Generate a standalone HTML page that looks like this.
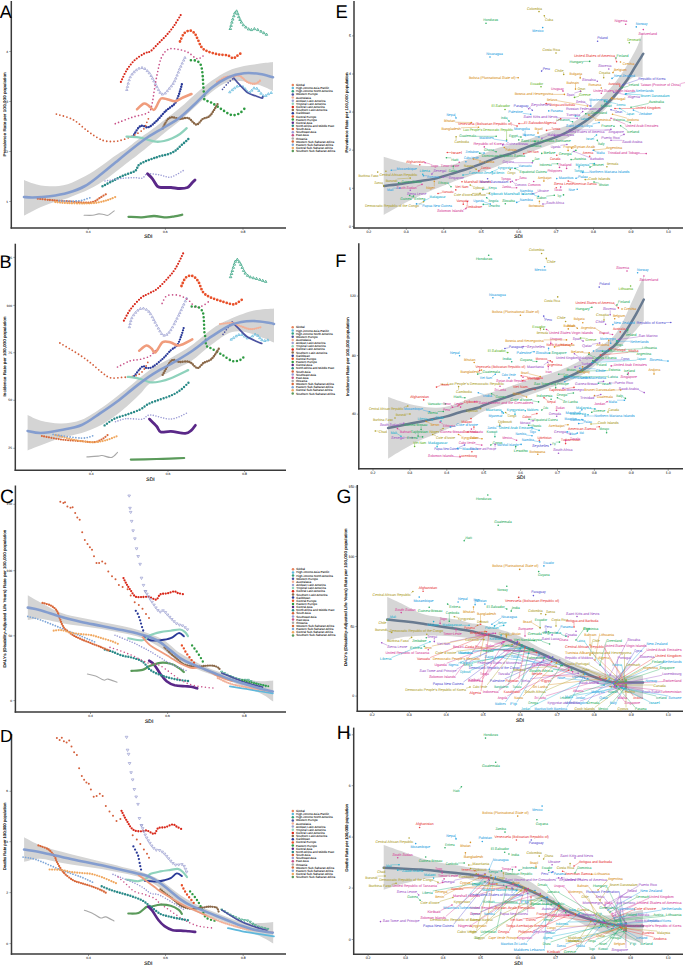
<!DOCTYPE html><html><head><meta charset="utf-8"><style>html,body{margin:0;padding:0;background:#fff;width:685px;height:966px;overflow:hidden}svg{display:block}text{font-family:"Liberation Sans",sans-serif;text-rendering:geometricPrecision}</style></head><body>
<svg width="685" height="966" viewBox="0 0 685 966">
<rect width="685" height="966" fill="#fff"/>
<path d="M24.0,180.0 C25.4,180.6 29.7,182.4 32.5,183.3 C35.3,184.2 38.1,185.1 41.0,185.6 C43.9,186.1 47.0,186.2 50.0,186.3 C53.0,186.4 56.1,186.3 59.0,186.0 C61.9,185.7 64.8,185.1 67.6,184.2 C70.4,183.3 73.1,182.0 76.0,180.7 C78.9,179.4 82.0,177.9 85.0,176.3 C88.0,174.7 91.1,172.9 94.0,171.0 C96.9,169.1 99.8,167.0 102.6,165.0 C105.4,163.0 108.1,160.9 111.0,158.8 C113.9,156.7 117.3,154.4 120.0,152.6 C122.7,150.8 123.7,150.6 127.0,148.2 C130.3,145.8 136.2,140.9 140.0,138.0 C143.8,135.1 146.7,133.4 150.0,131.0 C153.3,128.6 155.0,127.4 160.0,123.5 C165.0,119.6 174.0,112.8 180.0,107.8 C186.0,102.8 190.7,98.0 196.0,93.4 C201.3,88.9 206.7,84.2 212.0,80.5 C217.3,76.8 222.7,73.3 228.0,70.9 C233.3,68.5 238.7,67.2 244.0,66.0 C249.3,64.8 255.2,64.3 260.0,63.6 C264.8,62.9 270.8,62.3 273.0,62.0 L273.0,91.0 C270.8,90.0 264.8,86.9 260.0,85.3 C255.2,83.7 249.3,81.8 244.0,81.3 C238.7,80.8 233.3,80.2 228.0,82.0 C222.7,83.8 217.3,87.8 212.0,91.8 C206.7,95.8 201.3,101.2 196.0,106.0 C190.7,110.8 185.2,116.3 180.0,120.7 C174.8,125.1 170.0,128.4 165.0,132.5 C160.0,136.6 155.0,140.9 150.0,145.0 C145.0,149.1 138.5,154.3 135.0,157.0 C131.5,159.7 131.5,159.5 129.0,161.4 C126.5,163.3 123.0,166.1 120.0,168.4 C117.0,170.7 113.9,173.2 111.0,175.4 C108.1,177.6 105.4,179.6 102.6,181.5 C99.8,183.4 96.9,185.2 94.0,186.8 C91.1,188.4 88.0,189.9 85.0,191.2 C82.0,192.5 78.9,193.5 76.0,194.7 C73.1,195.9 70.4,197.2 67.6,198.2 C64.8,199.2 61.9,199.9 59.0,200.8 C56.1,201.7 53.0,202.4 50.0,203.4 C47.0,204.4 43.9,205.7 41.0,207.0 C38.1,208.3 35.3,209.9 32.5,211.3 C29.7,212.8 25.4,215.0 24.0,215.7 Z" fill="#d4d4d4" stroke="none"/>
<path d="M120.9,81.9 C121.9,79.9 124.5,73.6 126.8,70.0 C129.1,66.4 131.7,63.0 134.7,60.2 C137.7,57.4 142.0,54.8 144.6,53.3 C147.2,51.8 148.2,52.9 150.5,51.3 C152.8,49.6 155.8,46.0 158.4,43.4 C161.0,40.8 163.6,38.5 166.2,35.5 C168.8,32.5 171.5,29.5 174.1,25.7 C176.7,21.9 180.7,15.0 182.0,12.9" fill="none" stroke="#D8281A" stroke-width="2.16" stroke-linecap="round" stroke-dasharray="0 2.86" opacity="1.00"/>
<path d="M180.0,41.5 C180.7,40.2 182.3,35.4 184.0,33.6 C185.7,31.8 188.1,30.6 189.9,30.6 C191.7,30.6 193.5,32.1 194.8,33.6 C196.1,35.1 196.7,37.2 197.8,39.5 C199.0,41.8 200.1,45.4 201.7,47.4 C203.3,49.4 205.0,50.1 207.6,51.3 C210.2,52.4 214.2,53.6 217.5,54.3 C220.8,55.0 224.7,54.6 227.3,55.3 C229.9,55.9 231.5,58.1 233.2,58.2 C234.8,58.3 235.7,56.8 237.2,55.8 C238.7,54.8 241.3,52.9 242.1,52.3" fill="none" stroke="#E8502A" stroke-width="2.76" stroke-linecap="round" stroke-dasharray="0 3.30" opacity="1.00"/>
<path d="M126.8,88.5 L128.0,90.5 L125.6,90.5 Z" fill="none" stroke="#9DA1D2" stroke-width="0.75"/>
<path d="M127.5,85.4 L128.7,87.4 L126.3,87.4 Z" fill="none" stroke="#9DA1D2" stroke-width="0.75"/>
<path d="M128.2,82.2 L129.4,84.2 L127.0,84.2 Z" fill="none" stroke="#9DA1D2" stroke-width="0.75"/>
<path d="M129.1,78.8 L130.3,80.8 L127.9,80.8 Z" fill="none" stroke="#9DA1D2" stroke-width="0.75"/>
<path d="M130.3,75.8 L131.4,77.8 L129.1,77.8 Z" fill="none" stroke="#9DA1D2" stroke-width="0.75"/>
<path d="M132.1,73.0 L133.3,75.0 L130.9,75.0 Z" fill="none" stroke="#9DA1D2" stroke-width="0.75"/>
<path d="M134.1,70.7 L135.3,72.8 L132.9,72.8 Z" fill="none" stroke="#9DA1D2" stroke-width="0.75"/>
<path d="M136.4,68.8 L137.5,70.8 L135.2,70.8 Z" fill="none" stroke="#9DA1D2" stroke-width="0.75"/>
<path d="M139.0,67.1 L140.2,69.1 L137.8,69.1 Z" fill="none" stroke="#9DA1D2" stroke-width="0.75"/>
<path d="M142.0,66.4 L143.2,68.5 L140.9,68.5 Z" fill="none" stroke="#9DA1D2" stroke-width="0.75"/>
<path d="M144.8,67.5 L146.0,69.5 L143.6,69.5 Z" fill="none" stroke="#9DA1D2" stroke-width="0.75"/>
<path d="M147.3,69.6 L148.5,71.6 L146.1,71.6 Z" fill="none" stroke="#9DA1D2" stroke-width="0.75"/>
<path d="M149.3,71.8 L150.5,73.8 L148.1,73.8 Z" fill="none" stroke="#9DA1D2" stroke-width="0.75"/>
<path d="M151.1,74.5 L152.3,76.5 L149.9,76.5 Z" fill="none" stroke="#9DA1D2" stroke-width="0.75"/>
<path d="M152.5,77.1 L153.7,79.2 L151.3,79.2 Z" fill="none" stroke="#9DA1D2" stroke-width="0.75"/>
<path d="M153.9,79.8 L155.1,81.9 L152.7,81.9 Z" fill="none" stroke="#9DA1D2" stroke-width="0.75"/>
<path d="M155.4,82.6 L156.6,84.6 L154.2,84.6 Z" fill="none" stroke="#9DA1D2" stroke-width="0.75"/>
<path d="M157.0,85.6 L158.1,87.7 L155.8,87.7 Z" fill="none" stroke="#9DA1D2" stroke-width="0.75"/>
<path d="M158.5,88.6 L159.7,90.6 L157.3,90.6 Z" fill="none" stroke="#9DA1D2" stroke-width="0.75"/>
<path d="M160.1,91.2 L161.3,93.3 L158.9,93.3 Z" fill="none" stroke="#9DA1D2" stroke-width="0.75"/>
<path d="M162.4,92.9 L163.6,95.0 L161.2,95.0 Z" fill="none" stroke="#9DA1D2" stroke-width="0.75"/>
<path d="M165.2,92.0 L166.4,94.0 L164.0,94.0 Z" fill="none" stroke="#9DA1D2" stroke-width="0.75"/>
<path d="M167.3,89.7 L168.4,91.7 L166.1,91.7 Z" fill="none" stroke="#9DA1D2" stroke-width="0.75"/>
<path d="M169.3,87.2 L170.5,89.3 L168.1,89.3 Z" fill="none" stroke="#9DA1D2" stroke-width="0.75"/>
<path d="M171.3,84.9 L172.5,86.9 L170.1,86.9 Z" fill="none" stroke="#9DA1D2" stroke-width="0.75"/>
<path d="M173.1,82.4 L174.3,84.4 L171.9,84.4 Z" fill="none" stroke="#9DA1D2" stroke-width="0.75"/>
<path d="M174.6,79.8 L175.8,81.8 L173.4,81.8 Z" fill="none" stroke="#9DA1D2" stroke-width="0.75"/>
<path d="M175.8,77.1 L177.0,79.1 L174.6,79.1 Z" fill="none" stroke="#9DA1D2" stroke-width="0.75"/>
<path d="M177.0,74.1 L178.2,76.1 L175.9,76.1 Z" fill="none" stroke="#9DA1D2" stroke-width="0.75"/>
<path d="M178.3,71.0 L179.5,73.1 L177.1,73.1 Z" fill="none" stroke="#9DA1D2" stroke-width="0.75"/>
<path d="M179.5,68.0 L180.7,70.1 L178.3,70.1 Z" fill="none" stroke="#9DA1D2" stroke-width="0.75"/>
<path d="M180.8,65.2 L182.0,67.2 L179.6,67.2 Z" fill="none" stroke="#9DA1D2" stroke-width="0.75"/>
<path d="M182.2,62.1 L183.4,64.1 L181.0,64.1 Z" fill="none" stroke="#9DA1D2" stroke-width="0.75"/>
<path d="M183.6,59.1 L184.8,61.1 L182.5,61.1 Z" fill="none" stroke="#9DA1D2" stroke-width="0.75"/>
<path d="M184.9,56.4 L186.1,58.4 L183.7,58.4 Z" fill="none" stroke="#9DA1D2" stroke-width="0.75"/>
<path d="M115.3,123.7 C118.1,122.6 126.5,119.2 132.0,117.3 C137.5,115.4 144.9,114.7 148.2,112.5 C151.5,110.3 151.0,107.8 152.0,104.0 C153.0,100.2 153.5,94.9 154.4,89.7 C155.3,84.5 156.2,78.3 157.4,73.0 C158.6,67.7 159.5,61.8 161.3,57.8 C163.1,53.8 165.4,50.7 168.2,49.3 C171.0,47.9 174.8,48.8 178.1,49.3 C181.4,49.8 184.9,50.8 187.9,52.3 C190.9,53.8 193.7,57.3 195.8,58.2 C197.9,59.1 199.2,58.4 200.7,57.8 C202.2,57.1 204.0,54.9 204.7,54.3" fill="none" stroke="#C85088" stroke-width="1.68" stroke-linecap="round" stroke-dasharray="0 3.52" opacity="1.00"/>
<path d="M190.9,60.2 C191.7,60.3 194.3,60.1 195.8,60.6 C197.3,61.1 198.7,61.9 199.7,63.1 C200.7,64.3 201.2,65.9 201.7,68.1 C202.2,70.2 202.4,73.0 202.7,76.0 C203.0,79.0 203.0,82.3 203.3,85.8 C203.6,89.3 204.0,94.6 204.3,97.0 C204.6,99.4 203.7,99.0 205.0,100.0 C206.3,101.0 209.2,101.4 212.0,103.0 C214.8,104.6 218.6,107.4 221.8,109.4 C225.0,111.4 228.5,114.3 231.4,115.0 C234.3,115.7 237.1,114.6 239.4,113.4 C241.7,112.2 244.1,109.0 245.0,108.1" fill="none" stroke="#2E9A42" stroke-width="2.64" stroke-linecap="round" stroke-dasharray="0 3.85" opacity="1.00"/>
<path d="M230.3,27.3 L231.6,29.5 L229.0,29.5 Z" fill="none" stroke="#30A07E" stroke-width="0.75"/>
<path d="M231.1,24.3 L232.3,26.4 L229.8,26.4 Z" fill="none" stroke="#30A07E" stroke-width="0.75"/>
<path d="M231.9,21.0 L233.1,23.2 L230.6,23.2 Z" fill="none" stroke="#30A07E" stroke-width="0.75"/>
<path d="M232.8,17.9 L234.0,20.1 L231.5,20.1 Z" fill="none" stroke="#30A07E" stroke-width="0.75"/>
<path d="M233.8,14.7 L235.1,16.8 L232.6,16.8 Z" fill="none" stroke="#30A07E" stroke-width="0.75"/>
<path d="M234.8,11.8 L236.1,13.9 L233.6,13.9 Z" fill="none" stroke="#30A07E" stroke-width="0.75"/>
<path d="M236.6,9.8 L237.8,11.9 L235.3,11.9 Z" fill="none" stroke="#30A07E" stroke-width="0.75"/>
<path d="M237.8,12.5 L239.0,14.7 L236.5,14.7 Z" fill="none" stroke="#30A07E" stroke-width="0.75"/>
<path d="M238.8,15.6 L240.0,17.7 L237.5,17.7 Z" fill="none" stroke="#30A07E" stroke-width="0.75"/>
<path d="M240.0,18.3 L241.3,20.5 L238.8,20.5 Z" fill="none" stroke="#30A07E" stroke-width="0.75"/>
<path d="M241.4,21.0 L242.6,23.1 L240.1,23.1 Z" fill="none" stroke="#30A07E" stroke-width="0.75"/>
<path d="M243.3,23.7 L244.6,25.8 L242.1,25.8 Z" fill="none" stroke="#30A07E" stroke-width="0.75"/>
<path d="M245.8,25.9 L247.1,28.0 L244.6,28.0 Z" fill="none" stroke="#30A07E" stroke-width="0.75"/>
<path d="M248.6,27.7 L249.8,29.9 L247.3,29.9 Z" fill="none" stroke="#30A07E" stroke-width="0.75"/>
<path d="M251.4,28.4 L252.7,30.6 L250.2,30.6 Z" fill="none" stroke="#30A07E" stroke-width="0.75"/>
<path d="M254.4,27.5 L255.7,29.7 L253.2,29.7 Z" fill="none" stroke="#30A07E" stroke-width="0.75"/>
<path d="M257.7,28.4 L259.0,30.6 L256.5,30.6 Z" fill="none" stroke="#30A07E" stroke-width="0.75"/>
<path d="M260.9,30.0 L262.2,32.2 L259.7,32.2 Z" fill="none" stroke="#30A07E" stroke-width="0.75"/>
<path d="M263.7,31.6 L265.0,33.7 L262.5,33.7 Z" fill="none" stroke="#30A07E" stroke-width="0.75"/>
<path d="M266.5,33.1 L267.7,35.3 L265.2,35.3 Z" fill="none" stroke="#30A07E" stroke-width="0.75"/>
<path d="M132.9,136.6 C133.8,135.1 136.9,129.5 138.5,127.7 C140.1,125.9 141.0,125.8 142.6,125.7 C144.2,125.6 145.9,128.0 148.2,127.3 C150.5,126.6 153.3,124.0 156.2,121.3 C159.1,118.6 162.7,113.8 165.8,110.9 C168.9,108.0 172.7,106.0 174.7,103.7 C176.7,101.4 177.0,99.5 177.9,97.2 C178.8,94.9 179.6,92.2 180.3,90.0 C181.0,87.8 181.7,84.8 182.0,83.8" fill="none" stroke="#2A3A98" stroke-width="2.40" stroke-linecap="round" stroke-dasharray="0 2.42" opacity="1.00"/>
<path d="M137.0,109.3 C138.1,108.4 141.5,104.4 143.4,103.7 C145.3,103.0 146.5,104.2 148.2,105.3 C149.9,106.3 152.3,110.0 153.8,110.0 C155.3,110.0 155.8,107.2 157.0,105.3 C158.2,103.4 159.2,99.5 161.0,98.5 C162.8,97.5 165.6,99.0 168.0,99.5 C170.4,100.0 173.0,101.5 175.5,101.2 C178.0,100.9 180.3,98.7 183.0,97.5 C185.7,96.3 190.1,94.6 191.5,94.0" fill="none" stroke="#F09C7C" stroke-width="2.52" stroke-linecap="round" stroke-linejoin="round" opacity="1.00"/>
<path d="M56.4,114.1 C59.2,115.0 67.8,116.8 73.0,119.6 C78.2,122.4 83.2,127.8 87.4,130.9 C91.6,134.0 94.9,136.3 98.0,138.0 C101.1,139.7 102.5,140.6 105.8,141.1 C109.1,141.6 113.6,141.8 118.0,141.0 C122.4,140.2 128.2,137.9 132.4,136.0 C136.6,134.1 141.0,131.5 143.4,129.3 C145.8,127.1 145.7,124.9 146.6,122.9 C147.5,120.9 148.6,118.2 149.0,117.3" fill="none" stroke="#D4603C" stroke-width="1.80" stroke-linecap="round" stroke-dasharray="0 3.63" opacity="1.00"/>
<path d="M126.5,136.6 C128.5,136.7 134.9,136.9 138.5,137.4 C142.1,137.9 145.2,139.1 148.2,139.8 C151.1,140.5 153.6,141.5 156.2,141.7 C158.8,141.9 161.3,141.6 164.0,141.0 C166.7,140.4 169.6,139.4 172.3,138.2 C175.0,137.0 177.6,135.7 180.0,134.0 C182.4,132.3 185.6,129.2 186.7,128.2" fill="none" stroke="#8ED2BC" stroke-width="2.28" stroke-linecap="round" stroke-linejoin="round" opacity="1.00"/>
<path d="M162.6,128.5 C163.4,127.0 165.8,121.6 167.4,119.7 C169.0,117.8 170.2,117.4 172.3,117.3 C174.5,117.2 177.6,118.8 180.3,118.9 C183.0,119.0 185.6,117.2 188.3,118.1 C191.0,119.0 194.0,124.4 196.4,124.5 C198.8,124.6 200.5,120.4 202.8,118.9 C205.1,117.4 207.5,118.2 210.0,115.7 C212.5,113.2 216.4,105.8 217.7,103.8" fill="none" stroke="#8A6848" stroke-width="2.40" stroke-linecap="round" stroke-dasharray="0 2.20" opacity="1.00"/>
<path d="M102.5,186.3 C104.3,185.4 109.6,182.5 113.1,180.7 C116.6,178.9 119.9,177.0 123.6,175.4 C127.2,173.8 132.2,172.9 135.0,171.0 C137.8,169.1 136.6,166.2 140.1,163.9 C143.6,161.6 150.8,159.3 156.2,157.4 C161.6,155.5 168.3,154.5 172.3,152.6 C176.3,150.7 177.6,148.5 180.3,146.2 C183.0,143.9 187.0,140.2 188.3,139.0" fill="none" stroke="#2A8A88" stroke-width="2.52" stroke-linecap="round" stroke-dasharray="0 2.86" opacity="1.00"/>
<path d="M105.0,181.0 C107.2,180.7 114.7,179.4 118.4,178.9 C122.1,178.4 124.3,178.2 127.1,178.0 C129.9,177.8 132.4,177.7 135.0,177.7 C137.6,177.7 140.4,178.7 142.5,178.0 C144.6,177.3 144.6,174.3 147.5,173.8 C150.4,173.3 156.1,174.5 160.0,175.0 C163.9,175.5 166.8,177.9 171.0,177.0 C175.2,176.1 182.7,170.8 185.0,169.5" fill="none" stroke="#9898D4" stroke-width="1.56" stroke-linecap="round" stroke-dasharray="0 2.64" opacity="1.00"/>
<path d="M147.5,173.8 C148.3,174.6 150.8,176.7 152.5,178.8 C154.2,180.9 155.8,184.9 157.5,186.3 C159.2,187.8 160.2,187.3 162.5,187.5 C164.8,187.7 168.1,187.3 171.0,187.5 C173.9,187.7 177.2,188.5 180.0,188.5 C182.8,188.5 185.5,188.4 187.5,187.5 C189.5,186.6 190.8,184.2 192.0,183.0 C193.2,181.8 194.5,180.5 195.0,180.0" fill="none" stroke="#5A2888" stroke-width="2.88" stroke-linecap="round" stroke-linejoin="round" opacity="1.00"/>
<path d="M84.1,215.3 C85.5,215.3 90.2,215.5 92.7,215.3 C95.2,215.1 96.9,214.0 98.8,213.9 C100.7,213.8 102.5,214.3 104.0,214.5 C105.5,214.7 106.3,215.9 108.0,215.3 C109.7,214.7 113.2,211.6 114.2,210.8" fill="none" stroke="#A8A8A8" stroke-width="1.08" stroke-linecap="round" stroke-linejoin="round" opacity="1.00"/>
<path d="M128.5,216.8 C130.7,216.9 137.4,217.5 141.7,217.4 C145.9,217.3 149.9,216.0 154.0,216.0 C158.1,216.0 162.9,217.3 166.3,217.4 C169.7,217.5 171.8,216.8 174.4,216.3 C177.1,215.9 180.9,215.0 182.2,214.7" fill="none" stroke="#5A9A5A" stroke-width="2.28" stroke-linecap="round" stroke-linejoin="round" opacity="1.00"/>
<path d="M37.8,198.7 C39.8,198.9 46.5,199.7 50.0,200.0 C53.5,200.3 55.9,200.6 58.8,200.8 C61.7,201.0 64.7,201.1 67.6,201.3 C70.5,201.5 73.4,201.8 76.3,202.0 C79.2,202.2 82.7,202.5 85.0,202.6 C87.3,202.7 88.5,202.9 90.3,202.6 C92.1,202.3 93.8,201.7 95.6,200.8 C97.3,199.9 99.0,198.4 100.8,197.3 C102.5,196.2 105.2,194.6 106.1,194.1" fill="none" stroke="#D8683A" stroke-width="2.28" stroke-linecap="round" stroke-dasharray="0 2.42" opacity="1.00"/>
<path d="M55.3,202.0 C57.3,202.2 62.6,202.9 67.6,203.1 C72.5,203.3 80.0,203.5 85.0,203.4 C90.0,203.3 93.5,203.2 97.3,202.6 C101.1,202.0 104.7,201.0 107.9,200.0 C111.1,199.0 115.1,197.0 116.6,196.4" fill="none" stroke="#F0A860" stroke-width="2.28" stroke-linecap="round" stroke-dasharray="0 2.42" opacity="1.00"/>
<path d="M58.8,200.8 C61.1,200.9 69.0,201.2 72.8,201.2 C76.6,201.1 79.3,200.9 81.6,200.5 C83.9,200.1 85.0,199.2 86.8,198.7 C88.5,198.2 91.2,197.5 92.1,197.3" fill="none" stroke="#7EA6D8" stroke-width="1.92" stroke-linecap="round" stroke-dasharray="0 2.86" opacity="1.00"/>
<path d="M229.8,90.8 L231.0,92.8 L228.6,92.8 Z" fill="none" stroke="#5EB8DC" stroke-width="0.75"/>
<path d="M232.3,88.7 L233.5,90.7 L231.1,90.7 Z" fill="none" stroke="#5EB8DC" stroke-width="0.75"/>
<path d="M234.6,86.8 L235.8,88.8 L233.4,88.8 Z" fill="none" stroke="#5EB8DC" stroke-width="0.75"/>
<path d="M237.2,85.1 L238.4,87.1 L236.0,87.1 Z" fill="none" stroke="#5EB8DC" stroke-width="0.75"/>
<path d="M240.1,84.5 L241.3,86.5 L238.9,86.5 Z" fill="none" stroke="#5EB8DC" stroke-width="0.75"/>
<path d="M242.9,85.5 L244.1,87.6 L241.8,87.6 Z" fill="none" stroke="#5EB8DC" stroke-width="0.75"/>
<path d="M245.2,87.7 L246.4,89.7 L244.0,89.7 Z" fill="none" stroke="#5EB8DC" stroke-width="0.75"/>
<path d="M247.1,90.1 L248.3,92.1 L245.9,92.1 Z" fill="none" stroke="#5EB8DC" stroke-width="0.75"/>
<path d="M249.8,91.1 L250.9,93.1 L248.6,93.1 Z" fill="none" stroke="#5EB8DC" stroke-width="0.75"/>
<path d="M251.8,89.1 L253.0,91.1 L250.6,91.1 Z" fill="none" stroke="#5EB8DC" stroke-width="0.75"/>
<path d="M254.0,86.8 L255.2,88.9 L252.8,88.9 Z" fill="none" stroke="#5EB8DC" stroke-width="0.75"/>
<path d="M256.8,87.2 L258.0,89.3 L255.6,89.3 Z" fill="none" stroke="#5EB8DC" stroke-width="0.75"/>
<path d="M258.9,89.5 L260.1,91.5 L257.7,91.5 Z" fill="none" stroke="#5EB8DC" stroke-width="0.75"/>
<path d="M261.0,92.2 L262.2,94.2 L259.8,94.2 Z" fill="none" stroke="#5EB8DC" stroke-width="0.75"/>
<path d="M263.2,94.5 L264.4,96.5 L262.0,96.5 Z" fill="none" stroke="#5EB8DC" stroke-width="0.75"/>
<path d="M265.9,94.3 L267.1,96.4 L264.7,96.4 Z" fill="none" stroke="#5EB8DC" stroke-width="0.75"/>
<path d="M268.4,92.6 L269.6,94.7 L267.2,94.7 Z" fill="none" stroke="#5EB8DC" stroke-width="0.75"/>
<path d="M271.2,91.5 L272.4,93.5 L270.1,93.5 Z" fill="none" stroke="#5EB8DC" stroke-width="0.75"/>
<path d="M222.5,89.3 C223.4,88.2 226.1,84.9 228.0,83.0 C229.9,81.1 232.8,78.8 233.8,78.0" fill="none" stroke="#4A52A0" stroke-width="1.68" stroke-linecap="round" stroke-dasharray="0 2.86" opacity="1.00"/>
<path d="M233.8,78.0 C234.7,79.1 237.1,82.1 239.4,84.5 C241.7,86.9 244.7,90.7 247.4,92.6 C250.1,94.5 253.1,94.9 255.5,95.8 C257.9,96.7 260.8,98.1 262.0,98.2 C263.2,98.3 262.6,96.9 262.7,96.6" fill="none" stroke="#4A52A0" stroke-width="1.68" stroke-linecap="round" stroke-linejoin="round" opacity="1.00"/>
<path d="M217.0,82.0 C218.3,81.2 222.5,78.2 225.0,77.3 C227.5,76.4 229.6,76.8 232.0,76.5 C234.4,76.2 236.8,74.8 239.4,75.7 C242.0,76.6 244.7,80.7 247.4,82.0 C250.1,83.3 253.2,84.1 255.5,83.7 C257.8,83.3 260.1,80.4 261.0,79.7" fill="none" stroke="#F2B098" stroke-width="2.40" stroke-linecap="round" stroke-dasharray="0 1.98" opacity="1.00"/>
<path d="M24.0,197.0 C25.5,197.1 28.7,197.6 33.0,197.5 C37.3,197.4 44.2,197.1 50.0,196.3 C55.8,195.5 62.2,194.5 68.0,192.8 C73.8,191.1 79.3,189.2 85.0,186.0 C90.7,182.8 96.8,177.5 102.0,173.5 C107.2,169.5 111.0,166.1 116.0,162.0 C121.0,157.9 126.7,153.2 132.0,149.0 C137.3,144.8 142.7,140.6 148.0,137.0 C153.3,133.4 158.7,130.8 164.0,127.5 C169.3,124.2 174.7,121.6 180.0,117.5 C185.3,113.4 190.7,108.0 196.0,103.0 C201.3,98.0 206.7,91.8 212.0,87.5 C217.3,83.2 222.7,79.9 228.0,77.5 C233.3,75.1 238.7,73.9 244.0,73.3 C249.3,72.7 255.2,73.3 260.0,74.0 C264.8,74.7 270.8,76.8 273.0,77.3" fill="none" stroke="#7F9ACF" stroke-width="2.6" stroke-linecap="round" opacity="0.95"/>
<line x1="11.3" y1="1.0" x2="11.3" y2="228.6" stroke="#3a3a3a" stroke-width="1.50"/>
<line x1="10.6" y1="227.9" x2="286.0" y2="227.9" stroke="#3a3a3a" stroke-width="1.50"/>
<line x1="9.3" y1="51.5" x2="11.3" y2="51.5" stroke="#444" stroke-width="0.50"/>
<text x="8.0" y="52.6" font-size="3.30" fill="#444" text-anchor="end" font-weight="normal" stroke="#444" stroke-width="0.1">4</text>
<line x1="9.3" y1="101.5" x2="11.3" y2="101.5" stroke="#444" stroke-width="0.50"/>
<text x="8.0" y="102.7" font-size="3.30" fill="#444" text-anchor="end" font-weight="normal" stroke="#444" stroke-width="0.1">3</text>
<line x1="9.3" y1="151.5" x2="11.3" y2="151.5" stroke="#444" stroke-width="0.50"/>
<text x="8.0" y="152.7" font-size="3.30" fill="#444" text-anchor="end" font-weight="normal" stroke="#444" stroke-width="0.1">2</text>
<line x1="9.3" y1="201.5" x2="11.3" y2="201.5" stroke="#444" stroke-width="0.50"/>
<text x="8.0" y="202.7" font-size="3.30" fill="#444" text-anchor="end" font-weight="normal" stroke="#444" stroke-width="0.1">1</text>
<line x1="88.2" y1="227.9" x2="88.2" y2="229.9" stroke="#444" stroke-width="0.50"/>
<text x="88.2" y="233.0" font-size="3.30" fill="#444" text-anchor="middle" font-weight="normal" stroke="#444" stroke-width="0.1">0.4</text>
<line x1="165.4" y1="227.9" x2="165.4" y2="229.9" stroke="#444" stroke-width="0.50"/>
<text x="165.4" y="233.0" font-size="3.30" fill="#444" text-anchor="middle" font-weight="normal" stroke="#444" stroke-width="0.1">0.6</text>
<line x1="243.0" y1="227.9" x2="243.0" y2="229.9" stroke="#444" stroke-width="0.50"/>
<text x="243.0" y="233.0" font-size="3.30" fill="#444" text-anchor="middle" font-weight="normal" stroke="#444" stroke-width="0.1">0.8</text>
<text x="148.3" y="238.4" font-size="5.00" fill="#222" text-anchor="middle" font-weight="normal" stroke="#222" stroke-width="0.15">SDI</text>
<text x="5.7" y="114.4" font-size="3.9" fill="#1a1a1a" stroke="#1a1a1a" stroke-width="0.15" text-anchor="middle" transform="rotate(-90 5.7 114.4)" textLength="84.0" lengthAdjust="spacingAndGlyphs">Prevalence Rate per 100,000 population</text>
<text x="-0.3" y="17.5" font-size="18.00" fill="#000" text-anchor="start" font-weight="normal">A</text>
<circle cx="292.8" cy="84.9" r="1.25" fill="#E8845E"/>
<text x="296.1" y="86.0" font-size="3.0" fill="#222" stroke="#222" stroke-width="0.07">Global</text>
<circle cx="292.8" cy="88.1" r="1.25" fill="#5EB8DC"/>
<text x="296.1" y="89.1" font-size="3.0" fill="#222" stroke="#222" stroke-width="0.07">High-income Asia Pacific</text>
<circle cx="292.8" cy="91.2" r="1.25" fill="#30A07E"/>
<text x="296.1" y="92.2" font-size="3.0" fill="#222" stroke="#222" stroke-width="0.07">High-income North America</text>
<circle cx="292.8" cy="94.4" r="1.25" fill="#4A52A0"/>
<text x="296.1" y="95.4" font-size="3.0" fill="#222" stroke="#222" stroke-width="0.07">Western Europe</text>
<circle cx="292.8" cy="97.5" r="1.25" fill="#F2B098"/>
<text x="296.1" y="98.5" font-size="3.0" fill="#222" stroke="#222" stroke-width="0.07">Australasia</text>
<circle cx="292.8" cy="100.7" r="1.25" fill="#9DA1D2"/>
<text x="296.1" y="101.7" font-size="3.0" fill="#222" stroke="#222" stroke-width="0.07">Andean Latin America</text>
<circle cx="292.8" cy="103.8" r="1.25" fill="#8ED2BC"/>
<text x="296.1" y="104.9" font-size="3.0" fill="#222" stroke="#222" stroke-width="0.07">Tropical Latin America</text>
<circle cx="292.8" cy="107.0" r="1.25" fill="#D8281A"/>
<text x="296.1" y="108.0" font-size="3.0" fill="#222" stroke="#222" stroke-width="0.07">Central Latin America</text>
<circle cx="292.8" cy="110.1" r="1.25" fill="#8A6848"/>
<text x="296.1" y="111.2" font-size="3.0" fill="#222" stroke="#222" stroke-width="0.07">Southern Latin America</text>
<circle cx="292.8" cy="113.2" r="1.25" fill="#2A3A98"/>
<text x="296.1" y="114.3" font-size="3.0" fill="#222" stroke="#222" stroke-width="0.07">Caribbean</text>
<circle cx="292.8" cy="116.4" r="1.25" fill="#E8502A"/>
<text x="296.1" y="117.5" font-size="3.0" fill="#222" stroke="#222" stroke-width="0.07">Central Europe</text>
<circle cx="292.8" cy="119.6" r="1.25" fill="#2E9A42"/>
<text x="296.1" y="120.6" font-size="3.0" fill="#222" stroke="#222" stroke-width="0.07">Eastern Europe</text>
<circle cx="292.8" cy="122.7" r="1.25" fill="#5A2888"/>
<text x="296.1" y="123.8" font-size="3.0" fill="#222" stroke="#222" stroke-width="0.07">Central Asia</text>
<circle cx="292.8" cy="125.8" r="1.25" fill="#2A8A88"/>
<text x="296.1" y="126.9" font-size="3.0" fill="#222" stroke="#222" stroke-width="0.07">North Africa and Middle East</text>
<circle cx="292.8" cy="129.0" r="1.25" fill="#D4603C"/>
<text x="296.1" y="130.1" font-size="3.0" fill="#222" stroke="#222" stroke-width="0.07">South Asia</text>
<circle cx="292.8" cy="132.2" r="1.25" fill="#9898D4"/>
<text x="296.1" y="133.2" font-size="3.0" fill="#222" stroke="#222" stroke-width="0.07">Southeast Asia</text>
<circle cx="292.8" cy="135.3" r="1.25" fill="#C85088"/>
<text x="296.1" y="136.4" font-size="3.0" fill="#222" stroke="#222" stroke-width="0.07">East Asia</text>
<circle cx="292.8" cy="138.4" r="1.25" fill="#A8A8A8"/>
<text x="296.1" y="139.5" font-size="3.0" fill="#222" stroke="#222" stroke-width="0.07">Oceania</text>
<circle cx="292.8" cy="141.6" r="1.25" fill="#D8683A"/>
<text x="296.1" y="142.7" font-size="3.0" fill="#222" stroke="#222" stroke-width="0.07">Western Sub-Saharan Africa</text>
<circle cx="292.8" cy="144.8" r="1.25" fill="#7EA6D8"/>
<text x="296.1" y="145.8" font-size="3.0" fill="#222" stroke="#222" stroke-width="0.07">Eastern Sub-Saharan Africa</text>
<circle cx="292.8" cy="147.9" r="1.25" fill="#F0A860"/>
<text x="296.1" y="149.0" font-size="3.0" fill="#222" stroke="#222" stroke-width="0.07">Central Sub-Saharan Africa</text>
<circle cx="292.8" cy="151.1" r="1.25" fill="#5A9A5A"/>
<text x="296.1" y="152.1" font-size="3.0" fill="#222" stroke="#222" stroke-width="0.07">Southern Sub-Saharan Africa</text>
<path d="M27.6,415.0 C29.8,415.9 35.3,419.3 40.9,420.7 C46.5,422.1 54.5,423.6 61.3,423.4 C68.1,423.2 74.9,422.4 81.7,419.7 C88.5,417.0 96.2,411.3 102.2,407.4 C108.2,403.4 112.9,399.6 117.5,396.0 C122.1,392.4 124.5,390.4 130.0,386.0 C135.5,381.6 143.6,374.2 150.4,369.5 C157.2,364.8 164.1,362.0 170.9,358.0 C177.7,354.0 184.5,350.3 191.3,345.5 C198.1,340.7 205.6,333.4 211.7,329.2 C217.8,324.9 221.3,323.0 228.0,320.0 C234.7,317.0 244.3,312.9 252.0,311.0 C259.7,309.1 270.3,308.9 274.0,308.5 L274.0,342.5 C270.4,341.1 259.6,335.8 252.6,334.0 C245.6,332.2 239.0,330.2 232.2,332.0 C225.4,333.8 218.5,339.7 211.7,344.5 C204.9,349.3 198.1,356.5 191.3,360.9 C184.5,365.3 177.7,367.4 170.9,371.1 C164.1,374.8 155.6,379.2 150.4,383.0 C145.2,386.8 144.6,389.5 140.0,394.0 C135.4,398.5 128.9,404.9 122.6,410.0 C116.3,415.1 109.0,420.7 102.2,424.5 C95.4,428.3 88.5,430.8 81.7,433.0 C74.9,435.2 68.1,435.6 61.3,437.7 C54.5,439.8 46.5,443.2 40.9,445.3 C35.3,447.4 29.8,449.5 27.6,450.4 Z" fill="#d4d4d4" stroke="none"/>
<path d="M123.9,320.7 C125.0,318.8 127.6,313.2 130.4,309.5 C133.2,305.8 137.6,300.9 140.7,298.2 C143.8,295.5 146.1,295.0 148.8,293.5 C151.5,292.0 153.9,291.4 157.0,289.0 C160.1,286.6 164.1,282.2 167.2,278.8 C170.3,275.4 172.7,272.9 175.4,268.6 C178.1,264.4 181.9,255.9 183.2,253.3" fill="none" stroke="#D8281A" stroke-width="2.16" stroke-linecap="round" stroke-dasharray="0 2.86" opacity="1.00"/>
<path d="M181.5,286.0 C182.2,284.6 183.9,279.5 185.6,277.8 C187.3,276.1 189.6,275.3 191.7,275.8 C193.8,276.3 196.0,278.2 197.9,280.9 C199.8,283.6 201.0,289.4 203.0,292.1 C205.0,294.8 207.2,295.7 210.1,297.2 C213.0,298.7 216.7,299.7 220.4,300.9 C224.2,302.1 229.8,304.0 232.6,304.4 C235.4,304.8 235.5,303.8 237.0,303.0 C238.5,302.2 241.0,300.2 241.8,299.7" fill="none" stroke="#E8502A" stroke-width="2.76" stroke-linecap="round" stroke-dasharray="0 3.30" opacity="1.00"/>
<path d="M129.4,325.7 L130.6,327.7 L128.2,327.7 Z" fill="none" stroke="#9DA1D2" stroke-width="0.75"/>
<path d="M130.1,322.5 L131.3,324.5 L128.9,324.5 Z" fill="none" stroke="#9DA1D2" stroke-width="0.75"/>
<path d="M130.8,319.6 L132.0,321.6 L129.6,321.6 Z" fill="none" stroke="#9DA1D2" stroke-width="0.75"/>
<path d="M131.8,316.7 L133.0,318.7 L130.7,318.7 Z" fill="none" stroke="#9DA1D2" stroke-width="0.75"/>
<path d="M133.6,313.8 L134.8,315.8 L132.4,315.8 Z" fill="none" stroke="#9DA1D2" stroke-width="0.75"/>
<path d="M135.6,311.3 L136.8,313.3 L134.4,313.3 Z" fill="none" stroke="#9DA1D2" stroke-width="0.75"/>
<path d="M137.8,309.1 L139.0,311.1 L136.6,311.1 Z" fill="none" stroke="#9DA1D2" stroke-width="0.75"/>
<path d="M140.4,307.4 L141.5,309.5 L139.2,309.5 Z" fill="none" stroke="#9DA1D2" stroke-width="0.75"/>
<path d="M143.4,307.1 L144.6,309.1 L142.2,309.1 Z" fill="none" stroke="#9DA1D2" stroke-width="0.75"/>
<path d="M146.4,308.3 L147.6,310.3 L145.2,310.3 Z" fill="none" stroke="#9DA1D2" stroke-width="0.75"/>
<path d="M148.8,310.3 L150.0,312.3 L147.6,312.3 Z" fill="none" stroke="#9DA1D2" stroke-width="0.75"/>
<path d="M150.5,312.6 L151.7,314.7 L149.3,314.7 Z" fill="none" stroke="#9DA1D2" stroke-width="0.75"/>
<path d="M152.3,315.7 L153.5,317.7 L151.1,317.7 Z" fill="none" stroke="#9DA1D2" stroke-width="0.75"/>
<path d="M153.7,318.4 L154.9,320.5 L152.5,320.5 Z" fill="none" stroke="#9DA1D2" stroke-width="0.75"/>
<path d="M155.1,321.1 L156.3,323.2 L153.9,323.2 Z" fill="none" stroke="#9DA1D2" stroke-width="0.75"/>
<path d="M156.7,324.1 L157.9,326.1 L155.5,326.1 Z" fill="none" stroke="#9DA1D2" stroke-width="0.75"/>
<path d="M158.4,327.1 L159.6,329.1 L157.2,329.1 Z" fill="none" stroke="#9DA1D2" stroke-width="0.75"/>
<path d="M159.9,329.9 L161.1,331.9 L158.7,331.9 Z" fill="none" stroke="#9DA1D2" stroke-width="0.75"/>
<path d="M161.6,332.5 L162.8,334.5 L160.4,334.5 Z" fill="none" stroke="#9DA1D2" stroke-width="0.75"/>
<path d="M164.1,334.1 L165.3,336.2 L162.9,336.2 Z" fill="none" stroke="#9DA1D2" stroke-width="0.75"/>
<path d="M166.8,333.3 L168.0,335.3 L165.6,335.3 Z" fill="none" stroke="#9DA1D2" stroke-width="0.75"/>
<path d="M169.0,331.2 L170.2,333.2 L167.8,333.2 Z" fill="none" stroke="#9DA1D2" stroke-width="0.75"/>
<path d="M170.8,328.7 L172.0,330.7 L169.7,330.7 Z" fill="none" stroke="#9DA1D2" stroke-width="0.75"/>
<path d="M172.5,325.9 L173.7,327.9 L171.3,327.9 Z" fill="none" stroke="#9DA1D2" stroke-width="0.75"/>
<path d="M174.2,322.7 L175.4,324.8 L173.0,324.8 Z" fill="none" stroke="#9DA1D2" stroke-width="0.75"/>
<path d="M175.6,320.0 L176.8,322.0 L174.4,322.0 Z" fill="none" stroke="#9DA1D2" stroke-width="0.75"/>
<path d="M177.0,317.2 L178.2,319.2 L175.8,319.2 Z" fill="none" stroke="#9DA1D2" stroke-width="0.75"/>
<path d="M178.6,314.2 L179.8,316.2 L177.4,316.2 Z" fill="none" stroke="#9DA1D2" stroke-width="0.75"/>
<path d="M179.8,311.5 L181.0,313.6 L178.6,313.6 Z" fill="none" stroke="#9DA1D2" stroke-width="0.75"/>
<path d="M181.2,308.7 L182.4,310.7 L180.0,310.7 Z" fill="none" stroke="#9DA1D2" stroke-width="0.75"/>
<path d="M182.5,305.9 L183.7,307.9 L181.3,307.9 Z" fill="none" stroke="#9DA1D2" stroke-width="0.75"/>
<path d="M183.8,303.1 L185.0,305.1 L182.6,305.1 Z" fill="none" stroke="#9DA1D2" stroke-width="0.75"/>
<path d="M185.3,299.9 L186.5,301.9 L184.1,301.9 Z" fill="none" stroke="#9DA1D2" stroke-width="0.75"/>
<path d="M186.6,297.0 L187.8,299.0 L185.4,299.0 Z" fill="none" stroke="#9DA1D2" stroke-width="0.75"/>
<path d="M117.5,367.0 C119.6,366.0 126.2,362.2 130.0,360.9 C133.8,359.6 136.6,360.2 140.0,359.4 C143.4,358.5 147.6,357.6 150.4,355.8 C153.2,354.0 155.6,349.8 156.6,348.6" fill="none" stroke="#C85088" stroke-width="1.68" stroke-linecap="round" stroke-dasharray="0 3.52" opacity="1.00"/>
<path d="M162.1,303.4 C162.8,302.2 164.3,297.6 166.2,296.2 C168.1,294.8 170.8,294.8 173.4,294.8 C176.0,294.8 178.8,295.1 181.5,296.2 C184.2,297.3 187.3,299.4 189.7,301.3 C192.1,303.2 193.4,306.8 195.8,307.4 C198.2,308.0 201.6,306.2 204.0,305.0 C206.4,303.8 209.1,301.1 210.1,300.3" fill="none" stroke="#C85088" stroke-width="1.68" stroke-linecap="round" stroke-dasharray="0 3.74" opacity="1.00"/>
<path d="M191.7,306.4 C192.7,306.5 196.2,306.3 197.9,307.0 C199.6,307.7 201.1,309.2 202.0,310.5 C202.9,311.8 203.1,312.6 203.4,314.6 C203.7,316.7 203.8,319.9 204.0,322.8 C204.2,325.7 204.1,329.1 204.4,332.0 C204.7,334.9 205.7,338.1 206.0,340.4 C206.3,342.6 205.1,344.1 206.0,345.5 C206.9,346.9 209.0,347.1 211.7,348.6 C214.4,350.1 218.6,352.6 222.0,354.7 C225.4,356.8 229.1,360.0 232.2,360.9 C235.3,361.8 238.2,360.9 240.4,359.9 C242.6,358.9 244.7,355.6 245.5,354.7" fill="none" stroke="#2E9A42" stroke-width="2.52" stroke-linecap="round" stroke-dasharray="0 3.74" opacity="1.00"/>
<path d="M230.6,275.5 L231.9,277.7 L229.3,277.7 Z" fill="none" stroke="#30A07E" stroke-width="0.75"/>
<path d="M231.5,272.3 L232.8,274.5 L230.2,274.5 Z" fill="none" stroke="#30A07E" stroke-width="0.75"/>
<path d="M232.3,269.4 L233.6,271.5 L231.1,271.5 Z" fill="none" stroke="#30A07E" stroke-width="0.75"/>
<path d="M233.3,266.1 L234.6,268.3 L232.1,268.3 Z" fill="none" stroke="#30A07E" stroke-width="0.75"/>
<path d="M234.3,263.0 L235.6,265.2 L233.1,265.2 Z" fill="none" stroke="#30A07E" stroke-width="0.75"/>
<path d="M235.3,260.1 L236.6,262.3 L234.1,262.3 Z" fill="none" stroke="#30A07E" stroke-width="0.75"/>
<path d="M237.3,258.2 L238.6,260.4 L236.1,260.4 Z" fill="none" stroke="#30A07E" stroke-width="0.75"/>
<path d="M239.2,260.6 L240.5,262.7 L238.0,262.7 Z" fill="none" stroke="#30A07E" stroke-width="0.75"/>
<path d="M240.8,263.2 L242.1,265.4 L239.5,265.4 Z" fill="none" stroke="#30A07E" stroke-width="0.75"/>
<path d="M242.3,266.3 L243.5,268.4 L241.0,268.4 Z" fill="none" stroke="#30A07E" stroke-width="0.75"/>
<path d="M243.6,269.3 L244.9,271.4 L242.4,271.4 Z" fill="none" stroke="#30A07E" stroke-width="0.75"/>
<path d="M245.3,271.9 L246.5,274.1 L244.0,274.1 Z" fill="none" stroke="#30A07E" stroke-width="0.75"/>
<path d="M247.6,274.2 L248.9,276.3 L246.4,276.3 Z" fill="none" stroke="#30A07E" stroke-width="0.75"/>
<path d="M250.3,275.7 L251.5,277.8 L249.0,277.8 Z" fill="none" stroke="#30A07E" stroke-width="0.75"/>
<path d="M253.3,276.6 L254.6,278.7 L252.1,278.7 Z" fill="none" stroke="#30A07E" stroke-width="0.75"/>
<path d="M256.5,277.3 L257.7,279.5 L255.2,279.5 Z" fill="none" stroke="#30A07E" stroke-width="0.75"/>
<path d="M259.7,278.3 L261.0,280.4 L258.5,280.4 Z" fill="none" stroke="#30A07E" stroke-width="0.75"/>
<path d="M262.7,279.3 L264.0,281.4 L261.5,281.4 Z" fill="none" stroke="#30A07E" stroke-width="0.75"/>
<path d="M265.7,280.3 L266.9,282.4 L264.4,282.4 Z" fill="none" stroke="#30A07E" stroke-width="0.75"/>
<path d="M134.1,376.2 C135.5,374.6 140.2,368.0 142.3,366.6 C144.4,365.2 144.7,367.9 146.4,368.0 C148.1,368.1 149.8,368.5 152.5,367.0 C155.2,365.5 159.6,361.6 162.7,358.8 C165.8,356.0 168.5,352.4 170.9,350.2 C173.3,348.0 175.3,347.8 177.0,345.5 C178.7,343.2 179.9,339.5 181.1,336.3 C182.3,333.1 183.7,327.8 184.2,326.1" fill="none" stroke="#2A3A98" stroke-width="2.28" stroke-linecap="round" stroke-dasharray="0 2.42" opacity="1.00"/>
<path d="M139.2,350.7 C140.4,349.8 144.3,345.9 146.4,345.5 C148.5,345.1 150.0,347.5 151.5,348.6 C153.0,349.7 153.6,353.4 155.5,352.3 C157.4,351.2 160.1,343.7 162.7,342.1 C165.3,340.5 168.2,341.9 170.9,342.5 C173.6,343.1 175.4,346.0 179.0,345.5 C182.6,345.0 190.1,340.4 192.3,339.4" fill="none" stroke="#F09C7C" stroke-width="2.52" stroke-linecap="round" stroke-linejoin="round" opacity="1.00"/>
<path d="M59.9,343.0 C61.6,344.0 66.4,346.8 70.0,349.0 C73.6,351.2 78.0,353.8 81.7,356.3 C85.4,358.8 88.6,361.3 92.0,364.0 C95.4,366.7 99.1,370.4 102.2,372.7 C105.3,375.0 107.0,377.0 110.4,377.8 C113.8,378.6 118.9,377.6 122.6,377.4 C126.3,377.2 129.9,377.0 132.8,376.4 C135.7,375.8 138.0,375.1 140.0,373.7 C142.0,372.3 143.7,369.9 145.0,368.0 C146.3,366.1 147.5,363.0 148.0,362.0" fill="none" stroke="#D4603C" stroke-width="1.80" stroke-linecap="round" stroke-dasharray="0 3.63" opacity="1.00"/>
<path d="M127.7,376.8 C129.8,377.1 136.2,377.9 140.0,378.8 C143.8,379.7 147.1,381.9 150.4,382.3 C153.7,382.8 156.6,382.2 160.0,381.5 C163.4,380.8 166.2,380.1 170.9,378.2 C175.6,376.3 185.3,371.5 188.2,370.1" fill="none" stroke="#8ED2BC" stroke-width="2.28" stroke-linecap="round" stroke-linejoin="round" opacity="1.00"/>
<path d="M162.7,374.8 C163.7,373.0 167.1,366.4 168.8,363.9 C170.5,361.4 171.2,360.2 172.9,359.9 C174.6,359.6 176.3,361.6 179.0,361.9 C181.7,362.2 186.2,360.9 189.3,361.9 C192.4,362.9 195.0,367.8 197.4,368.0 C199.8,368.2 201.2,364.4 203.6,362.9 C206.0,361.4 209.1,361.2 211.7,358.8 C214.2,356.4 217.7,350.3 218.9,348.6" fill="none" stroke="#8A6848" stroke-width="2.40" stroke-linecap="round" stroke-dasharray="0 2.20" opacity="1.00"/>
<path d="M104.6,425.4 C106.2,424.3 110.7,420.5 114.4,418.7 C118.1,416.9 122.4,416.1 126.7,414.6 C131.0,413.1 136.1,411.4 140.0,409.5 C143.9,407.6 145.2,405.3 150.4,403.0 C155.6,400.7 165.8,397.9 170.9,395.6 C176.0,393.4 177.9,391.9 181.1,389.5 C184.3,387.1 188.8,382.3 190.3,380.9" fill="none" stroke="#2A8A88" stroke-width="2.40" stroke-linecap="round" stroke-dasharray="0 2.97" opacity="1.00"/>
<path d="M115.5,421.7 C117.4,421.2 122.2,419.1 126.7,418.7 C131.2,418.3 138.4,419.7 142.3,419.1 C146.2,418.5 145.6,415.0 150.4,415.0 C155.2,415.0 164.8,419.4 170.9,419.1 C177.0,418.8 184.5,414.0 187.2,413.0" fill="none" stroke="#9898D4" stroke-width="1.56" stroke-linecap="round" stroke-dasharray="0 2.64" opacity="1.00"/>
<path d="M149.4,419.1 C150.6,420.3 154.7,424.2 156.6,426.3 C158.5,428.4 158.3,431.1 160.7,432.0 C163.1,432.9 166.8,431.2 170.9,431.4 C175.0,431.6 181.8,433.6 185.2,433.4 C188.6,433.2 189.6,431.8 191.3,430.4 C193.0,429.0 194.7,426.1 195.4,425.3" fill="none" stroke="#5A2888" stroke-width="2.76" stroke-linecap="round" stroke-linejoin="round" opacity="1.00"/>
<path d="M86.9,456.9 C88.8,456.8 95.5,456.3 98.1,456.1 C100.6,455.9 100.0,455.3 102.2,455.5 C104.4,455.7 108.9,458.0 111.4,457.5 C114.0,457.0 116.5,453.2 117.5,452.4" fill="none" stroke="#A8A8A8" stroke-width="1.08" stroke-linecap="round" stroke-linejoin="round" opacity="1.00"/>
<path d="M130.8,459.6 C135.1,459.5 150.1,459.2 156.6,459.0 C163.1,458.8 165.4,458.8 170.0,458.6 C174.6,458.4 181.8,458.1 184.2,458.0" fill="none" stroke="#5A9A5A" stroke-width="2.16" stroke-linecap="round" stroke-linejoin="round" opacity="1.00"/>
<path d="M41.9,436.0 C45.1,436.6 54.7,438.6 61.3,439.5 C67.9,440.4 76.2,440.8 81.7,441.2 C87.2,441.6 90.6,442.5 94.0,442.2 C97.4,441.9 99.8,440.4 102.2,439.1 C104.6,437.8 107.3,435.2 108.3,434.4" fill="none" stroke="#D8683A" stroke-width="2.16" stroke-linecap="round" stroke-dasharray="0 2.42" opacity="1.00"/>
<path d="M55.2,435.0 C58.5,435.8 68.9,438.8 75.0,440.0 C81.1,441.2 87.0,442.1 92.0,442.2 C97.0,442.3 100.6,441.6 105.0,440.5 C109.4,439.4 116.2,436.4 118.5,435.6" fill="none" stroke="#F0A860" stroke-width="2.16" stroke-linecap="round" stroke-dasharray="0 2.42" opacity="1.00"/>
<path d="M53.1,434.4 C57.9,435.0 74.7,438.0 81.7,438.1 C88.7,438.2 92.8,435.5 95.0,435.0" fill="none" stroke="#7EA6D8" stroke-width="1.80" stroke-linecap="round" stroke-dasharray="0 2.86" opacity="1.00"/>
<path d="M231.2,338.2 L232.4,340.2 L230.0,340.2 Z" fill="none" stroke="#5EB8DC" stroke-width="0.75"/>
<path d="M233.6,336.5 L234.8,338.6 L232.4,338.6 Z" fill="none" stroke="#5EB8DC" stroke-width="0.75"/>
<path d="M236.2,334.8 L237.4,336.9 L235.0,336.9 Z" fill="none" stroke="#5EB8DC" stroke-width="0.75"/>
<path d="M238.8,333.5 L240.0,335.5 L237.6,335.5 Z" fill="none" stroke="#5EB8DC" stroke-width="0.75"/>
<path d="M241.8,333.4 L243.0,335.4 L240.6,335.4 Z" fill="none" stroke="#5EB8DC" stroke-width="0.75"/>
<path d="M244.6,335.1 L245.8,337.1 L243.4,337.1 Z" fill="none" stroke="#5EB8DC" stroke-width="0.75"/>
<path d="M247.2,336.9 L248.4,338.9 L246.0,338.9 Z" fill="none" stroke="#5EB8DC" stroke-width="0.75"/>
<path d="M250.1,336.7 L251.3,338.7 L248.9,338.7 Z" fill="none" stroke="#5EB8DC" stroke-width="0.75"/>
<path d="M252.5,334.8 L253.6,336.8 L251.3,336.8 Z" fill="none" stroke="#5EB8DC" stroke-width="0.75"/>
<path d="M255.1,333.1 L256.3,335.1 L253.9,335.1 Z" fill="none" stroke="#5EB8DC" stroke-width="0.75"/>
<path d="M257.8,334.4 L259.0,336.4 L256.6,336.4 Z" fill="none" stroke="#5EB8DC" stroke-width="0.75"/>
<path d="M259.8,336.7 L261.0,338.7 L258.6,338.7 Z" fill="none" stroke="#5EB8DC" stroke-width="0.75"/>
<path d="M261.9,338.7 L263.1,340.7 L260.7,340.7 Z" fill="none" stroke="#5EB8DC" stroke-width="0.75"/>
<path d="M264.8,339.4 L266.0,341.5 L263.6,341.5 Z" fill="none" stroke="#5EB8DC" stroke-width="0.75"/>
<path d="M267.8,338.8 L269.0,340.8 L266.6,340.8 Z" fill="none" stroke="#5EB8DC" stroke-width="0.75"/>
<path d="M223.0,334.3 C224.5,332.2 230.7,324.1 232.2,322.0" fill="none" stroke="#4A52A0" stroke-width="1.68" stroke-linecap="round" stroke-dasharray="0 2.86" opacity="1.00"/>
<path d="M232.2,322.0 C233.2,323.0 235.9,325.8 238.3,328.2 C240.7,330.6 243.4,334.1 246.5,336.3 C249.6,338.5 254.1,340.3 256.7,341.5 C259.2,342.7 260.9,343.2 261.8,343.5" fill="none" stroke="#4A52A0" stroke-width="1.68" stroke-linecap="round" stroke-linejoin="round" opacity="1.00"/>
<path d="M220.0,324.1 C222.0,323.9 228.8,322.7 232.2,323.0 C235.6,323.3 237.3,325.1 240.4,326.1 C243.5,327.1 247.2,329.0 250.6,329.2 C254.0,329.4 259.1,327.5 260.8,327.2" fill="none" stroke="#F2B098" stroke-width="2.28" stroke-linecap="round" stroke-dasharray="0 1.98" opacity="1.00"/>
<path d="M27.6,431.0 C29.8,431.3 35.3,433.2 40.9,433.0 C46.5,432.8 54.5,431.3 61.3,430.0 C68.1,428.7 75.2,427.8 81.7,425.0 C88.2,422.2 94.0,417.4 100.0,413.4 C106.0,409.4 111.7,405.6 117.5,401.2 C123.3,396.8 129.2,391.6 135.0,387.1 C140.8,382.6 146.5,378.2 152.5,374.4 C158.5,370.5 164.4,367.8 170.9,364.0 C177.4,360.2 184.5,356.1 191.3,351.5 C198.1,346.9 204.9,340.9 211.7,336.4 C218.5,331.9 225.4,327.1 232.2,324.5 C239.0,321.9 246.3,321.2 252.6,321.0 C258.9,320.8 266.4,322.5 270.0,323.0 C273.6,323.5 273.3,323.8 274.0,324.0" fill="none" stroke="#7F9ACF" stroke-width="2.6" stroke-linecap="round" opacity="0.95"/>
<line x1="15.3" y1="243.7" x2="15.3" y2="470.9" stroke="#3a3a3a" stroke-width="1.50"/>
<line x1="14.6" y1="470.2" x2="286.0" y2="470.2" stroke="#3a3a3a" stroke-width="1.50"/>
<line x1="13.3" y1="257.4" x2="15.3" y2="257.4" stroke="#444" stroke-width="0.50"/>
<text x="12.0" y="258.5" font-size="3.30" fill="#444" text-anchor="end" font-weight="normal" stroke="#444" stroke-width="0.1">125</text>
<line x1="13.3" y1="305.4" x2="15.3" y2="305.4" stroke="#444" stroke-width="0.50"/>
<text x="12.0" y="306.5" font-size="3.30" fill="#444" text-anchor="end" font-weight="normal" stroke="#444" stroke-width="0.1">100</text>
<line x1="13.3" y1="352.7" x2="15.3" y2="352.7" stroke="#444" stroke-width="0.50"/>
<text x="12.0" y="353.8" font-size="3.30" fill="#444" text-anchor="end" font-weight="normal" stroke="#444" stroke-width="0.1">75</text>
<line x1="13.3" y1="400.3" x2="15.3" y2="400.3" stroke="#444" stroke-width="0.50"/>
<text x="12.0" y="401.4" font-size="3.30" fill="#444" text-anchor="end" font-weight="normal" stroke="#444" stroke-width="0.1">50</text>
<line x1="13.3" y1="448.3" x2="15.3" y2="448.3" stroke="#444" stroke-width="0.50"/>
<text x="12.0" y="449.4" font-size="3.30" fill="#444" text-anchor="end" font-weight="normal" stroke="#444" stroke-width="0.1">25</text>
<line x1="91.4" y1="470.2" x2="91.4" y2="472.2" stroke="#444" stroke-width="0.50"/>
<text x="91.4" y="475.3" font-size="3.30" fill="#444" text-anchor="middle" font-weight="normal" stroke="#444" stroke-width="0.1">0.4</text>
<line x1="168.0" y1="470.2" x2="168.0" y2="472.2" stroke="#444" stroke-width="0.50"/>
<text x="168.0" y="475.3" font-size="3.30" fill="#444" text-anchor="middle" font-weight="normal" stroke="#444" stroke-width="0.1">0.6</text>
<line x1="244.6" y1="470.2" x2="244.6" y2="472.2" stroke="#444" stroke-width="0.50"/>
<text x="244.6" y="475.3" font-size="3.30" fill="#444" text-anchor="middle" font-weight="normal" stroke="#444" stroke-width="0.1">0.8</text>
<text x="150.5" y="480.7" font-size="5.00" fill="#222" text-anchor="middle" font-weight="normal" stroke="#222" stroke-width="0.15">SDI</text>
<text x="5.7" y="356.5" font-size="3.9" fill="#1a1a1a" stroke="#1a1a1a" stroke-width="0.15" text-anchor="middle" transform="rotate(-90 5.7 356.5)" textLength="80.0" lengthAdjust="spacingAndGlyphs">Incidence Rate per 100,000 population</text>
<text x="-0.4" y="267.6" font-size="18.20" fill="#000" text-anchor="start" font-weight="normal">B</text>
<circle cx="292.7" cy="327.3" r="1.25" fill="#E8845E"/>
<text x="296.0" y="328.4" font-size="3.0" fill="#222" stroke="#222" stroke-width="0.07">Global</text>
<circle cx="292.7" cy="330.4" r="1.25" fill="#5EB8DC"/>
<text x="296.0" y="331.5" font-size="3.0" fill="#222" stroke="#222" stroke-width="0.07">High-income Asia Pacific</text>
<circle cx="292.7" cy="333.6" r="1.25" fill="#30A07E"/>
<text x="296.0" y="334.7" font-size="3.0" fill="#222" stroke="#222" stroke-width="0.07">High-income North America</text>
<circle cx="292.7" cy="336.8" r="1.25" fill="#4A52A0"/>
<text x="296.0" y="337.8" font-size="3.0" fill="#222" stroke="#222" stroke-width="0.07">Western Europe</text>
<circle cx="292.7" cy="339.9" r="1.25" fill="#F2B098"/>
<text x="296.0" y="341.0" font-size="3.0" fill="#222" stroke="#222" stroke-width="0.07">Australasia</text>
<circle cx="292.7" cy="343.1" r="1.25" fill="#9DA1D2"/>
<text x="296.0" y="344.1" font-size="3.0" fill="#222" stroke="#222" stroke-width="0.07">Andean Latin America</text>
<circle cx="292.7" cy="346.2" r="1.25" fill="#8ED2BC"/>
<text x="296.0" y="347.2" font-size="3.0" fill="#222" stroke="#222" stroke-width="0.07">Tropical Latin America</text>
<circle cx="292.7" cy="349.4" r="1.25" fill="#D8281A"/>
<text x="296.0" y="350.4" font-size="3.0" fill="#222" stroke="#222" stroke-width="0.07">Central Latin America</text>
<circle cx="292.7" cy="352.5" r="1.25" fill="#8A6848"/>
<text x="296.0" y="353.6" font-size="3.0" fill="#222" stroke="#222" stroke-width="0.07">Southern Latin America</text>
<circle cx="292.7" cy="355.7" r="1.25" fill="#2A3A98"/>
<text x="296.0" y="356.7" font-size="3.0" fill="#222" stroke="#222" stroke-width="0.07">Caribbean</text>
<circle cx="292.7" cy="358.8" r="1.25" fill="#E8502A"/>
<text x="296.0" y="359.9" font-size="3.0" fill="#222" stroke="#222" stroke-width="0.07">Central Europe</text>
<circle cx="292.7" cy="361.9" r="1.25" fill="#2E9A42"/>
<text x="296.0" y="363.0" font-size="3.0" fill="#222" stroke="#222" stroke-width="0.07">Eastern Europe</text>
<circle cx="292.7" cy="365.1" r="1.25" fill="#5A2888"/>
<text x="296.0" y="366.2" font-size="3.0" fill="#222" stroke="#222" stroke-width="0.07">Central Asia</text>
<circle cx="292.7" cy="368.2" r="1.25" fill="#2A8A88"/>
<text x="296.0" y="369.3" font-size="3.0" fill="#222" stroke="#222" stroke-width="0.07">North Africa and Middle East</text>
<circle cx="292.7" cy="371.4" r="1.25" fill="#D4603C"/>
<text x="296.0" y="372.5" font-size="3.0" fill="#222" stroke="#222" stroke-width="0.07">South Asia</text>
<circle cx="292.7" cy="374.6" r="1.25" fill="#9898D4"/>
<text x="296.0" y="375.6" font-size="3.0" fill="#222" stroke="#222" stroke-width="0.07">Southeast Asia</text>
<circle cx="292.7" cy="377.7" r="1.25" fill="#C85088"/>
<text x="296.0" y="378.8" font-size="3.0" fill="#222" stroke="#222" stroke-width="0.07">East Asia</text>
<circle cx="292.7" cy="380.9" r="1.25" fill="#A8A8A8"/>
<text x="296.0" y="381.9" font-size="3.0" fill="#222" stroke="#222" stroke-width="0.07">Oceania</text>
<circle cx="292.7" cy="384.0" r="1.25" fill="#D8683A"/>
<text x="296.0" y="385.1" font-size="3.0" fill="#222" stroke="#222" stroke-width="0.07">Western Sub-Saharan Africa</text>
<circle cx="292.7" cy="387.2" r="1.25" fill="#7EA6D8"/>
<text x="296.0" y="388.2" font-size="3.0" fill="#222" stroke="#222" stroke-width="0.07">Eastern Sub-Saharan Africa</text>
<circle cx="292.7" cy="390.3" r="1.25" fill="#F0A860"/>
<text x="296.0" y="391.4" font-size="3.0" fill="#222" stroke="#222" stroke-width="0.07">Central Sub-Saharan Africa</text>
<circle cx="292.7" cy="393.4" r="1.25" fill="#5A9A5A"/>
<text x="296.0" y="394.5" font-size="3.0" fill="#222" stroke="#222" stroke-width="0.07">Southern Sub-Saharan Africa</text>
<path d="M27.8,595.3 C29.9,596.5 34.9,599.6 40.4,602.5 C45.9,605.4 54.1,610.2 60.9,612.7 C67.7,615.2 74.5,616.3 81.3,617.8 C88.1,619.3 94.9,620.5 101.7,621.9 C108.5,623.3 115.8,624.6 122.2,626.0 C128.6,627.4 133.6,628.5 140.0,630.5 C146.4,632.5 155.3,635.7 160.4,638.2 C165.5,640.7 167.3,642.8 170.7,645.4 C174.1,648.0 175.8,650.4 180.9,653.6 C186.0,656.8 194.5,661.6 201.3,664.8 C208.1,668.0 214.9,670.6 221.7,673.0 C228.5,675.4 235.4,677.7 242.2,679.1 C249.0,680.5 257.4,681.0 262.6,681.2 C267.8,681.5 271.4,680.7 273.2,680.6 L273.2,701.6 C271.4,700.4 267.8,697.0 262.6,694.4 C257.4,691.8 249.0,689.0 242.2,686.3 C235.4,683.6 228.5,680.7 221.7,678.1 C214.9,675.5 208.1,673.5 201.3,670.9 C194.5,668.3 186.0,665.3 180.9,662.8 C175.8,660.2 174.1,658.2 170.7,655.6 C167.3,653.0 165.1,650.3 160.4,647.4 C155.7,644.5 149.0,640.6 142.6,638.2 C136.2,635.8 129.0,634.6 122.2,633.1 C115.4,631.6 108.5,630.2 101.7,629.0 C94.9,627.8 88.1,627.0 81.3,626.0 C74.5,625.0 67.7,624.1 60.9,622.9 C54.1,621.7 45.9,619.3 40.4,618.8 C34.9,618.3 29.9,619.7 27.8,619.9 Z" fill="#d4d4d4" stroke="none"/>
<path d="M123.5,578.1 C124.0,579.1 125.4,582.2 126.6,584.2 C127.8,586.2 129.3,588.4 130.7,590.4 C132.1,592.4 133.5,595.4 135.2,596.5 C136.9,597.6 138.6,597.0 140.9,597.1 C143.2,597.2 146.4,596.5 149.0,596.9 C151.6,597.3 154.3,600.0 156.2,599.6 C158.1,599.2 158.4,595.4 160.3,594.4 C162.2,593.4 165.1,593.9 167.4,593.4 C169.7,592.9 172.3,591.5 174.0,591.4 C175.7,591.3 176.1,592.5 177.7,593.0 C179.3,593.5 182.8,594.2 183.8,594.4" fill="none" stroke="#D8281A" stroke-width="2.28" stroke-linecap="round" stroke-dasharray="0 2.53" opacity="1.00"/>
<path d="M144.1,590.5 L146.7,590.5 L145.4,592.7 Z" fill="none" stroke="#9DA1D2" stroke-width="0.75"/>
<path d="M145.7,593.2 L148.2,593.2 L146.9,595.3 Z" fill="none" stroke="#9DA1D2" stroke-width="0.75"/>
<path d="M147.2,595.8 L149.8,595.8 L148.5,598.0 Z" fill="none" stroke="#9DA1D2" stroke-width="0.75"/>
<path d="M149.0,598.6 L151.5,598.6 L150.3,600.7 Z" fill="none" stroke="#9DA1D2" stroke-width="0.75"/>
<path d="M150.8,601.3 L153.4,601.3 L152.1,603.4 Z" fill="none" stroke="#9DA1D2" stroke-width="0.75"/>
<path d="M152.8,604.1 L155.3,604.1 L154.0,606.2 Z" fill="none" stroke="#9DA1D2" stroke-width="0.75"/>
<path d="M154.7,606.9 L157.2,606.9 L155.9,609.0 Z" fill="none" stroke="#9DA1D2" stroke-width="0.75"/>
<path d="M156.6,609.5 L159.1,609.5 L157.8,611.6 Z" fill="none" stroke="#9DA1D2" stroke-width="0.75"/>
<path d="M159.0,611.2 L161.5,611.2 L160.3,613.3 Z" fill="none" stroke="#9DA1D2" stroke-width="0.75"/>
<path d="M161.7,609.8 L164.3,609.8 L163.0,611.9 Z" fill="none" stroke="#9DA1D2" stroke-width="0.75"/>
<path d="M164.2,611.6 L166.7,611.6 L165.5,613.8 Z" fill="none" stroke="#9DA1D2" stroke-width="0.75"/>
<path d="M166.3,614.0 L168.8,614.0 L167.6,616.1 Z" fill="none" stroke="#9DA1D2" stroke-width="0.75"/>
<path d="M168.5,616.3 L171.0,616.3 L169.8,618.4 Z" fill="none" stroke="#9DA1D2" stroke-width="0.75"/>
<path d="M170.6,618.5 L173.1,618.5 L171.9,620.6 Z" fill="none" stroke="#9DA1D2" stroke-width="0.75"/>
<path d="M172.8,620.7 L175.4,620.7 L174.1,622.9 Z" fill="none" stroke="#9DA1D2" stroke-width="0.75"/>
<path d="M175.3,622.8 L177.8,622.8 L176.5,625.0 Z" fill="none" stroke="#9DA1D2" stroke-width="0.75"/>
<path d="M178.2,624.1 L180.7,624.1 L179.5,626.3 Z" fill="none" stroke="#9DA1D2" stroke-width="0.75"/>
<path d="M181.2,624.9 L183.7,624.9 L182.4,627.0 Z" fill="none" stroke="#9DA1D2" stroke-width="0.75"/>
<path d="M183.9,626.7 L186.4,626.7 L185.1,628.8 Z" fill="none" stroke="#9DA1D2" stroke-width="0.75"/>
<path d="M186.2,628.8 L188.7,628.8 L187.5,630.9 Z" fill="none" stroke="#9DA1D2" stroke-width="0.75"/>
<path d="M135.8,610.8 C136.1,611.3 137.2,612.7 137.8,613.9 C138.4,615.1 138.9,616.7 139.4,618.0 C139.9,619.3 140.2,620.4 140.6,621.9 C141.0,623.4 141.4,625.1 142.0,627.0 C142.6,628.9 143.7,632.0 144.0,633.0" fill="none" stroke="#2A3A98" stroke-width="2.28" stroke-linecap="round" stroke-dasharray="0 3.52" opacity="1.00"/>
<path d="M144.0,636.0 C145.0,636.7 147.5,639.6 150.2,640.3 C152.9,641.0 157.0,640.6 160.4,640.3 C163.8,639.9 167.6,639.4 170.7,638.2 C173.8,637.0 176.6,633.4 178.8,633.1 C181.0,632.8 183.1,635.7 183.9,636.2" fill="none" stroke="#2A3A98" stroke-width="1.92" stroke-linecap="round" stroke-linejoin="round" opacity="1.00"/>
<path d="M128.3,638.2 C130.7,638.6 138.9,640.8 142.6,640.3 C146.2,639.8 147.2,636.6 150.2,635.2 C153.2,633.8 157.0,632.9 160.4,632.1 C163.8,631.4 167.4,631.1 170.7,630.7 C173.9,630.3 177.5,629.3 179.9,629.5 C182.3,629.7 183.7,631.0 185.0,632.1 C186.3,633.2 187.5,635.5 188.0,636.2" fill="none" stroke="#8ED2BC" stroke-width="2.16" stroke-linecap="round" stroke-linejoin="round" opacity="1.00"/>
<path d="M192.1,645.4 C192.6,646.1 194.2,648.1 195.2,649.5 C196.2,650.9 197.2,652.1 198.2,653.6 C199.2,655.1 200.4,657.2 201.3,658.7 C202.2,660.2 203.1,662.1 203.4,662.8" fill="none" stroke="#2E9A42" stroke-width="2.40" stroke-linecap="round" stroke-dasharray="0 3.85" opacity="1.00"/>
<path d="M181.9,645.4 C182.2,645.9 183.2,647.3 183.9,648.5 C184.6,649.7 185.2,651.2 186.0,652.6 C186.8,654.0 188.0,655.2 189.0,656.6 C190.0,658.0 191.1,659.5 192.1,660.7 C193.1,661.9 194.7,663.3 195.2,663.8" fill="none" stroke="#E8502A" stroke-width="2.40" stroke-linecap="round" stroke-dasharray="0 3.52" opacity="1.00"/>
<path d="M164.5,647.4 C165.5,648.4 168.6,651.7 170.7,653.6 C172.8,655.5 174.8,657.0 176.8,658.7 C178.8,660.4 180.9,662.6 182.9,663.8 C184.9,665.0 186.6,665.3 189.0,665.8 C191.4,666.3 194.5,666.9 197.2,666.9 C199.9,666.9 202.7,666.0 205.4,665.8 C208.1,665.6 211.4,665.4 213.6,665.8 C215.8,666.1 217.7,667.2 218.7,667.9 C219.7,668.6 219.5,669.6 219.7,669.9" fill="none" stroke="#8A6848" stroke-width="2.28" stroke-linecap="round" stroke-dasharray="0 2.09" opacity="1.00"/>
<path d="M142.6,637.2 C143.9,638.6 147.2,643.0 150.2,645.4 C153.2,647.8 157.0,649.5 160.4,651.5 C163.8,653.5 167.3,655.7 170.7,657.7 C174.1,659.8 177.5,662.1 180.9,663.8 C184.3,665.5 187.7,667.2 191.1,667.9 C194.5,668.6 196.9,666.5 201.3,667.9 C205.7,669.3 212.6,673.9 217.7,676.1 C222.8,678.3 229.6,680.4 232.0,681.2" fill="none" stroke="#F09C7C" stroke-width="1.80" stroke-linecap="round" stroke-linejoin="round" opacity="1.00"/>
<path d="M149.2,660.7 C150.0,661.4 152.4,662.6 154.3,664.8 C156.2,667.0 158.4,671.3 160.4,674.0 C162.4,676.7 164.2,679.3 166.6,681.2 C169.0,683.1 171.6,684.4 174.7,685.3 C177.8,686.1 182.3,686.1 185.0,686.3 C187.7,686.5 189.1,686.4 191.1,686.7 C193.1,687.0 196.2,688.0 197.2,688.3" fill="none" stroke="#5A2888" stroke-width="2.64" stroke-linecap="round" stroke-linejoin="round" opacity="1.00"/>
<path d="M131.4,670.9 C133.3,670.7 139.5,670.8 142.6,669.9 C145.7,669.0 147.2,667.0 150.2,665.8 C153.2,664.6 157.0,663.1 160.4,662.8 C163.8,662.5 167.6,662.9 170.7,663.8 C173.8,664.6 176.6,666.5 178.8,667.9 C181.0,669.3 183.1,671.3 183.9,672.0" fill="none" stroke="#5A9A5A" stroke-width="2.16" stroke-linecap="round" stroke-linejoin="round" opacity="1.00"/>
<path d="M104.8,649.5 C106.0,649.8 109.1,650.5 112.0,651.5 C114.9,652.5 118.8,654.6 122.2,655.6 C125.6,656.6 129.0,656.7 132.4,657.7 C135.8,658.7 139.6,659.7 142.6,661.7 C145.6,663.7 147.2,667.7 150.2,669.9 C153.2,672.1 157.0,673.6 160.4,675.0 C163.8,676.4 167.3,677.2 170.7,678.1 C174.1,679.0 177.7,679.6 180.9,680.1 C184.1,680.6 188.6,681.0 190.1,681.2" fill="none" stroke="#2A8A88" stroke-width="2.40" stroke-linecap="round" stroke-dasharray="0 2.75" opacity="1.00"/>
<path d="M110.0,647.4 C112.0,648.1 118.5,650.1 122.2,651.5 C125.9,652.9 129.0,654.1 132.4,655.6 C135.8,657.1 139.5,659.3 142.6,660.7 C145.7,662.1 147.8,662.9 150.8,663.8 C153.8,664.6 155.4,663.1 160.4,665.8 C165.4,668.5 175.5,676.9 180.9,680.1 C186.3,683.4 189.0,684.1 193.1,685.3 C197.2,686.5 201.7,686.8 205.4,687.3 C209.2,687.8 213.9,688.1 215.6,688.3" fill="none" stroke="#C85088" stroke-width="1.56" stroke-linecap="round" stroke-dasharray="0 3.74" opacity="1.00"/>
<path d="M115.0,635.2 C117.9,636.4 127.8,640.3 132.4,642.3 C137.0,644.3 139.6,645.9 142.6,647.4 C145.6,648.9 147.2,649.8 150.2,651.5 C153.2,653.2 157.0,655.7 160.4,657.7 C163.8,659.8 166.3,661.6 170.7,663.8 C175.1,666.0 184.3,669.7 187.0,670.9" fill="none" stroke="#9898D4" stroke-width="1.56" stroke-linecap="round" stroke-dasharray="0 2.64" opacity="1.00"/>
<path d="M87.4,674.0 C88.8,674.3 92.9,675.0 95.6,676.0 C98.3,677.0 101.8,679.6 103.8,680.1 C105.8,680.6 105.7,678.8 107.9,679.1 C110.1,679.5 115.6,681.7 117.1,682.2" fill="none" stroke="#A8A8A8" stroke-width="1.08" stroke-linecap="round" stroke-linejoin="round" opacity="1.00"/>
<path d="M27.8,616.4 C29.9,617.0 34.9,618.0 40.4,619.9 C45.9,621.8 54.1,625.3 60.9,628.0 C67.7,630.7 75.5,633.8 81.3,636.2 C87.1,638.6 93.2,641.3 95.6,642.3" fill="none" stroke="#7EA6D8" stroke-width="1.80" stroke-linecap="round" stroke-dasharray="0 2.64" opacity="1.00"/>
<path d="M42.5,602.9 C43.9,603.3 48.3,604.2 50.7,605.5 C53.1,606.8 55.3,608.5 56.8,610.7 C58.3,612.9 59.0,616.6 59.9,618.8 C60.8,621.0 61.0,622.3 61.9,624.0 C62.8,625.7 63.1,627.1 65.0,629.0 C66.9,630.9 70.4,633.5 73.1,635.2 C75.8,636.9 78.2,637.9 81.3,639.3 C84.4,640.7 88.1,642.0 91.5,643.4 C94.9,644.8 98.8,646.2 101.7,647.4 C104.6,648.6 107.7,650.0 108.9,650.5" fill="none" stroke="#D8683A" stroke-width="2.28" stroke-linecap="round" stroke-dasharray="0 2.20" opacity="1.00"/>
<path d="M53.7,630.7 C54.9,630.6 58.0,629.8 60.9,630.1 C63.8,630.4 67.7,632.0 71.1,632.7 C74.5,633.4 77.9,633.8 81.3,634.2 C84.7,634.6 88.1,634.5 91.5,635.2 C94.9,635.9 98.3,637.2 101.7,638.2 C105.1,639.2 109.1,640.3 112.0,641.3 C114.9,642.3 117.9,643.9 119.1,644.4" fill="none" stroke="#F0A860" stroke-width="2.16" stroke-linecap="round" stroke-dasharray="0 2.53" opacity="1.00"/>
<path d="M220.6,671.2 L222.8,671.2 L221.7,673.1 Z" fill="none" stroke="#30A07E" stroke-width="0.75"/>
<path d="M223.3,672.6 L225.5,672.6 L224.4,674.5 Z" fill="none" stroke="#30A07E" stroke-width="0.75"/>
<path d="M226.1,674.1 L228.3,674.1 L227.2,676.0 Z" fill="none" stroke="#30A07E" stroke-width="0.75"/>
<path d="M229.0,675.5 L231.3,675.5 L230.2,677.4 Z" fill="none" stroke="#30A07E" stroke-width="0.75"/>
<path d="M231.7,676.6 L234.0,676.6 L232.9,678.6 Z" fill="none" stroke="#30A07E" stroke-width="0.75"/>
<path d="M234.9,677.7 L237.1,677.7 L236.0,679.6 Z" fill="none" stroke="#30A07E" stroke-width="0.75"/>
<path d="M238.0,678.6 L240.2,678.6 L239.1,680.5 Z" fill="none" stroke="#30A07E" stroke-width="0.75"/>
<path d="M241.1,679.3 L243.3,679.3 L242.2,681.2 Z" fill="none" stroke="#30A07E" stroke-width="0.75"/>
<path d="M244.1,679.3 L246.4,679.3 L245.3,681.2 Z" fill="none" stroke="#30A07E" stroke-width="0.75"/>
<path d="M247.2,679.3 L249.4,679.3 L248.3,681.2 Z" fill="none" stroke="#30A07E" stroke-width="0.75"/>
<path d="M249.8,680.7 L252.1,680.7 L251.0,682.6 Z" fill="none" stroke="#30A07E" stroke-width="0.75"/>
<path d="M252.6,682.1 L254.8,682.1 L253.7,684.1 Z" fill="none" stroke="#30A07E" stroke-width="0.75"/>
<path d="M255.6,683.1 L257.9,683.1 L256.8,685.0 Z" fill="none" stroke="#30A07E" stroke-width="0.75"/>
<path d="M258.6,683.9 L260.8,683.9 L259.7,685.8 Z" fill="none" stroke="#30A07E" stroke-width="0.75"/>
<path d="M261.6,684.6 L263.8,684.6 L262.7,686.5 Z" fill="none" stroke="#30A07E" stroke-width="0.75"/>
<path d="M264.6,685.3 L266.8,685.3 L265.7,687.2 Z" fill="none" stroke="#30A07E" stroke-width="0.75"/>
<path d="M221.7,673.0 C225.1,674.4 235.4,678.8 242.2,681.2 C249.0,683.6 259.2,686.3 262.6,687.3" fill="none" stroke="#4A52A0" stroke-width="1.56" stroke-linecap="round" stroke-linejoin="round" opacity="1.00"/>
<path d="M229.9,686.3 C231.9,686.6 238.1,687.6 242.2,688.3 C246.3,689.0 249.3,689.5 254.4,690.4 C259.5,691.2 269.7,692.9 272.8,693.4" fill="none" stroke="#5EB8DC" stroke-width="1.80" stroke-linecap="round" stroke-linejoin="round" opacity="1.00"/>
<path d="M217.7,678.1 C220.1,679.1 226.2,682.5 232.0,684.2 C237.8,685.9 245.9,687.1 252.4,688.3 C258.9,689.5 267.7,690.9 270.8,691.4" fill="none" stroke="#F2B098" stroke-width="2.16" stroke-linecap="round" stroke-dasharray="0 1.98" opacity="1.00"/>
<path d="M242.2,680.1 C244.2,680.6 250.0,682.2 254.4,683.2 C258.8,684.2 266.4,685.8 268.8,686.3" fill="none" stroke="#2E9A42" stroke-width="1.92" stroke-linecap="round" stroke-dasharray="0 2.42" opacity="1.00"/>
<path d="M27.8,607.6 C29.9,608.0 34.9,608.7 40.4,610.2 C45.9,611.7 54.1,614.8 60.9,616.8 C67.7,618.8 74.5,620.4 81.3,621.9 C88.1,623.4 94.9,624.6 101.7,626.0 C108.5,627.4 115.8,628.7 122.2,630.1 C128.6,631.5 135.3,633.0 140.0,634.2 C144.7,635.4 146.8,635.9 150.2,637.2 C153.6,638.6 157.0,640.1 160.4,642.3 C163.8,644.5 167.3,647.8 170.7,650.5 C174.1,653.2 177.5,656.5 180.9,658.7 C184.3,660.9 187.7,662.3 191.1,663.8 C194.5,665.3 197.9,666.5 201.3,667.9 C204.7,669.3 208.1,670.6 211.5,672.0 C214.9,673.4 218.3,674.8 221.7,676.1 C225.1,677.5 228.6,678.9 232.0,680.1 C235.4,681.3 238.8,682.2 242.2,683.2 C245.6,684.2 249.0,685.3 252.4,686.3 C255.8,687.3 259.2,688.4 262.6,689.3 C266.0,690.1 271.1,691.0 272.8,691.4" fill="none" stroke="#7F9ACF" stroke-width="2.6" stroke-linecap="round" opacity="0.95"/>
<line x1="15.4" y1="485.5" x2="15.4" y2="712.7" stroke="#3a3a3a" stroke-width="1.50"/>
<line x1="14.7" y1="712.0" x2="286.0" y2="712.0" stroke="#3a3a3a" stroke-width="1.50"/>
<line x1="13.4" y1="504.3" x2="15.4" y2="504.3" stroke="#444" stroke-width="0.50"/>
<text x="12.1" y="505.4" font-size="3.30" fill="#444" text-anchor="end" font-weight="normal" stroke="#444" stroke-width="0.1">150</text>
<line x1="13.4" y1="570.7" x2="15.4" y2="570.7" stroke="#444" stroke-width="0.50"/>
<text x="12.1" y="571.9" font-size="3.30" fill="#444" text-anchor="end" font-weight="normal" stroke="#444" stroke-width="0.1">100</text>
<line x1="13.4" y1="635.8" x2="15.4" y2="635.8" stroke="#444" stroke-width="0.50"/>
<text x="12.1" y="636.9" font-size="3.30" fill="#444" text-anchor="end" font-weight="normal" stroke="#444" stroke-width="0.1">50</text>
<line x1="13.4" y1="700.6" x2="15.4" y2="700.6" stroke="#444" stroke-width="0.50"/>
<text x="12.1" y="701.8" font-size="3.30" fill="#444" text-anchor="end" font-weight="normal" stroke="#444" stroke-width="0.1">0</text>
<line x1="90.5" y1="712.0" x2="90.5" y2="714.0" stroke="#444" stroke-width="0.50"/>
<text x="90.5" y="717.1" font-size="3.30" fill="#444" text-anchor="middle" font-weight="normal" stroke="#444" stroke-width="0.1">0.4</text>
<line x1="167.6" y1="712.0" x2="167.6" y2="714.0" stroke="#444" stroke-width="0.50"/>
<text x="167.6" y="717.1" font-size="3.30" fill="#444" text-anchor="middle" font-weight="normal" stroke="#444" stroke-width="0.1">0.6</text>
<line x1="244.2" y1="712.0" x2="244.2" y2="714.0" stroke="#444" stroke-width="0.50"/>
<text x="244.2" y="717.1" font-size="3.30" fill="#444" text-anchor="middle" font-weight="normal" stroke="#444" stroke-width="0.1">0.8</text>
<text x="149.2" y="722.5" font-size="5.00" fill="#222" text-anchor="middle" font-weight="normal" stroke="#222" stroke-width="0.15">SDI</text>
<text x="5.9" y="598.6" font-size="3.9" fill="#1a1a1a" stroke="#1a1a1a" stroke-width="0.15" text-anchor="middle" transform="rotate(-90 5.9 598.6)" textLength="138.0" lengthAdjust="spacingAndGlyphs">DALYs (Disability-Adjusted Life Years) Rate per 100,000 population</text>
<text x="-0.1" y="503.2" font-size="19.30" fill="#000" text-anchor="start" font-weight="normal">C</text>
<circle cx="60.3" cy="501.7" r="1.00" fill="#D4603C"/>
<circle cx="63.4" cy="503.1" r="1.00" fill="#D4603C"/>
<circle cx="65.0" cy="502.3" r="1.00" fill="#D4603C"/>
<circle cx="67.4" cy="506.4" r="1.00" fill="#D4603C"/>
<circle cx="70.5" cy="507.8" r="1.00" fill="#D4603C"/>
<circle cx="72.6" cy="507.2" r="1.00" fill="#D4603C"/>
<circle cx="75.2" cy="512.9" r="1.00" fill="#D4603C"/>
<circle cx="77.3" cy="517.4" r="1.00" fill="#D4603C"/>
<circle cx="79.7" cy="519.7" r="1.00" fill="#D4603C"/>
<circle cx="82.2" cy="532.3" r="1.00" fill="#D4603C"/>
<circle cx="84.8" cy="539.9" r="1.00" fill="#D4603C"/>
<circle cx="87.5" cy="544.0" r="1.00" fill="#D4603C"/>
<circle cx="89.9" cy="547.3" r="1.00" fill="#D4603C"/>
<circle cx="92.0" cy="549.7" r="1.00" fill="#D4603C"/>
<circle cx="94.0" cy="556.2" r="1.00" fill="#D4603C"/>
<circle cx="96.5" cy="563.0" r="1.00" fill="#D4603C"/>
<circle cx="99.1" cy="563.0" r="1.00" fill="#D4603C"/>
<circle cx="102.2" cy="561.6" r="1.00" fill="#D4603C"/>
<circle cx="105.3" cy="563.4" r="1.00" fill="#D4603C"/>
<circle cx="108.3" cy="571.6" r="1.00" fill="#D4603C"/>
<circle cx="112.0" cy="576.3" r="1.00" fill="#D4603C"/>
<circle cx="115.5" cy="579.3" r="1.00" fill="#D4603C"/>
<circle cx="118.9" cy="584.9" r="1.00" fill="#D4603C"/>
<circle cx="122.6" cy="586.9" r="1.00" fill="#D4603C"/>
<circle cx="127.6" cy="589.3" r="1.00" fill="#D4603C"/>
<circle cx="130.7" cy="595.5" r="1.00" fill="#D4603C"/>
<circle cx="134.7" cy="602.2" r="1.00" fill="#D4603C"/>
<circle cx="138.8" cy="605.1" r="1.00" fill="#D4603C"/>
<circle cx="142.5" cy="608.8" r="1.00" fill="#D4603C"/>
<circle cx="146.0" cy="613.9" r="1.00" fill="#D4603C"/>
<circle cx="149.0" cy="618.0" r="1.00" fill="#D4603C"/>
<path d="M127.8,495.0 L130.5,495.0 L129.2,497.2 Z" fill="none" stroke="#9DA1D2" stroke-width="0.75"/>
<path d="M128.7,507.3 L131.3,507.3 L130.0,509.6 Z" fill="none" stroke="#9DA1D2" stroke-width="0.75"/>
<path d="M129.3,511.4 L132.0,511.4 L130.7,513.6 Z" fill="none" stroke="#9DA1D2" stroke-width="0.75"/>
<path d="M130.3,520.4 L133.0,520.4 L131.7,522.6 Z" fill="none" stroke="#9DA1D2" stroke-width="0.75"/>
<path d="M131.8,529.8 L134.4,529.8 L133.1,532.1 Z" fill="none" stroke="#9DA1D2" stroke-width="0.75"/>
<path d="M133.6,537.8 L136.2,537.8 L134.9,540.1 Z" fill="none" stroke="#9DA1D2" stroke-width="0.75"/>
<path d="M135.2,547.8 L137.9,547.8 L136.6,550.1 Z" fill="none" stroke="#9DA1D2" stroke-width="0.75"/>
<path d="M136.8,555.5 L139.5,555.5 L138.2,557.8 Z" fill="none" stroke="#9DA1D2" stroke-width="0.75"/>
<path d="M138.8,563.3 L141.4,563.3 L140.1,565.6 Z" fill="none" stroke="#9DA1D2" stroke-width="0.75"/>
<path d="M140.2,577.2 L142.8,577.2 L141.5,579.5 Z" fill="none" stroke="#9DA1D2" stroke-width="0.75"/>
<path d="M142.2,584.4 L144.8,584.4 L143.5,586.6 Z" fill="none" stroke="#9DA1D2" stroke-width="0.75"/>
<path d="M144.1,590.5 L146.8,590.5 L145.4,592.8 Z" fill="none" stroke="#9DA1D2" stroke-width="0.75"/>
<circle cx="293.0" cy="569.2" r="1.25" fill="#E8845E"/>
<text x="296.3" y="570.2" font-size="3.0" fill="#222" stroke="#222" stroke-width="0.07">Global</text>
<circle cx="293.0" cy="572.4" r="1.25" fill="#5EB8DC"/>
<text x="296.3" y="573.4" font-size="3.0" fill="#222" stroke="#222" stroke-width="0.07">High-income Asia Pacific</text>
<circle cx="293.0" cy="575.5" r="1.25" fill="#30A07E"/>
<text x="296.3" y="576.5" font-size="3.0" fill="#222" stroke="#222" stroke-width="0.07">High-income North America</text>
<circle cx="293.0" cy="578.7" r="1.25" fill="#4A52A0"/>
<text x="296.3" y="579.7" font-size="3.0" fill="#222" stroke="#222" stroke-width="0.07">Western Europe</text>
<circle cx="293.0" cy="581.8" r="1.25" fill="#F2B098"/>
<text x="296.3" y="582.9" font-size="3.0" fill="#222" stroke="#222" stroke-width="0.07">Australasia</text>
<circle cx="293.0" cy="585.0" r="1.25" fill="#9DA1D2"/>
<text x="296.3" y="586.0" font-size="3.0" fill="#222" stroke="#222" stroke-width="0.07">Andean Latin America</text>
<circle cx="293.0" cy="588.1" r="1.25" fill="#8ED2BC"/>
<text x="296.3" y="589.1" font-size="3.0" fill="#222" stroke="#222" stroke-width="0.07">Tropical Latin America</text>
<circle cx="293.0" cy="591.2" r="1.25" fill="#D8281A"/>
<text x="296.3" y="592.3" font-size="3.0" fill="#222" stroke="#222" stroke-width="0.07">Central Latin America</text>
<circle cx="293.0" cy="594.4" r="1.25" fill="#8A6848"/>
<text x="296.3" y="595.5" font-size="3.0" fill="#222" stroke="#222" stroke-width="0.07">Southern Latin America</text>
<circle cx="293.0" cy="597.6" r="1.25" fill="#2A3A98"/>
<text x="296.3" y="598.6" font-size="3.0" fill="#222" stroke="#222" stroke-width="0.07">Caribbean</text>
<circle cx="293.0" cy="600.7" r="1.25" fill="#E8502A"/>
<text x="296.3" y="601.8" font-size="3.0" fill="#222" stroke="#222" stroke-width="0.07">Central Europe</text>
<circle cx="293.0" cy="603.9" r="1.25" fill="#2E9A42"/>
<text x="296.3" y="604.9" font-size="3.0" fill="#222" stroke="#222" stroke-width="0.07">Eastern Europe</text>
<circle cx="293.0" cy="607.0" r="1.25" fill="#5A2888"/>
<text x="296.3" y="608.0" font-size="3.0" fill="#222" stroke="#222" stroke-width="0.07">Central Asia</text>
<circle cx="293.0" cy="610.2" r="1.25" fill="#2A8A88"/>
<text x="296.3" y="611.2" font-size="3.0" fill="#222" stroke="#222" stroke-width="0.07">North Africa and Middle East</text>
<circle cx="293.0" cy="613.3" r="1.25" fill="#D4603C"/>
<text x="296.3" y="614.4" font-size="3.0" fill="#222" stroke="#222" stroke-width="0.07">South Asia</text>
<circle cx="293.0" cy="616.5" r="1.25" fill="#9898D4"/>
<text x="296.3" y="617.5" font-size="3.0" fill="#222" stroke="#222" stroke-width="0.07">Southeast Asia</text>
<circle cx="293.0" cy="619.6" r="1.25" fill="#C85088"/>
<text x="296.3" y="620.6" font-size="3.0" fill="#222" stroke="#222" stroke-width="0.07">East Asia</text>
<circle cx="293.0" cy="622.8" r="1.25" fill="#A8A8A8"/>
<text x="296.3" y="623.8" font-size="3.0" fill="#222" stroke="#222" stroke-width="0.07">Oceania</text>
<circle cx="293.0" cy="625.9" r="1.25" fill="#D8683A"/>
<text x="296.3" y="627.0" font-size="3.0" fill="#222" stroke="#222" stroke-width="0.07">Western Sub-Saharan Africa</text>
<circle cx="293.0" cy="629.1" r="1.25" fill="#7EA6D8"/>
<text x="296.3" y="630.1" font-size="3.0" fill="#222" stroke="#222" stroke-width="0.07">Eastern Sub-Saharan Africa</text>
<circle cx="293.0" cy="632.2" r="1.25" fill="#F0A860"/>
<text x="296.3" y="633.2" font-size="3.0" fill="#222" stroke="#222" stroke-width="0.07">Central Sub-Saharan Africa</text>
<circle cx="293.0" cy="635.4" r="1.25" fill="#5A9A5A"/>
<text x="296.3" y="636.4" font-size="3.0" fill="#222" stroke="#222" stroke-width="0.07">Southern Sub-Saharan Africa</text>
<path d="M24.1,837.2 C26.8,838.6 34.3,843.0 40.4,845.4 C46.5,847.8 54.1,849.6 60.9,851.5 C67.7,853.4 74.5,855.0 81.3,856.7 C88.1,858.4 94.9,860.1 101.7,861.8 C108.5,863.5 115.8,865.3 122.2,866.9 C128.6,868.5 133.6,869.2 140.0,871.4 C146.4,873.6 153.6,876.2 160.4,880.2 C167.2,884.2 174.1,891.1 180.9,895.5 C187.7,899.9 194.5,903.5 201.3,906.7 C208.1,909.9 214.9,912.3 221.7,914.9 C228.5,917.5 235.4,920.7 242.2,922.1 C249.0,923.5 257.4,923.1 262.6,923.1 C267.8,923.1 271.4,922.3 273.2,922.1 L273.2,943.5 C271.4,942.5 267.8,939.8 262.6,937.4 C257.4,935.0 249.0,931.9 242.2,929.2 C235.4,926.5 228.5,923.5 221.7,921.0 C214.9,918.5 208.1,916.6 201.3,913.9 C194.5,911.2 187.7,909.0 180.9,904.7 C174.1,900.4 166.8,892.7 160.4,888.3 C154.0,883.9 149.0,880.6 142.6,878.1 C136.2,875.6 129.0,874.5 122.2,873.0 C115.4,871.5 108.5,870.1 101.7,868.9 C94.9,867.7 88.1,866.9 81.3,865.9 C74.5,864.9 67.7,864.0 60.9,862.8 C54.1,861.6 46.5,858.9 40.4,858.7 C34.3,858.5 26.8,861.3 24.1,861.8 Z" fill="#d4d4d4" stroke="none"/>
<path d="M121.5,810.8 C122.0,811.8 123.5,815.0 124.5,816.9 C125.5,818.8 126.6,820.4 127.6,822.1 C128.6,823.8 129.5,825.8 130.7,827.2 C131.9,828.6 133.0,829.9 134.7,830.6 C136.4,831.3 138.8,831.3 140.9,831.3 C143.0,831.3 144.8,830.2 147.0,830.6 C149.2,831.0 152.3,834.3 154.2,833.9 C156.1,833.5 156.3,829.3 158.2,828.2 C160.1,827.1 163.0,827.8 165.4,827.2 C167.8,826.6 170.7,824.6 172.6,824.5 C174.5,824.4 175.1,825.8 176.6,826.6 C178.1,827.4 180.8,828.8 181.7,829.2" fill="none" stroke="#D8281A" stroke-width="2.28" stroke-linecap="round" stroke-dasharray="0 2.53" opacity="1.00"/>
<path d="M140.2,824.6 L142.8,824.6 L141.5,826.8 Z" fill="none" stroke="#9DA1D2" stroke-width="0.75"/>
<path d="M141.4,827.6 L143.9,827.6 L142.6,829.8 Z" fill="none" stroke="#9DA1D2" stroke-width="0.75"/>
<path d="M142.6,830.9 L145.2,830.9 L143.9,833.0 Z" fill="none" stroke="#9DA1D2" stroke-width="0.75"/>
<path d="M144.0,834.0 L146.5,834.0 L145.2,836.2 Z" fill="none" stroke="#9DA1D2" stroke-width="0.75"/>
<path d="M145.4,837.0 L148.0,837.0 L146.7,839.1 Z" fill="none" stroke="#9DA1D2" stroke-width="0.75"/>
<path d="M147.0,839.8 L149.5,839.8 L148.3,841.9 Z" fill="none" stroke="#9DA1D2" stroke-width="0.75"/>
<path d="M148.6,842.3 L151.2,842.3 L149.9,844.5 Z" fill="none" stroke="#9DA1D2" stroke-width="0.75"/>
<path d="M150.5,845.0 L153.0,845.0 L151.8,847.1 Z" fill="none" stroke="#9DA1D2" stroke-width="0.75"/>
<path d="M152.4,847.4 L155.0,847.4 L153.7,849.5 Z" fill="none" stroke="#9DA1D2" stroke-width="0.75"/>
<path d="M155.0,849.2 L157.5,849.2 L156.3,851.4 Z" fill="none" stroke="#9DA1D2" stroke-width="0.75"/>
<path d="M158.2,849.5 L160.7,849.5 L159.5,851.7 Z" fill="none" stroke="#9DA1D2" stroke-width="0.75"/>
<path d="M161.0,851.1 L163.5,851.1 L162.2,853.2 Z" fill="none" stroke="#9DA1D2" stroke-width="0.75"/>
<path d="M163.3,853.1 L165.8,853.1 L164.6,855.2 Z" fill="none" stroke="#9DA1D2" stroke-width="0.75"/>
<path d="M165.4,855.4 L167.9,855.4 L166.7,857.5 Z" fill="none" stroke="#9DA1D2" stroke-width="0.75"/>
<path d="M167.3,857.8 L169.8,857.8 L168.6,859.9 Z" fill="none" stroke="#9DA1D2" stroke-width="0.75"/>
<path d="M169.5,860.2 L172.0,860.2 L170.7,862.4 Z" fill="none" stroke="#9DA1D2" stroke-width="0.75"/>
<path d="M171.7,862.5 L174.2,862.5 L172.9,864.6 Z" fill="none" stroke="#9DA1D2" stroke-width="0.75"/>
<path d="M174.3,864.1 L176.9,864.1 L175.6,866.3 Z" fill="none" stroke="#9DA1D2" stroke-width="0.75"/>
<path d="M177.4,864.0 L179.9,864.0 L178.7,866.1 Z" fill="none" stroke="#9DA1D2" stroke-width="0.75"/>
<path d="M180.6,863.6 L183.1,863.6 L181.9,865.7 Z" fill="none" stroke="#9DA1D2" stroke-width="0.75"/>
<path d="M182.9,865.4 L185.4,865.4 L184.2,867.5 Z" fill="none" stroke="#9DA1D2" stroke-width="0.75"/>
<path d="M184.2,868.3 L186.8,868.3 L185.5,870.4 Z" fill="none" stroke="#9DA1D2" stroke-width="0.75"/>
<path d="M185.3,871.1 L187.9,871.1 L186.6,873.3 Z" fill="none" stroke="#9DA1D2" stroke-width="0.75"/>
<path d="M133.4,846.4 C133.8,847.2 135.3,850.0 136.1,851.5 C136.9,853.0 137.4,853.2 138.1,855.6 C138.8,858.0 139.6,863.2 140.2,865.9 C140.8,868.6 141.4,871.0 141.6,872.0" fill="none" stroke="#2A3A98" stroke-width="2.28" stroke-linecap="round" stroke-dasharray="0 3.52" opacity="1.00"/>
<path d="M144.7,880.8 C145.7,880.9 148.9,881.1 150.8,881.2 C152.7,881.3 154.0,881.8 156.3,881.6 C158.6,881.4 162.1,880.8 164.5,880.2 C166.9,879.6 168.6,879.2 170.7,878.1 C172.8,877.0 174.9,873.7 176.8,873.4 C178.7,873.1 181.1,875.6 181.9,876.1" fill="none" stroke="#2A3A98" stroke-width="1.92" stroke-linecap="round" stroke-linejoin="round" opacity="1.00"/>
<path d="M126.3,879.5 C128.3,879.8 135.1,881.4 138.5,881.2 C141.9,881.0 144.8,879.3 146.7,878.1 C148.6,876.9 147.9,875.1 150.2,874.0 C152.5,872.9 157.0,872.1 160.4,871.4 C163.8,870.7 167.8,870.3 170.7,869.9 C173.6,869.5 175.8,868.5 177.8,868.9 C179.8,869.2 181.4,870.6 182.9,872.0 C184.4,873.4 186.3,876.2 187.0,877.1" fill="none" stroke="#8ED2BC" stroke-width="2.16" stroke-linecap="round" stroke-linejoin="round" opacity="1.00"/>
<path d="M181.9,885.3 C182.2,886.0 183.1,887.9 183.9,889.4 C184.8,890.9 185.8,892.8 187.0,894.5 C188.2,896.2 189.7,897.9 191.1,899.6 C192.5,901.3 194.5,903.9 195.2,904.7" fill="none" stroke="#E8502A" stroke-width="2.40" stroke-linecap="round" stroke-dasharray="0 3.52" opacity="1.00"/>
<path d="M190.1,891.4 C190.9,892.4 193.7,895.5 195.2,897.5 C196.7,899.5 198.1,901.7 199.3,903.7 C200.5,905.8 201.3,907.6 202.3,909.8 C203.3,912.0 203.9,915.2 205.4,916.9 C206.9,918.6 209.4,919.3 211.5,920.0 C213.6,920.7 216.7,920.8 217.7,921.0" fill="none" stroke="#2E9A42" stroke-width="2.40" stroke-linecap="round" stroke-dasharray="0 3.63" opacity="1.00"/>
<path d="M160.4,889.4 C162.1,890.8 167.3,894.8 170.7,897.5 C174.1,900.2 177.5,903.8 180.9,905.7 C184.3,907.6 187.7,908.5 191.1,908.8 C194.5,909.1 198.2,908.1 201.3,907.7 C204.4,907.4 206.9,906.7 209.5,906.7 C212.1,906.7 215.1,906.9 216.6,907.7 C218.1,908.6 218.3,911.1 218.7,911.8" fill="none" stroke="#8A6848" stroke-width="2.28" stroke-linecap="round" stroke-dasharray="0 2.09" opacity="1.00"/>
<path d="M138.5,875.0 C139.9,876.0 144.0,879.2 146.7,881.2 C149.4,883.2 152.6,885.6 154.9,887.3 C157.2,889.0 156.1,888.7 160.4,891.4 C164.7,894.1 175.8,900.8 180.9,903.7 C186.0,906.6 186.7,906.8 191.1,908.8 C195.5,910.8 204.7,914.8 207.4,916.0" fill="none" stroke="#F09C7C" stroke-width="1.80" stroke-linecap="round" stroke-linejoin="round" opacity="1.00"/>
<path d="M113.0,874.4 C114.5,875.0 119.0,876.8 122.2,878.1 C125.4,879.4 129.0,880.7 132.4,882.2 C135.8,883.7 139.5,885.4 142.6,887.3 C145.7,889.2 147.8,892.0 150.8,893.4 C153.8,894.8 155.4,893.1 160.4,895.5 C165.4,897.9 176.8,905.2 180.9,907.7 C185.0,910.2 184.3,910.3 185.0,910.8" fill="none" stroke="#9898D4" stroke-width="1.56" stroke-linecap="round" stroke-dasharray="0 2.64" opacity="1.00"/>
<path d="M118.1,877.1 C119.5,878.3 123.6,881.8 126.3,884.2 C129.0,886.6 131.3,889.7 134.4,891.4 C137.5,893.1 141.3,893.3 144.7,894.5 C148.1,895.7 152.3,897.1 154.9,898.6 C157.5,900.1 156.1,900.5 160.4,903.7 C164.7,906.9 175.1,914.4 180.9,918.0 C186.7,921.6 191.1,923.6 195.2,925.1 C199.3,926.6 202.2,926.7 205.4,927.2 C208.6,927.7 213.1,928.0 214.6,928.2" fill="none" stroke="#C85088" stroke-width="1.56" stroke-linecap="round" stroke-dasharray="0 3.74" opacity="1.00"/>
<path d="M128.3,913.5 C130.0,913.4 135.4,914.0 138.5,912.9 C141.6,911.8 144.8,907.7 146.7,906.7 C148.6,905.7 147.9,907.0 150.2,906.7 C152.5,906.4 157.0,904.9 160.4,904.7 C163.8,904.5 167.6,904.9 170.7,905.7 C173.8,906.6 176.9,908.4 178.8,909.8 C180.7,911.2 181.4,913.2 181.9,913.9" fill="none" stroke="#5A9A5A" stroke-width="2.16" stroke-linecap="round" stroke-linejoin="round" opacity="1.00"/>
<path d="M101.7,886.3 C103.4,887.0 108.6,889.2 112.0,890.4 C115.4,891.6 118.8,892.4 122.2,893.4 C125.6,894.4 129.0,895.3 132.4,896.5 C135.8,897.7 139.5,898.9 142.6,900.6 C145.7,902.3 147.8,904.5 150.8,906.7 C153.8,908.9 157.1,912.2 160.4,913.9 C163.7,915.6 167.3,916.0 170.7,916.9 C174.1,917.8 177.8,918.4 180.9,919.0 C184.0,919.6 187.7,920.2 189.0,920.4" fill="none" stroke="#2A8A88" stroke-width="2.40" stroke-linecap="round" stroke-dasharray="0 2.75" opacity="1.00"/>
<path d="M148.2,906.7 C148.9,907.4 150.6,908.6 152.3,910.8 C154.0,913.0 156.4,917.5 158.4,920.0 C160.4,922.5 162.1,924.4 164.5,926.1 C166.9,927.8 170.0,929.5 172.7,930.2 C175.4,931.0 178.2,930.4 180.9,930.6 C183.6,930.8 186.6,931.1 189.0,931.3 C191.4,931.5 194.2,931.8 195.2,931.9" fill="none" stroke="#5A2888" stroke-width="2.64" stroke-linecap="round" stroke-linejoin="round" opacity="1.00"/>
<path d="M84.4,910.2 C85.9,910.8 90.9,912.6 93.6,913.9 C96.3,915.2 98.7,917.5 100.7,918.0 C102.7,918.5 103.6,916.4 105.8,916.9 C108.0,917.4 112.6,920.3 114.0,921.0" fill="none" stroke="#A8A8A8" stroke-width="1.08" stroke-linecap="round" stroke-linejoin="round" opacity="1.00"/>
<path d="M23.1,857.1 C25.3,857.5 30.1,857.6 36.4,859.7 C42.7,861.8 53.4,867.0 60.9,869.9 C68.4,872.8 76.0,875.0 81.3,877.1 C86.6,879.2 90.7,881.4 92.6,882.2" fill="none" stroke="#7EA6D8" stroke-width="1.80" stroke-linecap="round" stroke-dasharray="0 2.64" opacity="1.00"/>
<path d="M38.4,845.4 C40.1,846.1 45.9,847.6 48.6,849.5 C51.3,851.4 53.3,854.7 54.7,856.7 C56.1,858.8 55.8,859.8 56.8,861.8 C57.8,863.8 59.5,866.9 60.9,868.9 C62.3,870.9 63.0,872.1 65.0,874.0 C67.0,875.9 70.4,878.7 73.1,880.2 C75.8,881.7 78.2,882.2 81.3,883.2 C84.4,884.2 88.1,885.1 91.5,886.3 C94.9,887.5 99.1,889.2 101.7,890.4 C104.3,891.6 106.0,892.9 106.9,893.4" fill="none" stroke="#D8683A" stroke-width="2.28" stroke-linecap="round" stroke-dasharray="0 2.20" opacity="1.00"/>
<path d="M49.6,869.5 C51.5,869.6 57.3,869.5 60.9,869.9 C64.5,870.3 67.7,871.5 71.1,872.0 C74.5,872.5 77.9,872.7 81.3,873.0 C84.7,873.3 88.1,873.3 91.5,874.0 C94.9,874.7 97.6,875.6 101.7,877.1 C105.8,878.6 113.7,882.2 116.1,883.2" fill="none" stroke="#F0A860" stroke-width="2.16" stroke-linecap="round" stroke-dasharray="0 2.53" opacity="1.00"/>
<path d="M220.6,909.0 L222.8,909.0 L221.7,910.9 Z" fill="none" stroke="#30A07E" stroke-width="0.75"/>
<path d="M223.3,910.7 L225.5,910.7 L224.4,912.6 Z" fill="none" stroke="#30A07E" stroke-width="0.75"/>
<path d="M226.1,912.4 L228.3,912.4 L227.2,914.3 Z" fill="none" stroke="#30A07E" stroke-width="0.75"/>
<path d="M229.0,914.1 L231.3,914.1 L230.2,916.1 Z" fill="none" stroke="#30A07E" stroke-width="0.75"/>
<path d="M231.7,915.5 L234.0,915.5 L232.9,917.4 Z" fill="none" stroke="#30A07E" stroke-width="0.75"/>
<path d="M234.4,916.7 L236.7,916.7 L235.6,918.7 Z" fill="none" stroke="#30A07E" stroke-width="0.75"/>
<path d="M237.6,918.0 L239.8,918.0 L238.7,919.9 Z" fill="none" stroke="#30A07E" stroke-width="0.75"/>
<path d="M240.4,919.0 L242.6,919.0 L241.5,920.9 Z" fill="none" stroke="#30A07E" stroke-width="0.75"/>
<path d="M243.3,919.6 L245.6,919.6 L244.5,921.5 Z" fill="none" stroke="#30A07E" stroke-width="0.75"/>
<path d="M246.3,919.9 L248.6,919.9 L247.5,921.8 Z" fill="none" stroke="#30A07E" stroke-width="0.75"/>
<path d="M249.0,921.2 L251.3,921.2 L250.1,923.2 Z" fill="none" stroke="#30A07E" stroke-width="0.75"/>
<path d="M251.6,923.1 L253.9,923.1 L252.8,925.0 Z" fill="none" stroke="#30A07E" stroke-width="0.75"/>
<path d="M254.2,924.7 L256.4,924.7 L255.3,926.7 Z" fill="none" stroke="#30A07E" stroke-width="0.75"/>
<path d="M257.2,926.0 L259.4,926.0 L258.3,927.9 Z" fill="none" stroke="#30A07E" stroke-width="0.75"/>
<path d="M260.4,926.9 L262.6,926.9 L261.5,928.8 Z" fill="none" stroke="#30A07E" stroke-width="0.75"/>
<path d="M263.6,927.7 L265.8,927.7 L264.7,929.6 Z" fill="none" stroke="#30A07E" stroke-width="0.75"/>
<path d="M266.6,928.4 L268.8,928.4 L267.7,930.3 Z" fill="none" stroke="#30A07E" stroke-width="0.75"/>
<path d="M221.7,909.8 C224.4,911.5 233.0,917.3 238.1,920.0 C243.2,922.7 247.6,924.4 252.4,926.1 C257.2,927.8 264.3,929.5 266.7,930.2" fill="none" stroke="#4A52A0" stroke-width="1.56" stroke-linecap="round" stroke-linejoin="round" opacity="1.00"/>
<path d="M227.9,928.2 C230.3,928.7 237.8,930.4 242.2,931.3 C246.6,932.1 249.1,932.4 254.4,933.3 C259.7,934.1 270.6,935.9 273.9,936.4" fill="none" stroke="#5EB8DC" stroke-width="1.80" stroke-linecap="round" stroke-linejoin="round" opacity="1.00"/>
<path d="M207.4,916.0 C209.8,917.0 215.9,920.1 221.7,922.1 C227.5,924.1 235.4,926.7 242.2,928.2 C249.0,929.7 257.5,930.6 262.6,931.3 C267.7,932.0 271.1,932.1 272.8,932.3" fill="none" stroke="#F2B098" stroke-width="2.16" stroke-linecap="round" stroke-dasharray="0 1.98" opacity="1.00"/>
<path d="M24.1,849.5 C26.8,850.0 34.3,851.0 40.4,852.2 C46.5,853.4 54.1,855.2 60.9,856.7 C67.7,858.2 74.5,859.8 81.3,861.2 C88.1,862.6 94.9,863.8 101.7,865.2 C108.5,866.7 115.8,868.4 122.2,869.9 C128.6,871.4 135.3,872.8 140.0,874.0 C144.7,875.2 146.8,875.6 150.2,877.1 C153.6,878.6 157.0,880.8 160.4,883.2 C163.8,885.6 167.3,888.7 170.7,891.4 C174.1,894.1 177.5,897.2 180.9,899.6 C184.3,902.0 187.7,904.0 191.1,905.7 C194.5,907.4 197.9,908.4 201.3,909.8 C204.7,911.2 208.1,912.5 211.5,913.9 C214.9,915.3 218.3,916.6 221.7,918.0 C225.1,919.4 228.6,920.8 232.0,922.1 C235.4,923.5 238.8,924.9 242.2,926.1 C245.6,927.3 249.0,928.3 252.4,929.2 C255.8,930.1 259.2,930.7 262.6,931.3 C266.0,931.9 271.1,932.5 272.8,932.7" fill="none" stroke="#7F9ACF" stroke-width="2.6" stroke-linecap="round" opacity="0.95"/>
<line x1="11.5" y1="734.0" x2="11.5" y2="954.8" stroke="#3a3a3a" stroke-width="1.50"/>
<line x1="10.8" y1="954.1" x2="286.0" y2="954.1" stroke="#3a3a3a" stroke-width="1.50"/>
<line x1="9.5" y1="791.3" x2="11.5" y2="791.3" stroke="#444" stroke-width="0.50"/>
<text x="8.2" y="792.4" font-size="3.30" fill="#444" text-anchor="end" font-weight="normal" stroke="#444" stroke-width="0.1">6</text>
<line x1="9.5" y1="841.7" x2="11.5" y2="841.7" stroke="#444" stroke-width="0.50"/>
<text x="8.2" y="842.9" font-size="3.30" fill="#444" text-anchor="end" font-weight="normal" stroke="#444" stroke-width="0.1">4</text>
<line x1="9.5" y1="892.6" x2="11.5" y2="892.6" stroke="#444" stroke-width="0.50"/>
<text x="8.2" y="893.8" font-size="3.30" fill="#444" text-anchor="end" font-weight="normal" stroke="#444" stroke-width="0.1">2</text>
<line x1="9.5" y1="943.6" x2="11.5" y2="943.6" stroke="#444" stroke-width="0.50"/>
<text x="8.2" y="944.8" font-size="3.30" fill="#444" text-anchor="end" font-weight="normal" stroke="#444" stroke-width="0.1">0</text>
<line x1="88.5" y1="954.1" x2="88.5" y2="956.1" stroke="#444" stroke-width="0.50"/>
<text x="88.5" y="959.2" font-size="3.30" fill="#444" text-anchor="middle" font-weight="normal" stroke="#444" stroke-width="0.1">0.4</text>
<line x1="165.5" y1="954.1" x2="165.5" y2="956.1" stroke="#444" stroke-width="0.50"/>
<text x="165.5" y="959.2" font-size="3.30" fill="#444" text-anchor="middle" font-weight="normal" stroke="#444" stroke-width="0.1">0.6</text>
<line x1="243.2" y1="954.1" x2="243.2" y2="956.1" stroke="#444" stroke-width="0.50"/>
<text x="243.2" y="959.2" font-size="3.30" fill="#444" text-anchor="middle" font-weight="normal" stroke="#444" stroke-width="0.1">0.8</text>
<text x="148.3" y="964.6" font-size="5.00" fill="#222" text-anchor="middle" font-weight="normal" stroke="#222" stroke-width="0.15">SDI</text>
<text x="5.5" y="836.5" font-size="3.9" fill="#1a1a1a" stroke="#1a1a1a" stroke-width="0.15" text-anchor="middle" transform="rotate(-90 5.5 836.5)" textLength="67.4" lengthAdjust="spacingAndGlyphs">Deaths Rate per 100,000 population</text>
<text x="-0.1" y="741.6" font-size="17.60" fill="#000" text-anchor="start" font-weight="normal">D</text>
<circle cx="56.9" cy="738.0" r="1.00" fill="#D4603C"/>
<circle cx="59.6" cy="740.0" r="1.00" fill="#D4603C"/>
<circle cx="61.8" cy="737.7" r="1.00" fill="#D4603C"/>
<circle cx="63.9" cy="741.2" r="1.00" fill="#D4603C"/>
<circle cx="66.6" cy="742.6" r="1.00" fill="#D4603C"/>
<circle cx="69.2" cy="740.4" r="1.00" fill="#D4603C"/>
<circle cx="71.5" cy="746.6" r="1.00" fill="#D4603C"/>
<circle cx="74.1" cy="752.3" r="1.00" fill="#D4603C"/>
<circle cx="76.9" cy="755.0" r="1.00" fill="#D4603C"/>
<circle cx="79.1" cy="768.3" r="1.00" fill="#D4603C"/>
<circle cx="81.8" cy="776.0" r="1.00" fill="#D4603C"/>
<circle cx="84.1" cy="779.7" r="1.00" fill="#D4603C"/>
<circle cx="86.4" cy="782.6" r="1.00" fill="#D4603C"/>
<circle cx="88.8" cy="783.8" r="1.00" fill="#D4603C"/>
<circle cx="90.9" cy="789.4" r="1.00" fill="#D4603C"/>
<circle cx="93.7" cy="796.7" r="1.00" fill="#D4603C"/>
<circle cx="96.6" cy="796.1" r="1.00" fill="#D4603C"/>
<circle cx="99.8" cy="793.7" r="1.00" fill="#D4603C"/>
<circle cx="102.7" cy="796.1" r="1.00" fill="#D4603C"/>
<circle cx="105.8" cy="806.0" r="1.00" fill="#D4603C"/>
<circle cx="109.5" cy="811.6" r="1.00" fill="#D4603C"/>
<circle cx="113.0" cy="815.7" r="1.00" fill="#D4603C"/>
<circle cx="116.5" cy="821.0" r="1.00" fill="#D4603C"/>
<circle cx="120.4" cy="819.0" r="1.00" fill="#D4603C"/>
<circle cx="132.7" cy="835.3" r="1.00" fill="#D4603C"/>
<circle cx="136.8" cy="839.4" r="1.00" fill="#D4603C"/>
<circle cx="140.3" cy="844.1" r="1.00" fill="#D4603C"/>
<circle cx="143.9" cy="849.6" r="1.00" fill="#D4603C"/>
<circle cx="147.0" cy="853.7" r="1.00" fill="#D4603C"/>
<circle cx="149.0" cy="857.8" r="1.00" fill="#D4603C"/>
<path d="M125.2,736.3 L127.9,736.3 L126.6,738.6 Z" fill="none" stroke="#9DA1D2" stroke-width="0.75"/>
<path d="M126.2,749.2 L128.9,749.2 L127.6,751.5 Z" fill="none" stroke="#9DA1D2" stroke-width="0.75"/>
<path d="M127.2,753.3 L129.9,753.3 L128.6,755.6 Z" fill="none" stroke="#9DA1D2" stroke-width="0.75"/>
<path d="M128.2,762.5 L130.9,762.5 L129.6,764.8 Z" fill="none" stroke="#9DA1D2" stroke-width="0.75"/>
<path d="M129.8,771.7 L132.4,771.7 L131.1,774.0 Z" fill="none" stroke="#9DA1D2" stroke-width="0.75"/>
<path d="M131.3,778.9 L134.0,778.9 L132.7,781.1 Z" fill="none" stroke="#9DA1D2" stroke-width="0.75"/>
<path d="M133.0,788.5 L135.7,788.5 L134.3,790.8 Z" fill="none" stroke="#9DA1D2" stroke-width="0.75"/>
<path d="M134.8,796.0 L137.5,796.0 L136.2,798.2 Z" fill="none" stroke="#9DA1D2" stroke-width="0.75"/>
<path d="M136.7,803.4 L139.3,803.4 L138.0,805.6 Z" fill="none" stroke="#9DA1D2" stroke-width="0.75"/>
<path d="M138.1,817.5 L140.8,817.5 L139.4,819.8 Z" fill="none" stroke="#9DA1D2" stroke-width="0.75"/>
<path d="M140.2,824.6 L142.8,824.6 L141.5,826.9 Z" fill="none" stroke="#9DA1D2" stroke-width="0.75"/>
<circle cx="292.8" cy="810.9" r="1.25" fill="#E8845E"/>
<text x="296.1" y="811.9" font-size="3.0" fill="#222" stroke="#222" stroke-width="0.07">Global</text>
<circle cx="292.8" cy="814.0" r="1.25" fill="#5EB8DC"/>
<text x="296.1" y="815.1" font-size="3.0" fill="#222" stroke="#222" stroke-width="0.07">High-income Asia Pacific</text>
<circle cx="292.8" cy="817.2" r="1.25" fill="#30A07E"/>
<text x="296.1" y="818.2" font-size="3.0" fill="#222" stroke="#222" stroke-width="0.07">High-income North America</text>
<circle cx="292.8" cy="820.4" r="1.25" fill="#4A52A0"/>
<text x="296.1" y="821.4" font-size="3.0" fill="#222" stroke="#222" stroke-width="0.07">Western Europe</text>
<circle cx="292.8" cy="823.5" r="1.25" fill="#F2B098"/>
<text x="296.1" y="824.5" font-size="3.0" fill="#222" stroke="#222" stroke-width="0.07">Australasia</text>
<circle cx="292.8" cy="826.6" r="1.25" fill="#9DA1D2"/>
<text x="296.1" y="827.7" font-size="3.0" fill="#222" stroke="#222" stroke-width="0.07">Andean Latin America</text>
<circle cx="292.8" cy="829.8" r="1.25" fill="#8ED2BC"/>
<text x="296.1" y="830.8" font-size="3.0" fill="#222" stroke="#222" stroke-width="0.07">Tropical Latin America</text>
<circle cx="292.8" cy="832.9" r="1.25" fill="#D8281A"/>
<text x="296.1" y="834.0" font-size="3.0" fill="#222" stroke="#222" stroke-width="0.07">Central Latin America</text>
<circle cx="292.8" cy="836.1" r="1.25" fill="#8A6848"/>
<text x="296.1" y="837.1" font-size="3.0" fill="#222" stroke="#222" stroke-width="0.07">Southern Latin America</text>
<circle cx="292.8" cy="839.2" r="1.25" fill="#2A3A98"/>
<text x="296.1" y="840.3" font-size="3.0" fill="#222" stroke="#222" stroke-width="0.07">Caribbean</text>
<circle cx="292.8" cy="842.4" r="1.25" fill="#E8502A"/>
<text x="296.1" y="843.4" font-size="3.0" fill="#222" stroke="#222" stroke-width="0.07">Central Europe</text>
<circle cx="292.8" cy="845.5" r="1.25" fill="#2E9A42"/>
<text x="296.1" y="846.6" font-size="3.0" fill="#222" stroke="#222" stroke-width="0.07">Eastern Europe</text>
<circle cx="292.8" cy="848.7" r="1.25" fill="#5A2888"/>
<text x="296.1" y="849.7" font-size="3.0" fill="#222" stroke="#222" stroke-width="0.07">Central Asia</text>
<circle cx="292.8" cy="851.9" r="1.25" fill="#2A8A88"/>
<text x="296.1" y="852.9" font-size="3.0" fill="#222" stroke="#222" stroke-width="0.07">North Africa and Middle East</text>
<circle cx="292.8" cy="855.0" r="1.25" fill="#D4603C"/>
<text x="296.1" y="856.0" font-size="3.0" fill="#222" stroke="#222" stroke-width="0.07">South Asia</text>
<circle cx="292.8" cy="858.1" r="1.25" fill="#9898D4"/>
<text x="296.1" y="859.2" font-size="3.0" fill="#222" stroke="#222" stroke-width="0.07">Southeast Asia</text>
<circle cx="292.8" cy="861.3" r="1.25" fill="#C85088"/>
<text x="296.1" y="862.3" font-size="3.0" fill="#222" stroke="#222" stroke-width="0.07">East Asia</text>
<circle cx="292.8" cy="864.4" r="1.25" fill="#A8A8A8"/>
<text x="296.1" y="865.5" font-size="3.0" fill="#222" stroke="#222" stroke-width="0.07">Oceania</text>
<circle cx="292.8" cy="867.6" r="1.25" fill="#D8683A"/>
<text x="296.1" y="868.6" font-size="3.0" fill="#222" stroke="#222" stroke-width="0.07">Western Sub-Saharan Africa</text>
<circle cx="292.8" cy="870.8" r="1.25" fill="#7EA6D8"/>
<text x="296.1" y="871.8" font-size="3.0" fill="#222" stroke="#222" stroke-width="0.07">Eastern Sub-Saharan Africa</text>
<circle cx="292.8" cy="873.9" r="1.25" fill="#F0A860"/>
<text x="296.1" y="874.9" font-size="3.0" fill="#222" stroke="#222" stroke-width="0.07">Central Sub-Saharan Africa</text>
<circle cx="292.8" cy="877.0" r="1.25" fill="#5A9A5A"/>
<text x="296.1" y="878.1" font-size="3.0" fill="#222" stroke="#222" stroke-width="0.07">Southern Sub-Saharan Africa</text>
<path d="M383.7,156.7 C386.8,157.6 396.4,160.6 402.2,162.0 C407.9,163.4 412.8,164.6 418.2,165.3 C423.6,166.0 428.9,166.1 434.3,166.1 C439.7,166.1 445.4,166.2 450.4,165.3 C455.3,164.4 459.1,162.2 464.0,160.5 C468.9,158.8 474.6,157.0 480.0,155.0 C485.4,153.0 490.8,150.2 496.1,148.5 C501.4,146.8 506.6,146.0 512.0,144.5 C517.4,143.0 522.9,141.2 528.2,139.5 C533.5,137.8 538.7,135.9 544.0,134.0 C549.3,132.1 555.7,129.6 560.0,128.0 C564.3,126.4 566.7,126.2 570.0,124.5 C573.3,122.8 576.6,120.1 580.0,117.6 C583.4,115.1 586.8,112.6 590.2,109.5 C593.6,106.4 597.0,102.8 600.4,99.2 C603.8,95.6 607.2,92.1 610.6,88.0 C614.0,83.9 617.5,79.6 620.9,74.7 C624.3,69.8 628.1,63.4 631.0,58.4 C633.9,53.4 636.1,49.4 638.0,45.0 C639.9,40.6 641.8,34.4 642.6,32.3 L642.6,76.9 C640.8,77.1 635.4,76.0 632.0,78.0 C628.6,80.0 625.9,84.7 622.3,89.0 C618.6,93.3 615.0,98.7 610.1,104.0 C605.2,109.3 598.5,116.1 592.6,121.0 C586.8,125.9 580.4,130.2 575.0,133.5 C569.6,136.8 565.6,138.8 560.4,141.1 C555.2,143.3 549.4,145.0 544.0,147.0 C538.6,149.0 533.5,150.9 528.2,153.1 C522.9,155.3 517.4,157.7 512.0,160.0 C506.6,162.3 501.4,164.7 496.1,166.8 C490.8,168.9 485.4,170.6 480.0,172.5 C474.6,174.4 468.9,176.3 464.0,178.0 C459.1,179.7 455.3,181.0 450.4,182.9 C445.4,184.8 439.7,187.0 434.3,189.3 C428.9,191.6 423.6,194.1 418.2,196.6 C412.8,199.1 407.9,201.5 402.2,204.6 C396.4,207.7 386.8,213.3 383.7,215.0 Z" fill="#d6d6d6" stroke="none"/>
<path d="M384.2,186.0 C387.2,185.6 396.5,184.5 402.2,183.7 C407.9,182.9 412.8,182.1 418.2,181.3 C423.6,180.5 428.9,180.1 434.3,178.9 C439.7,177.7 445.4,175.6 450.4,174.1 C455.3,172.6 459.1,171.6 464.0,170.0 C468.9,168.4 474.6,166.3 480.0,164.3 C485.4,162.3 490.7,159.8 496.1,157.9 C501.5,156.0 506.9,155.0 512.2,153.1 C517.6,151.2 522.9,148.7 528.2,146.7 C533.6,144.7 538.9,143.0 544.3,141.1 C549.7,139.2 555.3,137.6 560.4,135.4 C565.5,133.2 569.6,131.0 575.0,127.8 C580.4,124.6 586.8,120.5 592.6,116.0 C598.5,111.5 605.7,104.7 610.1,100.5 C614.5,96.3 615.9,94.2 618.8,90.7 C621.7,87.2 624.8,83.3 627.6,79.3 C630.4,75.2 632.8,70.7 635.4,66.4 C638.0,62.1 642.0,55.8 643.3,53.7" fill="none" stroke="#687a90" stroke-width="2.50" stroke-linecap="round"/>
<line x1="354.0" y1="1.0" x2="354.0" y2="228.6" stroke="#3a3a3a" stroke-width="1.50"/>
<line x1="353.3" y1="227.9" x2="683.0" y2="227.9" stroke="#3a3a3a" stroke-width="1.50"/>
<line x1="352.0" y1="35.9" x2="354.0" y2="35.9" stroke="#444" stroke-width="0.50"/>
<text x="351.0" y="37.1" font-size="3.50" fill="#444" text-anchor="end" font-weight="normal" stroke="#444" stroke-width="0.1">5</text>
<line x1="352.0" y1="74.0" x2="354.0" y2="74.0" stroke="#444" stroke-width="0.50"/>
<text x="351.0" y="75.2" font-size="3.50" fill="#444" text-anchor="end" font-weight="normal" stroke="#444" stroke-width="0.1">4</text>
<line x1="352.0" y1="112.1" x2="354.0" y2="112.1" stroke="#444" stroke-width="0.50"/>
<text x="351.0" y="113.3" font-size="3.50" fill="#444" text-anchor="end" font-weight="normal" stroke="#444" stroke-width="0.1">3</text>
<line x1="352.0" y1="150.2" x2="354.0" y2="150.2" stroke="#444" stroke-width="0.50"/>
<text x="351.0" y="151.4" font-size="3.50" fill="#444" text-anchor="end" font-weight="normal" stroke="#444" stroke-width="0.1">2</text>
<line x1="352.0" y1="188.3" x2="354.0" y2="188.3" stroke="#444" stroke-width="0.50"/>
<text x="351.0" y="189.5" font-size="3.50" fill="#444" text-anchor="end" font-weight="normal" stroke="#444" stroke-width="0.1">1</text>
<line x1="352.0" y1="226.4" x2="354.0" y2="226.4" stroke="#444" stroke-width="0.50"/>
<text x="351.0" y="227.6" font-size="3.50" fill="#444" text-anchor="end" font-weight="normal" stroke="#444" stroke-width="0.1">0</text>
<line x1="368.9" y1="227.9" x2="368.9" y2="229.9" stroke="#444" stroke-width="0.50"/>
<text x="368.9" y="232.9" font-size="3.50" fill="#444" text-anchor="middle" font-weight="normal" stroke="#444" stroke-width="0.1">0.2</text>
<line x1="406.3" y1="227.9" x2="406.3" y2="229.9" stroke="#444" stroke-width="0.50"/>
<text x="406.3" y="232.9" font-size="3.50" fill="#444" text-anchor="middle" font-weight="normal" stroke="#444" stroke-width="0.1">0.3</text>
<line x1="443.8" y1="227.9" x2="443.8" y2="229.9" stroke="#444" stroke-width="0.50"/>
<text x="443.8" y="232.9" font-size="3.50" fill="#444" text-anchor="middle" font-weight="normal" stroke="#444" stroke-width="0.1">0.4</text>
<line x1="481.2" y1="227.9" x2="481.2" y2="229.9" stroke="#444" stroke-width="0.50"/>
<text x="481.2" y="232.9" font-size="3.50" fill="#444" text-anchor="middle" font-weight="normal" stroke="#444" stroke-width="0.1">0.5</text>
<line x1="518.7" y1="227.9" x2="518.7" y2="229.9" stroke="#444" stroke-width="0.50"/>
<text x="518.7" y="232.9" font-size="3.50" fill="#444" text-anchor="middle" font-weight="normal" stroke="#444" stroke-width="0.1">0.6</text>
<line x1="556.1" y1="227.9" x2="556.1" y2="229.9" stroke="#444" stroke-width="0.50"/>
<text x="556.1" y="232.9" font-size="3.50" fill="#444" text-anchor="middle" font-weight="normal" stroke="#444" stroke-width="0.1">0.7</text>
<line x1="593.5" y1="227.9" x2="593.5" y2="229.9" stroke="#444" stroke-width="0.50"/>
<text x="593.5" y="232.9" font-size="3.50" fill="#444" text-anchor="middle" font-weight="normal" stroke="#444" stroke-width="0.1">0.8</text>
<line x1="631.0" y1="227.9" x2="631.0" y2="229.9" stroke="#444" stroke-width="0.50"/>
<text x="631.0" y="232.9" font-size="3.50" fill="#444" text-anchor="middle" font-weight="normal" stroke="#444" stroke-width="0.1">0.9</text>
<line x1="668.4" y1="227.9" x2="668.4" y2="229.9" stroke="#444" stroke-width="0.50"/>
<text x="668.4" y="232.9" font-size="3.50" fill="#444" text-anchor="middle" font-weight="normal" stroke="#444" stroke-width="0.1">1.0</text>
<text x="518.5" y="238.4" font-size="5.00" fill="#222" text-anchor="middle" font-weight="normal" stroke="#222" stroke-width="0.15">SDI</text>
<text x="348.0" y="112.5" font-size="3.9" fill="#1a1a1a" stroke="#1a1a1a" stroke-width="0.15" text-anchor="middle" transform="rotate(-90 348.0 112.5)" textLength="80.0" lengthAdjust="spacingAndGlyphs">Prevalence Rate per 100,000 population</text>
<text x="335.4" y="18.0" font-size="18.40" fill="#000" text-anchor="start" font-weight="normal">E</text>
<circle cx="486.0" cy="23.3" r="0.8" fill="#2DAF63"/>
<text x="483.3" y="21.2" font-size="3.75" fill="#2DAF63" stroke="#2DAF63" stroke-width="0.05" textLength="14.7" lengthAdjust="spacingAndGlyphs">Honduras</text>
<circle cx="539.0" cy="11.6" r="0.8" fill="#B0A12C"/>
<text x="527.0" y="9.5" font-size="3.75" fill="#B0A12C" stroke="#B0A12C" stroke-width="0.05" textLength="14.9" lengthAdjust="spacingAndGlyphs">Colombia</text>
<line x1="545.1" y1="18.0" x2="544.3" y2="15.7" stroke="#B0A12C" stroke-width="0.4"/>
<circle cx="544.3" cy="15.7" r="0.8" fill="#B0A12C"/>
<text x="545.1" y="20.6" font-size="3.75" fill="#B0A12C" stroke="#B0A12C" stroke-width="0.05" textLength="8.0" lengthAdjust="spacingAndGlyphs">Cuba</text>
<circle cx="542.7" cy="27.6" r="0.8" fill="#2EA4E4"/>
<text x="532.3" y="32.1" font-size="3.75" fill="#2EA4E4" stroke="#2EA4E4" stroke-width="0.05" textLength="11.2" lengthAdjust="spacingAndGlyphs">Mexico</text>
<circle cx="490.0" cy="57.0" r="0.8" fill="#2EA4E4"/>
<text x="486.2" y="54.8" font-size="3.75" fill="#2EA4E4" stroke="#2EA4E4" stroke-width="0.05" textLength="16.7" lengthAdjust="spacingAndGlyphs">Nicaragua</text>
<circle cx="556.0" cy="53.0" r="0.8" fill="#B0A12C"/>
<text x="542.4" y="51.1" font-size="3.75" fill="#B0A12C" stroke="#B0A12C" stroke-width="0.05" textLength="17.6" lengthAdjust="spacingAndGlyphs">Costa Rica</text>
<line x1="542.7" y1="69.6" x2="541.6" y2="71.1" stroke="#6058D4" stroke-width="0.4"/>
<circle cx="541.6" cy="71.1" r="0.8" fill="#6058D4"/>
<text x="542.7" y="69.6" font-size="3.75" fill="#6058D4" stroke="#6058D4" stroke-width="0.05" textLength="7.2" lengthAdjust="spacingAndGlyphs">Peru</text>
<line x1="563.6" y1="72.0" x2="563.7" y2="74.5" stroke="#B0A12C" stroke-width="0.4"/>
<circle cx="563.7" cy="74.5" r="0.8" fill="#B0A12C"/>
<text x="554.7" y="72.0" font-size="3.75" fill="#B0A12C" stroke="#B0A12C" stroke-width="0.05" textLength="8.9" lengthAdjust="spacingAndGlyphs">Chile</text>
<line x1="515.5" y1="77.7" x2="518.2" y2="77.7" stroke="#D99224" stroke-width="0.4"/>
<circle cx="518.2" cy="77.7" r="0.8" fill="#D99224"/>
<text x="468.9" y="79.2" font-size="3.75" fill="#D99224" stroke="#D99224" stroke-width="0.05" textLength="46.6" lengthAdjust="spacingAndGlyphs">Bolivia (Plurinational State of)</text>
<circle cx="625.7" cy="24.3" r="0.8" fill="#D6449C"/>
<text x="614.5" y="22.0" font-size="3.75" fill="#D6449C" stroke="#D6449C" stroke-width="0.05" textLength="12.7" lengthAdjust="spacingAndGlyphs">Nigeria</text>
<circle cx="636.3" cy="26.9" r="0.8" fill="#2EA4E4"/>
<text x="635.7" y="25.0" font-size="3.75" fill="#2EA4E4" stroke="#2EA4E4" stroke-width="0.05" textLength="11.8" lengthAdjust="spacingAndGlyphs">Norway</text>
<circle cx="643.3" cy="29.6" r="0.8" fill="#D6449C"/>
<text x="638.4" y="34.5" font-size="3.75" fill="#D6449C" stroke="#D6449C" stroke-width="0.05" textLength="18.5" lengthAdjust="spacingAndGlyphs">Switzerland</text>
<circle cx="597.6" cy="41.3" r="0.8" fill="#6058D4"/>
<text x="597.2" y="39.4" font-size="3.75" fill="#6058D4" stroke="#6058D4" stroke-width="0.05" textLength="10.5" lengthAdjust="spacingAndGlyphs">Poland</text>
<circle cx="629.3" cy="42.8" r="0.8" fill="#68B82E"/>
<text x="627.2" y="40.5" font-size="3.75" fill="#68B82E" stroke="#68B82E" stroke-width="0.05" textLength="13.4" lengthAdjust="spacingAndGlyphs">Denmark</text>
<circle cx="616.0" cy="58.0" r="0.8" fill="#2DAF63"/>
<text x="616.6" y="56.8" font-size="3.75" fill="#2DAF63" stroke="#2DAF63" stroke-width="0.05" textLength="11.9" lengthAdjust="spacingAndGlyphs">Finland</text>
<line x1="615.1" y1="57.4" x2="616.6" y2="61.8" stroke="#EA4444" stroke-width="0.4"/>
<circle cx="616.6" cy="61.8" r="0.8" fill="#EA4444"/>
<text x="573.9" y="57.4" font-size="3.75" fill="#EA4444" stroke="#EA4444" stroke-width="0.05" textLength="41.2" lengthAdjust="spacingAndGlyphs">United States of America</text>
<line x1="583.4" y1="61.4" x2="589.7" y2="61.4" stroke="#2DAF63" stroke-width="0.4"/>
<circle cx="589.7" cy="61.4" r="0.8" fill="#2DAF63"/>
<text x="569.6" y="63.1" font-size="3.75" fill="#2DAF63" stroke="#2DAF63" stroke-width="0.05" textLength="13.8" lengthAdjust="spacingAndGlyphs">Hungary</text>
<circle cx="620.5" cy="62.0" r="0.8" fill="#D99224"/>
<text x="622.7" y="64.6" font-size="3.75" fill="#D99224" stroke="#D99224" stroke-width="0.05" textLength="11.8" lengthAdjust="spacingAndGlyphs">Czechia</text>
<circle cx="608.8" cy="69.0" r="0.8" fill="#A055C8"/>
<text x="598.2" y="66.9" font-size="3.75" fill="#A055C8" stroke="#A055C8" stroke-width="0.05" textLength="13.1" lengthAdjust="spacingAndGlyphs">Slovenia</text>
<line x1="614.1" y1="70.5" x2="613.0" y2="72.6" stroke="#D99224" stroke-width="0.4"/>
<circle cx="613.0" cy="72.6" r="0.8" fill="#D99224"/>
<text x="614.1" y="70.5" font-size="3.75" fill="#D99224" stroke="#D99224" stroke-width="0.05" textLength="12.7" lengthAdjust="spacingAndGlyphs">Belgium</text>
<line x1="580.2" y1="74.8" x2="580.2" y2="77.9" stroke="#D99224" stroke-width="0.4"/>
<circle cx="580.2" cy="77.9" r="0.8" fill="#D99224"/>
<text x="569.6" y="74.8" font-size="3.75" fill="#D99224" stroke="#D99224" stroke-width="0.05" textLength="12.7" lengthAdjust="spacingAndGlyphs">Bulgaria</text>
<line x1="603.7" y1="74.2" x2="603.7" y2="77.7" stroke="#B0A12C" stroke-width="0.4"/>
<circle cx="603.7" cy="77.7" r="0.8" fill="#B0A12C"/>
<text x="598.9" y="74.2" font-size="3.75" fill="#B0A12C" stroke="#B0A12C" stroke-width="0.05" textLength="11.2" lengthAdjust="spacingAndGlyphs">Croatia</text>
<line x1="614.1" y1="77.2" x2="612.0" y2="78.4" stroke="#2EA4E4" stroke-width="0.4"/>
<circle cx="612.0" cy="78.4" r="0.8" fill="#2EA4E4"/>
<text x="614.1" y="77.2" font-size="3.75" fill="#2EA4E4" stroke="#2EA4E4" stroke-width="0.05" textLength="20.9" lengthAdjust="spacingAndGlyphs">New Zealand</text>
<line x1="638.2" y1="79.7" x2="623.0" y2="84.8" stroke="#6058D4" stroke-width="0.4"/>
<circle cx="623.0" cy="84.8" r="0.8" fill="#6058D4"/>
<text x="638.2" y="79.7" font-size="3.75" fill="#6058D4" stroke="#6058D4" stroke-width="0.05" textLength="27.3" lengthAdjust="spacingAndGlyphs">Republic of Korea</text>
<circle cx="597.3" cy="81.2" r="0.8" fill="#A055C8"/>
<text x="582.0" y="80.6" font-size="3.75" fill="#A055C8" stroke="#A055C8" stroke-width="0.05" textLength="13.7" lengthAdjust="spacingAndGlyphs">Slovakia</text>
<circle cx="541.0" cy="86.8" r="0.8" fill="#68B82E"/>
<text x="530.3" y="84.9" font-size="3.75" fill="#68B82E" stroke="#68B82E" stroke-width="0.05" textLength="12.8" lengthAdjust="spacingAndGlyphs">Ecuador</text>
<line x1="575.5" y1="84.0" x2="575.5" y2="89.1" stroke="#D99224" stroke-width="0.4"/>
<circle cx="575.5" cy="89.1" r="0.8" fill="#D99224"/>
<text x="566.5" y="84.0" font-size="3.75" fill="#D99224" stroke="#D99224" stroke-width="0.05" textLength="12.5" lengthAdjust="spacingAndGlyphs">Bahrain</text>
<circle cx="601.3" cy="88.0" r="0.8" fill="#D99224"/>
<text x="588.5" y="86.1" font-size="3.75" fill="#D99224" stroke="#D99224" stroke-width="0.05" textLength="12.8" lengthAdjust="spacingAndGlyphs">Romania</text>
<circle cx="619.8" cy="86.0" r="0.8" fill="#EA4444"/>
<text x="608.5" y="84.9" font-size="3.75" fill="#EA4444" stroke="#EA4444" stroke-width="0.05" textLength="12.1" lengthAdjust="spacingAndGlyphs">Australia</text>
<line x1="628.6" y1="86.1" x2="622.2" y2="87.7" stroke="#2DAF63" stroke-width="0.4"/>
<circle cx="622.2" cy="87.7" r="0.8" fill="#2DAF63"/>
<text x="628.6" y="86.1" font-size="3.75" fill="#2DAF63" stroke="#2DAF63" stroke-width="0.05" textLength="10.4" lengthAdjust="spacingAndGlyphs">Ireland</text>
<line x1="680.8" y1="83.5" x2="685.7" y2="82.5" stroke="#D6449C" stroke-width="0.4"/>
<circle cx="685.7" cy="82.5" r="0.8" fill="#D6449C"/>
<text x="640.6" y="86.1" font-size="3.75" fill="#D6449C" stroke="#D6449C" stroke-width="0.05" textLength="40.2" lengthAdjust="spacingAndGlyphs">Taiwan (Province of China)</text>
<circle cx="563.0" cy="91.1" r="0.8" fill="#D6449C"/>
<text x="551.0" y="89.6" font-size="3.75" fill="#D6449C" stroke="#D6449C" stroke-width="0.05" textLength="12.8" lengthAdjust="spacingAndGlyphs">Uruguay</text>
<circle cx="580.7" cy="91.4" r="0.8" fill="#B0A12C"/>
<text x="577.8" y="89.6" font-size="3.75" fill="#B0A12C" stroke="#B0A12C" stroke-width="0.05" textLength="7.6" lengthAdjust="spacingAndGlyphs">Oman</text>
<circle cx="601.3" cy="93.3" r="0.8" fill="#D6449C"/>
<text x="593.3" y="91.9" font-size="3.75" fill="#D6449C" stroke="#D6449C" stroke-width="0.05" textLength="41.7" lengthAdjust="spacingAndGlyphs">United States Virgin Islands</text>
<line x1="635.8" y1="91.9" x2="626.2" y2="93.8" stroke="#2EA4E4" stroke-width="0.4"/>
<circle cx="626.2" cy="93.8" r="0.8" fill="#2EA4E4"/>
<text x="635.8" y="91.9" font-size="3.75" fill="#2EA4E4" stroke="#2EA4E4" stroke-width="0.05" textLength="17.7" lengthAdjust="spacingAndGlyphs">Netherlands</text>
<line x1="553.3" y1="94.4" x2="564.4" y2="94.4" stroke="#D99224" stroke-width="0.4"/>
<circle cx="564.4" cy="94.4" r="0.8" fill="#D99224"/>
<text x="514.7" y="94.8" font-size="3.75" fill="#D99224" stroke="#D99224" stroke-width="0.05" textLength="38.6" lengthAdjust="spacingAndGlyphs">Bosnia and Herzegovina</text>
<line x1="574.3" y1="93.1" x2="580.4" y2="91.2" stroke="#A055C8" stroke-width="0.4"/>
<circle cx="580.4" cy="91.2" r="0.8" fill="#A055C8"/>
<text x="566.7" y="95.7" font-size="3.75" fill="#A055C8" stroke="#A055C8" stroke-width="0.05" textLength="7.6" lengthAdjust="spacingAndGlyphs">Spain</text>
<line x1="579.0" y1="96.3" x2="574.5" y2="97.4" stroke="#68B82E" stroke-width="0.4"/>
<circle cx="574.5" cy="97.4" r="0.8" fill="#68B82E"/>
<text x="579.0" y="96.3" font-size="3.75" fill="#68B82E" stroke="#68B82E" stroke-width="0.05" textLength="11.7" lengthAdjust="spacingAndGlyphs">Greece</text>
<line x1="627.8" y1="95.2" x2="613.8" y2="92.2" stroke="#A055C8" stroke-width="0.4"/>
<circle cx="613.8" cy="92.2" r="0.8" fill="#A055C8"/>
<text x="627.8" y="97.8" font-size="3.75" fill="#A055C8" stroke="#A055C8" stroke-width="0.05" textLength="12.0" lengthAdjust="spacingAndGlyphs">Algeria</text>
<line x1="640.6" y1="94.7" x2="625.4" y2="94.1" stroke="#1EB2D2" stroke-width="0.4"/>
<circle cx="625.4" cy="94.1" r="0.8" fill="#1EB2D2"/>
<text x="640.6" y="97.3" font-size="3.75" fill="#1EB2D2" stroke="#1EB2D2" stroke-width="0.05" textLength="29.0" lengthAdjust="spacingAndGlyphs">Brunei Darussalam</text>
<line x1="557.4" y1="100.7" x2="587.5" y2="106.0" stroke="#D99224" stroke-width="0.4"/>
<circle cx="587.5" cy="106.0" r="0.8" fill="#D99224"/>
<text x="546.9" y="100.7" font-size="3.75" fill="#D99224" stroke="#D99224" stroke-width="0.05" textLength="10.5" lengthAdjust="spacingAndGlyphs">Belarus</text>
<line x1="590.9" y1="101.0" x2="590.9" y2="106.1" stroke="#2EA4E4" stroke-width="0.4"/>
<circle cx="590.9" cy="106.1" r="0.8" fill="#2EA4E4"/>
<text x="589.3" y="101.0" font-size="3.75" fill="#2EA4E4" stroke="#2EA4E4" stroke-width="0.05" textLength="18.4" lengthAdjust="spacingAndGlyphs">Montenegro</text>
<circle cx="611.7" cy="98.1" r="0.8" fill="#D99224"/>
<text x="610.9" y="99.9" font-size="3.75" fill="#D99224" stroke="#D99224" stroke-width="0.05" textLength="14.5" lengthAdjust="spacingAndGlyphs">Portugal</text>
<line x1="585.4" y1="103.2" x2="590.0" y2="106.0" stroke="#A055C8" stroke-width="0.4"/>
<circle cx="590.0" cy="106.0" r="0.8" fill="#A055C8"/>
<text x="576.1" y="103.2" font-size="3.75" fill="#A055C8" stroke="#A055C8" stroke-width="0.05" textLength="9.3" lengthAdjust="spacingAndGlyphs">Serbia</text>
<line x1="648.7" y1="103.4" x2="631.0" y2="107.3" stroke="#2DAF63" stroke-width="0.4"/>
<circle cx="631.0" cy="107.3" r="0.8" fill="#2DAF63"/>
<text x="648.7" y="103.4" font-size="3.75" fill="#2DAF63" stroke="#2DAF63" stroke-width="0.05" textLength="15.2" lengthAdjust="spacingAndGlyphs">Australia</text>
<circle cx="505.0" cy="109.5" r="0.8" fill="#68B82E"/>
<text x="491.4" y="107.1" font-size="3.75" fill="#68B82E" stroke="#68B82E" stroke-width="0.05" textLength="18.5" lengthAdjust="spacingAndGlyphs">El Salvador</text>
<line x1="528.3" y1="106.5" x2="532.3" y2="110.3" stroke="#6058D4" stroke-width="0.4"/>
<circle cx="532.3" cy="110.3" r="0.8" fill="#6058D4"/>
<text x="513.6" y="106.5" font-size="3.75" fill="#6058D4" stroke="#6058D4" stroke-width="0.05" textLength="14.7" lengthAdjust="spacingAndGlyphs">Paraguay</text>
<line x1="531.1" y1="106.4" x2="528.7" y2="108.7" stroke="#A055C8" stroke-width="0.4"/>
<circle cx="528.7" cy="108.7" r="0.8" fill="#A055C8"/>
<text x="531.1" y="106.4" font-size="3.75" fill="#A055C8" stroke="#A055C8" stroke-width="0.05" textLength="19.9" lengthAdjust="spacingAndGlyphs">Seychelles</text>
<line x1="551.0" y1="103.8" x2="546.2" y2="103.6" stroke="#EA4444" stroke-width="0.4"/>
<circle cx="546.2" cy="103.6" r="0.8" fill="#EA4444"/>
<text x="551.0" y="106.4" font-size="3.75" fill="#EA4444" stroke="#EA4444" stroke-width="0.05" textLength="23.9" lengthAdjust="spacingAndGlyphs">Antigua and Barbuda</text>
<line x1="604.9" y1="104.4" x2="604.9" y2="101.0" stroke="#1FAE82" stroke-width="0.4"/>
<circle cx="604.9" cy="101.0" r="0.8" fill="#1FAE82"/>
<text x="600.5" y="107.0" font-size="3.75" fill="#1FAE82" stroke="#1FAE82" stroke-width="0.05" textLength="11.2" lengthAdjust="spacingAndGlyphs">Kuwait</text>
<line x1="616.6" y1="103.7" x2="606.5" y2="101.8" stroke="#1EB2D2" stroke-width="0.4"/>
<circle cx="606.5" cy="101.8" r="0.8" fill="#1EB2D2"/>
<text x="616.6" y="106.3" font-size="3.75" fill="#1EB2D2" stroke="#1EB2D2" stroke-width="0.05" textLength="8.8" lengthAdjust="spacingAndGlyphs">Armenia</text>
<line x1="596.5" y1="108.9" x2="599.6" y2="108.9" stroke="#A055C8" stroke-width="0.4"/>
<circle cx="599.6" cy="108.9" r="0.8" fill="#A055C8"/>
<text x="566.1" y="109.9" font-size="3.75" fill="#A055C8" stroke="#A055C8" stroke-width="0.05" textLength="30.4" lengthAdjust="spacingAndGlyphs">Russian Federation</text>
<line x1="635.8" y1="108.5" x2="615.0" y2="108.5" stroke="#EA4444" stroke-width="0.4"/>
<circle cx="615.0" cy="108.5" r="0.8" fill="#EA4444"/>
<text x="635.8" y="109.4" font-size="3.75" fill="#EA4444" stroke="#EA4444" stroke-width="0.05" textLength="24.9" lengthAdjust="spacingAndGlyphs">United Kingdom</text>
<circle cx="548.8" cy="110.9" r="0.8" fill="#2EA4E4"/>
<text x="550.4" y="112.2" font-size="3.75" fill="#2EA4E4" stroke="#2EA4E4" stroke-width="0.05" textLength="12.2" lengthAdjust="spacingAndGlyphs">Panama</text>
<line x1="522.7" y1="113.3" x2="530.7" y2="114.3" stroke="#2EA4E4" stroke-width="0.4"/>
<circle cx="530.7" cy="114.3" r="0.8" fill="#2EA4E4"/>
<text x="508.3" y="113.3" font-size="3.75" fill="#2EA4E4" stroke="#2EA4E4" stroke-width="0.05" textLength="14.4" lengthAdjust="spacingAndGlyphs">Palestine</text>
<line x1="590.9" y1="113.8" x2="585.7" y2="113.8" stroke="#2DAF63" stroke-width="0.4"/>
<circle cx="585.7" cy="113.8" r="0.8" fill="#2DAF63"/>
<text x="590.9" y="114.3" font-size="3.75" fill="#2DAF63" stroke="#2DAF63" stroke-width="0.05" textLength="16.0" lengthAdjust="spacingAndGlyphs">Greenland</text>
<line x1="615.0" y1="110.8" x2="611.0" y2="109.8" stroke="#6058D4" stroke-width="0.4"/>
<circle cx="611.0" cy="109.8" r="0.8" fill="#6058D4"/>
<text x="615.0" y="113.4" font-size="3.75" fill="#6058D4" stroke="#6058D4" stroke-width="0.05" textLength="7.2" lengthAdjust="spacingAndGlyphs">Oman</text>
<line x1="626.2" y1="112.4" x2="619.8" y2="108.5" stroke="#1EB2D2" stroke-width="0.4"/>
<circle cx="619.8" cy="108.5" r="0.8" fill="#1EB2D2"/>
<text x="626.2" y="115.0" font-size="3.75" fill="#1EB2D2" stroke="#1EB2D2" stroke-width="0.05" textLength="8.0" lengthAdjust="spacingAndGlyphs">Japan</text>
<line x1="639.0" y1="112.4" x2="633.4" y2="110.1" stroke="#2EA4E4" stroke-width="0.4"/>
<circle cx="633.4" cy="110.1" r="0.8" fill="#2EA4E4"/>
<text x="639.0" y="115.0" font-size="3.75" fill="#2EA4E4" stroke="#2EA4E4" stroke-width="0.05" textLength="12.9" lengthAdjust="spacingAndGlyphs">Zimbabwe</text>
<line x1="455.3" y1="115.7" x2="456.0" y2="118.0" stroke="#2EA4E4" stroke-width="0.4"/>
<circle cx="456.0" cy="118.0" r="0.8" fill="#2EA4E4"/>
<text x="446.4" y="115.7" font-size="3.75" fill="#2EA4E4" stroke="#2EA4E4" stroke-width="0.05" textLength="8.9" lengthAdjust="spacingAndGlyphs">Nepal</text>
<line x1="580.1" y1="113.5" x2="582.7" y2="111.6" stroke="#A055C8" stroke-width="0.4"/>
<circle cx="582.7" cy="111.6" r="0.8" fill="#A055C8"/>
<text x="566.1" y="116.1" font-size="3.75" fill="#A055C8" stroke="#A055C8" stroke-width="0.05" textLength="14.0" lengthAdjust="spacingAndGlyphs">Tunisia</text>
<line x1="557.4" y1="117.8" x2="577.2" y2="118.3" stroke="#A055C8" stroke-width="0.4"/>
<circle cx="577.2" cy="118.3" r="0.8" fill="#A055C8"/>
<text x="523.5" y="117.8" font-size="3.75" fill="#A055C8" stroke="#A055C8" stroke-width="0.05" textLength="33.9" lengthAdjust="spacingAndGlyphs">Saint Kitts and Nevis</text>
<line x1="507.4" y1="119.2" x2="509.0" y2="121.1" stroke="#1FAE82" stroke-width="0.4"/>
<circle cx="509.0" cy="121.1" r="0.8" fill="#1FAE82"/>
<text x="501.0" y="119.2" font-size="3.75" fill="#1FAE82" stroke="#1FAE82" stroke-width="0.05" textLength="6.4" lengthAdjust="spacingAndGlyphs">India</text>
<line x1="580.4" y1="116.9" x2="575.3" y2="116.0" stroke="#1EB2D2" stroke-width="0.4"/>
<circle cx="575.3" cy="116.0" r="0.8" fill="#1EB2D2"/>
<text x="580.4" y="119.5" font-size="3.75" fill="#1EB2D2" stroke="#1EB2D2" stroke-width="0.05" textLength="8.1" lengthAdjust="spacingAndGlyphs">Latvia</text>
<line x1="594.9" y1="118.2" x2="588.8" y2="115.0" stroke="#D99224" stroke-width="0.4"/>
<circle cx="588.8" cy="115.0" r="0.8" fill="#D99224"/>
<text x="594.9" y="120.8" font-size="3.75" fill="#D99224" stroke="#D99224" stroke-width="0.05" textLength="16.0" lengthAdjust="spacingAndGlyphs">Dominica</text>
<line x1="624.6" y1="120.8" x2="630.3" y2="122.6" stroke="#2DAF63" stroke-width="0.4"/>
<circle cx="630.3" cy="122.6" r="0.8" fill="#2DAF63"/>
<text x="613.3" y="120.8" font-size="3.75" fill="#2DAF63" stroke="#2DAF63" stroke-width="0.05" textLength="11.3" lengthAdjust="spacingAndGlyphs">Estonia</text>
<line x1="627.0" y1="118.2" x2="612.5" y2="114.2" stroke="#D99224" stroke-width="0.4"/>
<circle cx="612.5" cy="114.2" r="0.8" fill="#D99224"/>
<text x="627.0" y="120.8" font-size="3.75" fill="#D99224" stroke="#D99224" stroke-width="0.05" textLength="12.0" lengthAdjust="spacingAndGlyphs">Andorra</text>
<line x1="569.6" y1="121.1" x2="572.6" y2="121.8" stroke="#1FAE82" stroke-width="0.4"/>
<circle cx="572.6" cy="121.8" r="0.8" fill="#1FAE82"/>
<text x="556.2" y="121.1" font-size="3.75" fill="#1FAE82" stroke="#1FAE82" stroke-width="0.05" textLength="13.4" lengthAdjust="spacingAndGlyphs">Lebanon</text>
<line x1="455.3" y1="122.2" x2="471.3" y2="122.5" stroke="#D99224" stroke-width="0.4"/>
<circle cx="471.3" cy="122.5" r="0.8" fill="#D99224"/>
<text x="444.0" y="122.2" font-size="3.75" fill="#D99224" stroke="#D99224" stroke-width="0.05" textLength="11.3" lengthAdjust="spacingAndGlyphs">Bhutan</text>
<line x1="512.3" y1="124.5" x2="517.1" y2="126.1" stroke="#EA4444" stroke-width="0.4"/>
<circle cx="517.1" cy="126.1" r="0.8" fill="#EA4444"/>
<text x="458.0" y="124.5" font-size="3.75" fill="#EA4444" stroke="#EA4444" stroke-width="0.05" textLength="54.3" lengthAdjust="spacingAndGlyphs">Venezuela (Bolivarian Republic of)</text>
<line x1="524.1" y1="123.6" x2="519.0" y2="123.6" stroke="#EA4444" stroke-width="0.4"/>
<circle cx="519.0" cy="123.6" r="0.8" fill="#EA4444"/>
<text x="524.1" y="123.9" font-size="3.75" fill="#EA4444" stroke="#EA4444" stroke-width="0.05" textLength="19.3" lengthAdjust="spacingAndGlyphs">El Salvador</text>
<line x1="556.2" y1="121.3" x2="560.7" y2="118.8" stroke="#EA4444" stroke-width="0.4"/>
<circle cx="560.7" cy="118.8" r="0.8" fill="#EA4444"/>
<text x="543.4" y="123.9" font-size="3.75" fill="#EA4444" stroke="#EA4444" stroke-width="0.05" textLength="12.8" lengthAdjust="spacingAndGlyphs">Algeria</text>
<line x1="592.4" y1="124.0" x2="599.1" y2="122.6" stroke="#2EA4E4" stroke-width="0.4"/>
<circle cx="599.1" cy="122.6" r="0.8" fill="#2EA4E4"/>
<text x="566.1" y="126.6" font-size="3.75" fill="#2EA4E4" stroke="#2EA4E4" stroke-width="0.05" textLength="26.3" lengthAdjust="spacingAndGlyphs">Saint Lucia Libya</text>
<circle cx="614.0" cy="126.2" r="0.8" fill="#2DAF63"/>
<text x="601.3" y="126.7" font-size="3.75" fill="#2DAF63" stroke="#2DAF63" stroke-width="0.05" textLength="11.2" lengthAdjust="spacingAndGlyphs">France</text>
<line x1="625.4" y1="124.1" x2="611.0" y2="118.2" stroke="#D6449C" stroke-width="0.4"/>
<circle cx="611.0" cy="118.2" r="0.8" fill="#D6449C"/>
<text x="625.4" y="126.7" font-size="3.75" fill="#D6449C" stroke="#D6449C" stroke-width="0.05" textLength="32.9" lengthAdjust="spacingAndGlyphs">United Arab Emirates</text>
<line x1="460.9" y1="127.8" x2="478.5" y2="127.2" stroke="#D99224" stroke-width="0.4"/>
<circle cx="478.5" cy="127.2" r="0.8" fill="#D99224"/>
<text x="441.6" y="130.4" font-size="3.75" fill="#D99224" stroke="#D99224" stroke-width="0.05" textLength="19.3" lengthAdjust="spacingAndGlyphs">Bangladesh</text>
<line x1="506.6" y1="130.6" x2="506.6" y2="140.0" stroke="#68B82E" stroke-width="0.4"/>
<circle cx="506.6" cy="140.0" r="0.8" fill="#68B82E"/>
<text x="463.3" y="130.6" font-size="3.75" fill="#68B82E" stroke="#68B82E" stroke-width="0.05" textLength="49.8" lengthAdjust="spacingAndGlyphs">Lao People's Democratic Republic</text>
<line x1="525.1" y1="130.4" x2="525.1" y2="135.2" stroke="#2EA4E4" stroke-width="0.4"/>
<circle cx="525.1" cy="135.2" r="0.8" fill="#2EA4E4"/>
<text x="513.9" y="130.4" font-size="3.75" fill="#2EA4E4" stroke="#2EA4E4" stroke-width="0.05" textLength="15.9" lengthAdjust="spacingAndGlyphs">Mongolia</text>
<line x1="538.0" y1="129.6" x2="538.0" y2="133.1" stroke="#D99224" stroke-width="0.4"/>
<circle cx="538.0" cy="133.1" r="0.8" fill="#D99224"/>
<text x="534.7" y="129.6" font-size="3.75" fill="#D99224" stroke="#D99224" stroke-width="0.05" textLength="8.0" lengthAdjust="spacingAndGlyphs">Brazil</text>
<line x1="551.5" y1="129.5" x2="546.5" y2="130.4" stroke="#EA4444" stroke-width="0.4"/>
<circle cx="546.5" cy="130.4" r="0.8" fill="#EA4444"/>
<text x="551.5" y="129.5" font-size="3.75" fill="#EA4444" stroke="#EA4444" stroke-width="0.05" textLength="8.9" lengthAdjust="spacingAndGlyphs">Tunisia</text>
<line x1="604.5" y1="130.1" x2="610.9" y2="129.4" stroke="#A055C8" stroke-width="0.4"/>
<circle cx="610.9" cy="129.4" r="0.8" fill="#A055C8"/>
<text x="566.0" y="132.7" font-size="3.75" fill="#A055C8" stroke="#A055C8" stroke-width="0.05" textLength="38.5" lengthAdjust="spacingAndGlyphs">United States of America</text>
<line x1="608.5" y1="130.1" x2="569.4" y2="129.8" stroke="#A055C8" stroke-width="0.4"/>
<circle cx="569.4" cy="129.8" r="0.8" fill="#A055C8"/>
<text x="608.5" y="132.7" font-size="3.75" fill="#A055C8" stroke="#A055C8" stroke-width="0.05" textLength="15.3" lengthAdjust="spacingAndGlyphs">Singapore</text>
<line x1="627.0" y1="130.1" x2="620.6" y2="125.8" stroke="#2DAF63" stroke-width="0.4"/>
<circle cx="620.6" cy="125.8" r="0.8" fill="#2DAF63"/>
<text x="627.0" y="132.7" font-size="3.75" fill="#2DAF63" stroke="#2DAF63" stroke-width="0.05" textLength="12.0" lengthAdjust="spacingAndGlyphs">Iceland</text>
<line x1="517.8" y1="136.7" x2="521.0" y2="137.0" stroke="#2DAF63" stroke-width="0.4"/>
<circle cx="521.0" cy="137.0" r="0.8" fill="#2DAF63"/>
<text x="509.0" y="136.7" font-size="3.75" fill="#2DAF63" stroke="#2DAF63" stroke-width="0.05" textLength="8.8" lengthAdjust="spacingAndGlyphs">Egypt</text>
<line x1="534.7" y1="136.3" x2="539.0" y2="137.0" stroke="#2EA4E4" stroke-width="0.4"/>
<circle cx="539.0" cy="137.0" r="0.8" fill="#2EA4E4"/>
<text x="522.6" y="136.3" font-size="3.75" fill="#2EA4E4" stroke="#2EA4E4" stroke-width="0.05" textLength="12.1" lengthAdjust="spacingAndGlyphs">Myanmar</text>
<line x1="476.0" y1="136.3" x2="496.2" y2="136.3" stroke="#2DAF63" stroke-width="0.4"/>
<circle cx="496.2" cy="136.3" r="0.8" fill="#2DAF63"/>
<text x="459.3" y="136.7" font-size="3.75" fill="#2DAF63" stroke="#2DAF63" stroke-width="0.05" textLength="16.7" lengthAdjust="spacingAndGlyphs">Guatemala</text>
<line x1="547.5" y1="135.9" x2="541.9" y2="138.3" stroke="#A055C8" stroke-width="0.4"/>
<circle cx="541.9" cy="138.3" r="0.8" fill="#A055C8"/>
<text x="547.5" y="135.9" font-size="3.75" fill="#A055C8" stroke="#A055C8" stroke-width="0.05" textLength="12.9" lengthAdjust="spacingAndGlyphs">Maldives</text>
<line x1="560.4" y1="135.9" x2="554.6" y2="135.9" stroke="#A055C8" stroke-width="0.4"/>
<circle cx="554.6" cy="135.9" r="0.8" fill="#A055C8"/>
<text x="560.4" y="135.9" font-size="3.75" fill="#A055C8" stroke="#A055C8" stroke-width="0.05" textLength="13.6" lengthAdjust="spacingAndGlyphs">Malaysia</text>
<line x1="493.7" y1="139.1" x2="506.6" y2="141.0" stroke="#2EA4E4" stroke-width="0.4"/>
<circle cx="506.6" cy="141.0" r="0.8" fill="#2EA4E4"/>
<text x="479.3" y="139.1" font-size="3.75" fill="#2EA4E4" stroke="#2EA4E4" stroke-width="0.05" textLength="14.4" lengthAdjust="spacingAndGlyphs">Maldives</text>
<line x1="594.0" y1="136.9" x2="596.5" y2="135.0" stroke="#1EB2D2" stroke-width="0.4"/>
<circle cx="596.5" cy="135.0" r="0.8" fill="#1EB2D2"/>
<text x="586.0" y="139.5" font-size="3.75" fill="#1EB2D2" stroke="#1EB2D2" stroke-width="0.05" textLength="8.0" lengthAdjust="spacingAndGlyphs">Israel</text>
<line x1="619.8" y1="136.2" x2="624.0" y2="134.4" stroke="#A055C8" stroke-width="0.4"/>
<circle cx="624.0" cy="134.4" r="0.8" fill="#A055C8"/>
<text x="601.3" y="138.8" font-size="3.75" fill="#A055C8" stroke="#A055C8" stroke-width="0.05" textLength="18.5" lengthAdjust="spacingAndGlyphs">Puerto Rico</text>
<line x1="622.2" y1="140.3" x2="611.0" y2="140.3" stroke="#A055C8" stroke-width="0.4"/>
<circle cx="611.0" cy="140.3" r="0.8" fill="#A055C8"/>
<text x="622.2" y="142.7" font-size="3.75" fill="#A055C8" stroke="#A055C8" stroke-width="0.05" textLength="20.1" lengthAdjust="spacingAndGlyphs">Saudi Arabia</text>
<circle cx="518.8" cy="139.9" r="0.8" fill="#2DAF63"/>
<text x="521.0" y="142.0" font-size="3.75" fill="#2DAF63" stroke="#2DAF63" stroke-width="0.05" textLength="49.8" lengthAdjust="spacingAndGlyphs">Saint Lucia Grenada Suriname</text>
<line x1="456.1" y1="140.1" x2="456.1" y2="136.7" stroke="#B0A12C" stroke-width="0.4"/>
<circle cx="456.1" cy="136.7" r="0.8" fill="#B0A12C"/>
<text x="454.5" y="142.7" font-size="3.75" fill="#B0A12C" stroke="#B0A12C" stroke-width="0.05" textLength="14.4" lengthAdjust="spacingAndGlyphs">Cambodia</text>
<line x1="598.1" y1="142.2" x2="597.3" y2="140.3" stroke="#2DAF63" stroke-width="0.4"/>
<circle cx="597.3" cy="140.3" r="0.8" fill="#2DAF63"/>
<text x="598.1" y="144.8" font-size="3.75" fill="#2DAF63" stroke="#2DAF63" stroke-width="0.05" textLength="6.4" lengthAdjust="spacingAndGlyphs">Italy</text>
<circle cx="484.3" cy="146.9" r="0.8" fill="#D6449C"/>
<text x="473.6" y="145.3" font-size="3.75" fill="#D6449C" stroke="#D6449C" stroke-width="0.05" textLength="30.5" lengthAdjust="spacingAndGlyphs">Republic of Korea</text>
<line x1="506.6" y1="144.9" x2="502.6" y2="144.9" stroke="#A055C8" stroke-width="0.4"/>
<circle cx="502.6" cy="144.9" r="0.8" fill="#A055C8"/>
<text x="506.6" y="145.3" font-size="3.75" fill="#A055C8" stroke="#A055C8" stroke-width="0.05" textLength="21.6" lengthAdjust="spacingAndGlyphs">Guinea-Bissau</text>
<line x1="535.0" y1="144.6" x2="535.0" y2="141.4" stroke="#2DAF63" stroke-width="0.4"/>
<circle cx="535.0" cy="141.4" r="0.8" fill="#2DAF63"/>
<text x="529.8" y="147.2" font-size="3.75" fill="#2DAF63" stroke="#2DAF63" stroke-width="0.05" textLength="11.3" lengthAdjust="spacingAndGlyphs">Jamaica</text>
<line x1="560.4" y1="145.4" x2="566.9" y2="144.5" stroke="#A055C8" stroke-width="0.4"/>
<circle cx="566.9" cy="144.5" r="0.8" fill="#A055C8"/>
<text x="550.7" y="148.0" font-size="3.75" fill="#A055C8" stroke="#A055C8" stroke-width="0.05" textLength="9.7" lengthAdjust="spacingAndGlyphs">Uganda</text>
<line x1="568.1" y1="148.0" x2="568.1" y2="150.6" stroke="#D99224" stroke-width="0.4"/>
<circle cx="568.1" cy="150.6" r="0.8" fill="#D99224"/>
<text x="563.6" y="148.0" font-size="3.75" fill="#D99224" stroke="#D99224" stroke-width="0.05" textLength="10.4" lengthAdjust="spacingAndGlyphs">France</text>
<line x1="574.0" y1="148.0" x2="571.6" y2="148.1" stroke="#D99224" stroke-width="0.4"/>
<circle cx="571.6" cy="148.1" r="0.8" fill="#D99224"/>
<text x="574.0" y="148.0" font-size="3.75" fill="#D99224" stroke="#D99224" stroke-width="0.05" textLength="20.9" lengthAdjust="spacingAndGlyphs">Syrian Arab</text>
<line x1="606.1" y1="148.8" x2="594.0" y2="150.0" stroke="#D99224" stroke-width="0.4"/>
<circle cx="594.0" cy="150.0" r="0.8" fill="#D99224"/>
<text x="606.1" y="148.8" font-size="3.75" fill="#D99224" stroke="#D99224" stroke-width="0.05" textLength="16.1" lengthAdjust="spacingAndGlyphs">Argentina</text>
<line x1="493.7" y1="151.2" x2="496.1" y2="151.7" stroke="#2DAF63" stroke-width="0.4"/>
<circle cx="496.1" cy="151.7" r="0.8" fill="#2DAF63"/>
<text x="484.1" y="151.2" font-size="3.75" fill="#2DAF63" stroke="#2DAF63" stroke-width="0.05" textLength="9.6" lengthAdjust="spacingAndGlyphs">Ghana</text>
<line x1="505.8" y1="148.6" x2="504.3" y2="147.5" stroke="#D99224" stroke-width="0.4"/>
<circle cx="504.3" cy="147.5" r="0.8" fill="#D99224"/>
<text x="505.8" y="151.2" font-size="3.75" fill="#D99224" stroke="#D99224" stroke-width="0.05" textLength="11.2" lengthAdjust="spacingAndGlyphs">Pakistan</text>
<line x1="527.4" y1="152.8" x2="523.7" y2="153.7" stroke="#EA4444" stroke-width="0.4"/>
<circle cx="523.7" cy="153.7" r="0.8" fill="#EA4444"/>
<text x="527.4" y="152.8" font-size="3.75" fill="#EA4444" stroke="#EA4444" stroke-width="0.05" textLength="11.3" lengthAdjust="spacingAndGlyphs">Viet Nam</text>
<line x1="478.5" y1="152.8" x2="484.1" y2="153.1" stroke="#2EA4E4" stroke-width="0.4"/>
<circle cx="484.1" cy="153.1" r="0.8" fill="#2EA4E4"/>
<text x="465.6" y="152.8" font-size="3.75" fill="#2EA4E4" stroke="#2EA4E4" stroke-width="0.05" textLength="12.9" lengthAdjust="spacingAndGlyphs">Zimbabwe</text>
<line x1="451.2" y1="152.5" x2="447.3" y2="152.5" stroke="#EA4444" stroke-width="0.4"/>
<circle cx="447.3" cy="152.5" r="0.8" fill="#EA4444"/>
<text x="451.2" y="153.5" font-size="3.75" fill="#EA4444" stroke="#EA4444" stroke-width="0.05" textLength="10.7" lengthAdjust="spacingAndGlyphs">Israel</text>
<circle cx="541.8" cy="153.4" r="0.8" fill="#2DAF63"/>
<text x="543.5" y="154.4" font-size="3.75" fill="#2DAF63" stroke="#2DAF63" stroke-width="0.05" textLength="12.0" lengthAdjust="spacingAndGlyphs">Belize</text>
<line x1="571.6" y1="152.3" x2="575.9" y2="150.4" stroke="#2DAF63" stroke-width="0.4"/>
<circle cx="575.9" cy="150.4" r="0.8" fill="#2DAF63"/>
<text x="558.7" y="154.9" font-size="3.75" fill="#2DAF63" stroke="#2DAF63" stroke-width="0.05" textLength="12.9" lengthAdjust="spacingAndGlyphs">Georgia</text>
<circle cx="589.7" cy="156.3" r="0.8" fill="#EA4444"/>
<text x="582.8" y="154.4" font-size="3.75" fill="#EA4444" stroke="#EA4444" stroke-width="0.05" textLength="10.5" lengthAdjust="spacingAndGlyphs">Armenia</text>
<line x1="596.5" y1="151.8" x2="593.2" y2="150.3" stroke="#2EA4E4" stroke-width="0.4"/>
<circle cx="593.2" cy="150.3" r="0.8" fill="#2EA4E4"/>
<text x="596.5" y="154.4" font-size="3.75" fill="#2EA4E4" stroke="#2EA4E4" stroke-width="0.05" textLength="8.0" lengthAdjust="spacingAndGlyphs">Malta</text>
<line x1="639.8" y1="153.6" x2="646.2" y2="153.6" stroke="#D6449C" stroke-width="0.4"/>
<circle cx="646.2" cy="153.6" r="0.8" fill="#D6449C"/>
<text x="607.7" y="154.4" font-size="3.75" fill="#D6449C" stroke="#D6449C" stroke-width="0.05" textLength="32.1" lengthAdjust="spacingAndGlyphs">Trinidad and Tobago</text>
<line x1="481.7" y1="153.9" x2="479.7" y2="153.3" stroke="#2DAF63" stroke-width="0.4"/>
<circle cx="479.7" cy="153.3" r="0.8" fill="#2DAF63"/>
<text x="481.7" y="156.5" font-size="3.75" fill="#2DAF63" stroke="#2DAF63" stroke-width="0.05" textLength="43.3" lengthAdjust="spacingAndGlyphs">Dominican Republic Samoa</text>
<circle cx="465.9" cy="161.7" r="0.8" fill="#2EA4E4"/>
<text x="464.0" y="159.2" font-size="3.75" fill="#2EA4E4" stroke="#2EA4E4" stroke-width="0.05" textLength="14.5" lengthAdjust="spacingAndGlyphs">Cabo Verde</text>
<line x1="534.7" y1="160.0" x2="532.8" y2="161.0" stroke="#2DAF63" stroke-width="0.4"/>
<circle cx="532.8" cy="161.0" r="0.8" fill="#2DAF63"/>
<text x="534.7" y="160.0" font-size="3.75" fill="#2DAF63" stroke="#2DAF63" stroke-width="0.05" textLength="4.8" lengthAdjust="spacingAndGlyphs">Guam</text>
<circle cx="556.8" cy="155.2" r="0.8" fill="#EA4444"/>
<text x="549.9" y="160.0" font-size="3.75" fill="#EA4444" stroke="#EA4444" stroke-width="0.05" textLength="10.5" lengthAdjust="spacingAndGlyphs">Canada</text>
<line x1="574.0" y1="159.6" x2="571.1" y2="159.6" stroke="#2DAF63" stroke-width="0.4"/>
<circle cx="571.1" cy="159.6" r="0.8" fill="#2DAF63"/>
<text x="574.0" y="160.0" font-size="3.75" fill="#2DAF63" stroke="#2DAF63" stroke-width="0.05" textLength="12.0" lengthAdjust="spacingAndGlyphs">Austria</text>
<line x1="590.0" y1="157.7" x2="574.0" y2="151.5" stroke="#A055C8" stroke-width="0.4"/>
<circle cx="574.0" cy="151.5" r="0.8" fill="#A055C8"/>
<text x="590.0" y="160.3" font-size="3.75" fill="#A055C8" stroke="#A055C8" stroke-width="0.05" textLength="13.7" lengthAdjust="spacingAndGlyphs">Barbados</text>
<line x1="451.2" y1="157.9" x2="446.4" y2="157.7" stroke="#2DAF63" stroke-width="0.4"/>
<circle cx="446.4" cy="157.7" r="0.8" fill="#2DAF63"/>
<text x="451.2" y="160.5" font-size="3.75" fill="#2DAF63" stroke="#2DAF63" stroke-width="0.05" textLength="7.2" lengthAdjust="spacingAndGlyphs">Haiti</text>
<circle cx="419.8" cy="164.8" r="0.8" fill="#EA4444"/>
<text x="406.2" y="162.9" font-size="3.75" fill="#EA4444" stroke="#EA4444" stroke-width="0.05" textLength="18.8" lengthAdjust="spacingAndGlyphs">Afghanistan</text>
<line x1="479.3" y1="160.3" x2="473.4" y2="159.0" stroke="#D99224" stroke-width="0.4"/>
<circle cx="473.4" cy="159.0" r="0.8" fill="#D99224"/>
<text x="479.3" y="162.9" font-size="3.75" fill="#D99224" stroke="#D99224" stroke-width="0.05" textLength="15.2" lengthAdjust="spacingAndGlyphs">Sri Lanka</text>
<line x1="513.8" y1="162.7" x2="532.3" y2="162.7" stroke="#A055C8" stroke-width="0.4"/>
<circle cx="532.3" cy="162.7" r="0.8" fill="#A055C8"/>
<text x="502.5" y="162.9" font-size="3.75" fill="#A055C8" stroke="#A055C8" stroke-width="0.05" textLength="11.3" lengthAdjust="spacingAndGlyphs">Guyana</text>
<line x1="589.3" y1="163.6" x2="594.4" y2="163.6" stroke="#1EB2D2" stroke-width="0.4"/>
<circle cx="594.4" cy="163.6" r="0.8" fill="#1EB2D2"/>
<text x="575.6" y="165.6" font-size="3.75" fill="#1EB2D2" stroke="#1EB2D2" stroke-width="0.05" textLength="13.7" lengthAdjust="spacingAndGlyphs">Malaysia</text>
<line x1="592.5" y1="166.1" x2="590.0" y2="167.1" stroke="#2DAF63" stroke-width="0.4"/>
<circle cx="590.0" cy="167.1" r="0.8" fill="#2DAF63"/>
<text x="592.5" y="166.1" font-size="3.75" fill="#2DAF63" stroke="#2DAF63" stroke-width="0.05" textLength="11.2" lengthAdjust="spacingAndGlyphs">Brunei</text>
<circle cx="606.9" cy="166.8" r="0.8" fill="#B0A12C"/>
<text x="606.9" y="164.8" font-size="3.75" fill="#B0A12C" stroke="#B0A12C" stroke-width="0.05" textLength="11.3" lengthAdjust="spacingAndGlyphs">Bermuda</text>
<line x1="551.5" y1="163.8" x2="557.5" y2="163.8" stroke="#2DAF63" stroke-width="0.4"/>
<circle cx="557.5" cy="163.8" r="0.8" fill="#2DAF63"/>
<text x="539.5" y="166.4" font-size="3.75" fill="#2DAF63" stroke="#2DAF63" stroke-width="0.05" textLength="12.0" lengthAdjust="spacingAndGlyphs">Indonesia</text>
<line x1="566.6" y1="165.6" x2="566.6" y2="168.5" stroke="#D6449C" stroke-width="0.4"/>
<circle cx="566.6" cy="168.5" r="0.8" fill="#D6449C"/>
<text x="558.0" y="165.6" font-size="3.75" fill="#D6449C" stroke="#D6449C" stroke-width="0.05" textLength="13.6" lengthAdjust="spacingAndGlyphs">Thailand</text>
<line x1="430.3" y1="164.0" x2="425.1" y2="162.7" stroke="#D6449C" stroke-width="0.4"/>
<circle cx="425.1" cy="162.7" r="0.8" fill="#D6449C"/>
<text x="430.3" y="166.6" font-size="3.75" fill="#D6449C" stroke="#D6449C" stroke-width="0.05" textLength="8.0" lengthAdjust="spacingAndGlyphs">Togo</text>
<circle cx="459.2" cy="162.3" r="0.8" fill="#D6449C"/>
<text x="440.7" y="166.6" font-size="3.75" fill="#D6449C" stroke="#D6449C" stroke-width="0.05" textLength="18.5" lengthAdjust="spacingAndGlyphs">Timor-Leste</text>
<line x1="473.6" y1="167.3" x2="476.2" y2="169.3" stroke="#B0A12C" stroke-width="0.4"/>
<circle cx="476.2" cy="169.3" r="0.8" fill="#B0A12C"/>
<text x="464.0" y="167.3" font-size="3.75" fill="#B0A12C" stroke="#B0A12C" stroke-width="0.05" textLength="9.6" lengthAdjust="spacingAndGlyphs">Nauru</text>
<line x1="480.9" y1="169.3" x2="478.8" y2="170.9" stroke="#EA4444" stroke-width="0.4"/>
<circle cx="478.8" cy="170.9" r="0.8" fill="#EA4444"/>
<text x="480.9" y="169.3" font-size="3.75" fill="#EA4444" stroke="#EA4444" stroke-width="0.05" textLength="9.6" lengthAdjust="spacingAndGlyphs">Zambia</text>
<line x1="497.7" y1="169.3" x2="492.1" y2="171.7" stroke="#1EB2D2" stroke-width="0.4"/>
<circle cx="492.1" cy="171.7" r="0.8" fill="#1EB2D2"/>
<text x="497.7" y="169.3" font-size="3.75" fill="#1EB2D2" stroke="#1EB2D2" stroke-width="0.05" textLength="15.3" lengthAdjust="spacingAndGlyphs">Kyrgyzstan</text>
<line x1="518.6" y1="167.3" x2="514.9" y2="168.3" stroke="#2EA4E4" stroke-width="0.4"/>
<circle cx="514.9" cy="168.3" r="0.8" fill="#2EA4E4"/>
<text x="518.6" y="167.3" font-size="3.75" fill="#2EA4E4" stroke="#2EA4E4" stroke-width="0.05" textLength="12.8" lengthAdjust="spacingAndGlyphs">Vanuatu</text>
<line x1="396.6" y1="170.1" x2="391.3" y2="170.2" stroke="#2EA4E4" stroke-width="0.4"/>
<circle cx="391.3" cy="170.2" r="0.8" fill="#2EA4E4"/>
<text x="396.6" y="170.1" font-size="3.75" fill="#2EA4E4" stroke="#2EA4E4" stroke-width="0.05" textLength="20.0" lengthAdjust="spacingAndGlyphs">Mozambique</text>
<circle cx="422.8" cy="174.2" r="0.8" fill="#1EB2D2"/>
<text x="419.5" y="171.9" font-size="3.75" fill="#1EB2D2" stroke="#1EB2D2" stroke-width="0.05" textLength="10.3" lengthAdjust="spacingAndGlyphs">Liberia</text>
<line x1="433.5" y1="171.9" x2="431.9" y2="174.1" stroke="#A055C8" stroke-width="0.4"/>
<circle cx="431.9" cy="174.1" r="0.8" fill="#A055C8"/>
<text x="433.5" y="171.9" font-size="3.75" fill="#A055C8" stroke="#A055C8" stroke-width="0.05" textLength="12.8" lengthAdjust="spacingAndGlyphs">Senegal</text>
<line x1="453.3" y1="169.3" x2="453.3" y2="166.3" stroke="#2DAF63" stroke-width="0.4"/>
<circle cx="453.3" cy="166.3" r="0.8" fill="#2DAF63"/>
<text x="448.7" y="171.9" font-size="3.75" fill="#2DAF63" stroke="#2DAF63" stroke-width="0.05" textLength="8.1" lengthAdjust="spacingAndGlyphs">Gambia</text>
<line x1="579.1" y1="169.5" x2="579.1" y2="166.7" stroke="#1EB2D2" stroke-width="0.4"/>
<circle cx="579.1" cy="166.7" r="0.8" fill="#1EB2D2"/>
<text x="574.0" y="172.1" font-size="3.75" fill="#1EB2D2" stroke="#1EB2D2" stroke-width="0.05" textLength="9.6" lengthAdjust="spacingAndGlyphs">Tonga</text>
<line x1="589.3" y1="172.4" x2="582.8" y2="172.4" stroke="#2EA4E4" stroke-width="0.4"/>
<circle cx="582.8" cy="172.4" r="0.8" fill="#2EA4E4"/>
<text x="589.3" y="172.6" font-size="3.75" fill="#2EA4E4" stroke="#2EA4E4" stroke-width="0.05" textLength="40.1" lengthAdjust="spacingAndGlyphs">Northern Mariana Islands</text>
<circle cx="559.5" cy="167.4" r="0.8" fill="#D6449C"/>
<text x="547.5" y="172.1" font-size="3.75" fill="#D6449C" stroke="#D6449C" stroke-width="0.05" textLength="14.5" lengthAdjust="spacingAndGlyphs">Philippines</text>
<line x1="519.4" y1="170.6" x2="515.1" y2="168.5" stroke="#2DAF63" stroke-width="0.4"/>
<circle cx="515.1" cy="168.5" r="0.8" fill="#2DAF63"/>
<text x="519.4" y="173.2" font-size="3.75" fill="#2DAF63" stroke="#2DAF63" stroke-width="0.05" textLength="27.3" lengthAdjust="spacingAndGlyphs">Equatorial Guinea</text>
<circle cx="510.2" cy="169.6" r="0.8" fill="#B0A12C"/>
<text x="507.4" y="174.2" font-size="3.75" fill="#B0A12C" stroke="#B0A12C" stroke-width="0.05" textLength="8.0" lengthAdjust="spacingAndGlyphs">Congo</text>
<line x1="468.8" y1="174.2" x2="463.0" y2="175.1" stroke="#1EB2D2" stroke-width="0.4"/>
<circle cx="463.0" cy="175.1" r="0.8" fill="#1EB2D2"/>
<text x="468.8" y="174.2" font-size="3.75" fill="#1EB2D2" stroke="#1EB2D2" stroke-width="0.05" textLength="35.3" lengthAdjust="spacingAndGlyphs">Cameroon Senegal Benin</text>
<circle cx="385.9" cy="171.2" r="0.8" fill="#B0A12C"/>
<text x="379.4" y="176.2" font-size="3.75" fill="#B0A12C" stroke="#B0A12C" stroke-width="0.05" textLength="38.0" lengthAdjust="spacingAndGlyphs">Central African Republic</text>
<circle cx="377.7" cy="172.1" r="0.8" fill="#B0A12C"/>
<text x="358.5" y="177.0" font-size="3.75" fill="#B0A12C" stroke="#B0A12C" stroke-width="0.05" textLength="19.9" lengthAdjust="spacingAndGlyphs">Burkina Faso</text>
<line x1="427.1" y1="175.7" x2="423.4" y2="175.7" stroke="#2EA4E4" stroke-width="0.4"/>
<circle cx="423.4" cy="175.7" r="0.8" fill="#2EA4E4"/>
<text x="427.1" y="177.8" font-size="3.75" fill="#2EA4E4" stroke="#2EA4E4" stroke-width="0.05" textLength="12.0" lengthAdjust="spacingAndGlyphs">Romania</text>
<line x1="578.0" y1="177.7" x2="576.0" y2="178.3" stroke="#2EA4E4" stroke-width="0.4"/>
<circle cx="576.0" cy="178.3" r="0.8" fill="#2EA4E4"/>
<text x="578.0" y="177.7" font-size="3.75" fill="#2EA4E4" stroke="#2EA4E4" stroke-width="0.05" textLength="9.7" lengthAdjust="spacingAndGlyphs">Palau</text>
<circle cx="556.8" cy="178.6" r="0.8" fill="#2EA4E4"/>
<text x="558.8" y="178.5" font-size="3.75" fill="#2EA4E4" stroke="#2EA4E4" stroke-width="0.05" textLength="14.5" lengthAdjust="spacingAndGlyphs">Mauritius</text>
<line x1="543.9" y1="178.5" x2="543.9" y2="181.1" stroke="#D99224" stroke-width="0.4"/>
<circle cx="543.9" cy="181.1" r="0.8" fill="#D99224"/>
<text x="537.9" y="178.5" font-size="3.75" fill="#D99224" stroke="#D99224" stroke-width="0.05" textLength="13.6" lengthAdjust="spacingAndGlyphs">Azerbaijan</text>
<line x1="448.7" y1="177.0" x2="443.1" y2="177.0" stroke="#A055C8" stroke-width="0.4"/>
<circle cx="443.1" cy="177.0" r="0.8" fill="#A055C8"/>
<text x="448.7" y="178.6" font-size="3.75" fill="#A055C8" stroke="#A055C8" stroke-width="0.05" textLength="15.3" lengthAdjust="spacingAndGlyphs">Singapore</text>
<line x1="519.4" y1="179.3" x2="516.0" y2="180.0" stroke="#D6449C" stroke-width="0.4"/>
<circle cx="516.0" cy="180.0" r="0.8" fill="#D6449C"/>
<text x="519.4" y="179.3" font-size="3.75" fill="#D6449C" stroke="#D6449C" stroke-width="0.05" textLength="7.2" lengthAdjust="spacingAndGlyphs">Samoa</text>
<circle cx="510.5" cy="181.9" r="0.8" fill="#D6449C"/>
<text x="501.0" y="180.1" font-size="3.75" fill="#D6449C" stroke="#D6449C" stroke-width="0.05" textLength="9.6" lengthAdjust="spacingAndGlyphs">Tonga</text>
<line x1="588.5" y1="179.6" x2="585.2" y2="179.6" stroke="#B0A12C" stroke-width="0.4"/>
<circle cx="585.2" cy="179.6" r="0.8" fill="#B0A12C"/>
<text x="588.5" y="180.1" font-size="3.75" fill="#B0A12C" stroke="#B0A12C" stroke-width="0.05" textLength="21.6" lengthAdjust="spacingAndGlyphs">Cook Islands</text>
<line x1="397.4" y1="178.9" x2="410.2" y2="178.1" stroke="#B0A12C" stroke-width="0.4"/>
<circle cx="410.2" cy="178.1" r="0.8" fill="#B0A12C"/>
<text x="385.8" y="181.5" font-size="3.75" fill="#B0A12C" stroke="#B0A12C" stroke-width="0.05" textLength="11.6" lengthAdjust="spacingAndGlyphs">Burundi</text>
<circle cx="462.0" cy="181.8" r="0.8" fill="#EA4444"/>
<text x="464.0" y="182.5" font-size="3.75" fill="#EA4444" stroke="#EA4444" stroke-width="0.05" textLength="27.3" lengthAdjust="spacingAndGlyphs">Marshall Islands</text>
<circle cx="487.6" cy="178.8" r="0.8" fill="#6058D4"/>
<text x="480.0" y="183.3" font-size="3.75" fill="#6058D4" stroke="#6058D4" stroke-width="0.05" textLength="28.2" lengthAdjust="spacingAndGlyphs">Brunei Darussalam</text>
<line x1="401.4" y1="182.8" x2="398.6" y2="182.8" stroke="#2DAF63" stroke-width="0.4"/>
<circle cx="398.6" cy="182.8" r="0.8" fill="#2DAF63"/>
<text x="401.4" y="183.4" font-size="3.75" fill="#2DAF63" stroke="#2DAF63" stroke-width="0.05" textLength="20.0" lengthAdjust="spacingAndGlyphs">Guinea-Bissau</text>
<line x1="382.9" y1="184.2" x2="383.7" y2="186.1" stroke="#B0A12C" stroke-width="0.4"/>
<circle cx="383.7" cy="186.1" r="0.8" fill="#B0A12C"/>
<text x="374.6" y="184.2" font-size="3.75" fill="#B0A12C" stroke="#B0A12C" stroke-width="0.05" textLength="8.3" lengthAdjust="spacingAndGlyphs">Samoa</text>
<line x1="448.7" y1="184.2" x2="451.0" y2="186.8" stroke="#2DAF63" stroke-width="0.4"/>
<circle cx="451.0" cy="186.8" r="0.8" fill="#2DAF63"/>
<text x="438.3" y="184.2" font-size="3.75" fill="#2DAF63" stroke="#2DAF63" stroke-width="0.05" textLength="10.4" lengthAdjust="spacingAndGlyphs">Ethiopia</text>
<line x1="599.0" y1="183.2" x2="594.0" y2="182.0" stroke="#2DAF63" stroke-width="0.4"/>
<circle cx="594.0" cy="182.0" r="0.8" fill="#2DAF63"/>
<text x="599.0" y="185.8" font-size="3.75" fill="#2DAF63" stroke="#2DAF63" stroke-width="0.05" textLength="9.6" lengthAdjust="spacingAndGlyphs">Bhutan</text>
<line x1="574.0" y1="182.8" x2="568.2" y2="181.1" stroke="#EA4444" stroke-width="0.4"/>
<circle cx="568.2" cy="181.1" r="0.8" fill="#EA4444"/>
<text x="574.0" y="185.4" font-size="3.75" fill="#EA4444" stroke="#EA4444" stroke-width="0.05" textLength="22.6" lengthAdjust="spacingAndGlyphs">American Samoa</text>
<circle cx="556.3" cy="187.8" r="0.8" fill="#EA4444"/>
<text x="554.0" y="185.4" font-size="3.75" fill="#EA4444" stroke="#EA4444" stroke-width="0.05" textLength="20.0" lengthAdjust="spacingAndGlyphs">Sierra Leone</text>
<line x1="515.0" y1="183.7" x2="512.2" y2="181.2" stroke="#A055C8" stroke-width="0.4"/>
<circle cx="512.2" cy="181.2" r="0.8" fill="#A055C8"/>
<text x="515.0" y="186.3" font-size="3.75" fill="#A055C8" stroke="#A055C8" stroke-width="0.05" textLength="11.3" lengthAdjust="spacingAndGlyphs">Comoros</text>
<circle cx="533.7" cy="181.5" r="0.8" fill="#D6449C"/>
<text x="527.9" y="185.9" font-size="3.75" fill="#D6449C" stroke="#D6449C" stroke-width="0.05" textLength="12.8" lengthAdjust="spacingAndGlyphs">Comoros</text>
<line x1="511.0" y1="187.8" x2="516.6" y2="187.8" stroke="#D6449C" stroke-width="0.4"/>
<circle cx="516.6" cy="187.8" r="0.8" fill="#D6449C"/>
<text x="502.2" y="187.9" font-size="3.75" fill="#D6449C" stroke="#D6449C" stroke-width="0.05" textLength="8.8" lengthAdjust="spacingAndGlyphs">Zambia</text>
<circle cx="455.8" cy="189.9" r="0.8" fill="#EA4444"/>
<text x="455.2" y="188.3" font-size="3.75" fill="#EA4444" stroke="#EA4444" stroke-width="0.05" textLength="13.3" lengthAdjust="spacingAndGlyphs">Viet Nam</text>
<line x1="473.3" y1="186.5" x2="470.2" y2="185.1" stroke="#B0A12C" stroke-width="0.4"/>
<circle cx="470.2" cy="185.1" r="0.8" fill="#B0A12C"/>
<text x="473.3" y="189.1" font-size="3.75" fill="#B0A12C" stroke="#B0A12C" stroke-width="0.05" textLength="11.2" lengthAdjust="spacingAndGlyphs">Djibouti</text>
<line x1="488.5" y1="189.1" x2="482.9" y2="189.6" stroke="#1FAE82" stroke-width="0.4"/>
<circle cx="482.9" cy="189.6" r="0.8" fill="#1FAE82"/>
<text x="488.5" y="189.1" font-size="3.75" fill="#1FAE82" stroke="#1FAE82" stroke-width="0.05" textLength="8.1" lengthAdjust="spacingAndGlyphs">Kenya</text>
<line x1="416.6" y1="186.4" x2="422.0" y2="184.4" stroke="#D6449C" stroke-width="0.4"/>
<circle cx="422.0" cy="184.4" r="0.8" fill="#D6449C"/>
<text x="396.6" y="189.0" font-size="3.75" fill="#D6449C" stroke="#D6449C" stroke-width="0.05" textLength="20.0" lengthAdjust="spacingAndGlyphs">South Sudan</text>
<line x1="434.3" y1="186.4" x2="434.3" y2="181.3" stroke="#D99224" stroke-width="0.4"/>
<circle cx="434.3" cy="181.3" r="0.8" fill="#D99224"/>
<text x="426.3" y="189.0" font-size="3.75" fill="#D99224" stroke="#D99224" stroke-width="0.05" textLength="8.8" lengthAdjust="spacingAndGlyphs">Niger</text>
<line x1="393.3" y1="188.1" x2="399.9" y2="188.1" stroke="#2EA4E4" stroke-width="0.4"/>
<circle cx="399.9" cy="188.1" r="0.8" fill="#2EA4E4"/>
<text x="386.9" y="190.6" font-size="3.75" fill="#2EA4E4" stroke="#2EA4E4" stroke-width="0.05" textLength="6.4" lengthAdjust="spacingAndGlyphs">Mali</text>
<circle cx="577.2" cy="189.2" r="0.8" fill="#2EA4E4"/>
<text x="568.5" y="191.4" font-size="3.75" fill="#2EA4E4" stroke="#2EA4E4" stroke-width="0.05" textLength="6.4" lengthAdjust="spacingAndGlyphs">Niue</text>
<circle cx="560.7" cy="187.1" r="0.8" fill="#D6449C"/>
<text x="554.0" y="191.4" font-size="3.75" fill="#D6449C" stroke="#D6449C" stroke-width="0.05" textLength="8.0" lengthAdjust="spacingAndGlyphs">Tuvalu</text>
<line x1="537.5" y1="192.4" x2="532.6" y2="193.7" stroke="#A055C8" stroke-width="0.4"/>
<circle cx="532.6" cy="193.7" r="0.8" fill="#A055C8"/>
<text x="537.5" y="192.4" font-size="3.75" fill="#A055C8" stroke="#A055C8" stroke-width="0.05" textLength="11.2" lengthAdjust="spacingAndGlyphs">Ukraine</text>
<circle cx="523.1" cy="194.3" r="0.8" fill="#2EA4E4"/>
<text x="519.8" y="192.4" font-size="3.75" fill="#2EA4E4" stroke="#2EA4E4" stroke-width="0.05" textLength="12.9" lengthAdjust="spacingAndGlyphs">Namibia</text>
<line x1="442.0" y1="192.7" x2="438.0" y2="193.5" stroke="#EA4444" stroke-width="0.4"/>
<circle cx="438.0" cy="193.5" r="0.8" fill="#EA4444"/>
<text x="442.0" y="192.7" font-size="3.75" fill="#EA4444" stroke="#EA4444" stroke-width="0.05" textLength="11.6" lengthAdjust="spacingAndGlyphs">Vanuatu</text>
<circle cx="410.3" cy="190.2" r="0.8" fill="#A055C8"/>
<text x="407.0" y="194.7" font-size="3.75" fill="#A055C8" stroke="#A055C8" stroke-width="0.05" textLength="19.3" lengthAdjust="spacingAndGlyphs">Sierra Leone</text>
<line x1="534.3" y1="195.3" x2="538.5" y2="196.4" stroke="#1EB2D2" stroke-width="0.4"/>
<circle cx="538.5" cy="196.4" r="0.8" fill="#1EB2D2"/>
<text x="488.5" y="195.3" font-size="3.75" fill="#1EB2D2" stroke="#1EB2D2" stroke-width="0.05" textLength="45.8" lengthAdjust="spacingAndGlyphs">Djibouti Marshall Islands</text>
<line x1="472.5" y1="193.4" x2="480.1" y2="193.4" stroke="#B0A12C" stroke-width="0.4"/>
<circle cx="480.1" cy="193.4" r="0.8" fill="#B0A12C"/>
<text x="454.0" y="195.9" font-size="3.75" fill="#B0A12C" stroke="#B0A12C" stroke-width="0.05" textLength="18.5" lengthAdjust="spacingAndGlyphs">Cote d'Ivoire</text>
<line x1="486.1" y1="193.3" x2="489.4" y2="193.3" stroke="#B0A12C" stroke-width="0.4"/>
<circle cx="489.4" cy="193.3" r="0.8" fill="#B0A12C"/>
<text x="471.7" y="195.9" font-size="3.75" fill="#B0A12C" stroke="#B0A12C" stroke-width="0.05" textLength="14.4" lengthAdjust="spacingAndGlyphs">Cameroon</text>
<circle cx="563.5" cy="194.9" r="0.8" fill="#2DAF63"/>
<text x="557.2" y="197.0" font-size="3.75" fill="#2DAF63" stroke="#2DAF63" stroke-width="0.05" textLength="4.0" lengthAdjust="spacingAndGlyphs">Togo</text>
<line x1="429.5" y1="198.2" x2="424.1" y2="200.8" stroke="#1EB2D2" stroke-width="0.4"/>
<circle cx="424.1" cy="200.8" r="0.8" fill="#1EB2D2"/>
<text x="429.5" y="198.2" font-size="3.75" fill="#1EB2D2" stroke="#1EB2D2" stroke-width="0.05" textLength="16.0" lengthAdjust="spacingAndGlyphs">Madagascar</text>
<line x1="546.3" y1="196.2" x2="554.3" y2="195.3" stroke="#2DAF63" stroke-width="0.4"/>
<circle cx="554.3" cy="195.3" r="0.8" fill="#2DAF63"/>
<text x="536.7" y="198.8" font-size="3.75" fill="#2DAF63" stroke="#2DAF63" stroke-width="0.05" textLength="9.6" lengthAdjust="spacingAndGlyphs">Gabon</text>
<line x1="411.5" y1="197.7" x2="413.5" y2="196.1" stroke="#2DAF63" stroke-width="0.4"/>
<circle cx="413.5" cy="196.1" r="0.8" fill="#2DAF63"/>
<text x="400.3" y="200.3" font-size="3.75" fill="#2DAF63" stroke="#2DAF63" stroke-width="0.05" textLength="11.2" lengthAdjust="spacingAndGlyphs">Guinea</text>
<line x1="414.2" y1="197.7" x2="409.6" y2="195.5" stroke="#2DAF63" stroke-width="0.4"/>
<circle cx="409.6" cy="195.5" r="0.8" fill="#2DAF63"/>
<text x="414.2" y="200.3" font-size="3.75" fill="#2DAF63" stroke="#2DAF63" stroke-width="0.05" textLength="11.3" lengthAdjust="spacingAndGlyphs">Eritrea</text>
<line x1="463.3" y1="201.7" x2="463.3" y2="204.3" stroke="#EA4444" stroke-width="0.4"/>
<circle cx="463.3" cy="204.3" r="0.8" fill="#EA4444"/>
<text x="456.4" y="201.7" font-size="3.75" fill="#EA4444" stroke="#EA4444" stroke-width="0.05" textLength="12.1" lengthAdjust="spacingAndGlyphs">Vanuatu</text>
<line x1="483.7" y1="201.7" x2="490.3" y2="204.1" stroke="#2EA4E4" stroke-width="0.4"/>
<circle cx="490.3" cy="204.1" r="0.8" fill="#2EA4E4"/>
<text x="473.3" y="201.7" font-size="3.75" fill="#2EA4E4" stroke="#2EA4E4" stroke-width="0.05" textLength="10.4" lengthAdjust="spacingAndGlyphs">Uganda</text>
<line x1="488.5" y1="199.1" x2="486.7" y2="197.8" stroke="#1FAE82" stroke-width="0.4"/>
<circle cx="486.7" cy="197.8" r="0.8" fill="#1FAE82"/>
<text x="488.5" y="201.7" font-size="3.75" fill="#1FAE82" stroke="#1FAE82" stroke-width="0.05" textLength="9.7" lengthAdjust="spacingAndGlyphs">Angola</text>
<circle cx="505.3" cy="203.7" r="0.8" fill="#2DAF63"/>
<text x="502.2" y="201.7" font-size="3.75" fill="#2DAF63" stroke="#2DAF63" stroke-width="0.05" textLength="12.8" lengthAdjust="spacingAndGlyphs">Slovakia</text>
<line x1="519.8" y1="201.2" x2="516.7" y2="202.4" stroke="#2EA4E4" stroke-width="0.4"/>
<circle cx="516.7" cy="202.4" r="0.8" fill="#2EA4E4"/>
<text x="519.8" y="201.2" font-size="3.75" fill="#2EA4E4" stroke="#2EA4E4" stroke-width="0.05" textLength="12.9" lengthAdjust="spacingAndGlyphs">Namibia</text>
<line x1="546.3" y1="203.9" x2="542.9" y2="204.0" stroke="#A055C8" stroke-width="0.4"/>
<circle cx="542.9" cy="204.0" r="0.8" fill="#A055C8"/>
<text x="546.3" y="203.9" font-size="3.75" fill="#A055C8" stroke="#A055C8" stroke-width="0.05" textLength="17.7" lengthAdjust="spacingAndGlyphs">South Africa</text>
<line x1="419.0" y1="204.1" x2="423.5" y2="201.7" stroke="#B0A12C" stroke-width="0.4"/>
<circle cx="423.5" cy="201.7" r="0.8" fill="#B0A12C"/>
<text x="364.9" y="206.7" font-size="3.75" fill="#B0A12C" stroke="#B0A12C" stroke-width="0.05" textLength="54.1" lengthAdjust="spacingAndGlyphs">Democratic Republic of the Congo</text>
<line x1="422.3" y1="204.1" x2="416.5" y2="203.9" stroke="#2EA4E4" stroke-width="0.4"/>
<circle cx="416.5" cy="203.9" r="0.8" fill="#2EA4E4"/>
<text x="422.3" y="206.7" font-size="3.75" fill="#2EA4E4" stroke="#2EA4E4" stroke-width="0.05" textLength="29.7" lengthAdjust="spacingAndGlyphs">Papua New Guinea</text>
<line x1="467.3" y1="205.0" x2="467.3" y2="201.5" stroke="#EA4444" stroke-width="0.4"/>
<circle cx="467.3" cy="201.5" r="0.8" fill="#EA4444"/>
<text x="466.0" y="207.6" font-size="3.75" fill="#EA4444" stroke="#EA4444" stroke-width="0.05" textLength="16.1" lengthAdjust="spacingAndGlyphs">Zimbabwe</text>
<line x1="488.5" y1="204.5" x2="483.3" y2="204.4" stroke="#1FAE82" stroke-width="0.4"/>
<circle cx="483.3" cy="204.4" r="0.8" fill="#1FAE82"/>
<text x="488.5" y="207.1" font-size="3.75" fill="#1FAE82" stroke="#1FAE82" stroke-width="0.05" textLength="11.3" lengthAdjust="spacingAndGlyphs">Lesotho</text>
<line x1="539.4" y1="204.2" x2="539.4" y2="201.3" stroke="#D99224" stroke-width="0.4"/>
<circle cx="539.4" cy="201.3" r="0.8" fill="#D99224"/>
<text x="528.7" y="206.8" font-size="3.75" fill="#D99224" stroke="#D99224" stroke-width="0.05" textLength="15.2" lengthAdjust="spacingAndGlyphs">Botswana</text>
<line x1="463.2" y1="209.7" x2="465.9" y2="208.6" stroke="#D6449C" stroke-width="0.4"/>
<circle cx="465.9" cy="208.6" r="0.8" fill="#D6449C"/>
<text x="437.2" y="212.3" font-size="3.75" fill="#D6449C" stroke="#D6449C" stroke-width="0.05" textLength="26.0" lengthAdjust="spacingAndGlyphs">Solomon Islands</text>
<path d="M388.1,397.0 C390.4,397.8 396.6,400.2 401.8,401.7 C407.0,403.2 413.5,405.1 419.3,406.1 C425.1,407.1 431.0,408.1 436.8,407.8 C442.6,407.5 448.9,406.1 454.4,404.5 C459.9,402.9 465.2,400.1 470.0,398.5 C474.8,396.9 477.3,396.5 483.4,394.7 C489.5,392.9 498.9,390.2 506.7,387.7 C514.5,385.2 522.3,382.1 530.1,379.6 C537.9,377.1 545.9,375.3 553.4,372.6 C560.9,369.9 569.5,366.4 575.0,363.5 C580.5,360.6 582.8,358.2 586.7,355.5 C590.6,352.8 594.6,350.1 598.4,347.5 C602.2,344.9 606.4,342.5 609.5,340.0 C612.6,337.5 614.4,335.8 616.8,332.3 C619.2,328.8 621.8,323.8 624.1,319.2 C626.4,314.6 628.5,309.5 630.7,304.6 C632.9,299.7 635.0,294.7 637.2,290.0 C639.4,285.3 642.7,278.5 643.8,276.2 L643.8,320.7 C642.6,322.1 638.9,326.6 636.5,329.4 C634.1,332.2 631.6,334.8 629.2,337.4 C626.8,339.9 624.1,342.6 621.9,344.7 C619.7,346.8 618.2,348.3 616.1,350.0 C614.0,351.7 612.5,352.8 609.5,355.0 C606.5,357.2 602.2,360.2 598.4,363.0 C594.6,365.8 590.6,369.4 586.7,372.0 C582.8,374.6 580.5,376.1 575.0,378.5 C569.5,380.9 560.9,383.9 553.4,386.6 C545.9,389.3 537.9,392.0 530.1,394.7 C522.3,397.4 514.5,400.2 506.7,403.0 C498.9,405.8 489.5,408.8 483.4,411.5 C477.3,414.2 474.8,417.1 470.0,419.5 C465.2,421.9 459.9,423.6 454.4,426.0 C448.9,428.4 442.6,431.2 436.8,433.7 C431.0,436.1 425.1,437.9 419.3,440.7 C413.5,443.5 407.0,447.3 401.8,450.3 C396.6,453.3 390.4,457.3 388.1,458.7 Z" fill="#d6d6d6" stroke="none"/>
<path d="M388.1,428.0 C391.9,427.3 403.9,424.9 410.6,423.6 C417.3,422.3 422.3,421.3 428.1,420.1 C433.9,418.9 440.3,417.9 445.6,416.6 C450.9,415.3 454.6,413.8 460.0,412.3 C465.4,410.8 474.1,409.0 478.0,407.8 C481.9,406.6 478.6,407.1 483.4,405.3 C488.2,403.5 498.9,399.7 506.7,397.1 C514.5,394.5 524.6,391.1 530.1,389.5 C535.6,387.9 536.4,388.4 540.0,387.3 C543.6,386.2 547.8,384.5 551.7,383.1 C555.6,381.7 559.5,380.6 563.4,379.0 C567.3,377.4 571.1,375.7 575.0,373.8 C578.9,371.9 582.8,370.0 586.7,367.4 C590.6,364.8 594.6,361.0 598.4,358.0 C602.2,355.0 606.8,351.6 609.5,349.5 C612.2,347.4 612.5,347.6 614.6,345.5 C616.7,343.4 619.5,340.0 621.9,336.7 C624.3,333.4 626.8,329.7 629.2,325.8 C631.6,321.9 634.1,317.8 636.5,313.4 C638.9,309.0 642.6,301.8 643.8,299.5" fill="none" stroke="#687a90" stroke-width="2.50" stroke-linecap="round"/>
<line x1="358.8" y1="243.2" x2="358.8" y2="469.5" stroke="#3a3a3a" stroke-width="1.50"/>
<line x1="358.1" y1="468.8" x2="683.0" y2="468.8" stroke="#3a3a3a" stroke-width="1.50"/>
<line x1="356.8" y1="296.1" x2="358.8" y2="296.1" stroke="#444" stroke-width="0.50"/>
<text x="355.8" y="297.3" font-size="3.50" fill="#444" text-anchor="end" font-weight="normal" stroke="#444" stroke-width="0.1">120</text>
<line x1="356.8" y1="355.6" x2="358.8" y2="355.6" stroke="#444" stroke-width="0.50"/>
<text x="355.8" y="356.8" font-size="3.50" fill="#444" text-anchor="end" font-weight="normal" stroke="#444" stroke-width="0.1">80</text>
<line x1="356.8" y1="414.2" x2="358.8" y2="414.2" stroke="#444" stroke-width="0.50"/>
<text x="355.8" y="415.4" font-size="3.50" fill="#444" text-anchor="end" font-weight="normal" stroke="#444" stroke-width="0.1">40</text>
<line x1="373.0" y1="468.8" x2="373.0" y2="470.8" stroke="#444" stroke-width="0.50"/>
<text x="373.0" y="473.8" font-size="3.50" fill="#444" text-anchor="middle" font-weight="normal" stroke="#444" stroke-width="0.1">0.2</text>
<line x1="409.9" y1="468.8" x2="409.9" y2="470.8" stroke="#444" stroke-width="0.50"/>
<text x="409.9" y="473.8" font-size="3.50" fill="#444" text-anchor="middle" font-weight="normal" stroke="#444" stroke-width="0.1">0.3</text>
<line x1="446.8" y1="468.8" x2="446.8" y2="470.8" stroke="#444" stroke-width="0.50"/>
<text x="446.8" y="473.8" font-size="3.50" fill="#444" text-anchor="middle" font-weight="normal" stroke="#444" stroke-width="0.1">0.4</text>
<line x1="483.7" y1="468.8" x2="483.7" y2="470.8" stroke="#444" stroke-width="0.50"/>
<text x="483.7" y="473.8" font-size="3.50" fill="#444" text-anchor="middle" font-weight="normal" stroke="#444" stroke-width="0.1">0.5</text>
<line x1="520.6" y1="468.8" x2="520.6" y2="470.8" stroke="#444" stroke-width="0.50"/>
<text x="520.6" y="473.8" font-size="3.50" fill="#444" text-anchor="middle" font-weight="normal" stroke="#444" stroke-width="0.1">0.6</text>
<line x1="557.5" y1="468.8" x2="557.5" y2="470.8" stroke="#444" stroke-width="0.50"/>
<text x="557.5" y="473.8" font-size="3.50" fill="#444" text-anchor="middle" font-weight="normal" stroke="#444" stroke-width="0.1">0.7</text>
<line x1="594.4" y1="468.8" x2="594.4" y2="470.8" stroke="#444" stroke-width="0.50"/>
<text x="594.4" y="473.8" font-size="3.50" fill="#444" text-anchor="middle" font-weight="normal" stroke="#444" stroke-width="0.1">0.8</text>
<line x1="631.3" y1="468.8" x2="631.3" y2="470.8" stroke="#444" stroke-width="0.50"/>
<text x="631.3" y="473.8" font-size="3.50" fill="#444" text-anchor="middle" font-weight="normal" stroke="#444" stroke-width="0.1">0.9</text>
<line x1="668.2" y1="468.8" x2="668.2" y2="470.8" stroke="#444" stroke-width="0.50"/>
<text x="668.2" y="473.8" font-size="3.50" fill="#444" text-anchor="middle" font-weight="normal" stroke="#444" stroke-width="0.1">1.0</text>
<text x="520.9" y="479.3" font-size="5.00" fill="#222" text-anchor="middle" font-weight="normal" stroke="#222" stroke-width="0.15">SDI</text>
<text x="348.8" y="356.6" font-size="3.9" fill="#1a1a1a" stroke="#1a1a1a" stroke-width="0.15" text-anchor="middle" transform="rotate(-90 348.8 356.6)" textLength="78.6" lengthAdjust="spacingAndGlyphs">Incidence Rate per 100,000 population</text>
<text x="335.2" y="267.3" font-size="18.20" fill="#000" text-anchor="start" font-weight="normal">F</text>
<circle cx="488.7" cy="255.2" r="0.8" fill="#2DAF63"/>
<text x="475.9" y="259.7" font-size="3.75" fill="#2DAF63" stroke="#2DAF63" stroke-width="0.05" textLength="16.3" lengthAdjust="spacingAndGlyphs">Honduras</text>
<circle cx="541.6" cy="253.5" r="0.8" fill="#B0A12C"/>
<text x="529.0" y="251.3" font-size="3.75" fill="#B0A12C" stroke="#B0A12C" stroke-width="0.05" textLength="15.2" lengthAdjust="spacingAndGlyphs">Colombia</text>
<line x1="546.9" y1="260.6" x2="546.3" y2="258.4" stroke="#B0A12C" stroke-width="0.4"/>
<circle cx="546.3" cy="258.4" r="0.8" fill="#B0A12C"/>
<text x="546.9" y="263.2" font-size="3.75" fill="#B0A12C" stroke="#B0A12C" stroke-width="0.05" textLength="8.7" lengthAdjust="spacingAndGlyphs">Chile</text>
<circle cx="544.6" cy="266.8" r="0.8" fill="#2EA4E4"/>
<text x="534.6" y="271.4" font-size="3.75" fill="#2EA4E4" stroke="#2EA4E4" stroke-width="0.05" textLength="11.4" lengthAdjust="spacingAndGlyphs">Mexico</text>
<circle cx="492.9" cy="297.8" r="0.8" fill="#2EA4E4"/>
<text x="489.1" y="296.0" font-size="3.75" fill="#2EA4E4" stroke="#2EA4E4" stroke-width="0.05" textLength="16.6" lengthAdjust="spacingAndGlyphs">Nicaragua</text>
<circle cx="557.7" cy="296.9" r="0.8" fill="#B0A12C"/>
<text x="544.2" y="301.7" font-size="3.75" fill="#B0A12C" stroke="#B0A12C" stroke-width="0.05" textLength="15.8" lengthAdjust="spacingAndGlyphs">Costa Rica</text>
<circle cx="627.0" cy="271.0" r="0.8" fill="#D6449C"/>
<text x="616.2" y="269.0" font-size="3.75" fill="#D6449C" stroke="#D6449C" stroke-width="0.05" textLength="12.8" lengthAdjust="spacingAndGlyphs">Slovenia</text>
<circle cx="637.6" cy="272.8" r="0.8" fill="#2EA4E4"/>
<text x="637.0" y="271.0" font-size="3.75" fill="#2EA4E4" stroke="#2EA4E4" stroke-width="0.05" textLength="11.5" lengthAdjust="spacingAndGlyphs">Norway</text>
<circle cx="643.9" cy="276.0" r="0.8" fill="#D6449C"/>
<text x="639.4" y="280.5" font-size="3.75" fill="#D6449C" stroke="#D6449C" stroke-width="0.05" textLength="18.8" lengthAdjust="spacingAndGlyphs">Switzerland</text>
<circle cx="599.2" cy="287.1" r="0.8" fill="#6058D4"/>
<text x="599.2" y="285.1" font-size="3.75" fill="#6058D4" stroke="#6058D4" stroke-width="0.05" textLength="10.4" lengthAdjust="spacingAndGlyphs">Poland</text>
<circle cx="630.6" cy="286.0" r="0.8" fill="#68B82E"/>
<text x="618.4" y="290.2" font-size="3.75" fill="#68B82E" stroke="#68B82E" stroke-width="0.05" textLength="14.6" lengthAdjust="spacingAndGlyphs">Lithuania</text>
<line x1="618.0" y1="303.3" x2="616.9" y2="305.1" stroke="#2DAF63" stroke-width="0.4"/>
<circle cx="616.9" cy="305.1" r="0.8" fill="#2DAF63"/>
<text x="618.0" y="303.3" font-size="3.75" fill="#2DAF63" stroke="#2DAF63" stroke-width="0.05" textLength="11.7" lengthAdjust="spacingAndGlyphs">Finland</text>
<line x1="614.4" y1="304.3" x2="618.4" y2="307.9" stroke="#EA4444" stroke-width="0.4"/>
<circle cx="618.4" cy="307.9" r="0.8" fill="#EA4444"/>
<text x="575.5" y="304.3" font-size="3.75" fill="#EA4444" stroke="#EA4444" stroke-width="0.05" textLength="38.9" lengthAdjust="spacingAndGlyphs">United States of America</text>
<line x1="589.6" y1="307.7" x2="591.9" y2="307.2" stroke="#2DAF63" stroke-width="0.4"/>
<circle cx="591.9" cy="307.2" r="0.8" fill="#2DAF63"/>
<text x="575.5" y="310.3" font-size="3.75" fill="#2DAF63" stroke="#2DAF63" stroke-width="0.05" textLength="14.1" lengthAdjust="spacingAndGlyphs">Hungary</text>
<line x1="610.2" y1="310.3" x2="610.2" y2="314.8" stroke="#A055C8" stroke-width="0.4"/>
<circle cx="610.2" cy="314.8" r="0.8" fill="#A055C8"/>
<text x="602.9" y="310.3" font-size="3.75" fill="#A055C8" stroke="#A055C8" stroke-width="0.05" textLength="12.8" lengthAdjust="spacingAndGlyphs">Slovenia</text>
<circle cx="622.0" cy="309.0" r="0.8" fill="#D99224"/>
<text x="623.9" y="309.7" font-size="3.75" fill="#D99224" stroke="#D99224" stroke-width="0.05" textLength="12.4" lengthAdjust="spacingAndGlyphs">Czechia</text>
<line x1="604.0" y1="316.1" x2="604.0" y2="320.0" stroke="#B0A12C" stroke-width="0.4"/>
<circle cx="604.0" cy="320.0" r="0.8" fill="#B0A12C"/>
<text x="596.1" y="316.1" font-size="3.75" fill="#B0A12C" stroke="#B0A12C" stroke-width="0.05" textLength="12.8" lengthAdjust="spacingAndGlyphs">Croatia</text>
<circle cx="614.7" cy="318.8" r="0.8" fill="#D99224"/>
<text x="612.9" y="316.5" font-size="3.75" fill="#D99224" stroke="#D99224" stroke-width="0.05" textLength="12.4" lengthAdjust="spacingAndGlyphs">Belgium</text>
<circle cx="520.4" cy="315.2" r="0.8" fill="#D99224"/>
<text x="492.0" y="313.2" font-size="3.75" fill="#D99224" stroke="#D99224" stroke-width="0.05" textLength="47.3" lengthAdjust="spacingAndGlyphs">Bolivia (Plurinational State of)</text>
<line x1="544.6" y1="318.8" x2="543.7" y2="316.1" stroke="#6058D4" stroke-width="0.4"/>
<circle cx="543.7" cy="316.1" r="0.8" fill="#6058D4"/>
<text x="544.6" y="321.4" font-size="3.75" fill="#6058D4" stroke="#6058D4" stroke-width="0.05" textLength="7.4" lengthAdjust="spacingAndGlyphs">Peru</text>
<circle cx="565.6" cy="321.5" r="0.8" fill="#B0A12C"/>
<text x="556.9" y="319.3" font-size="3.75" fill="#B0A12C" stroke="#B0A12C" stroke-width="0.05" textLength="8.7" lengthAdjust="spacingAndGlyphs">Chile</text>
<circle cx="582.8" cy="322.8" r="0.8" fill="#D99224"/>
<text x="573.7" y="320.4" font-size="3.75" fill="#D99224" stroke="#D99224" stroke-width="0.05" textLength="10.9" lengthAdjust="spacingAndGlyphs">Bulgaria</text>
<circle cx="605.6" cy="324.2" r="0.8" fill="#A055C8"/>
<text x="595.6" y="322.6" font-size="3.75" fill="#A055C8" stroke="#A055C8" stroke-width="0.05" textLength="9.1" lengthAdjust="spacingAndGlyphs">Chile</text>
<circle cx="612.9" cy="324.6" r="0.8" fill="#2EA4E4"/>
<text x="613.8" y="323.7" font-size="3.75" fill="#2EA4E4" stroke="#2EA4E4" stroke-width="0.05" textLength="21.0" lengthAdjust="spacingAndGlyphs">New Zealand</text>
<line x1="665.5" y1="322.5" x2="670.8" y2="322.5" stroke="#6058D4" stroke-width="0.4"/>
<circle cx="670.8" cy="322.5" r="0.8" fill="#6058D4"/>
<text x="636.6" y="324.4" font-size="3.75" fill="#6058D4" stroke="#6058D4" stroke-width="0.05" textLength="28.9" lengthAdjust="spacingAndGlyphs">Republic of Korea</text>
<circle cx="568.3" cy="328.9" r="0.8" fill="#D99224"/>
<text x="567.4" y="326.7" font-size="3.75" fill="#D99224" stroke="#D99224" stroke-width="0.05" textLength="7.6" lengthAdjust="spacingAndGlyphs">Mali</text>
<line x1="575.5" y1="326.8" x2="577.3" y2="328.2" stroke="#D99224" stroke-width="0.4"/>
<circle cx="577.3" cy="328.2" r="0.8" fill="#D99224"/>
<text x="563.6" y="326.8" font-size="3.75" fill="#D99224" stroke="#D99224" stroke-width="0.05" textLength="11.9" lengthAdjust="spacingAndGlyphs">Bahrain</text>
<circle cx="543.7" cy="329.3" r="0.8" fill="#68B82E"/>
<text x="532.3" y="327.6" font-size="3.75" fill="#68B82E" stroke="#68B82E" stroke-width="0.05" textLength="13.2" lengthAdjust="spacingAndGlyphs">Ecuador</text>
<line x1="595.6" y1="328.6" x2="603.8" y2="333.7" stroke="#D99224" stroke-width="0.4"/>
<circle cx="603.8" cy="333.7" r="0.8" fill="#D99224"/>
<text x="581.0" y="328.6" font-size="3.75" fill="#D99224" stroke="#D99224" stroke-width="0.05" textLength="14.6" lengthAdjust="spacingAndGlyphs">Argentina</text>
<circle cx="620.2" cy="331.9" r="0.8" fill="#EA4444"/>
<text x="612.9" y="329.5" font-size="3.75" fill="#EA4444" stroke="#EA4444" stroke-width="0.05" textLength="12.8" lengthAdjust="spacingAndGlyphs">Australia</text>
<line x1="540.4" y1="331.1" x2="540.4" y2="328.6" stroke="#B0A12C" stroke-width="0.4"/>
<circle cx="540.4" cy="328.6" r="0.8" fill="#B0A12C"/>
<text x="536.7" y="333.7" font-size="3.75" fill="#B0A12C" stroke="#B0A12C" stroke-width="0.05" textLength="11.3" lengthAdjust="spacingAndGlyphs">Bermuda</text>
<line x1="549.0" y1="331.0" x2="546.5" y2="329.5" stroke="#D6449C" stroke-width="0.4"/>
<circle cx="546.5" cy="329.5" r="0.8" fill="#D6449C"/>
<text x="549.0" y="333.6" font-size="3.75" fill="#D6449C" stroke="#D6449C" stroke-width="0.05" textLength="43.8" lengthAdjust="spacingAndGlyphs">United States Virgin Islands</text>
<line x1="609.3" y1="334.1" x2="612.5" y2="334.5" stroke="#D6449C" stroke-width="0.4"/>
<circle cx="612.5" cy="334.5" r="0.8" fill="#D6449C"/>
<text x="599.2" y="334.1" font-size="3.75" fill="#D6449C" stroke="#D6449C" stroke-width="0.05" textLength="10.1" lengthAdjust="spacingAndGlyphs">Kuwait</text>
<line x1="627.7" y1="333.3" x2="627.7" y2="329.9" stroke="#2DAF63" stroke-width="0.4"/>
<circle cx="627.7" cy="329.9" r="0.8" fill="#2DAF63"/>
<text x="625.7" y="335.9" font-size="3.75" fill="#2DAF63" stroke="#2DAF63" stroke-width="0.05" textLength="10.9" lengthAdjust="spacingAndGlyphs">Ireland</text>
<line x1="638.5" y1="336.8" x2="618.5" y2="339.5" stroke="#A055C8" stroke-width="0.4"/>
<circle cx="618.5" cy="339.5" r="0.8" fill="#A055C8"/>
<text x="638.5" y="336.8" font-size="3.75" fill="#A055C8" stroke="#A055C8" stroke-width="0.05" textLength="19.1" lengthAdjust="spacingAndGlyphs">San Marino</text>
<line x1="581.0" y1="340.1" x2="583.1" y2="341.1" stroke="#A055C8" stroke-width="0.4"/>
<circle cx="583.1" cy="341.1" r="0.8" fill="#A055C8"/>
<text x="572.8" y="340.1" font-size="3.75" fill="#A055C8" stroke="#A055C8" stroke-width="0.05" textLength="8.2" lengthAdjust="spacingAndGlyphs">Spain</text>
<line x1="585.5" y1="338.3" x2="580.5" y2="338.0" stroke="#68B82E" stroke-width="0.4"/>
<circle cx="580.5" cy="338.0" r="0.8" fill="#68B82E"/>
<text x="585.5" y="340.9" font-size="3.75" fill="#68B82E" stroke="#68B82E" stroke-width="0.05" textLength="11.0" lengthAdjust="spacingAndGlyphs">Greece</text>
<line x1="610.7" y1="340.1" x2="610.7" y2="343.3" stroke="#2EA4E4" stroke-width="0.4"/>
<circle cx="610.7" cy="343.3" r="0.8" fill="#2EA4E4"/>
<text x="600.1" y="340.1" font-size="3.75" fill="#2EA4E4" stroke="#2EA4E4" stroke-width="0.05" textLength="15.6" lengthAdjust="spacingAndGlyphs">Montenegro</text>
<line x1="630.3" y1="341.3" x2="616.5" y2="341.3" stroke="#2EA4E4" stroke-width="0.4"/>
<circle cx="616.5" cy="341.3" r="0.8" fill="#2EA4E4"/>
<text x="630.3" y="342.7" font-size="3.75" fill="#2EA4E4" stroke="#2EA4E4" stroke-width="0.05" textLength="18.2" lengthAdjust="spacingAndGlyphs">Netherlands</text>
<line x1="550.8" y1="340.2" x2="550.8" y2="343.4" stroke="#D6449C" stroke-width="0.4"/>
<circle cx="550.8" cy="343.4" r="0.8" fill="#D6449C"/>
<text x="549.9" y="340.2" font-size="3.75" fill="#D6449C" stroke="#D6449C" stroke-width="0.05" textLength="12.2" lengthAdjust="spacingAndGlyphs">Uruguay</text>
<line x1="543.7" y1="339.9" x2="566.5" y2="339.9" stroke="#D99224" stroke-width="0.4"/>
<circle cx="566.5" cy="339.9" r="0.8" fill="#D99224"/>
<text x="505.2" y="341.9" font-size="3.75" fill="#D99224" stroke="#D99224" stroke-width="0.05" textLength="38.5" lengthAdjust="spacingAndGlyphs">Bosnia and Herzegovina</text>
<line x1="560.0" y1="346.0" x2="554.5" y2="346.9" stroke="#D99224" stroke-width="0.4"/>
<circle cx="554.5" cy="346.9" r="0.8" fill="#D99224"/>
<text x="560.0" y="346.0" font-size="3.75" fill="#D99224" stroke="#D99224" stroke-width="0.05" textLength="14.6" lengthAdjust="spacingAndGlyphs">Nicaragua</text>
<circle cx="571.7" cy="343.8" r="0.8" fill="#EA4444"/>
<text x="546.4" y="346.0" font-size="3.75" fill="#EA4444" stroke="#EA4444" stroke-width="0.05" textLength="23.6" lengthAdjust="spacingAndGlyphs">North Macedonia</text>
<line x1="591.9" y1="344.3" x2="599.7" y2="343.0" stroke="#A055C8" stroke-width="0.4"/>
<circle cx="599.7" cy="343.0" r="0.8" fill="#A055C8"/>
<text x="581.9" y="346.9" font-size="3.75" fill="#A055C8" stroke="#A055C8" stroke-width="0.05" textLength="10.0" lengthAdjust="spacingAndGlyphs">Qatar</text>
<line x1="608.7" y1="343.7" x2="608.7" y2="340.2" stroke="#D99224" stroke-width="0.4"/>
<circle cx="608.7" cy="340.2" r="0.8" fill="#D99224"/>
<text x="596.5" y="346.3" font-size="3.75" fill="#D99224" stroke="#D99224" stroke-width="0.05" textLength="12.8" lengthAdjust="spacingAndGlyphs">Andorra</text>
<line x1="617.0" y1="343.4" x2="617.0" y2="340.7" stroke="#2DAF63" stroke-width="0.4"/>
<circle cx="617.0" cy="340.7" r="0.8" fill="#2DAF63"/>
<text x="614.7" y="346.0" font-size="3.75" fill="#2DAF63" stroke="#2DAF63" stroke-width="0.05" textLength="8.3" lengthAdjust="spacingAndGlyphs">Tonga</text>
<line x1="642.1" y1="348.7" x2="611.0" y2="350.1" stroke="#2DAF63" stroke-width="0.4"/>
<circle cx="611.0" cy="350.1" r="0.8" fill="#2DAF63"/>
<text x="642.1" y="348.7" font-size="3.75" fill="#2DAF63" stroke="#2DAF63" stroke-width="0.05" textLength="14.6" lengthAdjust="spacingAndGlyphs">Lithuania</text>
<line x1="508.7" y1="347.7" x2="504.9" y2="348.5" stroke="#6058D4" stroke-width="0.4"/>
<circle cx="504.9" cy="348.5" r="0.8" fill="#6058D4"/>
<text x="508.7" y="347.7" font-size="3.75" fill="#6058D4" stroke="#6058D4" stroke-width="0.05" textLength="14.9" lengthAdjust="spacingAndGlyphs">Paraguay</text>
<line x1="527.1" y1="346.5" x2="523.1" y2="346.5" stroke="#A055C8" stroke-width="0.4"/>
<circle cx="523.1" cy="346.5" r="0.8" fill="#A055C8"/>
<text x="527.1" y="347.7" font-size="3.75" fill="#A055C8" stroke="#A055C8" stroke-width="0.05" textLength="17.5" lengthAdjust="spacingAndGlyphs">Seychelles</text>
<line x1="583.7" y1="352.9" x2="589.2" y2="352.9" stroke="#D99224" stroke-width="0.4"/>
<circle cx="589.2" cy="352.9" r="0.8" fill="#D99224"/>
<text x="571.0" y="353.3" font-size="3.75" fill="#D99224" stroke="#D99224" stroke-width="0.05" textLength="12.7" lengthAdjust="spacingAndGlyphs">Belarus</text>
<circle cx="593.5" cy="351.0" r="0.8" fill="#2EA4E4"/>
<text x="595.6" y="351.8" font-size="3.75" fill="#2EA4E4" stroke="#2EA4E4" stroke-width="0.05" textLength="12.8" lengthAdjust="spacingAndGlyphs">Dominica</text>
<line x1="614.7" y1="348.8" x2="609.5" y2="348.7" stroke="#EA4444" stroke-width="0.4"/>
<circle cx="609.5" cy="348.7" r="0.8" fill="#EA4444"/>
<text x="614.7" y="351.4" font-size="3.75" fill="#EA4444" stroke="#EA4444" stroke-width="0.05" textLength="11.0" lengthAdjust="spacingAndGlyphs">Portugal</text>
<line x1="628.4" y1="352.4" x2="600.3" y2="355.1" stroke="#EA4444" stroke-width="0.4"/>
<circle cx="600.3" cy="355.1" r="0.8" fill="#EA4444"/>
<text x="628.4" y="352.4" font-size="3.75" fill="#EA4444" stroke="#EA4444" stroke-width="0.05" textLength="10.1" lengthAdjust="spacingAndGlyphs">Malta</text>
<line x1="636.6" y1="352.1" x2="602.4" y2="351.3" stroke="#2DAF63" stroke-width="0.4"/>
<circle cx="602.4" cy="351.3" r="0.8" fill="#2DAF63"/>
<text x="636.6" y="354.7" font-size="3.75" fill="#2DAF63" stroke="#2DAF63" stroke-width="0.05" textLength="14.6" lengthAdjust="spacingAndGlyphs">Argentina</text>
<line x1="505.7" y1="352.1" x2="507.8" y2="352.6" stroke="#68B82E" stroke-width="0.4"/>
<circle cx="507.8" cy="352.6" r="0.8" fill="#68B82E"/>
<text x="487.7" y="352.1" font-size="3.75" fill="#68B82E" stroke="#68B82E" stroke-width="0.05" textLength="18.0" lengthAdjust="spacingAndGlyphs">El Salvador</text>
<line x1="531.5" y1="351.7" x2="534.1" y2="351.7" stroke="#2EA4E4" stroke-width="0.4"/>
<circle cx="534.1" cy="351.7" r="0.8" fill="#2EA4E4"/>
<text x="516.6" y="353.5" font-size="3.75" fill="#2EA4E4" stroke="#2EA4E4" stroke-width="0.05" textLength="14.9" lengthAdjust="spacingAndGlyphs">Palestine</text>
<line x1="548.6" y1="350.9" x2="548.6" y2="348.3" stroke="#2EA4E4" stroke-width="0.4"/>
<circle cx="548.6" cy="348.3" r="0.8" fill="#2EA4E4"/>
<text x="535.8" y="353.5" font-size="3.75" fill="#2EA4E4" stroke="#2EA4E4" stroke-width="0.05" textLength="13.2" lengthAdjust="spacingAndGlyphs">Slovakia</text>
<circle cx="549.8" cy="353.1" r="0.8" fill="#1FAE82"/>
<text x="551.6" y="353.5" font-size="3.75" fill="#1FAE82" stroke="#1FAE82" stroke-width="0.05" textLength="14.9" lengthAdjust="spacingAndGlyphs">Singapore</text>
<circle cx="459.6" cy="355.7" r="0.8" fill="#2EA4E4"/>
<text x="450.0" y="353.5" font-size="3.75" fill="#2EA4E4" stroke="#2EA4E4" stroke-width="0.05" textLength="9.6" lengthAdjust="spacingAndGlyphs">Nepal</text>
<line x1="578.2" y1="359.1" x2="580.0" y2="360.0" stroke="#A055C8" stroke-width="0.4"/>
<circle cx="580.0" cy="360.0" r="0.8" fill="#A055C8"/>
<text x="556.0" y="359.1" font-size="3.75" fill="#A055C8" stroke="#A055C8" stroke-width="0.05" textLength="22.2" lengthAdjust="spacingAndGlyphs">United Kingdom</text>
<line x1="578.2" y1="356.5" x2="574.4" y2="353.8" stroke="#A055C8" stroke-width="0.4"/>
<circle cx="574.4" cy="353.8" r="0.8" fill="#A055C8"/>
<text x="578.2" y="359.1" font-size="3.75" fill="#A055C8" stroke="#A055C8" stroke-width="0.05" textLength="14.6" lengthAdjust="spacingAndGlyphs">Malaysia</text>
<line x1="592.8" y1="356.5" x2="588.8" y2="354.3" stroke="#2DAF63" stroke-width="0.4"/>
<circle cx="588.8" cy="354.3" r="0.8" fill="#2DAF63"/>
<text x="592.8" y="359.1" font-size="3.75" fill="#2DAF63" stroke="#2DAF63" stroke-width="0.05" textLength="23.8" lengthAdjust="spacingAndGlyphs">Cyprus Albania</text>
<line x1="621.1" y1="359.9" x2="596.5" y2="359.9" stroke="#6058D4" stroke-width="0.4"/>
<circle cx="596.5" cy="359.9" r="0.8" fill="#6058D4"/>
<text x="621.1" y="360.2" font-size="3.75" fill="#6058D4" stroke="#6058D4" stroke-width="0.05" textLength="8.2" lengthAdjust="spacingAndGlyphs">Cyprus</text>
<line x1="636.6" y1="360.2" x2="592.1" y2="362.5" stroke="#1EB2D2" stroke-width="0.4"/>
<circle cx="592.1" cy="362.5" r="0.8" fill="#1EB2D2"/>
<text x="636.6" y="360.2" font-size="3.75" fill="#1EB2D2" stroke="#1EB2D2" stroke-width="0.05" textLength="9.2" lengthAdjust="spacingAndGlyphs">Japan</text>
<line x1="662.2" y1="360.6" x2="668.0" y2="361.1" stroke="#2EA4E4" stroke-width="0.4"/>
<circle cx="668.0" cy="361.1" r="0.8" fill="#2EA4E4"/>
<text x="649.4" y="360.6" font-size="3.75" fill="#2EA4E4" stroke="#2EA4E4" stroke-width="0.05" textLength="12.8" lengthAdjust="spacingAndGlyphs">Slovenia</text>
<circle cx="511.7" cy="361.7" r="0.8" fill="#1FAE82"/>
<text x="502.6" y="359.6" font-size="3.75" fill="#1FAE82" stroke="#1FAE82" stroke-width="0.05" textLength="8.7" lengthAdjust="spacingAndGlyphs">India</text>
<line x1="532.3" y1="361.4" x2="536.7" y2="361.5" stroke="#2DAF63" stroke-width="0.4"/>
<circle cx="536.7" cy="361.5" r="0.8" fill="#2DAF63"/>
<text x="520.1" y="361.4" font-size="3.75" fill="#2DAF63" stroke="#2DAF63" stroke-width="0.05" textLength="12.2" lengthAdjust="spacingAndGlyphs">Guyana</text>
<line x1="547.2" y1="360.0" x2="552.2" y2="362.0" stroke="#EA4444" stroke-width="0.4"/>
<circle cx="552.2" cy="362.0" r="0.8" fill="#EA4444"/>
<text x="535.8" y="360.0" font-size="3.75" fill="#EA4444" stroke="#EA4444" stroke-width="0.05" textLength="11.4" lengthAdjust="spacingAndGlyphs">Morocco</text>
<circle cx="474.2" cy="362.5" r="0.8" fill="#D99224"/>
<text x="464.0" y="360.9" font-size="3.75" fill="#D99224" stroke="#D99224" stroke-width="0.05" textLength="11.4" lengthAdjust="spacingAndGlyphs">Bhutan</text>
<line x1="479.7" y1="367.5" x2="479.7" y2="370.5" stroke="#EA4444" stroke-width="0.4"/>
<circle cx="479.7" cy="370.5" r="0.8" fill="#EA4444"/>
<text x="475.4" y="367.5" font-size="3.75" fill="#EA4444" stroke="#EA4444" stroke-width="0.05" textLength="49.9" lengthAdjust="spacingAndGlyphs">Venezuela (Bolivarian Republic of)</text>
<line x1="543.7" y1="364.9" x2="547.7" y2="362.3" stroke="#A055C8" stroke-width="0.4"/>
<circle cx="547.7" cy="362.3" r="0.8" fill="#A055C8"/>
<text x="527.1" y="367.5" font-size="3.75" fill="#A055C8" stroke="#A055C8" stroke-width="0.05" textLength="16.6" lengthAdjust="spacingAndGlyphs">Mauritania</text>
<circle cx="550.3" cy="360.8" r="0.8" fill="#EA4444"/>
<text x="547.2" y="365.8" font-size="3.75" fill="#EA4444" stroke="#EA4444" stroke-width="0.05" textLength="14.9" lengthAdjust="spacingAndGlyphs">Argentina</text>
<line x1="581.0" y1="365.1" x2="575.0" y2="367.1" stroke="#A055C8" stroke-width="0.4"/>
<circle cx="575.0" cy="367.1" r="0.8" fill="#A055C8"/>
<text x="581.0" y="365.1" font-size="3.75" fill="#A055C8" stroke="#A055C8" stroke-width="0.05" textLength="11.8" lengthAdjust="spacingAndGlyphs">Turkey</text>
<line x1="596.5" y1="363.1" x2="592.8" y2="360.7" stroke="#2DAF63" stroke-width="0.4"/>
<circle cx="592.8" cy="360.7" r="0.8" fill="#2DAF63"/>
<text x="596.5" y="365.7" font-size="3.75" fill="#2DAF63" stroke="#2DAF63" stroke-width="0.05" textLength="10.0" lengthAdjust="spacingAndGlyphs">Poland</text>
<line x1="613.8" y1="365.7" x2="611.2" y2="365.9" stroke="#D6449C" stroke-width="0.4"/>
<circle cx="611.2" cy="365.9" r="0.8" fill="#D6449C"/>
<text x="613.8" y="365.7" font-size="3.75" fill="#D6449C" stroke="#D6449C" stroke-width="0.05" textLength="32.9" lengthAdjust="spacingAndGlyphs">United Arab Emirates</text>
<line x1="654.0" y1="370.6" x2="654.0" y2="374.0" stroke="#D99224" stroke-width="0.4"/>
<circle cx="654.0" cy="374.0" r="0.8" fill="#D99224"/>
<text x="648.5" y="370.6" font-size="3.75" fill="#D99224" stroke="#D99224" stroke-width="0.05" textLength="11.9" lengthAdjust="spacingAndGlyphs">Andorra</text>
<line x1="608.4" y1="370.6" x2="582.5" y2="371.0" stroke="#2DAF63" stroke-width="0.4"/>
<circle cx="582.5" cy="371.0" r="0.8" fill="#2DAF63"/>
<text x="608.4" y="370.6" font-size="3.75" fill="#2DAF63" stroke="#2DAF63" stroke-width="0.05" textLength="11.8" lengthAdjust="spacingAndGlyphs">Estonia</text>
<circle cx="627.5" cy="374.3" r="0.8" fill="#2DAF63"/>
<text x="623.9" y="372.4" font-size="3.75" fill="#2DAF63" stroke="#2DAF63" stroke-width="0.05" textLength="10.9" lengthAdjust="spacingAndGlyphs">Iceland</text>
<line x1="595.6" y1="368.9" x2="579.7" y2="368.3" stroke="#2EA4E4" stroke-width="0.4"/>
<circle cx="579.7" cy="368.3" r="0.8" fill="#2EA4E4"/>
<text x="595.6" y="371.5" font-size="3.75" fill="#2EA4E4" stroke="#2EA4E4" stroke-width="0.05" textLength="10.0" lengthAdjust="spacingAndGlyphs">Chile</text>
<line x1="575.5" y1="370.6" x2="580.9" y2="372.3" stroke="#2DAF63" stroke-width="0.4"/>
<circle cx="580.9" cy="372.3" r="0.8" fill="#2DAF63"/>
<text x="566.4" y="370.6" font-size="3.75" fill="#2DAF63" stroke="#2DAF63" stroke-width="0.05" textLength="9.1" lengthAdjust="spacingAndGlyphs">Bhutan</text>
<line x1="582.6" y1="370.4" x2="582.6" y2="366.8" stroke="#D99224" stroke-width="0.4"/>
<circle cx="582.6" cy="366.8" r="0.8" fill="#D99224"/>
<text x="577.3" y="373.0" font-size="3.75" fill="#D99224" stroke="#D99224" stroke-width="0.05" textLength="12.8" lengthAdjust="spacingAndGlyphs">Paraguay</text>
<circle cx="481.5" cy="370.1" r="0.8" fill="#D99224"/>
<text x="460.5" y="373.1" font-size="3.75" fill="#D99224" stroke="#D99224" stroke-width="0.05" textLength="19.3" lengthAdjust="spacingAndGlyphs">Bangladesh</text>
<line x1="482.4" y1="373.1" x2="477.7" y2="374.1" stroke="#2DAF63" stroke-width="0.4"/>
<circle cx="477.7" cy="374.1" r="0.8" fill="#2DAF63"/>
<text x="482.4" y="373.1" font-size="3.75" fill="#2DAF63" stroke="#2DAF63" stroke-width="0.05" textLength="17.5" lengthAdjust="spacingAndGlyphs">Guatemala</text>
<line x1="528.8" y1="373.7" x2="540.2" y2="376.6" stroke="#D99224" stroke-width="0.4"/>
<circle cx="540.2" cy="376.6" r="0.8" fill="#D99224"/>
<text x="521.0" y="373.7" font-size="3.75" fill="#D99224" stroke="#D99224" stroke-width="0.05" textLength="7.8" lengthAdjust="spacingAndGlyphs">Brazil</text>
<line x1="548.3" y1="370.2" x2="548.3" y2="366.5" stroke="#D6449C" stroke-width="0.4"/>
<circle cx="548.3" cy="366.5" r="0.8" fill="#D6449C"/>
<text x="545.5" y="372.8" font-size="3.75" fill="#D6449C" stroke="#D6449C" stroke-width="0.05" textLength="6.1" lengthAdjust="spacingAndGlyphs">Iran</text>
<line x1="563.6" y1="374.2" x2="558.7" y2="374.2" stroke="#2DAF63" stroke-width="0.4"/>
<circle cx="558.7" cy="374.2" r="0.8" fill="#2DAF63"/>
<text x="563.6" y="376.1" font-size="3.75" fill="#2DAF63" stroke="#2DAF63" stroke-width="0.05" textLength="4.6" lengthAdjust="spacingAndGlyphs">Guam</text>
<circle cx="509.0" cy="377.9" r="0.8" fill="#2EA4E4"/>
<text x="501.7" y="376.3" font-size="3.75" fill="#2EA4E4" stroke="#2EA4E4" stroke-width="0.05" textLength="14.0" lengthAdjust="spacingAndGlyphs">Cabo Verde</text>
<line x1="527.1" y1="376.7" x2="521.2" y2="375.8" stroke="#EA4444" stroke-width="0.4"/>
<circle cx="521.2" cy="375.8" r="0.8" fill="#EA4444"/>
<text x="527.1" y="379.3" font-size="3.75" fill="#EA4444" stroke="#EA4444" stroke-width="0.05" textLength="15.8" lengthAdjust="spacingAndGlyphs">Nicaragua</text>
<line x1="492.0" y1="376.7" x2="495.3" y2="374.2" stroke="#2EA4E4" stroke-width="0.4"/>
<circle cx="495.3" cy="374.2" r="0.8" fill="#2EA4E4"/>
<text x="479.8" y="379.3" font-size="3.75" fill="#2EA4E4" stroke="#2EA4E4" stroke-width="0.05" textLength="12.2" lengthAdjust="spacingAndGlyphs">Viet Nam</text>
<line x1="579.2" y1="376.8" x2="565.9" y2="376.8" stroke="#2EA4E4" stroke-width="0.4"/>
<circle cx="565.9" cy="376.8" r="0.8" fill="#2EA4E4"/>
<text x="579.2" y="379.3" font-size="3.75" fill="#2EA4E4" stroke="#2EA4E4" stroke-width="0.05" textLength="26.9" lengthAdjust="spacingAndGlyphs">North Macedonia</text>
<line x1="607.8" y1="376.7" x2="564.3" y2="376.7" stroke="#1FAE82" stroke-width="0.4"/>
<circle cx="564.3" cy="376.7" r="0.8" fill="#1FAE82"/>
<text x="607.8" y="378.3" font-size="3.75" fill="#1FAE82" stroke="#1FAE82" stroke-width="0.05" textLength="10.0" lengthAdjust="spacingAndGlyphs">Latvia</text>
<line x1="628.3" y1="375.7" x2="628.3" y2="373.1" stroke="#D6449C" stroke-width="0.4"/>
<circle cx="628.3" cy="373.1" r="0.8" fill="#D6449C"/>
<text x="620.4" y="378.3" font-size="3.75" fill="#D6449C" stroke="#D6449C" stroke-width="0.05" textLength="16.7" lengthAdjust="spacingAndGlyphs">Singapore</text>
<line x1="569.9" y1="378.9" x2="564.8" y2="381.7" stroke="#2EA4E4" stroke-width="0.4"/>
<circle cx="564.8" cy="381.7" r="0.8" fill="#2EA4E4"/>
<text x="569.9" y="378.9" font-size="3.75" fill="#2EA4E4" stroke="#2EA4E4" stroke-width="0.05" textLength="20.1" lengthAdjust="spacingAndGlyphs">Sierra Leone</text>
<circle cx="523.0" cy="377.2" r="0.8" fill="#D6449C"/>
<text x="496.3" y="381.9" font-size="3.75" fill="#D6449C" stroke="#D6449C" stroke-width="0.05" textLength="29.8" lengthAdjust="spacingAndGlyphs">Syrian Arab Republic</text>
<line x1="527.8" y1="379.5" x2="522.6" y2="380.7" stroke="#EA4444" stroke-width="0.4"/>
<circle cx="522.6" cy="380.7" r="0.8" fill="#EA4444"/>
<text x="527.8" y="379.5" font-size="3.75" fill="#EA4444" stroke="#EA4444" stroke-width="0.05" textLength="12.3" lengthAdjust="spacingAndGlyphs">Viet Nam</text>
<line x1="447.3" y1="384.3" x2="442.2" y2="384.3" stroke="#B0A12C" stroke-width="0.4"/>
<circle cx="442.2" cy="384.3" r="0.8" fill="#B0A12C"/>
<text x="447.3" y="385.1" font-size="3.75" fill="#B0A12C" stroke="#B0A12C" stroke-width="0.05" textLength="56.9" lengthAdjust="spacingAndGlyphs">Lao People's Democratic Republic</text>
<line x1="440.3" y1="385.5" x2="436.5" y2="387.1" stroke="#EA4444" stroke-width="0.4"/>
<circle cx="436.5" cy="387.1" r="0.8" fill="#EA4444"/>
<text x="440.3" y="385.5" font-size="3.75" fill="#EA4444" stroke="#EA4444" stroke-width="0.05" textLength="8.8" lengthAdjust="spacingAndGlyphs">Yemen</text>
<line x1="555.7" y1="384.7" x2="555.7" y2="387.7" stroke="#2DAF63" stroke-width="0.4"/>
<circle cx="555.7" cy="387.7" r="0.8" fill="#2DAF63"/>
<text x="534.0" y="384.7" font-size="3.75" fill="#2DAF63" stroke="#2DAF63" stroke-width="0.05" textLength="35.0" lengthAdjust="spacingAndGlyphs">Sao Tome and Principe</text>
<line x1="597.7" y1="382.1" x2="603.5" y2="381.4" stroke="#A055C8" stroke-width="0.4"/>
<circle cx="603.5" cy="381.4" r="0.8" fill="#A055C8"/>
<text x="575.0" y="384.7" font-size="3.75" fill="#A055C8" stroke="#A055C8" stroke-width="0.05" textLength="22.7" lengthAdjust="spacingAndGlyphs">Guinea-Bissau</text>
<line x1="601.9" y1="383.2" x2="598.4" y2="383.2" stroke="#1FAE82" stroke-width="0.4"/>
<circle cx="598.4" cy="383.2" r="0.8" fill="#1FAE82"/>
<text x="601.9" y="384.7" font-size="3.75" fill="#1FAE82" stroke="#1FAE82" stroke-width="0.05" textLength="9.2" lengthAdjust="spacingAndGlyphs">Israel</text>
<line x1="614.5" y1="383.0" x2="609.6" y2="383.0" stroke="#A055C8" stroke-width="0.4"/>
<circle cx="609.6" cy="383.0" r="0.8" fill="#A055C8"/>
<text x="614.5" y="384.2" font-size="3.75" fill="#A055C8" stroke="#A055C8" stroke-width="0.05" textLength="18.5" lengthAdjust="spacingAndGlyphs">Puerto Rico</text>
<line x1="638.8" y1="390.1" x2="644.2" y2="392.6" stroke="#A055C8" stroke-width="0.4"/>
<circle cx="644.2" cy="392.6" r="0.8" fill="#A055C8"/>
<text x="618.7" y="390.1" font-size="3.75" fill="#A055C8" stroke="#A055C8" stroke-width="0.05" textLength="20.1" lengthAdjust="spacingAndGlyphs">Saudi Arabia</text>
<line x1="615.3" y1="390.0" x2="620.7" y2="390.0" stroke="#D99224" stroke-width="0.4"/>
<circle cx="620.7" cy="390.0" r="0.8" fill="#D99224"/>
<text x="584.3" y="391.1" font-size="3.75" fill="#D99224" stroke="#D99224" stroke-width="0.05" textLength="31.0" lengthAdjust="spacingAndGlyphs">Brunei Darussalam</text>
<circle cx="500.0" cy="386.3" r="0.8" fill="#D6449C"/>
<text x="494.5" y="391.2" font-size="3.75" fill="#D6449C" stroke="#D6449C" stroke-width="0.05" textLength="11.4" lengthAdjust="spacingAndGlyphs">Sri Lanka</text>
<line x1="527.8" y1="388.2" x2="535.0" y2="389.6" stroke="#EA4444" stroke-width="0.4"/>
<circle cx="535.0" cy="389.6" r="0.8" fill="#EA4444"/>
<text x="512.9" y="388.2" font-size="3.75" fill="#EA4444" stroke="#EA4444" stroke-width="0.05" textLength="14.9" lengthAdjust="spacingAndGlyphs">Viet Nam</text>
<line x1="566.4" y1="388.6" x2="574.0" y2="387.4" stroke="#EA4444" stroke-width="0.4"/>
<circle cx="574.0" cy="387.4" r="0.8" fill="#EA4444"/>
<text x="548.8" y="391.2" font-size="3.75" fill="#EA4444" stroke="#EA4444" stroke-width="0.05" textLength="17.6" lengthAdjust="spacingAndGlyphs">Tajikistan</text>
<line x1="566.4" y1="388.2" x2="563.0" y2="388.2" stroke="#A055C8" stroke-width="0.4"/>
<circle cx="563.0" cy="388.2" r="0.8" fill="#A055C8"/>
<text x="566.4" y="390.7" font-size="3.75" fill="#A055C8" stroke="#A055C8" stroke-width="0.05" textLength="17.6" lengthAdjust="spacingAndGlyphs">Montenegro</text>
<line x1="458.6" y1="389.9" x2="458.6" y2="386.6" stroke="#B0A12C" stroke-width="0.4"/>
<circle cx="458.6" cy="386.6" r="0.8" fill="#B0A12C"/>
<text x="456.1" y="392.5" font-size="3.75" fill="#B0A12C" stroke="#B0A12C" stroke-width="0.05" textLength="15.8" lengthAdjust="spacingAndGlyphs">Cambodia</text>
<line x1="520.8" y1="394.7" x2="526.6" y2="397.0" stroke="#D99224" stroke-width="0.4"/>
<circle cx="526.6" cy="397.0" r="0.8" fill="#D99224"/>
<text x="512.9" y="394.7" font-size="3.75" fill="#D99224" stroke="#D99224" stroke-width="0.05" textLength="7.9" lengthAdjust="spacingAndGlyphs">Bhutan</text>
<line x1="483.1" y1="394.4" x2="478.3" y2="392.8" stroke="#2EA4E4" stroke-width="0.4"/>
<circle cx="478.3" cy="392.8" r="0.8" fill="#2EA4E4"/>
<text x="483.1" y="397.0" font-size="3.75" fill="#2EA4E4" stroke="#2EA4E4" stroke-width="0.05" textLength="8.8" lengthAdjust="spacingAndGlyphs">India</text>
<line x1="495.4" y1="395.6" x2="491.6" y2="393.8" stroke="#2DAF63" stroke-width="0.4"/>
<circle cx="491.6" cy="393.8" r="0.8" fill="#2DAF63"/>
<text x="495.4" y="398.2" font-size="3.75" fill="#2DAF63" stroke="#2DAF63" stroke-width="0.05" textLength="10.5" lengthAdjust="spacingAndGlyphs">Guinea</text>
<circle cx="551.1" cy="399.2" r="0.8" fill="#2DAF63"/>
<text x="536.6" y="397.0" font-size="3.75" fill="#2DAF63" stroke="#2DAF63" stroke-width="0.05" textLength="15.7" lengthAdjust="spacingAndGlyphs">Indonesia</text>
<line x1="567.2" y1="393.8" x2="573.4" y2="393.0" stroke="#2DAF63" stroke-width="0.4"/>
<circle cx="573.4" cy="393.0" r="0.8" fill="#2DAF63"/>
<text x="556.7" y="396.4" font-size="3.75" fill="#2DAF63" stroke="#2DAF63" stroke-width="0.05" textLength="10.5" lengthAdjust="spacingAndGlyphs">Georgia</text>
<circle cx="594.5" cy="395.6" r="0.8" fill="#D99224"/>
<text x="596.9" y="397.8" font-size="3.75" fill="#D99224" stroke="#D99224" stroke-width="0.05" textLength="15.9" lengthAdjust="spacingAndGlyphs">Guatemala</text>
<line x1="622.9" y1="396.8" x2="625.4" y2="398.4" stroke="#2DAF63" stroke-width="0.4"/>
<circle cx="625.4" cy="398.4" r="0.8" fill="#2DAF63"/>
<text x="616.2" y="396.8" font-size="3.75" fill="#2DAF63" stroke="#2DAF63" stroke-width="0.05" textLength="6.7" lengthAdjust="spacingAndGlyphs">Italy</text>
<line x1="461.4" y1="397.7" x2="464.9" y2="397.7" stroke="#2DAF63" stroke-width="0.4"/>
<circle cx="464.9" cy="397.7" r="0.8" fill="#2DAF63"/>
<text x="453.5" y="398.3" font-size="3.75" fill="#2DAF63" stroke="#2DAF63" stroke-width="0.05" textLength="7.9" lengthAdjust="spacingAndGlyphs">Haiti</text>
<circle cx="423.7" cy="399.9" r="0.8" fill="#EA4444"/>
<text x="410.2" y="398.3" font-size="3.75" fill="#EA4444" stroke="#EA4444" stroke-width="0.05" textLength="18.8" lengthAdjust="spacingAndGlyphs">Afghanistan</text>
<line x1="594.3" y1="396.4" x2="600.8" y2="394.5" stroke="#A055C8" stroke-width="0.4"/>
<circle cx="600.8" cy="394.5" r="0.8" fill="#A055C8"/>
<text x="580.1" y="399.0" font-size="3.75" fill="#A055C8" stroke="#A055C8" stroke-width="0.05" textLength="14.2" lengthAdjust="spacingAndGlyphs">Trinidad</text>
<line x1="532.2" y1="400.8" x2="538.6" y2="401.9" stroke="#2DAF63" stroke-width="0.4"/>
<circle cx="538.6" cy="401.9" r="0.8" fill="#2DAF63"/>
<text x="510.3" y="400.8" font-size="3.75" fill="#2DAF63" stroke="#2DAF63" stroke-width="0.05" textLength="21.9" lengthAdjust="spacingAndGlyphs">Cote d'Ivoire</text>
<line x1="617.0" y1="400.2" x2="624.4" y2="400.2" stroke="#2EA4E4" stroke-width="0.4"/>
<circle cx="624.4" cy="400.2" r="0.8" fill="#2EA4E4"/>
<text x="608.6" y="402.8" font-size="3.75" fill="#2EA4E4" stroke="#2EA4E4" stroke-width="0.05" textLength="8.4" lengthAdjust="spacingAndGlyphs">Malta</text>
<line x1="547.1" y1="400.3" x2="544.0" y2="397.8" stroke="#EA4444" stroke-width="0.4"/>
<circle cx="544.0" cy="397.8" r="0.8" fill="#EA4444"/>
<text x="547.1" y="402.9" font-size="3.75" fill="#EA4444" stroke="#EA4444" stroke-width="0.05" textLength="8.7" lengthAdjust="spacingAndGlyphs">Nepal</text>
<line x1="562.9" y1="400.3" x2="557.4" y2="397.8" stroke="#2DAF63" stroke-width="0.4"/>
<circle cx="557.4" cy="397.8" r="0.8" fill="#2DAF63"/>
<text x="562.9" y="402.9" font-size="3.75" fill="#2DAF63" stroke="#2DAF63" stroke-width="0.05" textLength="14.8" lengthAdjust="spacingAndGlyphs">Sri Lanka</text>
<line x1="464.0" y1="403.0" x2="458.9" y2="405.0" stroke="#EA4444" stroke-width="0.4"/>
<circle cx="458.9" cy="405.0" r="0.8" fill="#EA4444"/>
<text x="464.0" y="403.0" font-size="3.75" fill="#EA4444" stroke="#EA4444" stroke-width="0.05" textLength="14.0" lengthAdjust="spacingAndGlyphs">Djibouti</text>
<line x1="478.8" y1="401.7" x2="474.6" y2="401.6" stroke="#D6449C" stroke-width="0.4"/>
<circle cx="474.6" cy="401.6" r="0.8" fill="#D6449C"/>
<text x="478.8" y="404.3" font-size="3.75" fill="#D6449C" stroke="#D6449C" stroke-width="0.05" textLength="54.3" lengthAdjust="spacingAndGlyphs">Saint Vincent and the Grenadines</text>
<line x1="440.3" y1="403.9" x2="445.4" y2="403.9" stroke="#2DAF63" stroke-width="0.4"/>
<circle cx="445.4" cy="403.9" r="0.8" fill="#2DAF63"/>
<text x="427.7" y="404.7" font-size="3.75" fill="#2DAF63" stroke="#2DAF63" stroke-width="0.05" textLength="12.6" lengthAdjust="spacingAndGlyphs">Vanuatu</text>
<line x1="450.9" y1="404.7" x2="452.5" y2="407.3" stroke="#D6449C" stroke-width="0.4"/>
<circle cx="452.5" cy="407.3" r="0.8" fill="#D6449C"/>
<text x="443.0" y="404.7" font-size="3.75" fill="#D6449C" stroke="#D6449C" stroke-width="0.05" textLength="7.9" lengthAdjust="spacingAndGlyphs">Timor</text>
<circle cx="460.6" cy="407.1" r="0.8" fill="#D6449C"/>
<text x="454.4" y="404.7" font-size="3.75" fill="#D6449C" stroke="#D6449C" stroke-width="0.05" textLength="8.7" lengthAdjust="spacingAndGlyphs">Leste</text>
<line x1="605.3" y1="402.6" x2="607.1" y2="401.7" stroke="#D6449C" stroke-width="0.4"/>
<circle cx="607.1" cy="401.7" r="0.8" fill="#D6449C"/>
<text x="594.3" y="405.2" font-size="3.75" fill="#D6449C" stroke="#D6449C" stroke-width="0.05" textLength="11.0" lengthAdjust="spacingAndGlyphs">Jordan</text>
<line x1="543.6" y1="408.7" x2="541.8" y2="410.0" stroke="#2DAF63" stroke-width="0.4"/>
<circle cx="541.8" cy="410.0" r="0.8" fill="#2DAF63"/>
<text x="543.6" y="408.7" font-size="3.75" fill="#2DAF63" stroke="#2DAF63" stroke-width="0.05" textLength="4.4" lengthAdjust="spacingAndGlyphs">Cuba</text>
<circle cx="556.5" cy="410.4" r="0.8" fill="#D6449C"/>
<text x="555.8" y="408.7" font-size="3.75" fill="#D6449C" stroke="#D6449C" stroke-width="0.05" textLength="8.8" lengthAdjust="spacingAndGlyphs">Sudan</text>
<line x1="591.0" y1="408.8" x2="594.9" y2="408.8" stroke="#1EB2D2" stroke-width="0.4"/>
<circle cx="594.9" cy="408.8" r="0.8" fill="#1EB2D2"/>
<text x="576.0" y="409.0" font-size="3.75" fill="#1EB2D2" stroke="#1EB2D2" stroke-width="0.05" textLength="15.0" lengthAdjust="spacingAndGlyphs">Malaysia</text>
<line x1="403.6" y1="407.4" x2="407.8" y2="406.0" stroke="#B0A12C" stroke-width="0.4"/>
<circle cx="407.8" cy="406.0" r="0.8" fill="#B0A12C"/>
<text x="368.9" y="410.0" font-size="3.75" fill="#B0A12C" stroke="#B0A12C" stroke-width="0.05" textLength="34.7" lengthAdjust="spacingAndGlyphs">Central African Republic</text>
<line x1="422.8" y1="410.0" x2="429.5" y2="411.8" stroke="#2EA4E4" stroke-width="0.4"/>
<circle cx="429.5" cy="411.8" r="0.8" fill="#2EA4E4"/>
<text x="403.9" y="410.0" font-size="3.75" fill="#2EA4E4" stroke="#2EA4E4" stroke-width="0.05" textLength="18.9" lengthAdjust="spacingAndGlyphs">Mozambique</text>
<line x1="450.0" y1="408.3" x2="457.9" y2="406.0" stroke="#D6449C" stroke-width="0.4"/>
<circle cx="457.9" cy="406.0" r="0.8" fill="#D6449C"/>
<text x="443.0" y="410.9" font-size="3.75" fill="#D6449C" stroke="#D6449C" stroke-width="0.05" textLength="7.0" lengthAdjust="spacingAndGlyphs">Peru</text>
<line x1="501.5" y1="411.0" x2="503.4" y2="413.1" stroke="#1EB2D2" stroke-width="0.4"/>
<circle cx="503.4" cy="413.1" r="0.8" fill="#1EB2D2"/>
<text x="485.8" y="411.0" font-size="3.75" fill="#1EB2D2" stroke="#1EB2D2" stroke-width="0.05" textLength="15.7" lengthAdjust="spacingAndGlyphs">Mauritania</text>
<line x1="515.0" y1="411.0" x2="515.0" y2="414.2" stroke="#1EB2D2" stroke-width="0.4"/>
<circle cx="515.0" cy="414.2" r="0.8" fill="#1EB2D2"/>
<text x="506.8" y="411.0" font-size="3.75" fill="#1EB2D2" stroke="#1EB2D2" stroke-width="0.05" textLength="17.5" lengthAdjust="spacingAndGlyphs">Kyrgyzstan</text>
<circle cx="525.3" cy="410.7" r="0.8" fill="#1EB2D2"/>
<text x="526.9" y="411.3" font-size="3.75" fill="#1EB2D2" stroke="#1EB2D2" stroke-width="0.05" textLength="11.4" lengthAdjust="spacingAndGlyphs">Maldives</text>
<line x1="593.5" y1="411.6" x2="591.7" y2="412.3" stroke="#2DAF63" stroke-width="0.4"/>
<circle cx="591.7" cy="412.3" r="0.8" fill="#2DAF63"/>
<text x="593.5" y="411.6" font-size="3.75" fill="#2DAF63" stroke="#2DAF63" stroke-width="0.05" textLength="11.8" lengthAdjust="spacingAndGlyphs">Greece</text>
<circle cx="608.0" cy="412.0" r="0.8" fill="#B0A12C"/>
<text x="608.3" y="410.7" font-size="3.75" fill="#B0A12C" stroke="#B0A12C" stroke-width="0.05" textLength="10.7" lengthAdjust="spacingAndGlyphs">Canada</text>
<line x1="478.0" y1="409.1" x2="480.6" y2="408.6" stroke="#B0A12C" stroke-width="0.4"/>
<circle cx="480.6" cy="408.6" r="0.8" fill="#B0A12C"/>
<text x="466.6" y="411.7" font-size="3.75" fill="#B0A12C" stroke="#B0A12C" stroke-width="0.05" textLength="11.4" lengthAdjust="spacingAndGlyphs">Djibouti</text>
<line x1="437.7" y1="411.5" x2="443.3" y2="411.5" stroke="#2DAF63" stroke-width="0.4"/>
<circle cx="443.3" cy="411.5" r="0.8" fill="#2DAF63"/>
<text x="427.7" y="413.5" font-size="3.75" fill="#2DAF63" stroke="#2DAF63" stroke-width="0.05" textLength="10.0" lengthAdjust="spacingAndGlyphs">Liberia</text>
<circle cx="556.7" cy="416.3" r="0.8" fill="#A055C8"/>
<text x="548.8" y="414.5" font-size="3.75" fill="#A055C8" stroke="#A055C8" stroke-width="0.05" textLength="12.3" lengthAdjust="spacingAndGlyphs">Grenada</text>
<line x1="580.4" y1="411.4" x2="581.9" y2="409.7" stroke="#2EA4E4" stroke-width="0.4"/>
<circle cx="581.9" cy="409.7" r="0.8" fill="#2EA4E4"/>
<text x="565.5" y="414.0" font-size="3.75" fill="#2EA4E4" stroke="#2EA4E4" stroke-width="0.05" textLength="14.9" lengthAdjust="spacingAndGlyphs">Marshall</text>
<circle cx="588.0" cy="414.7" r="0.8" fill="#1EB2D2"/>
<text x="570.0" y="414.6" font-size="3.75" fill="#1EB2D2" stroke="#1EB2D2" stroke-width="0.05" textLength="16.0" lengthAdjust="spacingAndGlyphs">Indonesia</text>
<line x1="406.2" y1="414.0" x2="410.0" y2="414.0" stroke="#B0A12C" stroke-width="0.4"/>
<circle cx="410.0" cy="414.0" r="0.8" fill="#B0A12C"/>
<text x="395.7" y="416.1" font-size="3.75" fill="#B0A12C" stroke="#B0A12C" stroke-width="0.05" textLength="10.5" lengthAdjust="spacingAndGlyphs">Burundi</text>
<line x1="502.0" y1="414.3" x2="502.0" y2="411.7" stroke="#2EA4E4" stroke-width="0.4"/>
<circle cx="502.0" cy="411.7" r="0.8" fill="#2EA4E4"/>
<text x="488.4" y="416.9" font-size="3.75" fill="#2EA4E4" stroke="#2EA4E4" stroke-width="0.05" textLength="14.0" lengthAdjust="spacingAndGlyphs">Myanmar</text>
<line x1="507.7" y1="414.3" x2="505.6" y2="412.5" stroke="#B0A12C" stroke-width="0.4"/>
<circle cx="505.6" cy="412.5" r="0.8" fill="#B0A12C"/>
<text x="507.7" y="416.9" font-size="3.75" fill="#B0A12C" stroke="#B0A12C" stroke-width="0.05" textLength="8.7" lengthAdjust="spacingAndGlyphs">Congo</text>
<line x1="531.3" y1="414.9" x2="536.9" y2="413.6" stroke="#EA4444" stroke-width="0.4"/>
<circle cx="536.9" cy="413.6" r="0.8" fill="#EA4444"/>
<text x="522.6" y="417.5" font-size="3.75" fill="#EA4444" stroke="#EA4444" stroke-width="0.05" textLength="8.7" lengthAdjust="spacingAndGlyphs">Gabon</text>
<line x1="594.3" y1="416.0" x2="585.0" y2="416.0" stroke="#2EA4E4" stroke-width="0.4"/>
<circle cx="585.0" cy="416.0" r="0.8" fill="#2EA4E4"/>
<text x="594.3" y="417.4" font-size="3.75" fill="#2EA4E4" stroke="#2EA4E4" stroke-width="0.05" textLength="40.3" lengthAdjust="spacingAndGlyphs">Northern Mariana Islands</text>
<circle cx="441.0" cy="421.1" r="0.8" fill="#1EB2D2"/>
<text x="435.1" y="419.3" font-size="3.75" fill="#1EB2D2" stroke="#1EB2D2" stroke-width="0.05" textLength="8.7" lengthAdjust="spacingAndGlyphs">Chile</text>
<line x1="427.2" y1="419.8" x2="432.4" y2="419.8" stroke="#1EB2D2" stroke-width="0.4"/>
<circle cx="432.4" cy="419.8" r="0.8" fill="#1EB2D2"/>
<text x="417.6" y="420.0" font-size="3.75" fill="#1EB2D2" stroke="#1EB2D2" stroke-width="0.05" textLength="9.6" lengthAdjust="spacingAndGlyphs">Liberia</text>
<line x1="576.9" y1="420.0" x2="583.0" y2="420.0" stroke="#2EA4E4" stroke-width="0.4"/>
<circle cx="583.0" cy="420.0" r="0.8" fill="#2EA4E4"/>
<text x="564.6" y="420.1" font-size="3.75" fill="#2EA4E4" stroke="#2EA4E4" stroke-width="0.05" textLength="12.3" lengthAdjust="spacingAndGlyphs">Mauritius</text>
<circle cx="395.0" cy="418.0" r="0.8" fill="#B0A12C"/>
<text x="372.9" y="420.5" font-size="3.75" fill="#B0A12C" stroke="#B0A12C" stroke-width="0.05" textLength="20.1" lengthAdjust="spacingAndGlyphs">Burkina Faso</text>
<circle cx="581.9" cy="419.5" r="0.8" fill="#2EA4E4"/>
<text x="570.0" y="420.8" font-size="3.75" fill="#2EA4E4" stroke="#2EA4E4" stroke-width="0.05" textLength="10.1" lengthAdjust="spacingAndGlyphs">Maldives</text>
<line x1="534.0" y1="419.3" x2="529.0" y2="419.3" stroke="#2DAF63" stroke-width="0.4"/>
<circle cx="529.0" cy="419.3" r="0.8" fill="#2DAF63"/>
<text x="534.0" y="421.0" font-size="3.75" fill="#2DAF63" stroke="#2DAF63" stroke-width="0.05" textLength="23.6" lengthAdjust="spacingAndGlyphs">Equatorial Guinea</text>
<line x1="499.7" y1="422.7" x2="499.7" y2="425.2" stroke="#B0A12C" stroke-width="0.4"/>
<circle cx="499.7" cy="425.2" r="0.8" fill="#B0A12C"/>
<text x="498.0" y="422.7" font-size="3.75" fill="#B0A12C" stroke="#B0A12C" stroke-width="0.05" textLength="14.0" lengthAdjust="spacingAndGlyphs">Djibouti</text>
<circle cx="471.0" cy="418.6" r="0.8" fill="#EA4444"/>
<text x="461.4" y="423.1" font-size="3.75" fill="#EA4444" stroke="#EA4444" stroke-width="0.05" textLength="10.5" lengthAdjust="spacingAndGlyphs">Malawi</text>
<line x1="583.4" y1="423.3" x2="578.7" y2="423.6" stroke="#2EA4E4" stroke-width="0.4"/>
<circle cx="578.7" cy="423.6" r="0.8" fill="#2EA4E4"/>
<text x="583.4" y="423.3" font-size="3.75" fill="#2EA4E4" stroke="#2EA4E4" stroke-width="0.05" textLength="8.4" lengthAdjust="spacingAndGlyphs">Palau</text>
<line x1="597.7" y1="423.6" x2="591.0" y2="424.0" stroke="#B0A12C" stroke-width="0.4"/>
<circle cx="591.0" cy="424.0" r="0.8" fill="#B0A12C"/>
<text x="597.7" y="423.6" font-size="3.75" fill="#B0A12C" stroke="#B0A12C" stroke-width="0.05" textLength="21.0" lengthAdjust="spacingAndGlyphs">Cook Islands</text>
<line x1="530.4" y1="421.0" x2="533.1" y2="420.8" stroke="#A055C8" stroke-width="0.4"/>
<circle cx="533.1" cy="420.8" r="0.8" fill="#A055C8"/>
<text x="519.9" y="423.6" font-size="3.75" fill="#A055C8" stroke="#A055C8" stroke-width="0.05" textLength="10.5" lengthAdjust="spacingAndGlyphs">Monaco</text>
<line x1="399.2" y1="423.6" x2="403.9" y2="423.2" stroke="#A055C8" stroke-width="0.4"/>
<circle cx="403.9" cy="423.2" r="0.8" fill="#A055C8"/>
<text x="379.9" y="426.2" font-size="3.75" fill="#A055C8" stroke="#A055C8" stroke-width="0.05" textLength="19.3" lengthAdjust="spacingAndGlyphs">South Sudan</text>
<line x1="421.1" y1="426.2" x2="421.1" y2="429.6" stroke="#2DAF63" stroke-width="0.4"/>
<circle cx="421.1" cy="429.6" r="0.8" fill="#2DAF63"/>
<text x="403.9" y="426.2" font-size="3.75" fill="#2DAF63" stroke="#2DAF63" stroke-width="0.05" textLength="23.3" lengthAdjust="spacingAndGlyphs">Guinea-Bissau</text>
<line x1="430.7" y1="423.6" x2="426.1" y2="421.5" stroke="#D99224" stroke-width="0.4"/>
<circle cx="426.1" cy="421.5" r="0.8" fill="#D99224"/>
<text x="430.7" y="426.2" font-size="3.75" fill="#D99224" stroke="#D99224" stroke-width="0.05" textLength="8.8" lengthAdjust="spacingAndGlyphs">Benin</text>
<line x1="443.0" y1="424.1" x2="440.1" y2="422.1" stroke="#D6449C" stroke-width="0.4"/>
<circle cx="440.1" cy="422.1" r="0.8" fill="#D6449C"/>
<text x="443.0" y="426.7" font-size="3.75" fill="#D6449C" stroke="#D6449C" stroke-width="0.05" textLength="12.2" lengthAdjust="spacingAndGlyphs">Ethiopia</text>
<line x1="456.1" y1="426.2" x2="450.3" y2="426.9" stroke="#2EA4E4" stroke-width="0.4"/>
<circle cx="450.3" cy="426.9" r="0.8" fill="#2EA4E4"/>
<text x="456.1" y="426.2" font-size="3.75" fill="#2EA4E4" stroke="#2EA4E4" stroke-width="0.05" textLength="21.9" lengthAdjust="spacingAndGlyphs">Cote d'Ivoire</text>
<line x1="564.6" y1="424.8" x2="568.0" y2="424.8" stroke="#D99224" stroke-width="0.4"/>
<circle cx="568.0" cy="424.8" r="0.8" fill="#D99224"/>
<text x="548.8" y="426.8" font-size="3.75" fill="#D99224" stroke="#D99224" stroke-width="0.05" textLength="15.8" lengthAdjust="spacingAndGlyphs">Azerbaijan</text>
<line x1="532.2" y1="425.3" x2="528.6" y2="425.3" stroke="#2DAF63" stroke-width="0.4"/>
<circle cx="528.6" cy="425.3" r="0.8" fill="#2DAF63"/>
<text x="532.2" y="427.1" font-size="3.75" fill="#2DAF63" stroke="#2DAF63" stroke-width="0.05" textLength="8.8" lengthAdjust="spacingAndGlyphs">Rwanda</text>
<line x1="496.3" y1="426.3" x2="499.9" y2="426.3" stroke="#2EA4E4" stroke-width="0.4"/>
<circle cx="499.9" cy="426.3" r="0.8" fill="#2EA4E4"/>
<text x="487.5" y="428.5" font-size="3.75" fill="#2EA4E4" stroke="#2EA4E4" stroke-width="0.05" textLength="8.8" lengthAdjust="spacingAndGlyphs">Zambia</text>
<line x1="533.1" y1="428.5" x2="539.1" y2="430.4" stroke="#1EB2D2" stroke-width="0.4"/>
<circle cx="539.1" cy="430.4" r="0.8" fill="#1EB2D2"/>
<text x="498.9" y="428.5" font-size="3.75" fill="#1EB2D2" stroke="#1EB2D2" stroke-width="0.05" textLength="34.2" lengthAdjust="spacingAndGlyphs">United Arab Emirates</text>
<line x1="596.0" y1="427.1" x2="599.3" y2="426.7" stroke="#EA4444" stroke-width="0.4"/>
<circle cx="599.3" cy="426.7" r="0.8" fill="#EA4444"/>
<text x="568.1" y="429.7" font-size="3.75" fill="#EA4444" stroke="#EA4444" stroke-width="0.05" textLength="27.9" lengthAdjust="spacingAndGlyphs">American Samoa</text>
<line x1="606.6" y1="430.0" x2="606.6" y2="432.8" stroke="#2DAF63" stroke-width="0.4"/>
<circle cx="606.6" cy="432.8" r="0.8" fill="#2DAF63"/>
<text x="599.4" y="430.0" font-size="3.75" fill="#2DAF63" stroke="#2DAF63" stroke-width="0.05" textLength="9.6" lengthAdjust="spacingAndGlyphs">Monaco</text>
<line x1="378.7" y1="431.0" x2="375.3" y2="431.0" stroke="#B0A12C" stroke-width="0.4"/>
<circle cx="375.3" cy="431.0" r="0.8" fill="#B0A12C"/>
<text x="378.7" y="433.2" font-size="3.75" fill="#B0A12C" stroke="#B0A12C" stroke-width="0.05" textLength="8.2" lengthAdjust="spacingAndGlyphs">Chad</text>
<line x1="396.9" y1="433.5" x2="401.0" y2="436.2" stroke="#1EB2D2" stroke-width="0.4"/>
<circle cx="401.0" cy="436.2" r="0.8" fill="#1EB2D2"/>
<text x="390.4" y="433.5" font-size="3.75" fill="#1EB2D2" stroke="#1EB2D2" stroke-width="0.05" textLength="6.5" lengthAdjust="spacingAndGlyphs">Mali</text>
<line x1="400.0" y1="430.1" x2="397.4" y2="428.6" stroke="#D6449C" stroke-width="0.4"/>
<circle cx="397.4" cy="428.6" r="0.8" fill="#D6449C"/>
<text x="400.0" y="432.7" font-size="3.75" fill="#D6449C" stroke="#D6449C" stroke-width="0.05" textLength="11.4" lengthAdjust="spacingAndGlyphs">Bahrain</text>
<line x1="418.1" y1="432.7" x2="418.1" y2="436.1" stroke="#2DAF63" stroke-width="0.4"/>
<circle cx="418.1" cy="436.1" r="0.8" fill="#2DAF63"/>
<text x="410.6" y="432.7" font-size="3.75" fill="#2DAF63" stroke="#2DAF63" stroke-width="0.05" textLength="17.5" lengthAdjust="spacingAndGlyphs">Tajikistan</text>
<line x1="439.5" y1="430.1" x2="443.1" y2="428.5" stroke="#B0A12C" stroke-width="0.4"/>
<circle cx="443.1" cy="428.5" r="0.8" fill="#B0A12C"/>
<text x="429.5" y="432.7" font-size="3.75" fill="#B0A12C" stroke="#B0A12C" stroke-width="0.05" textLength="10.0" lengthAdjust="spacingAndGlyphs">Niger</text>
<line x1="463.1" y1="431.9" x2="467.9" y2="431.9" stroke="#D6449C" stroke-width="0.4"/>
<circle cx="467.9" cy="431.9" r="0.8" fill="#D6449C"/>
<text x="440.3" y="432.7" font-size="3.75" fill="#D6449C" stroke="#D6449C" stroke-width="0.05" textLength="22.8" lengthAdjust="spacingAndGlyphs">Guinea-Bissau</text>
<line x1="473.9" y1="430.1" x2="473.9" y2="427.0" stroke="#EA4444" stroke-width="0.4"/>
<circle cx="473.9" cy="427.0" r="0.8" fill="#EA4444"/>
<text x="463.1" y="432.7" font-size="3.75" fill="#EA4444" stroke="#EA4444" stroke-width="0.05" textLength="14.9" lengthAdjust="spacingAndGlyphs">Guatemala</text>
<circle cx="471.4" cy="429.1" r="0.8" fill="#D6449C"/>
<text x="470.0" y="433.2" font-size="3.75" fill="#D6449C" stroke="#D6449C" stroke-width="0.05" textLength="13.1" lengthAdjust="spacingAndGlyphs">Vanuatu</text>
<line x1="494.9" y1="433.2" x2="494.9" y2="436.8" stroke="#1FAE82" stroke-width="0.4"/>
<circle cx="494.9" cy="436.8" r="0.8" fill="#1FAE82"/>
<text x="486.6" y="433.2" font-size="3.75" fill="#1FAE82" stroke="#1FAE82" stroke-width="0.05" textLength="10.6" lengthAdjust="spacingAndGlyphs">Kuwait</text>
<line x1="531.9" y1="430.6" x2="531.9" y2="427.3" stroke="#2EA4E4" stroke-width="0.4"/>
<circle cx="531.9" cy="427.3" r="0.8" fill="#2EA4E4"/>
<text x="529.6" y="433.2" font-size="3.75" fill="#2EA4E4" stroke="#2EA4E4" stroke-width="0.05" textLength="6.1" lengthAdjust="spacingAndGlyphs">Togo</text>
<line x1="566.4" y1="433.2" x2="570.2" y2="434.1" stroke="#A055C8" stroke-width="0.4"/>
<circle cx="570.2" cy="434.1" r="0.8" fill="#A055C8"/>
<text x="554.1" y="433.2" font-size="3.75" fill="#A055C8" stroke="#A055C8" stroke-width="0.05" textLength="12.3" lengthAdjust="spacingAndGlyphs">Georgia</text>
<circle cx="577.3" cy="433.1" r="0.8" fill="#2EA4E4"/>
<text x="579.5" y="434.1" font-size="3.75" fill="#2EA4E4" stroke="#2EA4E4" stroke-width="0.05" textLength="4.4" lengthAdjust="spacingAndGlyphs">Mali</text>
<line x1="570.0" y1="432.1" x2="567.2" y2="431.9" stroke="#2EA4E4" stroke-width="0.4"/>
<circle cx="567.2" cy="431.9" r="0.8" fill="#2EA4E4"/>
<text x="570.0" y="434.7" font-size="3.75" fill="#2EA4E4" stroke="#2EA4E4" stroke-width="0.05" textLength="6.7" lengthAdjust="spacingAndGlyphs">Niue</text>
<line x1="526.1" y1="435.0" x2="532.0" y2="435.7" stroke="#2EA4E4" stroke-width="0.4"/>
<circle cx="532.0" cy="435.7" r="0.8" fill="#2EA4E4"/>
<text x="515.5" y="435.0" font-size="3.75" fill="#2EA4E4" stroke="#2EA4E4" stroke-width="0.05" textLength="10.6" lengthAdjust="spacingAndGlyphs">Namibia</text>
<line x1="512.0" y1="438.5" x2="516.6" y2="440.3" stroke="#D6449C" stroke-width="0.4"/>
<circle cx="516.6" cy="440.3" r="0.8" fill="#D6449C"/>
<text x="502.4" y="438.5" font-size="3.75" fill="#D6449C" stroke="#D6449C" stroke-width="0.05" textLength="9.6" lengthAdjust="spacingAndGlyphs">Mexico</text>
<circle cx="539.3" cy="440.2" r="0.8" fill="#EA4444"/>
<text x="537.4" y="438.5" font-size="3.75" fill="#EA4444" stroke="#EA4444" stroke-width="0.05" textLength="14.1" lengthAdjust="spacingAndGlyphs">Uzbekistan</text>
<line x1="478.8" y1="438.5" x2="482.0" y2="438.8" stroke="#D99224" stroke-width="0.4"/>
<circle cx="482.0" cy="438.8" r="0.8" fill="#D99224"/>
<text x="470.0" y="438.5" font-size="3.75" fill="#D99224" stroke="#D99224" stroke-width="0.05" textLength="8.8" lengthAdjust="spacingAndGlyphs">Gabon</text>
<line x1="404.4" y1="437.7" x2="412.4" y2="437.7" stroke="#A055C8" stroke-width="0.4"/>
<circle cx="412.4" cy="437.7" r="0.8" fill="#A055C8"/>
<text x="391.3" y="439.3" font-size="3.75" fill="#A055C8" stroke="#A055C8" stroke-width="0.05" textLength="13.1" lengthAdjust="spacingAndGlyphs">Senegal</text>
<line x1="417.6" y1="436.9" x2="422.6" y2="436.9" stroke="#2DAF63" stroke-width="0.4"/>
<circle cx="422.6" cy="436.9" r="0.8" fill="#2DAF63"/>
<text x="407.1" y="438.5" font-size="3.75" fill="#2DAF63" stroke="#2DAF63" stroke-width="0.05" textLength="10.5" lengthAdjust="spacingAndGlyphs">Eritrea</text>
<line x1="436.0" y1="435.9" x2="432.6" y2="434.5" stroke="#B0A12C" stroke-width="0.4"/>
<circle cx="432.6" cy="434.5" r="0.8" fill="#B0A12C"/>
<text x="436.0" y="438.5" font-size="3.75" fill="#B0A12C" stroke="#B0A12C" stroke-width="0.05" textLength="19.2" lengthAdjust="spacingAndGlyphs">Cote d'Ivoire</text>
<line x1="461.4" y1="435.9" x2="458.5" y2="434.5" stroke="#D99224" stroke-width="0.4"/>
<circle cx="458.5" cy="434.5" r="0.8" fill="#D99224"/>
<text x="461.4" y="438.5" font-size="3.75" fill="#D99224" stroke="#D99224" stroke-width="0.05" textLength="16.6" lengthAdjust="spacingAndGlyphs">Kyrgyzstan</text>
<line x1="534.0" y1="440.8" x2="539.8" y2="441.9" stroke="#2EA4E4" stroke-width="0.4"/>
<circle cx="539.8" cy="441.9" r="0.8" fill="#2EA4E4"/>
<text x="521.7" y="440.8" font-size="3.75" fill="#2EA4E4" stroke="#2EA4E4" stroke-width="0.05" textLength="12.3" lengthAdjust="spacingAndGlyphs">Namibia</text>
<line x1="565.6" y1="440.8" x2="565.6" y2="443.6" stroke="#EA4444" stroke-width="0.4"/>
<circle cx="565.6" cy="443.6" r="0.8" fill="#EA4444"/>
<text x="561.1" y="440.8" font-size="3.75" fill="#EA4444" stroke="#EA4444" stroke-width="0.05" textLength="19.3" lengthAdjust="spacingAndGlyphs">Turkmenistan</text>
<line x1="570.0" y1="440.4" x2="565.6" y2="440.4" stroke="#D6449C" stroke-width="0.4"/>
<circle cx="565.6" cy="440.4" r="0.8" fill="#D6449C"/>
<text x="570.0" y="440.4" font-size="3.75" fill="#D6449C" stroke="#D6449C" stroke-width="0.05" textLength="10.1" lengthAdjust="spacingAndGlyphs">Tuvalu</text>
<line x1="414.6" y1="443.7" x2="414.6" y2="446.5" stroke="#68B82E" stroke-width="0.4"/>
<circle cx="414.6" cy="446.5" r="0.8" fill="#68B82E"/>
<text x="413.2" y="443.7" font-size="3.75" fill="#68B82E" stroke="#68B82E" stroke-width="0.05" textLength="13.1" lengthAdjust="spacingAndGlyphs">Viet Nam</text>
<line x1="437.1" y1="444.2" x2="437.1" y2="446.8" stroke="#1EB2D2" stroke-width="0.4"/>
<circle cx="437.1" cy="446.8" r="0.8" fill="#1EB2D2"/>
<text x="428.1" y="444.2" font-size="3.75" fill="#1EB2D2" stroke="#1EB2D2" stroke-width="0.05" textLength="19.2" lengthAdjust="spacingAndGlyphs">Madagascar</text>
<line x1="475.4" y1="444.2" x2="481.8" y2="445.1" stroke="#D6449C" stroke-width="0.4"/>
<circle cx="481.8" cy="445.1" r="0.8" fill="#D6449C"/>
<text x="458.7" y="444.2" font-size="3.75" fill="#D6449C" stroke="#D6449C" stroke-width="0.05" textLength="16.7" lengthAdjust="spacingAndGlyphs">Cabo Verde</text>
<line x1="492.8" y1="443.7" x2="490.8" y2="445.0" stroke="#2DAF63" stroke-width="0.4"/>
<circle cx="490.8" cy="445.0" r="0.8" fill="#2DAF63"/>
<text x="492.8" y="443.7" font-size="3.75" fill="#2DAF63" stroke="#2DAF63" stroke-width="0.05" textLength="9.6" lengthAdjust="spacingAndGlyphs">Cyprus</text>
<line x1="555.8" y1="442.1" x2="559.5" y2="442.1" stroke="#2DAF63" stroke-width="0.4"/>
<circle cx="559.5" cy="442.1" r="0.8" fill="#2DAF63"/>
<text x="552.3" y="444.6" font-size="3.75" fill="#2DAF63" stroke="#2DAF63" stroke-width="0.05" textLength="3.5" lengthAdjust="spacingAndGlyphs">Fiji</text>
<line x1="518.2" y1="444.4" x2="521.1" y2="444.4" stroke="#2EA4E4" stroke-width="0.4"/>
<circle cx="521.1" cy="444.4" r="0.8" fill="#2EA4E4"/>
<text x="497.2" y="446.4" font-size="3.75" fill="#2EA4E4" stroke="#2EA4E4" stroke-width="0.05" textLength="21.0" lengthAdjust="spacingAndGlyphs">Marshall Islands</text>
<circle cx="550.7" cy="444.6" r="0.8" fill="#6058D4"/>
<text x="532.2" y="446.7" font-size="3.75" fill="#6058D4" stroke="#6058D4" stroke-width="0.05" textLength="16.6" lengthAdjust="spacingAndGlyphs">Seychelles</text>
<line x1="495.1" y1="447.3" x2="495.1" y2="444.4" stroke="#A055C8" stroke-width="0.4"/>
<circle cx="495.1" cy="444.4" r="0.8" fill="#A055C8"/>
<text x="470.0" y="449.9" font-size="3.75" fill="#A055C8" stroke="#A055C8" stroke-width="0.05" textLength="26.3" lengthAdjust="spacingAndGlyphs">Sao Tome and Principe</text>
<line x1="458.7" y1="447.6" x2="464.5" y2="445.0" stroke="#6058D4" stroke-width="0.4"/>
<circle cx="464.5" cy="445.0" r="0.8" fill="#6058D4"/>
<text x="434.2" y="450.2" font-size="3.75" fill="#6058D4" stroke="#6058D4" stroke-width="0.05" textLength="24.5" lengthAdjust="spacingAndGlyphs">Papua New Guinea</text>
<line x1="462.2" y1="448.4" x2="457.7" y2="448.4" stroke="#2EA4E4" stroke-width="0.4"/>
<circle cx="457.7" cy="448.4" r="0.8" fill="#2EA4E4"/>
<text x="462.2" y="450.2" font-size="3.75" fill="#2EA4E4" stroke="#2EA4E4" stroke-width="0.05" textLength="15.8" lengthAdjust="spacingAndGlyphs">Mauritius</text>
<circle cx="558.5" cy="453.3" r="0.8" fill="#A055C8"/>
<text x="553.2" y="450.8" font-size="3.75" fill="#A055C8" stroke="#A055C8" stroke-width="0.05" textLength="19.3" lengthAdjust="spacingAndGlyphs">South Africa</text>
<line x1="515.7" y1="449.4" x2="515.7" y2="446.6" stroke="#2DAF63" stroke-width="0.4"/>
<circle cx="515.7" cy="446.6" r="0.8" fill="#2DAF63"/>
<text x="513.8" y="452.0" font-size="3.75" fill="#2DAF63" stroke="#2DAF63" stroke-width="0.05" textLength="14.0" lengthAdjust="spacingAndGlyphs">Lesotho</text>
<circle cx="537.8" cy="454.2" r="0.8" fill="#D99224"/>
<text x="529.6" y="452.5" font-size="3.75" fill="#D99224" stroke="#D99224" stroke-width="0.05" textLength="15.7" lengthAdjust="spacingAndGlyphs">Botswana</text>
<line x1="453.5" y1="456.5" x2="460.1" y2="456.9" stroke="#D6449C" stroke-width="0.4"/>
<circle cx="460.1" cy="456.9" r="0.8" fill="#D6449C"/>
<text x="428.1" y="456.5" font-size="3.75" fill="#D6449C" stroke="#D6449C" stroke-width="0.05" textLength="25.4" lengthAdjust="spacingAndGlyphs">Solomon Islands</text>
<circle cx="471.9" cy="451.7" r="0.8" fill="#EA4444"/>
<text x="459.6" y="456.5" font-size="3.75" fill="#EA4444" stroke="#EA4444" stroke-width="0.05" textLength="17.5" lengthAdjust="spacingAndGlyphs">Luxembourg</text>
<path d="M387.2,597.1 C390.0,598.4 398.1,602.0 403.8,604.7 C409.5,607.4 415.5,611.4 421.3,613.4 C427.1,615.4 433.0,615.9 438.8,616.9 C444.6,617.9 451.2,618.6 456.4,619.6 C461.6,620.6 466.1,622.2 470.0,623.0 C473.9,623.8 474.2,623.2 480.0,624.5 C485.8,625.8 498.1,628.9 505.0,631.0 C511.9,633.1 515.7,634.3 521.3,637.0 C526.9,639.7 531.5,643.6 538.8,647.3 C546.1,651.0 557.7,655.8 565.0,659.0 C572.3,662.2 576.7,664.2 582.5,666.5 C588.3,668.8 594.1,671.0 600.0,672.5 C605.9,674.0 610.4,675.0 617.6,675.5 C624.8,676.0 638.8,675.5 643.0,675.5 L643.0,699.0 C638.8,697.2 624.8,691.0 617.6,688.5 C610.4,686.0 605.9,685.9 600.0,684.0 C594.1,682.1 588.3,679.7 582.5,677.0 C576.7,674.3 569.4,670.2 565.0,668.0 C560.6,665.8 560.8,665.8 556.4,664.0 C552.0,662.2 544.6,659.2 538.8,657.0 C532.9,654.8 526.9,653.0 521.3,651.0 C515.7,649.0 511.5,646.8 505.0,645.0 C498.5,643.2 489.4,641.5 482.2,640.2 C475.0,638.9 468.5,637.9 461.7,637.2 C454.9,636.5 448.1,636.0 441.3,635.8 C434.5,635.6 427.7,635.5 420.9,635.8 C414.1,636.1 406.0,636.6 400.4,637.5 C394.8,638.4 389.4,640.4 387.2,641.0 Z" fill="#d6d6d6" stroke="none"/>
<path d="M387.2,619.6 C390.0,619.9 398.1,620.7 403.8,621.3 C409.5,621.9 415.5,622.6 421.3,623.4 C427.1,624.2 433.0,625.3 438.8,626.2 C444.6,627.1 451.2,628.0 456.4,628.8 C461.6,629.6 466.1,630.3 470.0,631.0 C473.9,631.7 477.1,632.6 480.0,633.2 C482.9,633.8 483.3,633.7 487.5,634.7 C491.7,635.7 499.4,637.3 505.0,639.1 C510.6,640.9 515.7,643.3 521.3,645.5 C526.9,647.7 532.9,650.0 538.8,652.5 C544.6,655.0 552.0,658.4 556.4,660.4 C560.8,662.4 560.6,662.9 565.0,664.8 C569.4,666.7 576.7,669.6 582.5,672.0 C588.3,674.4 595.0,677.3 600.0,679.0 C605.0,680.7 607.9,681.6 612.3,682.2 C616.7,682.8 621.2,682.4 626.3,682.4 C631.4,682.4 640.2,682.4 643.0,682.4" fill="none" stroke="#687a90" stroke-width="2.50" stroke-linecap="round"/>
<line x1="357.3" y1="485.0" x2="357.3" y2="712.0" stroke="#3a3a3a" stroke-width="1.50"/>
<line x1="356.6" y1="711.3" x2="683.0" y2="711.3" stroke="#3a3a3a" stroke-width="1.50"/>
<line x1="355.3" y1="487.0" x2="357.3" y2="487.0" stroke="#444" stroke-width="0.50"/>
<text x="354.3" y="488.2" font-size="3.50" fill="#444" text-anchor="end" font-weight="normal" stroke="#444" stroke-width="0.1">150</text>
<line x1="355.3" y1="556.5" x2="357.3" y2="556.5" stroke="#444" stroke-width="0.50"/>
<text x="354.3" y="557.7" font-size="3.50" fill="#444" text-anchor="end" font-weight="normal" stroke="#444" stroke-width="0.1">100</text>
<line x1="355.3" y1="626.6" x2="357.3" y2="626.6" stroke="#444" stroke-width="0.50"/>
<text x="354.3" y="627.8" font-size="3.50" fill="#444" text-anchor="end" font-weight="normal" stroke="#444" stroke-width="0.1">50</text>
<line x1="355.3" y1="696.1" x2="357.3" y2="696.1" stroke="#444" stroke-width="0.50"/>
<text x="354.3" y="697.3" font-size="3.50" fill="#444" text-anchor="end" font-weight="normal" stroke="#444" stroke-width="0.1">0</text>
<line x1="372.3" y1="711.3" x2="372.3" y2="713.3" stroke="#444" stroke-width="0.50"/>
<text x="372.3" y="716.3" font-size="3.50" fill="#444" text-anchor="middle" font-weight="normal" stroke="#444" stroke-width="0.1">0.2</text>
<line x1="409.3" y1="711.3" x2="409.3" y2="713.3" stroke="#444" stroke-width="0.50"/>
<text x="409.3" y="716.3" font-size="3.50" fill="#444" text-anchor="middle" font-weight="normal" stroke="#444" stroke-width="0.1">0.3</text>
<line x1="446.3" y1="711.3" x2="446.3" y2="713.3" stroke="#444" stroke-width="0.50"/>
<text x="446.3" y="716.3" font-size="3.50" fill="#444" text-anchor="middle" font-weight="normal" stroke="#444" stroke-width="0.1">0.4</text>
<line x1="483.3" y1="711.3" x2="483.3" y2="713.3" stroke="#444" stroke-width="0.50"/>
<text x="483.3" y="716.3" font-size="3.50" fill="#444" text-anchor="middle" font-weight="normal" stroke="#444" stroke-width="0.1">0.5</text>
<line x1="520.3" y1="711.3" x2="520.3" y2="713.3" stroke="#444" stroke-width="0.50"/>
<text x="520.3" y="716.3" font-size="3.50" fill="#444" text-anchor="middle" font-weight="normal" stroke="#444" stroke-width="0.1">0.6</text>
<line x1="557.3" y1="711.3" x2="557.3" y2="713.3" stroke="#444" stroke-width="0.50"/>
<text x="557.3" y="716.3" font-size="3.50" fill="#444" text-anchor="middle" font-weight="normal" stroke="#444" stroke-width="0.1">0.7</text>
<line x1="594.3" y1="711.3" x2="594.3" y2="713.3" stroke="#444" stroke-width="0.50"/>
<text x="594.3" y="716.3" font-size="3.50" fill="#444" text-anchor="middle" font-weight="normal" stroke="#444" stroke-width="0.1">0.8</text>
<line x1="631.3" y1="711.3" x2="631.3" y2="713.3" stroke="#444" stroke-width="0.50"/>
<text x="631.3" y="716.3" font-size="3.50" fill="#444" text-anchor="middle" font-weight="normal" stroke="#444" stroke-width="0.1">0.9</text>
<line x1="668.3" y1="711.3" x2="668.3" y2="713.3" stroke="#444" stroke-width="0.50"/>
<text x="668.3" y="716.3" font-size="3.50" fill="#444" text-anchor="middle" font-weight="normal" stroke="#444" stroke-width="0.1">1.0</text>
<text x="520.1" y="721.8" font-size="5.00" fill="#222" text-anchor="middle" font-weight="normal" stroke="#222" stroke-width="0.15">SDI</text>
<text x="347.5" y="597.3" font-size="3.9" fill="#1a1a1a" stroke="#1a1a1a" stroke-width="0.15" text-anchor="middle" transform="rotate(-90 347.5 597.3)" textLength="138.0" lengthAdjust="spacingAndGlyphs">DALYs (Disability-Adjusted Life Years) Rate per 100,000 population</text>
<text x="336.4" y="503.3" font-size="19.20" fill="#000" text-anchor="start" font-weight="normal">G</text>
<line x1="584.8" y1="642.1" x2="615.8" y2="686.1" stroke="#1EB2D2" stroke-width="0.4"/>
<circle cx="615.8" cy="686.1" r="0.8" fill="#1EB2D2"/>
<line x1="450.2" y1="641.9" x2="493.1" y2="633.3" stroke="#A055C8" stroke-width="0.4"/>
<circle cx="493.1" cy="633.3" r="0.8" fill="#A055C8"/>
<line x1="481.9" y1="647.7" x2="536.6" y2="652.6" stroke="#EA4444" stroke-width="0.4"/>
<circle cx="536.6" cy="652.6" r="0.8" fill="#EA4444"/>
<line x1="494.2" y1="644.2" x2="511.0" y2="640.0" stroke="#D6449C" stroke-width="0.4"/>
<circle cx="511.0" cy="640.0" r="0.8" fill="#D6449C"/>
<line x1="512.6" y1="646.5" x2="532.3" y2="649.1" stroke="#2DAF63" stroke-width="0.4"/>
<circle cx="532.3" cy="649.1" r="0.8" fill="#2DAF63"/>
<line x1="605.2" y1="647.2" x2="605.2" y2="679.7" stroke="#D6449C" stroke-width="0.4"/>
<circle cx="605.2" cy="679.7" r="0.8" fill="#D6449C"/>
<line x1="604.4" y1="647.7" x2="626.0" y2="685.1" stroke="#EA4444" stroke-width="0.4"/>
<circle cx="626.0" cy="685.1" r="0.8" fill="#EA4444"/>
<line x1="463.4" y1="647.5" x2="521.3" y2="651.3" stroke="#D6449C" stroke-width="0.4"/>
<circle cx="521.3" cy="651.3" r="0.8" fill="#D6449C"/>
<line x1="431.8" y1="646.1" x2="485.0" y2="635.5" stroke="#D99224" stroke-width="0.4"/>
<circle cx="485.0" cy="635.5" r="0.8" fill="#D99224"/>
<line x1="634.2" y1="652.1" x2="614.7" y2="685.3" stroke="#6058D4" stroke-width="0.4"/>
<circle cx="614.7" cy="685.3" r="0.8" fill="#6058D4"/>
<line x1="472.3" y1="651.2" x2="520.0" y2="648.6" stroke="#2EA4E4" stroke-width="0.4"/>
<circle cx="520.0" cy="648.6" r="0.8" fill="#2EA4E4"/>
<line x1="624.5" y1="653.9" x2="624.5" y2="681.9" stroke="#B0A12C" stroke-width="0.4"/>
<circle cx="624.5" cy="681.9" r="0.8" fill="#B0A12C"/>
<line x1="593.0" y1="653.9" x2="626.0" y2="685.5" stroke="#D99224" stroke-width="0.4"/>
<circle cx="626.0" cy="685.5" r="0.8" fill="#D99224"/>
<line x1="456.4" y1="651.3" x2="512.1" y2="644.6" stroke="#B0A12C" stroke-width="0.4"/>
<circle cx="512.1" cy="644.6" r="0.8" fill="#B0A12C"/>
<line x1="472.1" y1="651.3" x2="526.8" y2="647.5" stroke="#1EB2D2" stroke-width="0.4"/>
<circle cx="526.8" cy="647.5" r="0.8" fill="#1EB2D2"/>
<line x1="493.3" y1="649.8" x2="533.8" y2="650.8" stroke="#2DAF63" stroke-width="0.4"/>
<circle cx="533.8" cy="650.8" r="0.8" fill="#2DAF63"/>
<line x1="510.8" y1="652.4" x2="572.7" y2="671.9" stroke="#D6449C" stroke-width="0.4"/>
<circle cx="572.7" cy="671.9" r="0.8" fill="#D6449C"/>
<line x1="523.9" y1="652.4" x2="548.5" y2="657.6" stroke="#A055C8" stroke-width="0.4"/>
<circle cx="548.5" cy="657.6" r="0.8" fill="#A055C8"/>
<line x1="503.8" y1="658.2" x2="561.8" y2="665.0" stroke="#2EA4E4" stroke-width="0.4"/>
<circle cx="561.8" cy="665.0" r="0.8" fill="#2EA4E4"/>
<line x1="520.4" y1="658.2" x2="584.6" y2="678.0" stroke="#2EA4E4" stroke-width="0.4"/>
<circle cx="584.6" cy="678.0" r="0.8" fill="#2EA4E4"/>
<line x1="545.8" y1="659.1" x2="562.2" y2="665.5" stroke="#2DAF63" stroke-width="0.4"/>
<circle cx="562.2" cy="665.5" r="0.8" fill="#2DAF63"/>
<line x1="617.6" y1="659.1" x2="616.1" y2="687.4" stroke="#A055C8" stroke-width="0.4"/>
<circle cx="616.1" cy="687.4" r="0.8" fill="#A055C8"/>
<line x1="609.7" y1="659.1" x2="626.0" y2="680.2" stroke="#D99224" stroke-width="0.4"/>
<circle cx="626.0" cy="680.2" r="0.8" fill="#D99224"/>
<line x1="593.0" y1="659.1" x2="626.0" y2="687.7" stroke="#A055C8" stroke-width="0.4"/>
<circle cx="626.0" cy="687.7" r="0.8" fill="#A055C8"/>
<line x1="430.1" y1="657.6" x2="485.0" y2="635.5" stroke="#EA4444" stroke-width="0.4"/>
<circle cx="485.0" cy="635.5" r="0.8" fill="#EA4444"/>
<line x1="480.0" y1="657.1" x2="485.0" y2="631.3" stroke="#D99224" stroke-width="0.4"/>
<circle cx="485.0" cy="631.3" r="0.8" fill="#D99224"/>
<line x1="521.3" y1="661.7" x2="548.7" y2="656.2" stroke="#A055C8" stroke-width="0.4"/>
<circle cx="548.7" cy="656.2" r="0.8" fill="#A055C8"/>
<line x1="472.3" y1="661.7" x2="528.8" y2="653.4" stroke="#1EB2D2" stroke-width="0.4"/>
<circle cx="528.8" cy="653.4" r="0.8" fill="#1EB2D2"/>
<line x1="574.6" y1="665.3" x2="626.0" y2="684.1" stroke="#B0A12C" stroke-width="0.4"/>
<circle cx="626.0" cy="684.1" r="0.8" fill="#B0A12C"/>
<line x1="589.5" y1="665.3" x2="626.0" y2="686.7" stroke="#B0A12C" stroke-width="0.4"/>
<circle cx="626.0" cy="686.7" r="0.8" fill="#B0A12C"/>
<line x1="551.1" y1="665.7" x2="598.0" y2="683.1" stroke="#D6449C" stroke-width="0.4"/>
<circle cx="598.0" cy="683.1" r="0.8" fill="#D6449C"/>
<line x1="621.9" y1="665.8" x2="626.0" y2="688.4" stroke="#1EB2D2" stroke-width="0.4"/>
<circle cx="626.0" cy="688.4" r="0.8" fill="#1EB2D2"/>
<line x1="626.3" y1="665.8" x2="616.4" y2="685.6" stroke="#B0A12C" stroke-width="0.4"/>
<circle cx="616.4" cy="685.6" r="0.8" fill="#B0A12C"/>
<line x1="446.7" y1="663.2" x2="503.1" y2="641.9" stroke="#D6449C" stroke-width="0.4"/>
<circle cx="503.1" cy="641.9" r="0.8" fill="#D6449C"/>
<line x1="458.1" y1="663.2" x2="506.9" y2="645.7" stroke="#2EA4E4" stroke-width="0.4"/>
<circle cx="506.9" cy="645.7" r="0.8" fill="#2EA4E4"/>
<line x1="472.1" y1="663.2" x2="533.0" y2="649.0" stroke="#1FAE82" stroke-width="0.4"/>
<circle cx="533.0" cy="649.0" r="0.8" fill="#1FAE82"/>
<line x1="519.6" y1="666.1" x2="555.3" y2="659.9" stroke="#6058D4" stroke-width="0.4"/>
<circle cx="555.3" cy="659.9" r="0.8" fill="#6058D4"/>
<line x1="525.7" y1="668.4" x2="556.1" y2="666.2" stroke="#B0A12C" stroke-width="0.4"/>
<circle cx="556.1" cy="666.2" r="0.8" fill="#B0A12C"/>
<line x1="589.5" y1="671.4" x2="626.0" y2="687.6" stroke="#B0A12C" stroke-width="0.4"/>
<circle cx="626.0" cy="687.6" r="0.8" fill="#B0A12C"/>
<line x1="456.4" y1="669.4" x2="501.8" y2="643.8" stroke="#A055C8" stroke-width="0.4"/>
<circle cx="501.8" cy="643.8" r="0.8" fill="#A055C8"/>
<line x1="552.9" y1="669.6" x2="571.7" y2="670.1" stroke="#2DAF63" stroke-width="0.4"/>
<circle cx="571.7" cy="670.1" r="0.8" fill="#2DAF63"/>
<line x1="470.5" y1="670.5" x2="523.7" y2="647.4" stroke="#1EB2D2" stroke-width="0.4"/>
<circle cx="523.7" cy="647.4" r="0.8" fill="#1EB2D2"/>
<line x1="488.9" y1="672.6" x2="517.5" y2="641.4" stroke="#D6449C" stroke-width="0.4"/>
<circle cx="517.5" cy="641.4" r="0.8" fill="#D6449C"/>
<line x1="509.9" y1="672.6" x2="559.8" y2="660.0" stroke="#A055C8" stroke-width="0.4"/>
<circle cx="559.8" cy="660.0" r="0.8" fill="#A055C8"/>
<line x1="542.3" y1="675.2" x2="599.9" y2="677.0" stroke="#EA4444" stroke-width="0.4"/>
<circle cx="599.9" cy="677.0" r="0.8" fill="#EA4444"/>
<line x1="582.5" y1="677.5" x2="604.1" y2="685.3" stroke="#2EA4E4" stroke-width="0.4"/>
<circle cx="604.1" cy="685.3" r="0.8" fill="#2EA4E4"/>
<line x1="455.5" y1="675.5" x2="485.0" y2="634.9" stroke="#D6449C" stroke-width="0.4"/>
<circle cx="485.0" cy="634.9" r="0.8" fill="#D6449C"/>
<line x1="565.1" y1="678.7" x2="613.9" y2="682.9" stroke="#2EA4E4" stroke-width="0.4"/>
<circle cx="613.9" cy="682.9" r="0.8" fill="#2EA4E4"/>
<line x1="480.0" y1="678.7" x2="519.1" y2="643.1" stroke="#D6449C" stroke-width="0.4"/>
<circle cx="519.1" cy="643.1" r="0.8" fill="#D6449C"/>
<line x1="482.8" y1="678.9" x2="504.1" y2="641.8" stroke="#D6449C" stroke-width="0.4"/>
<circle cx="504.1" cy="641.8" r="0.8" fill="#D6449C"/>
<line x1="504.7" y1="678.9" x2="552.7" y2="657.1" stroke="#6058D4" stroke-width="0.4"/>
<circle cx="552.7" cy="657.1" r="0.8" fill="#6058D4"/>
<line x1="518.7" y1="678.9" x2="524.9" y2="647.7" stroke="#EA4444" stroke-width="0.4"/>
<circle cx="524.9" cy="647.7" r="0.8" fill="#EA4444"/>
<line x1="530.1" y1="678.9" x2="578.2" y2="673.2" stroke="#A055C8" stroke-width="0.4"/>
<circle cx="578.2" cy="673.2" r="0.8" fill="#A055C8"/>
<line x1="551.1" y1="678.9" x2="568.6" y2="670.3" stroke="#EA4444" stroke-width="0.4"/>
<circle cx="568.6" cy="670.3" r="0.8" fill="#EA4444"/>
<line x1="645.6" y1="681.5" x2="611.3" y2="686.9" stroke="#2EA4E4" stroke-width="0.4"/>
<circle cx="611.3" cy="686.9" r="0.8" fill="#2EA4E4"/>
<line x1="598.3" y1="683.7" x2="626.0" y2="683.9" stroke="#A055C8" stroke-width="0.4"/>
<circle cx="626.0" cy="683.9" r="0.8" fill="#A055C8"/>
<line x1="463.4" y1="682.0" x2="517.2" y2="642.4" stroke="#6058D4" stroke-width="0.4"/>
<circle cx="517.2" cy="642.4" r="0.8" fill="#6058D4"/>
<line x1="487.2" y1="684.9" x2="519.1" y2="643.3" stroke="#B0A12C" stroke-width="0.4"/>
<circle cx="519.1" cy="643.3" r="0.8" fill="#B0A12C"/>
<line x1="508.2" y1="684.9" x2="521.9" y2="644.9" stroke="#1FAE82" stroke-width="0.4"/>
<circle cx="521.9" cy="644.9" r="0.8" fill="#1FAE82"/>
<line x1="521.3" y1="684.9" x2="529.6" y2="649.3" stroke="#2DAF63" stroke-width="0.4"/>
<circle cx="529.6" cy="649.3" r="0.8" fill="#2DAF63"/>
<line x1="547.6" y1="684.9" x2="606.4" y2="678.3" stroke="#D99224" stroke-width="0.4"/>
<circle cx="606.4" cy="678.3" r="0.8" fill="#D99224"/>
<line x1="583.4" y1="689.3" x2="626.0" y2="684.8" stroke="#D6449C" stroke-width="0.4"/>
<circle cx="626.0" cy="684.8" r="0.8" fill="#D6449C"/>
<line x1="604.4" y1="690.4" x2="626.0" y2="684.4" stroke="#2EA4E4" stroke-width="0.4"/>
<circle cx="626.0" cy="684.4" r="0.8" fill="#2EA4E4"/>
<line x1="617.6" y1="690.4" x2="626.0" y2="681.3" stroke="#1FAE82" stroke-width="0.4"/>
<circle cx="626.0" cy="681.3" r="0.8" fill="#1FAE82"/>
<line x1="622.8" y1="690.4" x2="610.1" y2="686.6" stroke="#B0A12C" stroke-width="0.4"/>
<circle cx="610.1" cy="686.6" r="0.8" fill="#B0A12C"/>
<line x1="481.0" y1="691.2" x2="488.9" y2="634.3" stroke="#EA4444" stroke-width="0.4"/>
<circle cx="488.9" cy="634.3" r="0.8" fill="#EA4444"/>
<line x1="498.5" y1="690.6" x2="543.6" y2="660.1" stroke="#D6449C" stroke-width="0.4"/>
<circle cx="543.6" cy="660.1" r="0.8" fill="#D6449C"/>
<line x1="520.4" y1="690.6" x2="551.6" y2="661.6" stroke="#EA4444" stroke-width="0.4"/>
<circle cx="551.6" cy="661.6" r="0.8" fill="#EA4444"/>
<line x1="545.8" y1="690.6" x2="583.8" y2="674.3" stroke="#B0A12C" stroke-width="0.4"/>
<circle cx="583.8" cy="674.3" r="0.8" fill="#B0A12C"/>
<line x1="572.9" y1="695.7" x2="626.0" y2="686.8" stroke="#1EB2D2" stroke-width="0.4"/>
<circle cx="626.0" cy="686.8" r="0.8" fill="#1EB2D2"/>
<line x1="585.1" y1="696.0" x2="617.7" y2="681.1" stroke="#2EA4E4" stroke-width="0.4"/>
<circle cx="617.7" cy="681.1" r="0.8" fill="#2EA4E4"/>
<line x1="607.9" y1="696.0" x2="626.0" y2="684.4" stroke="#2EA4E4" stroke-width="0.4"/>
<circle cx="626.0" cy="684.4" r="0.8" fill="#2EA4E4"/>
<line x1="626.0" y1="696.0" x2="626.0" y2="685.8" stroke="#D6449C" stroke-width="0.4"/>
<circle cx="626.0" cy="685.8" r="0.8" fill="#D6449C"/>
<line x1="633.3" y1="696.0" x2="622.3" y2="679.7" stroke="#EA4444" stroke-width="0.4"/>
<circle cx="622.3" cy="679.7" r="0.8" fill="#EA4444"/>
<line x1="507.3" y1="695.9" x2="568.9" y2="667.6" stroke="#D6449C" stroke-width="0.4"/>
<circle cx="568.9" cy="667.6" r="0.8" fill="#D6449C"/>
<line x1="523.1" y1="695.9" x2="556.5" y2="662.9" stroke="#D99224" stroke-width="0.4"/>
<circle cx="556.5" cy="662.9" r="0.8" fill="#D99224"/>
<line x1="545.8" y1="695.9" x2="601.1" y2="679.9" stroke="#D6449C" stroke-width="0.4"/>
<circle cx="601.1" cy="679.9" r="0.8" fill="#D6449C"/>
<line x1="570.4" y1="695.9" x2="619.4" y2="679.5" stroke="#1FAE82" stroke-width="0.4"/>
<circle cx="619.4" cy="679.5" r="0.8" fill="#1FAE82"/>
<line x1="587.8" y1="701.3" x2="609.2" y2="679.0" stroke="#2EA4E4" stroke-width="0.4"/>
<circle cx="609.2" cy="679.0" r="0.8" fill="#2EA4E4"/>
<line x1="599.2" y1="701.3" x2="621.0" y2="687.0" stroke="#2DAF63" stroke-width="0.4"/>
<circle cx="621.0" cy="687.0" r="0.8" fill="#2DAF63"/>
<line x1="616.7" y1="701.6" x2="626.0" y2="684.7" stroke="#2EA4E4" stroke-width="0.4"/>
<circle cx="626.0" cy="684.7" r="0.8" fill="#2EA4E4"/>
<line x1="624.6" y1="701.6" x2="614.2" y2="686.9" stroke="#D6449C" stroke-width="0.4"/>
<circle cx="614.2" cy="686.9" r="0.8" fill="#D6449C"/>
<line x1="505.5" y1="702.0" x2="539.1" y2="654.8" stroke="#2EA4E4" stroke-width="0.4"/>
<circle cx="539.1" cy="654.8" r="0.8" fill="#2EA4E4"/>
<line x1="516.9" y1="702.0" x2="544.3" y2="657.1" stroke="#2EA4E4" stroke-width="0.4"/>
<circle cx="544.3" cy="657.1" r="0.8" fill="#2EA4E4"/>
<line x1="538.0" y1="701.1" x2="561.0" y2="665.7" stroke="#2DAF63" stroke-width="0.4"/>
<circle cx="561.0" cy="665.7" r="0.8" fill="#2DAF63"/>
<line x1="580.0" y1="701.1" x2="622.8" y2="686.2" stroke="#A055C8" stroke-width="0.4"/>
<circle cx="622.8" cy="686.2" r="0.8" fill="#A055C8"/>
<line x1="530.1" y1="707.3" x2="587.8" y2="678.8" stroke="#1EB2D2" stroke-width="0.4"/>
<circle cx="587.8" cy="678.8" r="0.8" fill="#1EB2D2"/>
<line x1="566.9" y1="707.3" x2="584.9" y2="674.1" stroke="#2EA4E4" stroke-width="0.4"/>
<circle cx="584.9" cy="674.1" r="0.8" fill="#2EA4E4"/>
<line x1="594.8" y1="707.4" x2="626.0" y2="684.6" stroke="#B0A12C" stroke-width="0.4"/>
<circle cx="626.0" cy="684.6" r="0.8" fill="#B0A12C"/>
<line x1="607.9" y1="707.4" x2="626.0" y2="686.8" stroke="#2DAF63" stroke-width="0.4"/>
<circle cx="626.0" cy="686.8" r="0.8" fill="#2DAF63"/>
<line x1="626.0" y1="707.4" x2="626.0" y2="679.7" stroke="#B0A12C" stroke-width="0.4"/>
<circle cx="626.0" cy="679.7" r="0.8" fill="#B0A12C"/>
<line x1="635.1" y1="707.4" x2="616.6" y2="686.2" stroke="#2DAF63" stroke-width="0.4"/>
<circle cx="616.6" cy="686.2" r="0.8" fill="#2DAF63"/>
<circle cx="487.8" cy="495.0" r="0.8" fill="#2DAF63"/>
<text x="475.9" y="499.8" font-size="3.75" fill="#2DAF63" stroke="#2DAF63" stroke-width="0.05" textLength="15.3" lengthAdjust="spacingAndGlyphs">Honduras</text>
<circle cx="498.2" cy="525.3" r="0.8" fill="#2DAF63"/>
<text x="494.3" y="523.1" font-size="3.75" fill="#2DAF63" stroke="#2DAF63" stroke-width="0.05" textLength="17.5" lengthAdjust="spacingAndGlyphs">Guatemala</text>
<line x1="465.4" y1="538.5" x2="464.2" y2="540.7" stroke="#2DAF63" stroke-width="0.4"/>
<circle cx="464.2" cy="540.7" r="0.8" fill="#2DAF63"/>
<text x="465.4" y="538.5" font-size="3.75" fill="#2DAF63" stroke="#2DAF63" stroke-width="0.05" textLength="6.5" lengthAdjust="spacingAndGlyphs">Haiti</text>
<circle cx="519.7" cy="569.4" r="0.8" fill="#D99224"/>
<text x="492.2" y="567.2" font-size="3.75" fill="#D99224" stroke="#D99224" stroke-width="0.05" textLength="46.3" lengthAdjust="spacingAndGlyphs">Bolivia (Plurinational State of)</text>
<circle cx="543.9" cy="565.9" r="0.8" fill="#2EA4E4"/>
<text x="543.2" y="563.7" font-size="3.75" fill="#2EA4E4" stroke="#2EA4E4" stroke-width="0.05" textLength="10.9" lengthAdjust="spacingAndGlyphs">Ecuador</text>
<circle cx="538.7" cy="571.6" r="0.8" fill="#2DAF63"/>
<text x="538.0" y="576.4" font-size="3.75" fill="#2DAF63" stroke="#2DAF63" stroke-width="0.05" textLength="11.7" lengthAdjust="spacingAndGlyphs">Guyana</text>
<circle cx="423.1" cy="591.2" r="0.8" fill="#EA4444"/>
<text x="418.7" y="589.0" font-size="3.75" fill="#EA4444" stroke="#EA4444" stroke-width="0.05" textLength="18.4" lengthAdjust="spacingAndGlyphs">Afghanistan</text>
<circle cx="506.8" cy="586.2" r="0.8" fill="#2DAF63"/>
<text x="497.2" y="590.5" font-size="3.75" fill="#2DAF63" stroke="#2DAF63" stroke-width="0.05" textLength="10.5" lengthAdjust="spacingAndGlyphs">Norway</text>
<circle cx="533.4" cy="595.6" r="0.8" fill="#6058D4"/>
<text x="531.3" y="593.4" font-size="3.75" fill="#6058D4" stroke="#6058D4" stroke-width="0.05" textLength="14.4" lengthAdjust="spacingAndGlyphs">Paraguay</text>
<line x1="410.8" y1="593.2" x2="412.9" y2="591.5" stroke="#B0A12C" stroke-width="0.4"/>
<circle cx="412.9" cy="591.5" r="0.8" fill="#B0A12C"/>
<text x="372.6" y="595.8" font-size="3.75" fill="#B0A12C" stroke="#B0A12C" stroke-width="0.05" textLength="38.2" lengthAdjust="spacingAndGlyphs">Central African Republic</text>
<circle cx="419.2" cy="597.1" r="0.8" fill="#2EA4E4"/>
<text x="413.4" y="601.9" font-size="3.75" fill="#2EA4E4" stroke="#2EA4E4" stroke-width="0.05" textLength="20.2" lengthAdjust="spacingAndGlyphs">Mozambique</text>
<circle cx="458.1" cy="602.0" r="0.8" fill="#2EA4E4"/>
<text x="458.1" y="600.2" font-size="3.75" fill="#2EA4E4" stroke="#2EA4E4" stroke-width="0.05" textLength="9.6" lengthAdjust="spacingAndGlyphs">Nepal</text>
<line x1="475.1" y1="601.3" x2="475.1" y2="604.7" stroke="#2EA4E4" stroke-width="0.4"/>
<circle cx="475.1" cy="604.7" r="0.8" fill="#2EA4E4"/>
<text x="473.5" y="601.3" font-size="3.75" fill="#2EA4E4" stroke="#2EA4E4" stroke-width="0.05" textLength="6.5" lengthAdjust="spacingAndGlyphs">Niger</text>
<circle cx="484.9" cy="604.1" r="0.8" fill="#2EA4E4"/>
<text x="474.4" y="601.8" font-size="3.75" fill="#2EA4E4" stroke="#2EA4E4" stroke-width="0.05" textLength="12.2" lengthAdjust="spacingAndGlyphs">Pakistan</text>
<circle cx="518.7" cy="597.4" r="0.8" fill="#EA4444"/>
<text x="505.0" y="602.2" font-size="3.75" fill="#EA4444" stroke="#EA4444" stroke-width="0.05" textLength="54.3" lengthAdjust="spacingAndGlyphs">Venezuela (Bolivarian Republic of)</text>
<line x1="449.3" y1="605.1" x2="447.6" y2="604.1" stroke="#2DAF63" stroke-width="0.4"/>
<circle cx="447.6" cy="604.1" r="0.8" fill="#2DAF63"/>
<text x="449.3" y="607.7" font-size="3.75" fill="#2DAF63" stroke="#2DAF63" stroke-width="0.05" textLength="10.9" lengthAdjust="spacingAndGlyphs">Eritrea</text>
<line x1="504.7" y1="608.3" x2="506.8" y2="609.0" stroke="#2DAF63" stroke-width="0.4"/>
<circle cx="506.8" cy="609.0" r="0.8" fill="#2DAF63"/>
<text x="486.6" y="608.3" font-size="3.75" fill="#2DAF63" stroke="#2DAF63" stroke-width="0.05" textLength="18.1" lengthAdjust="spacingAndGlyphs">El Salvador</text>
<line x1="512.0" y1="608.5" x2="511.2" y2="611.1" stroke="#2DAF63" stroke-width="0.4"/>
<circle cx="511.2" cy="611.1" r="0.8" fill="#2DAF63"/>
<text x="512.0" y="608.5" font-size="3.75" fill="#2DAF63" stroke="#2DAF63" stroke-width="0.05" textLength="7.9" lengthAdjust="spacingAndGlyphs">India</text>
<circle cx="401.2" cy="612.6" r="0.8" fill="#D6449C"/>
<text x="395.0" y="610.7" font-size="3.75" fill="#D6449C" stroke="#D6449C" stroke-width="0.05" textLength="20.7" lengthAdjust="spacingAndGlyphs">South Sudan</text>
<circle cx="429.2" cy="607.3" r="0.8" fill="#2DAF63"/>
<text x="417.8" y="612.1" font-size="3.75" fill="#2DAF63" stroke="#2DAF63" stroke-width="0.05" textLength="24.5" lengthAdjust="spacingAndGlyphs">Guinea-Bissau</text>
<circle cx="541.0" cy="613.7" r="0.8" fill="#B0A12C"/>
<text x="528.2" y="612.0" font-size="3.75" fill="#B0A12C" stroke="#B0A12C" stroke-width="0.05" textLength="14.5" lengthAdjust="spacingAndGlyphs">Colombia</text>
<circle cx="545.7" cy="614.6" r="0.8" fill="#B0A12C"/>
<text x="546.2" y="612.7" font-size="3.75" fill="#B0A12C" stroke="#B0A12C" stroke-width="0.05" textLength="8.8" lengthAdjust="spacingAndGlyphs">Samoa</text>
<line x1="473.5" y1="610.4" x2="473.5" y2="607.0" stroke="#D99224" stroke-width="0.4"/>
<circle cx="473.5" cy="607.0" r="0.8" fill="#D99224"/>
<text x="463.0" y="613.0" font-size="3.75" fill="#D99224" stroke="#D99224" stroke-width="0.05" textLength="11.8" lengthAdjust="spacingAndGlyphs">Bhutan</text>
<line x1="449.3" y1="614.2" x2="449.3" y2="621.3" stroke="#2DAF63" stroke-width="0.4"/>
<circle cx="449.3" cy="621.3" r="0.8" fill="#2DAF63"/>
<text x="445.8" y="614.2" font-size="3.75" fill="#2DAF63" stroke="#2DAF63" stroke-width="0.05" textLength="13.2" lengthAdjust="spacingAndGlyphs">Cambodia</text>
<circle cx="577.0" cy="616.5" r="0.8" fill="#A055C8"/>
<text x="566.0" y="615.0" font-size="3.75" fill="#A055C8" stroke="#A055C8" stroke-width="0.05" textLength="33.2" lengthAdjust="spacingAndGlyphs">Saint Kitts and Nevis</text>
<line x1="480.5" y1="615.0" x2="480.5" y2="621.6" stroke="#D99224" stroke-width="0.4"/>
<circle cx="480.5" cy="621.6" r="0.8" fill="#D99224"/>
<text x="477.0" y="615.0" font-size="3.75" fill="#D99224" stroke="#D99224" stroke-width="0.05" textLength="18.9" lengthAdjust="spacingAndGlyphs">Bangladesh</text>
<line x1="390.1" y1="617.7" x2="387.5" y2="620.1" stroke="#1EB2D2" stroke-width="0.4"/>
<circle cx="387.5" cy="620.1" r="0.8" fill="#1EB2D2"/>
<text x="390.1" y="617.7" font-size="3.75" fill="#1EB2D2" stroke="#1EB2D2" stroke-width="0.05" textLength="5.8" lengthAdjust="spacingAndGlyphs">Mali</text>
<line x1="501.2" y1="618.0" x2="491.9" y2="624.2" stroke="#2EA4E4" stroke-width="0.4"/>
<circle cx="491.9" cy="624.2" r="0.8" fill="#2EA4E4"/>
<text x="501.2" y="618.0" font-size="3.75" fill="#2EA4E4" stroke="#2EA4E4" stroke-width="0.05" textLength="15.8" lengthAdjust="spacingAndGlyphs">Nicaragua</text>
<line x1="440.1" y1="620.0" x2="440.1" y2="623.4" stroke="#D6449C" stroke-width="0.4"/>
<circle cx="440.1" cy="623.4" r="0.8" fill="#D6449C"/>
<text x="439.7" y="620.0" font-size="3.75" fill="#D6449C" stroke="#D6449C" stroke-width="0.05" textLength="7.0" lengthAdjust="spacingAndGlyphs">Togo</text>
<line x1="458.1" y1="617.4" x2="454.3" y2="616.7" stroke="#B0A12C" stroke-width="0.4"/>
<circle cx="454.3" cy="616.7" r="0.8" fill="#B0A12C"/>
<text x="458.1" y="620.0" font-size="3.75" fill="#B0A12C" stroke="#B0A12C" stroke-width="0.05" textLength="16.7" lengthAdjust="spacingAndGlyphs">Kyrgyzstan</text>
<line x1="540.1" y1="620.8" x2="540.1" y2="627.7" stroke="#2DAF63" stroke-width="0.4"/>
<circle cx="540.1" cy="627.7" r="0.8" fill="#2DAF63"/>
<text x="534.8" y="620.8" font-size="3.75" fill="#2DAF63" stroke="#2DAF63" stroke-width="0.05" textLength="12.3" lengthAdjust="spacingAndGlyphs">Ecuador</text>
<line x1="556.0" y1="621.1" x2="556.0" y2="626.0" stroke="#B0A12C" stroke-width="0.4"/>
<circle cx="556.0" cy="626.0" r="0.8" fill="#B0A12C"/>
<text x="551.5" y="621.1" font-size="3.75" fill="#B0A12C" stroke="#B0A12C" stroke-width="0.05" textLength="16.6" lengthAdjust="spacingAndGlyphs">Costa Rica</text>
<line x1="574.0" y1="622.0" x2="574.0" y2="627.0" stroke="#EA4444" stroke-width="0.4"/>
<circle cx="574.0" cy="627.0" r="0.8" fill="#EA4444"/>
<text x="566.0" y="622.0" font-size="3.75" fill="#EA4444" stroke="#EA4444" stroke-width="0.05" textLength="32.3" lengthAdjust="spacingAndGlyphs">Antigua and Barbuda</text>
<circle cx="477.5" cy="625.3" r="0.8" fill="#B0A12C"/>
<text x="477.0" y="622.9" font-size="3.75" fill="#B0A12C" stroke="#B0A12C" stroke-width="0.05" textLength="11.4" lengthAdjust="spacingAndGlyphs">Djibouti</text>
<line x1="532.2" y1="622.9" x2="540.1" y2="627.7" stroke="#D99224" stroke-width="0.4"/>
<circle cx="540.1" cy="627.7" r="0.8" fill="#D99224"/>
<text x="522.9" y="622.9" font-size="3.75" fill="#D99224" stroke="#D99224" stroke-width="0.05" textLength="9.3" lengthAdjust="spacingAndGlyphs">Brazil</text>
<line x1="498.0" y1="623.7" x2="494.5" y2="625.9" stroke="#1EB2D2" stroke-width="0.4"/>
<circle cx="494.5" cy="625.9" r="0.8" fill="#1EB2D2"/>
<text x="498.0" y="623.7" font-size="3.75" fill="#1EB2D2" stroke="#1EB2D2" stroke-width="0.05" textLength="8.4" lengthAdjust="spacingAndGlyphs">Belize</text>
<circle cx="387.0" cy="620.0" r="0.8" fill="#B0A12C"/>
<text x="378.4" y="624.0" font-size="3.75" fill="#B0A12C" stroke="#B0A12C" stroke-width="0.05" textLength="8.2" lengthAdjust="spacingAndGlyphs">Chile</text>
<circle cx="433.6" cy="621.6" r="0.8" fill="#1EB2D2"/>
<text x="427.4" y="625.8" font-size="3.75" fill="#1EB2D2" stroke="#1EB2D2" stroke-width="0.05" textLength="11.4" lengthAdjust="spacingAndGlyphs">Malawi</text>
<line x1="461.6" y1="625.3" x2="469.1" y2="625.3" stroke="#1EB2D2" stroke-width="0.4"/>
<circle cx="469.1" cy="625.3" r="0.8" fill="#1EB2D2"/>
<text x="442.3" y="625.8" font-size="3.75" fill="#1EB2D2" stroke="#1EB2D2" stroke-width="0.05" textLength="19.3" lengthAdjust="spacingAndGlyphs">Madagascar</text>
<line x1="546.0" y1="627.8" x2="546.0" y2="632.0" stroke="#6058D4" stroke-width="0.4"/>
<circle cx="546.0" cy="632.0" r="0.8" fill="#6058D4"/>
<text x="544.5" y="627.8" font-size="3.75" fill="#6058D4" stroke="#6058D4" stroke-width="0.05" textLength="7.0" lengthAdjust="spacingAndGlyphs">Peru</text>
<line x1="560.2" y1="628.1" x2="557.0" y2="633.0" stroke="#2EA4E4" stroke-width="0.4"/>
<circle cx="557.0" cy="633.0" r="0.8" fill="#2EA4E4"/>
<text x="560.2" y="628.1" font-size="3.75" fill="#2EA4E4" stroke="#2EA4E4" stroke-width="0.05" textLength="12.3" lengthAdjust="spacingAndGlyphs">Panama</text>
<line x1="498.9" y1="626.4" x2="503.7" y2="625.4" stroke="#1EB2D2" stroke-width="0.4"/>
<circle cx="503.7" cy="625.4" r="0.8" fill="#1EB2D2"/>
<text x="484.9" y="629.0" font-size="3.75" fill="#1EB2D2" stroke="#1EB2D2" stroke-width="0.05" textLength="14.0" lengthAdjust="spacingAndGlyphs">Pakistan</text>
<line x1="474.8" y1="626.7" x2="480.7" y2="624.2" stroke="#EA4444" stroke-width="0.4"/>
<circle cx="480.7" cy="624.2" r="0.8" fill="#EA4444"/>
<text x="464.2" y="629.3" font-size="3.75" fill="#EA4444" stroke="#EA4444" stroke-width="0.05" textLength="10.6" lengthAdjust="spacingAndGlyphs">Panama</text>
<line x1="525.0" y1="629.5" x2="525.0" y2="636.0" stroke="#D6449C" stroke-width="0.4"/>
<circle cx="525.0" cy="636.0" r="0.8" fill="#D6449C"/>
<text x="518.2" y="629.5" font-size="3.75" fill="#D6449C" stroke="#D6449C" stroke-width="0.05" textLength="14.9" lengthAdjust="spacingAndGlyphs">Suriname</text>
<circle cx="587.3" cy="631.1" r="0.8" fill="#2DAF63"/>
<text x="583.0" y="629.5" font-size="3.75" fill="#2DAF63" stroke="#2DAF63" stroke-width="0.05" textLength="7.0" lengthAdjust="spacingAndGlyphs">Fiji</text>
<line x1="583.4" y1="629.7" x2="576.0" y2="640.0" stroke="#2DAF63" stroke-width="0.4"/>
<circle cx="576.0" cy="640.0" r="0.8" fill="#2DAF63"/>
<text x="583.4" y="629.7" font-size="3.75" fill="#2DAF63" stroke="#2DAF63" stroke-width="0.05" textLength="14.9" lengthAdjust="spacingAndGlyphs">Dominica</text>
<line x1="387.2" y1="630.5" x2="391.7" y2="632.5" stroke="#B0A12C" stroke-width="0.4"/>
<circle cx="391.7" cy="632.5" r="0.8" fill="#B0A12C"/>
<text x="374.9" y="630.5" font-size="3.75" fill="#B0A12C" stroke="#B0A12C" stroke-width="0.05" textLength="12.3" lengthAdjust="spacingAndGlyphs">Burundi</text>
<circle cx="426.8" cy="634.2" r="0.8" fill="#B0A12C"/>
<text x="389.8" y="632.3" font-size="3.75" fill="#B0A12C" stroke="#B0A12C" stroke-width="0.05" textLength="53.4" lengthAdjust="spacingAndGlyphs">Democratic Republic of the Congo</text>
<line x1="541.8" y1="632.5" x2="548.6" y2="631.7" stroke="#2DAF63" stroke-width="0.4"/>
<circle cx="548.6" cy="631.7" r="0.8" fill="#2DAF63"/>
<text x="527.8" y="635.1" font-size="3.75" fill="#2DAF63" stroke="#2DAF63" stroke-width="0.05" textLength="14.0" lengthAdjust="spacingAndGlyphs">Grenada</text>
<circle cx="506.4" cy="636.9" r="0.8" fill="#B0A12C"/>
<text x="498.9" y="635.1" font-size="3.75" fill="#B0A12C" stroke="#B0A12C" stroke-width="0.05" textLength="10.5" lengthAdjust="spacingAndGlyphs">Canada</text>
<line x1="512.0" y1="635.1" x2="506.3" y2="635.4" stroke="#D99224" stroke-width="0.4"/>
<circle cx="506.3" cy="635.4" r="0.8" fill="#D99224"/>
<text x="512.0" y="635.1" font-size="3.75" fill="#D99224" stroke="#D99224" stroke-width="0.05" textLength="8.8" lengthAdjust="spacingAndGlyphs">Bhutan</text>
<line x1="561.1" y1="634.3" x2="566.0" y2="636.3" stroke="#1FAE82" stroke-width="0.4"/>
<circle cx="566.0" cy="636.3" r="0.8" fill="#1FAE82"/>
<text x="542.7" y="634.3" font-size="3.75" fill="#1FAE82" stroke="#1FAE82" stroke-width="0.05" textLength="18.4" lengthAdjust="spacingAndGlyphs">Argentina</text>
<line x1="480.5" y1="631.7" x2="486.5" y2="631.7" stroke="#EA4444" stroke-width="0.4"/>
<circle cx="486.5" cy="631.7" r="0.8" fill="#EA4444"/>
<text x="470.0" y="634.3" font-size="3.75" fill="#EA4444" stroke="#EA4444" stroke-width="0.05" textLength="10.5" lengthAdjust="spacingAndGlyphs">Brazil</text>
<line x1="456.0" y1="632.6" x2="456.0" y2="629.6" stroke="#D6449C" stroke-width="0.4"/>
<circle cx="456.0" cy="629.6" r="0.8" fill="#D6449C"/>
<text x="443.2" y="635.2" font-size="3.75" fill="#D6449C" stroke="#D6449C" stroke-width="0.05" textLength="18.4" lengthAdjust="spacingAndGlyphs">Timor-Leste</text>
<line x1="487.5" y1="633.4" x2="495.4" y2="633.4" stroke="#D6449C" stroke-width="0.4"/>
<circle cx="495.4" cy="633.4" r="0.8" fill="#D6449C"/>
<text x="475.3" y="635.5" font-size="3.75" fill="#D6449C" stroke="#D6449C" stroke-width="0.05" textLength="12.2" lengthAdjust="spacingAndGlyphs">Namibia</text>
<line x1="590.0" y1="635.8" x2="590.0" y2="645.0" stroke="#D99224" stroke-width="0.4"/>
<circle cx="590.0" cy="645.0" r="0.8" fill="#D99224"/>
<text x="584.3" y="635.8" font-size="3.75" fill="#D99224" stroke="#D99224" stroke-width="0.05" textLength="12.2" lengthAdjust="spacingAndGlyphs">Bahrain</text>
<line x1="599.2" y1="635.8" x2="595.0" y2="660.0" stroke="#D99224" stroke-width="0.4"/>
<circle cx="595.0" cy="660.0" r="0.8" fill="#D99224"/>
<text x="599.2" y="635.8" font-size="3.75" fill="#D99224" stroke="#D99224" stroke-width="0.05" textLength="14.9" lengthAdjust="spacingAndGlyphs">Lithuania</text>
<circle cx="576.0" cy="631.3" r="0.8" fill="#A055C8"/>
<text x="565.0" y="635.5" font-size="3.75" fill="#A055C8" stroke="#A055C8" stroke-width="0.05" textLength="11.9" lengthAdjust="spacingAndGlyphs">Croatia</text>
<line x1="434.3" y1="638.0" x2="434.3" y2="641.6" stroke="#A055C8" stroke-width="0.4"/>
<circle cx="434.3" cy="641.6" r="0.8" fill="#A055C8"/>
<text x="427.4" y="638.0" font-size="3.75" fill="#A055C8" stroke="#A055C8" stroke-width="0.05" textLength="9.7" lengthAdjust="spacingAndGlyphs">Senegal</text>
<circle cx="552.1" cy="634.9" r="0.8" fill="#A055C8"/>
<text x="541.8" y="640.0" font-size="3.75" fill="#A055C8" stroke="#A055C8" stroke-width="0.05" textLength="17.5" lengthAdjust="spacingAndGlyphs">Saint Lucia</text>
<line x1="501.1" y1="637.8" x2="501.1" y2="635.0" stroke="#1EB2D2" stroke-width="0.4"/>
<circle cx="501.1" cy="635.0" r="0.8" fill="#1EB2D2"/>
<text x="489.3" y="640.4" font-size="3.75" fill="#1EB2D2" stroke="#1EB2D2" stroke-width="0.05" textLength="12.2" lengthAdjust="spacingAndGlyphs">Kiribati</text>
<line x1="479.3" y1="639.6" x2="483.9" y2="639.6" stroke="#B0A12C" stroke-width="0.4"/>
<circle cx="483.9" cy="639.6" r="0.8" fill="#B0A12C"/>
<text x="465.3" y="641.2" font-size="3.75" fill="#B0A12C" stroke="#B0A12C" stroke-width="0.05" textLength="14.0" lengthAdjust="spacingAndGlyphs">Cameroon</text>
<circle cx="568.1" cy="636.8" r="0.8" fill="#D6449C"/>
<text x="559.3" y="641.3" font-size="3.75" fill="#D6449C" stroke="#D6449C" stroke-width="0.05" textLength="8.8" lengthAdjust="spacingAndGlyphs">Ghana</text>
<line x1="541.8" y1="641.3" x2="549.6" y2="644.0" stroke="#2DAF63" stroke-width="0.4"/>
<circle cx="549.6" cy="644.0" r="0.8" fill="#2DAF63"/>
<text x="527.8" y="641.3" font-size="3.75" fill="#2DAF63" stroke="#2DAF63" stroke-width="0.05" textLength="14.0" lengthAdjust="spacingAndGlyphs">Malaysia</text>
<line x1="527.8" y1="640.6" x2="534.1" y2="640.6" stroke="#2DAF63" stroke-width="0.4"/>
<circle cx="534.1" cy="640.6" r="0.8" fill="#2DAF63"/>
<text x="513.8" y="641.3" font-size="3.75" fill="#2DAF63" stroke="#2DAF63" stroke-width="0.05" textLength="14.0" lengthAdjust="spacingAndGlyphs">Viet Nam</text>
<line x1="592.2" y1="641.9" x2="590.0" y2="655.0" stroke="#B0A12C" stroke-width="0.4"/>
<circle cx="590.0" cy="655.0" r="0.8" fill="#B0A12C"/>
<text x="592.2" y="641.9" font-size="3.75" fill="#B0A12C" stroke="#B0A12C" stroke-width="0.05" textLength="7.8" lengthAdjust="spacingAndGlyphs">Chile</text>
<line x1="606.2" y1="641.6" x2="600.0" y2="665.0" stroke="#2DAF63" stroke-width="0.4"/>
<circle cx="600.0" cy="665.0" r="0.8" fill="#2DAF63"/>
<text x="606.2" y="641.6" font-size="3.75" fill="#2DAF63" stroke="#2DAF63" stroke-width="0.05" textLength="15.7" lengthAdjust="spacingAndGlyphs">Greenland</text>
<line x1="627.2" y1="641.3" x2="610.0" y2="675.0" stroke="#A055C8" stroke-width="0.4"/>
<circle cx="610.0" cy="675.0" r="0.8" fill="#A055C8"/>
<text x="627.2" y="641.3" font-size="3.75" fill="#A055C8" stroke="#A055C8" stroke-width="0.05" textLength="13.1" lengthAdjust="spacingAndGlyphs">Slovakia</text>
<line x1="408.7" y1="639.3" x2="411.6" y2="637.4" stroke="#B0A12C" stroke-width="0.4"/>
<circle cx="411.6" cy="637.4" r="0.8" fill="#B0A12C"/>
<text x="387.2" y="641.9" font-size="3.75" fill="#B0A12C" stroke="#B0A12C" stroke-width="0.05" textLength="21.5" lengthAdjust="spacingAndGlyphs">Burkina Faso</text>
<circle cx="426.3" cy="637.8" r="0.8" fill="#2DAF63"/>
<text x="412.2" y="642.2" font-size="3.75" fill="#2DAF63" stroke="#2DAF63" stroke-width="0.05" textLength="14.4" lengthAdjust="spacingAndGlyphs">Zimbabwe</text>
<text x="576.9" y="642.1" font-size="3.75" fill="#1EB2D2" stroke="#1EB2D2" stroke-width="0.05" textLength="7.9" lengthAdjust="spacingAndGlyphs">Latvia</text>
<text x="437.1" y="644.5" font-size="3.75" fill="#A055C8" stroke="#A055C8" stroke-width="0.05" textLength="13.1" lengthAdjust="spacingAndGlyphs">Viet Nam</text>
<line x1="646.5" y1="644.7" x2="615.0" y2="680.0" stroke="#2EA4E4" stroke-width="0.4"/>
<circle cx="615.0" cy="680.0" r="0.8" fill="#2EA4E4"/>
<text x="646.5" y="644.7" font-size="3.75" fill="#2EA4E4" stroke="#2EA4E4" stroke-width="0.05" textLength="21.0" lengthAdjust="spacingAndGlyphs">New Zealand</text>
<text x="465.3" y="647.7" font-size="3.75" fill="#EA4444" stroke="#EA4444" stroke-width="0.05" textLength="16.6" lengthAdjust="spacingAndGlyphs">Costa Rica</text>
<text x="485.4" y="646.8" font-size="3.75" fill="#D6449C" stroke="#D6449C" stroke-width="0.05" textLength="8.8" lengthAdjust="spacingAndGlyphs">Sudan</text>
<text x="502.0" y="646.5" font-size="3.75" fill="#2DAF63" stroke="#2DAF63" stroke-width="0.05" textLength="10.6" lengthAdjust="spacingAndGlyphs">Serbia</text>
<text x="604.4" y="647.2" font-size="3.75" fill="#D6449C" stroke="#D6449C" stroke-width="0.05" textLength="42.1" lengthAdjust="spacingAndGlyphs">United States Virgin Islands</text>
<text x="565.0" y="647.7" font-size="3.75" fill="#EA4444" stroke="#EA4444" stroke-width="0.05" textLength="39.4" lengthAdjust="spacingAndGlyphs">Central African Republic</text>
<line x1="387.2" y1="645.2" x2="381.7" y2="642.8" stroke="#A055C8" stroke-width="0.4"/>
<circle cx="381.7" cy="642.8" r="0.8" fill="#A055C8"/>
<text x="387.2" y="647.8" font-size="3.75" fill="#A055C8" stroke="#A055C8" stroke-width="0.05" textLength="20.1" lengthAdjust="spacingAndGlyphs">Sierra Leone</text>
<text x="452.9" y="647.5" font-size="3.75" fill="#D6449C" stroke="#D6449C" stroke-width="0.05" textLength="10.5" lengthAdjust="spacingAndGlyphs">Brazil</text>
<circle cx="424.2" cy="646.2" r="0.8" fill="#1FAE82"/>
<text x="409.9" y="648.9" font-size="3.75" fill="#1FAE82" stroke="#1FAE82" stroke-width="0.05" textLength="12.3" lengthAdjust="spacingAndGlyphs">Eritrea</text>
<text x="424.8" y="648.7" font-size="3.75" fill="#D99224" stroke="#D99224" stroke-width="0.05" textLength="7.0" lengthAdjust="spacingAndGlyphs">Benin</text>
<line x1="646.5" y1="650.9" x2="612.0" y2="682.0" stroke="#D6449C" stroke-width="0.4"/>
<circle cx="612.0" cy="682.0" r="0.8" fill="#D6449C"/>
<text x="646.5" y="650.9" font-size="3.75" fill="#D6449C" stroke="#D6449C" stroke-width="0.05" textLength="35.0" lengthAdjust="spacingAndGlyphs">United Arab Emirates</text>
<text x="634.2" y="652.1" font-size="3.75" fill="#6058D4" stroke="#6058D4" stroke-width="0.05" textLength="7.9" lengthAdjust="spacingAndGlyphs">Cyprus</text>
<text x="460.0" y="653.8" font-size="3.75" fill="#2EA4E4" stroke="#2EA4E4" stroke-width="0.05" textLength="12.3" lengthAdjust="spacingAndGlyphs">Namibia</text>
<text x="592.2" y="653.9" font-size="3.75" fill="#B0A12C" stroke="#B0A12C" stroke-width="0.05" textLength="39.4" lengthAdjust="spacingAndGlyphs">Bosnia and Herzegovina</text>
<text x="565.0" y="653.9" font-size="3.75" fill="#D99224" stroke="#D99224" stroke-width="0.05" textLength="28.0" lengthAdjust="spacingAndGlyphs">Tunisia Albania</text>
<text x="435.3" y="653.9" font-size="3.75" fill="#B0A12C" stroke="#B0A12C" stroke-width="0.05" textLength="21.1" lengthAdjust="spacingAndGlyphs">Cote d'Ivoire</text>
<text x="458.1" y="653.9" font-size="3.75" fill="#1EB2D2" stroke="#1EB2D2" stroke-width="0.05" textLength="14.0" lengthAdjust="spacingAndGlyphs">Mauritania</text>
<circle cx="428.3" cy="649.7" r="0.8" fill="#D6449C"/>
<text x="385.4" y="654.4" font-size="3.75" fill="#D6449C" stroke="#D6449C" stroke-width="0.05" textLength="43.8" lengthAdjust="spacingAndGlyphs">United Republic of Tanzania</text>
<text x="482.8" y="652.4" font-size="3.75" fill="#2DAF63" stroke="#2DAF63" stroke-width="0.05" textLength="10.5" lengthAdjust="spacingAndGlyphs">Rwanda</text>
<text x="502.9" y="652.4" font-size="3.75" fill="#D6449C" stroke="#D6449C" stroke-width="0.05" textLength="7.9" lengthAdjust="spacingAndGlyphs">Yemen</text>
<text x="512.6" y="652.4" font-size="3.75" fill="#A055C8" stroke="#A055C8" stroke-width="0.05" textLength="11.3" lengthAdjust="spacingAndGlyphs">Morocco</text>
<line x1="655.2" y1="657.0" x2="615.0" y2="682.0" stroke="#EA4444" stroke-width="0.4"/>
<circle cx="615.0" cy="682.0" r="0.8" fill="#EA4444"/>
<text x="655.2" y="657.0" font-size="3.75" fill="#EA4444" stroke="#EA4444" stroke-width="0.05" textLength="26.3" lengthAdjust="spacingAndGlyphs">United Kingdom</text>
<line x1="639.5" y1="657.7" x2="614.0" y2="683.0" stroke="#A055C8" stroke-width="0.4"/>
<circle cx="614.0" cy="683.0" r="0.8" fill="#A055C8"/>
<text x="639.5" y="657.7" font-size="3.75" fill="#A055C8" stroke="#A055C8" stroke-width="0.05" textLength="14.8" lengthAdjust="spacingAndGlyphs">Slovenia</text>
<text x="484.5" y="658.2" font-size="3.75" fill="#2EA4E4" stroke="#2EA4E4" stroke-width="0.05" textLength="19.3" lengthAdjust="spacingAndGlyphs">Saint Lucia</text>
<text x="510.8" y="658.2" font-size="3.75" fill="#2EA4E4" stroke="#2EA4E4" stroke-width="0.05" textLength="9.6" lengthAdjust="spacingAndGlyphs">Tuvalu</text>
<text x="526.6" y="659.1" font-size="3.75" fill="#2DAF63" stroke="#2DAF63" stroke-width="0.05" textLength="19.2" lengthAdjust="spacingAndGlyphs">Turkmenistan</text>
<text x="617.6" y="659.1" font-size="3.75" fill="#A055C8" stroke="#A055C8" stroke-width="0.05" textLength="13.1" lengthAdjust="spacingAndGlyphs">Portugal</text>
<text x="598.3" y="659.1" font-size="3.75" fill="#D99224" stroke="#D99224" stroke-width="0.05" textLength="11.4" lengthAdjust="spacingAndGlyphs">Algeria</text>
<text x="565.0" y="659.1" font-size="3.75" fill="#A055C8" stroke="#A055C8" stroke-width="0.05" textLength="28.0" lengthAdjust="spacingAndGlyphs">Republic of Moldova</text>
<line x1="391.5" y1="657.6" x2="430.0" y2="641.8" stroke="#1EB2D2" stroke-width="0.4"/>
<circle cx="430.0" cy="641.8" r="0.8" fill="#1EB2D2"/>
<text x="380.1" y="660.2" font-size="3.75" fill="#1EB2D2" stroke="#1EB2D2" stroke-width="0.05" textLength="11.4" lengthAdjust="spacingAndGlyphs">Liberia</text>
<text x="416.9" y="660.2" font-size="3.75" fill="#EA4444" stroke="#EA4444" stroke-width="0.05" textLength="13.2" lengthAdjust="spacingAndGlyphs">Vanuatu</text>
<text x="432.7" y="659.7" font-size="3.75" fill="#D99224" stroke="#D99224" stroke-width="0.05" textLength="47.3" lengthAdjust="spacingAndGlyphs">Democratic People's Republic</text>
<line x1="651.7" y1="663.0" x2="614.0" y2="684.0" stroke="#2DAF63" stroke-width="0.4"/>
<circle cx="614.0" cy="684.0" r="0.8" fill="#2DAF63"/>
<text x="651.7" y="663.0" font-size="3.75" fill="#2DAF63" stroke="#2DAF63" stroke-width="0.05" textLength="12.3" lengthAdjust="spacingAndGlyphs">Finland</text>
<line x1="663.1" y1="663.0" x2="614.0" y2="684.0" stroke="#2EA4E4" stroke-width="0.4"/>
<circle cx="614.0" cy="684.0" r="0.8" fill="#2EA4E4"/>
<text x="663.1" y="663.0" font-size="3.75" fill="#2EA4E4" stroke="#2EA4E4" stroke-width="0.05" textLength="18.4" lengthAdjust="spacingAndGlyphs">Netherlands</text>
<text x="477.5" y="664.3" font-size="3.75" fill="#A055C8" stroke="#A055C8" stroke-width="0.05" textLength="43.8" lengthAdjust="spacingAndGlyphs">Federated States of Micronesia</text>
<text x="460.0" y="664.3" font-size="3.75" fill="#1EB2D2" stroke="#1EB2D2" stroke-width="0.05" textLength="12.3" lengthAdjust="spacingAndGlyphs">Kiribati</text>
<text x="565.0" y="665.3" font-size="3.75" fill="#B0A12C" stroke="#B0A12C" stroke-width="0.05" textLength="9.6" lengthAdjust="spacingAndGlyphs">Croatia</text>
<text x="575.5" y="665.3" font-size="3.75" fill="#B0A12C" stroke="#B0A12C" stroke-width="0.05" textLength="14.0" lengthAdjust="spacingAndGlyphs">Portugal</text>
<text x="531.8" y="665.7" font-size="3.75" fill="#D6449C" stroke="#D6449C" stroke-width="0.05" textLength="19.3" lengthAdjust="spacingAndGlyphs">El Salvador</text>
<text x="612.3" y="665.8" font-size="3.75" fill="#1EB2D2" stroke="#1EB2D2" stroke-width="0.05" textLength="9.6" lengthAdjust="spacingAndGlyphs">Estonia</text>
<text x="626.3" y="665.8" font-size="3.75" fill="#B0A12C" stroke="#B0A12C" stroke-width="0.05" textLength="14.0" lengthAdjust="spacingAndGlyphs">Denmark</text>
<text x="434.5" y="665.8" font-size="3.75" fill="#D6449C" stroke="#D6449C" stroke-width="0.05" textLength="12.2" lengthAdjust="spacingAndGlyphs">Uganda</text>
<text x="448.5" y="665.8" font-size="3.75" fill="#2EA4E4" stroke="#2EA4E4" stroke-width="0.05" textLength="9.6" lengthAdjust="spacingAndGlyphs">Nigeria</text>
<text x="463.4" y="665.8" font-size="3.75" fill="#1FAE82" stroke="#1FAE82" stroke-width="0.05" textLength="8.7" lengthAdjust="spacingAndGlyphs">Kenya</text>
<text x="468.8" y="668.7" font-size="3.75" fill="#6058D4" stroke="#6058D4" stroke-width="0.05" textLength="50.8" lengthAdjust="spacingAndGlyphs">Democratic Republic of the Congo</text>
<line x1="659.6" y1="669.3" x2="615.0" y2="684.0" stroke="#2DAF63" stroke-width="0.4"/>
<circle cx="615.0" cy="684.0" r="0.8" fill="#2DAF63"/>
<text x="659.6" y="669.3" font-size="3.75" fill="#2DAF63" stroke="#2DAF63" stroke-width="0.05" textLength="14.9" lengthAdjust="spacingAndGlyphs">Singapore</text>
<line x1="643.0" y1="669.3" x2="615.0" y2="684.0" stroke="#D99224" stroke-width="0.4"/>
<circle cx="615.0" cy="684.0" r="0.8" fill="#D99224"/>
<text x="643.0" y="669.3" font-size="3.75" fill="#D99224" stroke="#D99224" stroke-width="0.05" textLength="14.9" lengthAdjust="spacingAndGlyphs">Argentina</text>
<text x="513.4" y="671.0" font-size="3.75" fill="#B0A12C" stroke="#B0A12C" stroke-width="0.05" textLength="12.3" lengthAdjust="spacingAndGlyphs">Botswana</text>
<text x="582.5" y="671.4" font-size="3.75" fill="#B0A12C" stroke="#B0A12C" stroke-width="0.05" textLength="7.0" lengthAdjust="spacingAndGlyphs">Cuba</text>
<text x="419.6" y="672.0" font-size="3.75" fill="#A055C8" stroke="#A055C8" stroke-width="0.05" textLength="36.8" lengthAdjust="spacingAndGlyphs">Sao Tome and Principe</text>
<text x="529.2" y="672.2" font-size="3.75" fill="#2DAF63" stroke="#2DAF63" stroke-width="0.05" textLength="23.7" lengthAdjust="spacingAndGlyphs">South Africa</text>
<text x="460.0" y="673.1" font-size="3.75" fill="#1EB2D2" stroke="#1EB2D2" stroke-width="0.05" textLength="10.5" lengthAdjust="spacingAndGlyphs">Djibouti</text>
<text x="480.1" y="675.2" font-size="3.75" fill="#D6449C" stroke="#D6449C" stroke-width="0.05" textLength="8.8" lengthAdjust="spacingAndGlyphs">Tonga</text>
<text x="497.7" y="675.2" font-size="3.75" fill="#A055C8" stroke="#A055C8" stroke-width="0.05" textLength="12.2" lengthAdjust="spacingAndGlyphs">Tuvalu</text>
<text x="531.8" y="675.2" font-size="3.75" fill="#EA4444" stroke="#EA4444" stroke-width="0.05" textLength="10.5" lengthAdjust="spacingAndGlyphs">Belize</text>
<line x1="662.2" y1="675.2" x2="615.0" y2="685.0" stroke="#A055C8" stroke-width="0.4"/>
<circle cx="615.0" cy="685.0" r="0.8" fill="#A055C8"/>
<text x="662.2" y="675.2" font-size="3.75" fill="#A055C8" stroke="#A055C8" stroke-width="0.05" textLength="19.3" lengthAdjust="spacingAndGlyphs">Luxembourg</text>
<text x="572.0" y="677.5" font-size="3.75" fill="#2EA4E4" stroke="#2EA4E4" stroke-width="0.05" textLength="10.5" lengthAdjust="spacingAndGlyphs">Uganda</text>
<text x="429.2" y="678.1" font-size="3.75" fill="#D6449C" stroke="#D6449C" stroke-width="0.05" textLength="26.3" lengthAdjust="spacingAndGlyphs">Solomon Islands</text>
<text x="557.2" y="678.7" font-size="3.75" fill="#2EA4E4" stroke="#2EA4E4" stroke-width="0.05" textLength="7.9" lengthAdjust="spacingAndGlyphs">Niue</text>
<text x="468.6" y="681.3" font-size="3.75" fill="#D6449C" stroke="#D6449C" stroke-width="0.05" textLength="11.4" lengthAdjust="spacingAndGlyphs">Kiribati</text>
<text x="467.9" y="681.5" font-size="3.75" fill="#D6449C" stroke="#D6449C" stroke-width="0.05" textLength="14.9" lengthAdjust="spacingAndGlyphs">Indonesia</text>
<text x="489.8" y="681.5" font-size="3.75" fill="#6058D4" stroke="#6058D4" stroke-width="0.05" textLength="14.9" lengthAdjust="spacingAndGlyphs">Palestine</text>
<text x="505.6" y="681.5" font-size="3.75" fill="#EA4444" stroke="#EA4444" stroke-width="0.05" textLength="13.1" lengthAdjust="spacingAndGlyphs">Pakistan</text>
<text x="520.4" y="681.5" font-size="3.75" fill="#A055C8" stroke="#A055C8" stroke-width="0.05" textLength="9.7" lengthAdjust="spacingAndGlyphs">Tokelau</text>
<text x="541.5" y="681.5" font-size="3.75" fill="#EA4444" stroke="#EA4444" stroke-width="0.05" textLength="9.6" lengthAdjust="spacingAndGlyphs">Egypt</text>
<line x1="663.1" y1="681.5" x2="618.0" y2="684.0" stroke="#D6449C" stroke-width="0.4"/>
<circle cx="618.0" cy="684.0" r="0.8" fill="#D6449C"/>
<text x="663.1" y="681.5" font-size="3.75" fill="#D6449C" stroke="#D6449C" stroke-width="0.05" textLength="18.4" lengthAdjust="spacingAndGlyphs">Switzerland</text>
<text x="645.6" y="681.5" font-size="3.75" fill="#2EA4E4" stroke="#2EA4E4" stroke-width="0.05" textLength="11.4" lengthAdjust="spacingAndGlyphs">Norway</text>
<text x="579.0" y="683.7" font-size="3.75" fill="#A055C8" stroke="#A055C8" stroke-width="0.05" textLength="19.3" lengthAdjust="spacingAndGlyphs">Saudi Arabia</text>
<text x="432.7" y="684.6" font-size="3.75" fill="#6058D4" stroke="#6058D4" stroke-width="0.05" textLength="30.7" lengthAdjust="spacingAndGlyphs">Papua New Guinea</text>
<line x1="653.5" y1="685.0" x2="618.0" y2="685.0" stroke="#B0A12C" stroke-width="0.4"/>
<circle cx="618.0" cy="685.0" r="0.8" fill="#B0A12C"/>
<text x="653.5" y="687.2" font-size="3.75" fill="#B0A12C" stroke="#B0A12C" stroke-width="0.05" textLength="12.2" lengthAdjust="spacingAndGlyphs">Canada</text>
<text x="473.1" y="687.5" font-size="3.75" fill="#B0A12C" stroke="#B0A12C" stroke-width="0.05" textLength="14.1" lengthAdjust="spacingAndGlyphs">Cabo Verde</text>
<text x="494.2" y="687.5" font-size="3.75" fill="#1FAE82" stroke="#1FAE82" stroke-width="0.05" textLength="14.0" lengthAdjust="spacingAndGlyphs">Bangladesh</text>
<text x="512.6" y="687.5" font-size="3.75" fill="#2DAF63" stroke="#2DAF63" stroke-width="0.05" textLength="8.7" lengthAdjust="spacingAndGlyphs">Tuvalu</text>
<text x="532.7" y="687.5" font-size="3.75" fill="#D99224" stroke="#D99224" stroke-width="0.05" textLength="14.9" lengthAdjust="spacingAndGlyphs">Sri Lanka</text>
<line x1="466.0" y1="688.3" x2="470.0" y2="687.0" stroke="#B0A12C" stroke-width="0.4"/>
<circle cx="470.0" cy="687.0" r="0.8" fill="#B0A12C"/>
<text x="405.2" y="690.9" font-size="3.75" fill="#B0A12C" stroke="#B0A12C" stroke-width="0.05" textLength="60.8" lengthAdjust="spacingAndGlyphs">Democratic People's Republic of Korea</text>
<text x="572.9" y="691.9" font-size="3.75" fill="#D6449C" stroke="#D6449C" stroke-width="0.05" textLength="10.5" lengthAdjust="spacingAndGlyphs">Albania</text>
<text x="591.3" y="693.0" font-size="3.75" fill="#2EA4E4" stroke="#2EA4E4" stroke-width="0.05" textLength="13.1" lengthAdjust="spacingAndGlyphs">Malaysia</text>
<text x="607.9" y="693.0" font-size="3.75" fill="#1FAE82" stroke="#1FAE82" stroke-width="0.05" textLength="9.7" lengthAdjust="spacingAndGlyphs">Kuwait</text>
<text x="622.8" y="693.0" font-size="3.75" fill="#B0A12C" stroke="#B0A12C" stroke-width="0.05" textLength="12.3" lengthAdjust="spacingAndGlyphs">Lesotho</text>
<line x1="642.1" y1="690.4" x2="620.0" y2="686.0" stroke="#A055C8" stroke-width="0.4"/>
<circle cx="620.0" cy="686.0" r="0.8" fill="#A055C8"/>
<text x="642.1" y="693.0" font-size="3.75" fill="#A055C8" stroke="#A055C8" stroke-width="0.05" textLength="18.4" lengthAdjust="spacingAndGlyphs">South Sudan</text>
<line x1="660.5" y1="690.4" x2="620.0" y2="686.0" stroke="#D6449C" stroke-width="0.4"/>
<circle cx="620.0" cy="686.0" r="0.8" fill="#D6449C"/>
<text x="660.5" y="693.0" font-size="3.75" fill="#D6449C" stroke="#D6449C" stroke-width="0.05" textLength="21.0" lengthAdjust="spacingAndGlyphs">Turkmenistan</text>
<text x="469.6" y="693.8" font-size="3.75" fill="#EA4444" stroke="#EA4444" stroke-width="0.05" textLength="11.4" lengthAdjust="spacingAndGlyphs">Algeria</text>
<text x="482.8" y="693.2" font-size="3.75" fill="#D6449C" stroke="#D6449C" stroke-width="0.05" textLength="15.7" lengthAdjust="spacingAndGlyphs">Indonesia</text>
<text x="503.8" y="693.2" font-size="3.75" fill="#EA4444" stroke="#EA4444" stroke-width="0.05" textLength="16.6" lengthAdjust="spacingAndGlyphs">Kazakhstan</text>
<text x="524.8" y="693.2" font-size="3.75" fill="#B0A12C" stroke="#B0A12C" stroke-width="0.05" textLength="21.0" lengthAdjust="spacingAndGlyphs">South Africa</text>
<text x="565.0" y="698.3" font-size="3.75" fill="#1EB2D2" stroke="#1EB2D2" stroke-width="0.05" textLength="7.9" lengthAdjust="spacingAndGlyphs">Malta</text>
<text x="575.5" y="698.6" font-size="3.75" fill="#2EA4E4" stroke="#2EA4E4" stroke-width="0.05" textLength="9.6" lengthAdjust="spacingAndGlyphs">Jordan</text>
<text x="599.2" y="698.6" font-size="3.75" fill="#2EA4E4" stroke="#2EA4E4" stroke-width="0.05" textLength="8.7" lengthAdjust="spacingAndGlyphs">Qatar</text>
<text x="617.6" y="698.6" font-size="3.75" fill="#D6449C" stroke="#D6449C" stroke-width="0.05" textLength="9.6" lengthAdjust="spacingAndGlyphs">Malta</text>
<text x="633.3" y="698.6" font-size="3.75" fill="#EA4444" stroke="#EA4444" stroke-width="0.05" textLength="9.7" lengthAdjust="spacingAndGlyphs">Andorra</text>
<line x1="656.1" y1="696.0" x2="622.0" y2="688.0" stroke="#1FAE82" stroke-width="0.4"/>
<circle cx="622.0" cy="688.0" r="0.8" fill="#1FAE82"/>
<text x="656.1" y="698.6" font-size="3.75" fill="#1FAE82" stroke="#1FAE82" stroke-width="0.05" textLength="10.5" lengthAdjust="spacingAndGlyphs">Iceland</text>
<line x1="668.4" y1="696.0" x2="622.0" y2="688.0" stroke="#2EA4E4" stroke-width="0.4"/>
<circle cx="622.0" cy="688.0" r="0.8" fill="#2EA4E4"/>
<text x="668.4" y="698.6" font-size="3.75" fill="#2EA4E4" stroke="#2EA4E4" stroke-width="0.05" textLength="13.1" lengthAdjust="spacingAndGlyphs">Suriname</text>
<text x="497.7" y="698.5" font-size="3.75" fill="#D6449C" stroke="#D6449C" stroke-width="0.05" textLength="9.6" lengthAdjust="spacingAndGlyphs">Angola</text>
<text x="514.3" y="698.5" font-size="3.75" fill="#D99224" stroke="#D99224" stroke-width="0.05" textLength="8.8" lengthAdjust="spacingAndGlyphs">Nauru</text>
<text x="534.5" y="698.5" font-size="3.75" fill="#D6449C" stroke="#D6449C" stroke-width="0.05" textLength="11.3" lengthAdjust="spacingAndGlyphs">Sri Lanka</text>
<text x="559.9" y="698.5" font-size="3.75" fill="#1FAE82" stroke="#1FAE82" stroke-width="0.05" textLength="10.5" lengthAdjust="spacingAndGlyphs">Lebanon</text>
<text x="565.0" y="703.9" font-size="3.75" fill="#2EA4E4" stroke="#2EA4E4" stroke-width="0.05" textLength="22.8" lengthAdjust="spacingAndGlyphs">United Kingdom</text>
<text x="586.9" y="703.9" font-size="3.75" fill="#2DAF63" stroke="#2DAF63" stroke-width="0.05" textLength="12.3" lengthAdjust="spacingAndGlyphs">Grenada</text>
<text x="609.7" y="704.2" font-size="3.75" fill="#2EA4E4" stroke="#2EA4E4" stroke-width="0.05" textLength="7.0" lengthAdjust="spacingAndGlyphs">Italy</text>
<text x="624.6" y="704.2" font-size="3.75" fill="#D6449C" stroke="#D6449C" stroke-width="0.05" textLength="15.7" lengthAdjust="spacingAndGlyphs">Singapore</text>
<line x1="649.1" y1="701.6" x2="624.0" y2="689.0" stroke="#1EB2D2" stroke-width="0.4"/>
<circle cx="624.0" cy="689.0" r="0.8" fill="#1EB2D2"/>
<text x="649.1" y="704.2" font-size="3.75" fill="#1EB2D2" stroke="#1EB2D2" stroke-width="0.05" textLength="10.5" lengthAdjust="spacingAndGlyphs">Israel</text>
<text x="495.0" y="704.6" font-size="3.75" fill="#2EA4E4" stroke="#2EA4E4" stroke-width="0.05" textLength="10.5" lengthAdjust="spacingAndGlyphs">Maldives</text>
<text x="509.9" y="704.6" font-size="3.75" fill="#2EA4E4" stroke="#2EA4E4" stroke-width="0.05" textLength="7.0" lengthAdjust="spacingAndGlyphs">Fiji</text>
<text x="528.3" y="703.7" font-size="3.75" fill="#2DAF63" stroke="#2DAF63" stroke-width="0.05" textLength="9.7" lengthAdjust="spacingAndGlyphs">Georgia</text>
<text x="547.6" y="703.7" font-size="3.75" fill="#A055C8" stroke="#A055C8" stroke-width="0.05" textLength="32.4" lengthAdjust="spacingAndGlyphs">Kyrgyzstan and Moldova</text>
<text x="521.3" y="709.9" font-size="3.75" fill="#1EB2D2" stroke="#1EB2D2" stroke-width="0.05" textLength="8.8" lengthAdjust="spacingAndGlyphs">Jordan</text>
<text x="534.5" y="709.9" font-size="3.75" fill="#2EA4E4" stroke="#2EA4E4" stroke-width="0.05" textLength="32.4" lengthAdjust="spacingAndGlyphs">Mauritius North Macedonia</text>
<text x="574.6" y="710.0" font-size="3.75" fill="#B0A12C" stroke="#B0A12C" stroke-width="0.05" textLength="20.2" lengthAdjust="spacingAndGlyphs">Cook Islands</text>
<text x="598.3" y="710.0" font-size="3.75" fill="#2DAF63" stroke="#2DAF63" stroke-width="0.05" textLength="9.6" lengthAdjust="spacingAndGlyphs">Mexico</text>
<text x="617.6" y="710.0" font-size="3.75" fill="#B0A12C" stroke="#B0A12C" stroke-width="0.05" textLength="10.5" lengthAdjust="spacingAndGlyphs">Cyprus</text>
<text x="635.1" y="710.0" font-size="3.75" fill="#2DAF63" stroke="#2DAF63" stroke-width="0.05" textLength="11.4" lengthAdjust="spacingAndGlyphs">Panama</text>
<path d="M383.7,845.0 C387.1,846.2 397.5,849.8 403.8,852.0 C410.1,854.2 415.5,856.4 421.3,858.2 C427.1,860.0 433.0,861.4 438.8,862.6 C444.6,863.8 451.2,864.4 456.4,865.2 C461.6,866.0 463.4,866.6 470.0,867.4 C476.6,868.2 487.5,868.4 496.3,870.1 C505.1,871.8 513.9,873.5 522.6,877.5 C531.4,881.5 541.7,889.6 548.8,894.4 C555.9,899.1 559.4,903.0 565.0,906.0 C570.6,909.0 576.7,911.1 582.5,912.6 C588.3,914.1 594.1,915.0 600.0,915.3 C605.9,915.6 610.4,915.3 617.6,914.4 C624.8,913.5 638.8,910.7 643.0,910.0 L643.0,943.3 C638.8,942.1 624.8,938.2 617.6,936.3 C610.4,934.4 605.9,933.9 600.0,931.9 C594.1,929.9 588.3,926.8 582.5,924.0 C576.7,921.2 570.6,918.5 565.0,915.3 C559.4,912.1 555.9,908.7 548.8,904.9 C541.7,901.1 531.4,895.8 522.6,892.6 C513.9,889.4 505.1,888.0 496.3,885.8 C487.5,883.6 476.6,881.0 470.0,879.5 C463.4,878.0 461.6,877.0 456.4,876.6 C451.2,876.2 444.6,877.0 438.8,877.4 C433.0,877.8 427.1,878.2 421.3,879.2 C415.5,880.2 410.1,881.9 403.8,883.6 C397.5,885.4 387.1,888.7 383.7,889.7 Z" fill="#d6d6d6" stroke="none"/>
<path d="M383.7,867.8 C387.1,867.9 397.5,868.4 403.8,868.7 C410.1,869.0 415.5,869.2 421.3,869.6 C427.1,870.0 433.0,870.7 438.8,871.3 C444.6,871.9 451.2,872.6 456.4,873.1 C461.6,873.6 464.8,873.8 470.0,874.5 C475.2,875.2 481.7,875.9 487.5,877.1 C493.3,878.3 499.1,879.8 505.0,881.5 C510.9,883.2 516.8,885.2 522.6,887.5 C528.5,889.8 534.3,892.4 540.1,895.3 C545.9,898.2 553.5,902.4 557.6,904.9 C561.8,907.4 560.9,908.0 565.0,910.0 C569.1,912.0 576.7,915.0 582.5,917.0 C588.3,919.0 594.1,920.6 600.0,922.0 C605.9,923.4 610.4,924.5 617.6,925.2 C624.8,925.9 638.8,926.0 643.0,926.1" fill="none" stroke="#687a90" stroke-width="2.50" stroke-linecap="round"/>
<line x1="353.7" y1="727.6" x2="353.7" y2="955.0" stroke="#3a3a3a" stroke-width="1.50"/>
<line x1="353.0" y1="954.3" x2="683.0" y2="954.3" stroke="#3a3a3a" stroke-width="1.50"/>
<line x1="351.7" y1="734.8" x2="353.7" y2="734.8" stroke="#444" stroke-width="0.50"/>
<text x="350.7" y="736.0" font-size="3.50" fill="#444" text-anchor="end" font-weight="normal" stroke="#444" stroke-width="0.1">8</text>
<line x1="351.7" y1="785.7" x2="353.7" y2="785.7" stroke="#444" stroke-width="0.50"/>
<text x="350.7" y="786.9" font-size="3.50" fill="#444" text-anchor="end" font-weight="normal" stroke="#444" stroke-width="0.1">6</text>
<line x1="351.7" y1="837.1" x2="353.7" y2="837.1" stroke="#444" stroke-width="0.50"/>
<text x="350.7" y="838.3" font-size="3.50" fill="#444" text-anchor="end" font-weight="normal" stroke="#444" stroke-width="0.1">4</text>
<line x1="351.7" y1="888.1" x2="353.7" y2="888.1" stroke="#444" stroke-width="0.50"/>
<text x="350.7" y="889.3" font-size="3.50" fill="#444" text-anchor="end" font-weight="normal" stroke="#444" stroke-width="0.1">2</text>
<line x1="351.7" y1="939.5" x2="353.7" y2="939.5" stroke="#444" stroke-width="0.50"/>
<text x="350.7" y="940.7" font-size="3.50" fill="#444" text-anchor="end" font-weight="normal" stroke="#444" stroke-width="0.1">0</text>
<line x1="368.1" y1="954.3" x2="368.1" y2="956.3" stroke="#444" stroke-width="0.50"/>
<text x="368.1" y="959.3" font-size="3.50" fill="#444" text-anchor="middle" font-weight="normal" stroke="#444" stroke-width="0.1">0.2</text>
<line x1="405.6" y1="954.3" x2="405.6" y2="956.3" stroke="#444" stroke-width="0.50"/>
<text x="405.6" y="959.3" font-size="3.50" fill="#444" text-anchor="middle" font-weight="normal" stroke="#444" stroke-width="0.1">0.3</text>
<line x1="443.1" y1="954.3" x2="443.1" y2="956.3" stroke="#444" stroke-width="0.50"/>
<text x="443.1" y="959.3" font-size="3.50" fill="#444" text-anchor="middle" font-weight="normal" stroke="#444" stroke-width="0.1">0.4</text>
<line x1="480.6" y1="954.3" x2="480.6" y2="956.3" stroke="#444" stroke-width="0.50"/>
<text x="480.6" y="959.3" font-size="3.50" fill="#444" text-anchor="middle" font-weight="normal" stroke="#444" stroke-width="0.1">0.5</text>
<line x1="518.1" y1="954.3" x2="518.1" y2="956.3" stroke="#444" stroke-width="0.50"/>
<text x="518.1" y="959.3" font-size="3.50" fill="#444" text-anchor="middle" font-weight="normal" stroke="#444" stroke-width="0.1">0.6</text>
<line x1="555.6" y1="954.3" x2="555.6" y2="956.3" stroke="#444" stroke-width="0.50"/>
<text x="555.6" y="959.3" font-size="3.50" fill="#444" text-anchor="middle" font-weight="normal" stroke="#444" stroke-width="0.1">0.7</text>
<line x1="593.1" y1="954.3" x2="593.1" y2="956.3" stroke="#444" stroke-width="0.50"/>
<text x="593.1" y="959.3" font-size="3.50" fill="#444" text-anchor="middle" font-weight="normal" stroke="#444" stroke-width="0.1">0.8</text>
<line x1="630.6" y1="954.3" x2="630.6" y2="956.3" stroke="#444" stroke-width="0.50"/>
<text x="630.6" y="959.3" font-size="3.50" fill="#444" text-anchor="middle" font-weight="normal" stroke="#444" stroke-width="0.1">0.9</text>
<line x1="668.1" y1="954.3" x2="668.1" y2="956.3" stroke="#444" stroke-width="0.50"/>
<text x="668.1" y="959.3" font-size="3.50" fill="#444" text-anchor="middle" font-weight="normal" stroke="#444" stroke-width="0.1">1.0</text>
<text x="518.4" y="964.8" font-size="5.00" fill="#222" text-anchor="middle" font-weight="normal" stroke="#222" stroke-width="0.15">SDI</text>
<text x="348.0" y="837.8" font-size="3.9" fill="#1a1a1a" stroke="#1a1a1a" stroke-width="0.15" text-anchor="middle" transform="rotate(-90 348.0 837.8)" textLength="67.5" lengthAdjust="spacingAndGlyphs">Deaths Rate per 100,000 population</text>
<text x="336.7" y="739.2" font-size="19.20" fill="#000" text-anchor="start" font-weight="normal">H</text>
<line x1="454.6" y1="880.2" x2="485.0" y2="873.9" stroke="#A055C8" stroke-width="0.4"/>
<circle cx="485.0" cy="873.9" r="0.8" fill="#A055C8"/>
<line x1="470.4" y1="884.0" x2="534.7" y2="891.6" stroke="#D99224" stroke-width="0.4"/>
<circle cx="534.7" cy="891.6" r="0.8" fill="#D99224"/>
<line x1="519.9" y1="884.3" x2="575.2" y2="913.9" stroke="#D99224" stroke-width="0.4"/>
<circle cx="575.2" cy="913.9" r="0.8" fill="#D99224"/>
<line x1="483.1" y1="885.2" x2="503.7" y2="885.3" stroke="#1FAE82" stroke-width="0.4"/>
<circle cx="503.7" cy="885.3" r="0.8" fill="#1FAE82"/>
<line x1="496.3" y1="885.2" x2="517.7" y2="886.5" stroke="#D6449C" stroke-width="0.4"/>
<circle cx="517.7" cy="886.5" r="0.8" fill="#D6449C"/>
<line x1="480.0" y1="883.2" x2="513.6" y2="882.3" stroke="#1EB2D2" stroke-width="0.4"/>
<circle cx="513.6" cy="882.3" r="0.8" fill="#1EB2D2"/>
<line x1="547.1" y1="886.1" x2="565.7" y2="912.8" stroke="#2DAF63" stroke-width="0.4"/>
<circle cx="565.7" cy="912.8" r="0.8" fill="#2DAF63"/>
<line x1="588.7" y1="886.8" x2="621.1" y2="927.1" stroke="#D99224" stroke-width="0.4"/>
<circle cx="621.1" cy="927.1" r="0.8" fill="#D99224"/>
<line x1="607.0" y1="886.8" x2="626.0" y2="925.7" stroke="#2DAF63" stroke-width="0.4"/>
<circle cx="626.0" cy="925.7" r="0.8" fill="#2DAF63"/>
<line x1="564.6" y1="887.1" x2="595.1" y2="924.4" stroke="#D6449C" stroke-width="0.4"/>
<circle cx="595.1" cy="924.4" r="0.8" fill="#D6449C"/>
<line x1="463.4" y1="887.8" x2="513.0" y2="889.0" stroke="#EA4444" stroke-width="0.4"/>
<circle cx="513.0" cy="889.0" r="0.8" fill="#EA4444"/>
<line x1="517.3" y1="888.4" x2="518.5" y2="885.1" stroke="#1EB2D2" stroke-width="0.4"/>
<circle cx="518.5" cy="885.1" r="0.8" fill="#1EB2D2"/>
<line x1="582.5" y1="892.5" x2="607.1" y2="926.4" stroke="#D99224" stroke-width="0.4"/>
<circle cx="607.1" cy="926.4" r="0.8" fill="#D99224"/>
<line x1="619.3" y1="892.5" x2="626.0" y2="929.0" stroke="#6058D4" stroke-width="0.4"/>
<circle cx="626.0" cy="929.0" r="0.8" fill="#6058D4"/>
<line x1="559.3" y1="893.1" x2="621.8" y2="929.2" stroke="#2DAF63" stroke-width="0.4"/>
<circle cx="621.8" cy="929.2" r="0.8" fill="#2DAF63"/>
<line x1="432.7" y1="891.0" x2="485.0" y2="881.7" stroke="#1FAE82" stroke-width="0.4"/>
<circle cx="485.0" cy="881.7" r="0.8" fill="#1FAE82"/>
<line x1="447.6" y1="890.1" x2="496.9" y2="883.9" stroke="#D99224" stroke-width="0.4"/>
<circle cx="496.9" cy="883.9" r="0.8" fill="#D99224"/>
<line x1="512.0" y1="893.1" x2="512.0" y2="888.0" stroke="#6058D4" stroke-width="0.4"/>
<circle cx="512.0" cy="888.0" r="0.8" fill="#6058D4"/>
<line x1="480.0" y1="894.1" x2="513.3" y2="884.2" stroke="#D6449C" stroke-width="0.4"/>
<circle cx="513.3" cy="884.2" r="0.8" fill="#D6449C"/>
<line x1="618.4" y1="897.7" x2="613.1" y2="928.4" stroke="#A055C8" stroke-width="0.4"/>
<circle cx="613.1" cy="928.4" r="0.8" fill="#A055C8"/>
<line x1="588.7" y1="898.2" x2="597.5" y2="920.5" stroke="#B0A12C" stroke-width="0.4"/>
<circle cx="597.5" cy="920.5" r="0.8" fill="#B0A12C"/>
<line x1="604.4" y1="898.2" x2="626.0" y2="922.7" stroke="#A055C8" stroke-width="0.4"/>
<circle cx="626.0" cy="922.7" r="0.8" fill="#A055C8"/>
<line x1="444.1" y1="895.4" x2="485.0" y2="874.6" stroke="#D99224" stroke-width="0.4"/>
<circle cx="485.0" cy="874.6" r="0.8" fill="#D99224"/>
<line x1="602.7" y1="904.0" x2="626.0" y2="925.2" stroke="#A055C8" stroke-width="0.4"/>
<circle cx="626.0" cy="925.2" r="0.8" fill="#A055C8"/>
<line x1="612.3" y1="903.5" x2="626.0" y2="923.1" stroke="#D6449C" stroke-width="0.4"/>
<circle cx="626.0" cy="923.1" r="0.8" fill="#D6449C"/>
<line x1="620.0" y1="903.5" x2="620.0" y2="924.0" stroke="#A055C8" stroke-width="0.4"/>
<circle cx="620.0" cy="924.0" r="0.8" fill="#A055C8"/>
<line x1="470.4" y1="900.1" x2="489.5" y2="883.3" stroke="#B0A12C" stroke-width="0.4"/>
<circle cx="489.5" cy="883.3" r="0.8" fill="#B0A12C"/>
<line x1="494.5" y1="902.7" x2="551.2" y2="904.7" stroke="#1FAE82" stroke-width="0.4"/>
<circle cx="551.2" cy="904.7" r="0.8" fill="#1FAE82"/>
<line x1="517.3" y1="900.1" x2="553.8" y2="901.3" stroke="#2DAF63" stroke-width="0.4"/>
<circle cx="553.8" cy="901.3" r="0.8" fill="#2DAF63"/>
<line x1="528.7" y1="900.1" x2="547.6" y2="897.2" stroke="#2EA4E4" stroke-width="0.4"/>
<circle cx="547.6" cy="897.2" r="0.8" fill="#2EA4E4"/>
<line x1="564.6" y1="904.5" x2="611.8" y2="928.8" stroke="#2DAF63" stroke-width="0.4"/>
<circle cx="611.8" cy="928.8" r="0.8" fill="#2DAF63"/>
<line x1="459.0" y1="906.4" x2="485.0" y2="876.9" stroke="#2EA4E4" stroke-width="0.4"/>
<circle cx="485.0" cy="876.9" r="0.8" fill="#2EA4E4"/>
<line x1="480.0" y1="906.4" x2="495.5" y2="877.1" stroke="#2EA4E4" stroke-width="0.4"/>
<circle cx="495.5" cy="877.1" r="0.8" fill="#2EA4E4"/>
<line x1="494.5" y1="906.6" x2="540.3" y2="893.6" stroke="#D6449C" stroke-width="0.4"/>
<circle cx="540.3" cy="893.6" r="0.8" fill="#D6449C"/>
<line x1="531.0" y1="906.6" x2="531.0" y2="897.0" stroke="#EA4444" stroke-width="0.4"/>
<circle cx="531.0" cy="897.0" r="0.8" fill="#EA4444"/>
<line x1="557.6" y1="909.7" x2="603.2" y2="921.9" stroke="#A055C8" stroke-width="0.4"/>
<circle cx="603.2" cy="921.9" r="0.8" fill="#A055C8"/>
<line x1="615.8" y1="909.3" x2="626.0" y2="931.3" stroke="#2DAF63" stroke-width="0.4"/>
<circle cx="626.0" cy="931.3" r="0.8" fill="#2DAF63"/>
<line x1="620.4" y1="909.6" x2="620.4" y2="926.0" stroke="#2EA4E4" stroke-width="0.4"/>
<circle cx="620.4" cy="926.0" r="0.8" fill="#2EA4E4"/>
<line x1="634.2" y1="909.6" x2="604.6" y2="922.1" stroke="#EA4444" stroke-width="0.4"/>
<circle cx="604.6" cy="922.1" r="0.8" fill="#EA4444"/>
<line x1="589.5" y1="910.5" x2="626.0" y2="929.3" stroke="#B0A12C" stroke-width="0.4"/>
<circle cx="626.0" cy="929.3" r="0.8" fill="#B0A12C"/>
<line x1="575.5" y1="910.5" x2="614.3" y2="925.9" stroke="#1EB2D2" stroke-width="0.4"/>
<circle cx="614.3" cy="925.9" r="0.8" fill="#1EB2D2"/>
<line x1="480.0" y1="912.0" x2="535.0" y2="890.6" stroke="#2EA4E4" stroke-width="0.4"/>
<circle cx="535.0" cy="890.6" r="0.8" fill="#2EA4E4"/>
<line x1="480.5" y1="912.4" x2="526.7" y2="891.2" stroke="#D6449C" stroke-width="0.4"/>
<circle cx="526.7" cy="891.2" r="0.8" fill="#D6449C"/>
<line x1="494.5" y1="912.4" x2="516.7" y2="890.6" stroke="#2EA4E4" stroke-width="0.4"/>
<circle cx="516.7" cy="890.6" r="0.8" fill="#2EA4E4"/>
<line x1="527.7" y1="912.4" x2="527.7" y2="893.3" stroke="#A055C8" stroke-width="0.4"/>
<circle cx="527.7" cy="893.3" r="0.8" fill="#A055C8"/>
<line x1="547.1" y1="915.0" x2="609.1" y2="923.9" stroke="#EA4444" stroke-width="0.4"/>
<circle cx="609.1" cy="923.9" r="0.8" fill="#EA4444"/>
<line x1="571.6" y1="915.8" x2="594.1" y2="919.8" stroke="#D6449C" stroke-width="0.4"/>
<circle cx="594.1" cy="919.8" r="0.8" fill="#D6449C"/>
<line x1="595.7" y1="915.8" x2="610.9" y2="924.2" stroke="#A055C8" stroke-width="0.4"/>
<circle cx="610.9" cy="924.2" r="0.8" fill="#A055C8"/>
<line x1="601.8" y1="914.9" x2="626.0" y2="928.1" stroke="#2DAF63" stroke-width="0.4"/>
<circle cx="626.0" cy="928.1" r="0.8" fill="#2DAF63"/>
<line x1="626.3" y1="915.8" x2="601.1" y2="926.6" stroke="#2DAF63" stroke-width="0.4"/>
<circle cx="601.1" cy="926.6" r="0.8" fill="#2DAF63"/>
<line x1="637.7" y1="915.8" x2="603.7" y2="922.3" stroke="#A055C8" stroke-width="0.4"/>
<circle cx="603.7" cy="922.3" r="0.8" fill="#A055C8"/>
<line x1="653.5" y1="915.8" x2="604.4" y2="921.1" stroke="#2DAF63" stroke-width="0.4"/>
<circle cx="604.4" cy="921.1" r="0.8" fill="#2DAF63"/>
<line x1="445.8" y1="916.4" x2="488.6" y2="879.5" stroke="#D6449C" stroke-width="0.4"/>
<circle cx="488.6" cy="879.5" r="0.8" fill="#D6449C"/>
<line x1="492.8" y1="918.1" x2="541.2" y2="896.5" stroke="#B0A12C" stroke-width="0.4"/>
<circle cx="541.2" cy="896.5" r="0.8" fill="#B0A12C"/>
<line x1="480.0" y1="918.7" x2="521.0" y2="890.8" stroke="#B0A12C" stroke-width="0.4"/>
<circle cx="521.0" cy="890.8" r="0.8" fill="#B0A12C"/>
<line x1="522.6" y1="918.8" x2="575.8" y2="914.9" stroke="#EA4444" stroke-width="0.4"/>
<circle cx="575.8" cy="914.9" r="0.8" fill="#EA4444"/>
<line x1="535.7" y1="918.8" x2="557.5" y2="909.6" stroke="#EA4444" stroke-width="0.4"/>
<circle cx="557.5" cy="909.6" r="0.8" fill="#EA4444"/>
<line x1="552.3" y1="918.8" x2="560.7" y2="907.3" stroke="#2DAF63" stroke-width="0.4"/>
<circle cx="560.7" cy="907.3" r="0.8" fill="#2DAF63"/>
<line x1="621.1" y1="921.5" x2="626.0" y2="930.1" stroke="#2DAF63" stroke-width="0.4"/>
<circle cx="626.0" cy="930.1" r="0.8" fill="#2DAF63"/>
<line x1="635.1" y1="921.5" x2="607.9" y2="927.1" stroke="#A055C8" stroke-width="0.4"/>
<circle cx="607.9" cy="927.1" r="0.8" fill="#A055C8"/>
<line x1="568.1" y1="922.0" x2="594.8" y2="921.5" stroke="#1EB2D2" stroke-width="0.4"/>
<circle cx="594.8" cy="921.5" r="0.8" fill="#1EB2D2"/>
<line x1="486.6" y1="924.1" x2="493.7" y2="878.0" stroke="#D99224" stroke-width="0.4"/>
<circle cx="493.7" cy="878.0" r="0.8" fill="#D99224"/>
<line x1="453.7" y1="924.3" x2="489.4" y2="880.2" stroke="#6058D4" stroke-width="0.4"/>
<circle cx="489.4" cy="880.2" r="0.8" fill="#6058D4"/>
<line x1="472.1" y1="924.6" x2="528.2" y2="888.5" stroke="#D6449C" stroke-width="0.4"/>
<circle cx="528.2" cy="888.5" r="0.8" fill="#D6449C"/>
<line x1="547.1" y1="924.6" x2="558.8" y2="905.8" stroke="#EA4444" stroke-width="0.4"/>
<circle cx="558.8" cy="905.8" r="0.8" fill="#EA4444"/>
<line x1="555.8" y1="926.4" x2="613.1" y2="925.9" stroke="#D99224" stroke-width="0.4"/>
<circle cx="613.1" cy="925.9" r="0.8" fill="#D99224"/>
<line x1="476.5" y1="930.4" x2="491.0" y2="875.3" stroke="#B0A12C" stroke-width="0.4"/>
<circle cx="491.0" cy="875.3" r="0.8" fill="#B0A12C"/>
<line x1="477.0" y1="930.8" x2="523.4" y2="887.9" stroke="#B0A12C" stroke-width="0.4"/>
<circle cx="523.4" cy="887.9" r="0.8" fill="#B0A12C"/>
<line x1="496.3" y1="930.8" x2="506.5" y2="886.9" stroke="#2DAF63" stroke-width="0.4"/>
<circle cx="506.5" cy="886.9" r="0.8" fill="#2DAF63"/>
<line x1="509.4" y1="930.8" x2="525.1" y2="889.5" stroke="#EA4444" stroke-width="0.4"/>
<circle cx="525.1" cy="889.5" r="0.8" fill="#EA4444"/>
<line x1="533.1" y1="930.8" x2="568.4" y2="915.4" stroke="#EA4444" stroke-width="0.4"/>
<circle cx="568.4" cy="915.4" r="0.8" fill="#EA4444"/>
<line x1="550.6" y1="930.8" x2="605.3" y2="922.5" stroke="#A055C8" stroke-width="0.4"/>
<circle cx="605.3" cy="922.5" r="0.8" fill="#A055C8"/>
<line x1="555.0" y1="931.6" x2="579.0" y2="913.7" stroke="#1EB2D2" stroke-width="0.4"/>
<circle cx="579.0" cy="913.7" r="0.8" fill="#1EB2D2"/>
<line x1="605.3" y1="934.1" x2="626.0" y2="924.2" stroke="#B0A12C" stroke-width="0.4"/>
<circle cx="626.0" cy="924.2" r="0.8" fill="#B0A12C"/>
<line x1="480.0" y1="936.2" x2="541.5" y2="900.3" stroke="#2DAF63" stroke-width="0.4"/>
<circle cx="541.5" cy="900.3" r="0.8" fill="#2DAF63"/>
<line x1="484.9" y1="936.4" x2="541.9" y2="896.4" stroke="#B0A12C" stroke-width="0.4"/>
<circle cx="541.9" cy="896.4" r="0.8" fill="#B0A12C"/>
<line x1="518.2" y1="936.4" x2="559.3" y2="908.0" stroke="#D99224" stroke-width="0.4"/>
<circle cx="559.3" cy="908.0" r="0.8" fill="#D99224"/>
<line x1="532.2" y1="936.4" x2="564.3" y2="910.7" stroke="#D6449C" stroke-width="0.4"/>
<circle cx="564.3" cy="910.7" r="0.8" fill="#D6449C"/>
<line x1="552.3" y1="936.4" x2="612.5" y2="924.8" stroke="#1EB2D2" stroke-width="0.4"/>
<circle cx="612.5" cy="924.8" r="0.8" fill="#1EB2D2"/>
<line x1="582.1" y1="936.4" x2="626.0" y2="928.0" stroke="#B0A12C" stroke-width="0.4"/>
<circle cx="626.0" cy="928.0" r="0.8" fill="#B0A12C"/>
<line x1="621.1" y1="936.7" x2="626.0" y2="930.8" stroke="#2DAF63" stroke-width="0.4"/>
<circle cx="626.0" cy="930.8" r="0.8" fill="#2DAF63"/>
<line x1="579.0" y1="939.4" x2="590.9" y2="921.5" stroke="#B0A12C" stroke-width="0.4"/>
<circle cx="590.9" cy="921.5" r="0.8" fill="#B0A12C"/>
<line x1="595.7" y1="939.4" x2="623.9" y2="931.3" stroke="#2DAF63" stroke-width="0.4"/>
<circle cx="623.9" cy="931.3" r="0.8" fill="#2DAF63"/>
<line x1="582.1" y1="939.5" x2="619.8" y2="926.9" stroke="#B0A12C" stroke-width="0.4"/>
<circle cx="619.8" cy="926.9" r="0.8" fill="#B0A12C"/>
<line x1="526.9" y1="942.1" x2="558.4" y2="903.0" stroke="#2EA4E4" stroke-width="0.4"/>
<circle cx="558.4" cy="903.0" r="0.8" fill="#2EA4E4"/>
<line x1="550.6" y1="942.1" x2="602.8" y2="924.7" stroke="#2DAF63" stroke-width="0.4"/>
<circle cx="602.8" cy="924.7" r="0.8" fill="#2DAF63"/>
<line x1="607.0" y1="942.4" x2="626.0" y2="923.0" stroke="#2DAF63" stroke-width="0.4"/>
<circle cx="626.0" cy="923.0" r="0.8" fill="#2DAF63"/>
<line x1="625.4" y1="942.4" x2="626.0" y2="926.6" stroke="#D99224" stroke-width="0.4"/>
<circle cx="626.0" cy="926.6" r="0.8" fill="#D99224"/>
<line x1="629.8" y1="942.4" x2="600.6" y2="924.2" stroke="#1FAE82" stroke-width="0.4"/>
<circle cx="600.6" cy="924.2" r="0.8" fill="#1FAE82"/>
<line x1="640.3" y1="942.4" x2="603.2" y2="920.1" stroke="#1FAE82" stroke-width="0.4"/>
<circle cx="603.2" cy="920.1" r="0.8" fill="#1FAE82"/>
<line x1="565.5" y1="943.9" x2="626.0" y2="924.3" stroke="#2EA4E4" stroke-width="0.4"/>
<circle cx="626.0" cy="924.3" r="0.8" fill="#2EA4E4"/>
<line x1="584.8" y1="944.4" x2="599.3" y2="927.5" stroke="#2EA4E4" stroke-width="0.4"/>
<circle cx="599.3" cy="927.5" r="0.8" fill="#2EA4E4"/>
<line x1="594.8" y1="946.9" x2="626.0" y2="925.6" stroke="#1FAE82" stroke-width="0.4"/>
<circle cx="626.0" cy="925.6" r="0.8" fill="#1FAE82"/>
<line x1="607.9" y1="947.3" x2="621.2" y2="923.7" stroke="#1FAE82" stroke-width="0.4"/>
<circle cx="621.2" cy="923.7" r="0.8" fill="#1FAE82"/>
<line x1="626.0" y1="948.1" x2="626.0" y2="924.3" stroke="#A055C8" stroke-width="0.4"/>
<circle cx="626.0" cy="924.3" r="0.8" fill="#A055C8"/>
<line x1="544.5" y1="948.6" x2="546.7" y2="897.3" stroke="#2EA4E4" stroke-width="0.4"/>
<circle cx="546.7" cy="897.3" r="0.8" fill="#2EA4E4"/>
<line x1="560.2" y1="950.4" x2="620.5" y2="927.3" stroke="#EA4444" stroke-width="0.4"/>
<circle cx="620.5" cy="927.3" r="0.8" fill="#EA4444"/>
<line x1="576.0" y1="950.4" x2="599.1" y2="920.2" stroke="#2DAF63" stroke-width="0.4"/>
<circle cx="599.1" cy="920.2" r="0.8" fill="#2DAF63"/>
<circle cx="485.5" cy="738.1" r="0.8" fill="#2DAF63"/>
<text x="483.4" y="736.3" font-size="3.75" fill="#2DAF63" stroke="#2DAF63" stroke-width="0.05" textLength="14.4" lengthAdjust="spacingAndGlyphs">Honduras</text>
<circle cx="495.7" cy="762.3" r="0.8" fill="#2DAF63"/>
<text x="482.0" y="767.1" font-size="3.75" fill="#2DAF63" stroke="#2DAF63" stroke-width="0.05" textLength="17.9" lengthAdjust="spacingAndGlyphs">Guatemala</text>
<line x1="459.6" y1="789.0" x2="461.4" y2="786.7" stroke="#2DAF63" stroke-width="0.4"/>
<circle cx="461.4" cy="786.7" r="0.8" fill="#2DAF63"/>
<text x="453.1" y="791.6" font-size="3.75" fill="#2DAF63" stroke="#2DAF63" stroke-width="0.05" textLength="6.5" lengthAdjust="spacingAndGlyphs">Haiti</text>
<circle cx="542.1" cy="806.1" r="0.8" fill="#2EA4E4"/>
<text x="532.2" y="810.9" font-size="3.75" fill="#2EA4E4" stroke="#2EA4E4" stroke-width="0.05" textLength="10.5" lengthAdjust="spacingAndGlyphs">Mexico</text>
<circle cx="517.7" cy="816.1" r="0.8" fill="#D99224"/>
<text x="482.3" y="813.9" font-size="3.75" fill="#D99224" stroke="#D99224" stroke-width="0.05" textLength="46.4" lengthAdjust="spacingAndGlyphs">Bolivia (Plurinational State of)</text>
<circle cx="536.9" cy="819.8" r="0.8" fill="#2DAF63"/>
<text x="535.7" y="824.6" font-size="3.75" fill="#2DAF63" stroke="#2DAF63" stroke-width="0.05" textLength="12.3" lengthAdjust="spacingAndGlyphs">Guyana</text>
<circle cx="419.6" cy="827.5" r="0.8" fill="#EA4444"/>
<text x="415.7" y="825.3" font-size="3.75" fill="#EA4444" stroke="#EA4444" stroke-width="0.05" textLength="17.9" lengthAdjust="spacingAndGlyphs">Afghanistan</text>
<circle cx="505.0" cy="832.1" r="0.8" fill="#2DAF63"/>
<text x="495.4" y="829.9" font-size="3.75" fill="#2DAF63" stroke="#2DAF63" stroke-width="0.05" textLength="10.5" lengthAdjust="spacingAndGlyphs">Zambia</text>
<line x1="455.5" y1="836.7" x2="456.0" y2="838.9" stroke="#2EA4E4" stroke-width="0.4"/>
<circle cx="456.0" cy="838.9" r="0.8" fill="#2EA4E4"/>
<text x="446.2" y="836.7" font-size="3.75" fill="#2EA4E4" stroke="#2EA4E4" stroke-width="0.05" textLength="9.3" lengthAdjust="spacingAndGlyphs">Nepal</text>
<circle cx="482.3" cy="841.5" r="0.8" fill="#2EA4E4"/>
<text x="478.4" y="839.0" font-size="3.75" fill="#2EA4E4" stroke="#2EA4E4" stroke-width="0.05" textLength="13.5" lengthAdjust="spacingAndGlyphs">Pakistan</text>
<circle cx="516.4" cy="840.0" r="0.8" fill="#EA4444"/>
<text x="494.5" y="837.7" font-size="3.75" fill="#EA4444" stroke="#EA4444" stroke-width="0.05" textLength="54.3" lengthAdjust="spacingAndGlyphs">Venezuela (Bolivarian Republic of)</text>
<circle cx="409.1" cy="838.0" r="0.8" fill="#B0A12C"/>
<text x="375.4" y="842.8" font-size="3.75" fill="#B0A12C" stroke="#B0A12C" stroke-width="0.05" textLength="38.0" lengthAdjust="spacingAndGlyphs">Central African Republic</text>
<circle cx="531.3" cy="840.0" r="0.8" fill="#6058D4"/>
<text x="528.7" y="844.2" font-size="3.75" fill="#6058D4" stroke="#6058D4" stroke-width="0.05" textLength="14.9" lengthAdjust="spacingAndGlyphs">Paraguay</text>
<circle cx="445.0" cy="847.7" r="0.8" fill="#2DAF63"/>
<text x="445.0" y="846.0" font-size="3.75" fill="#2DAF63" stroke="#2DAF63" stroke-width="0.05" textLength="9.6" lengthAdjust="spacingAndGlyphs">Eritrea</text>
<circle cx="470.4" cy="842.4" r="0.8" fill="#D99224"/>
<text x="460.2" y="847.2" font-size="3.75" fill="#D99224" stroke="#D99224" stroke-width="0.05" textLength="10.5" lengthAdjust="spacingAndGlyphs">Bhutan</text>
<circle cx="415.7" cy="843.6" r="0.8" fill="#2EA4E4"/>
<text x="410.5" y="848.4" font-size="3.75" fill="#2EA4E4" stroke="#2EA4E4" stroke-width="0.05" textLength="19.6" lengthAdjust="spacingAndGlyphs">Mozambique</text>
<circle cx="504.7" cy="852.2" r="0.8" fill="#2DAF63"/>
<text x="490.7" y="850.0" font-size="3.75" fill="#2DAF63" stroke="#2DAF63" stroke-width="0.05" textLength="18.2" lengthAdjust="spacingAndGlyphs">El Salvador</text>
<circle cx="539.2" cy="856.1" r="0.8" fill="#B0A12C"/>
<text x="526.4" y="853.9" font-size="3.75" fill="#B0A12C" stroke="#B0A12C" stroke-width="0.05" textLength="15.4" lengthAdjust="spacingAndGlyphs">Colombia</text>
<circle cx="397.7" cy="857.7" r="0.8" fill="#D6449C"/>
<text x="392.4" y="855.6" font-size="3.75" fill="#D6449C" stroke="#D6449C" stroke-width="0.05" textLength="20.2" lengthAdjust="spacingAndGlyphs">South Sudan</text>
<circle cx="508.9" cy="854.0" r="0.8" fill="#2DAF63"/>
<text x="511.2" y="855.6" font-size="3.75" fill="#2DAF63" stroke="#2DAF63" stroke-width="0.05" textLength="7.9" lengthAdjust="spacingAndGlyphs">India</text>
<circle cx="575.0" cy="858.0" r="0.8" fill="#A055C8"/>
<text x="560.2" y="856.8" font-size="3.75" fill="#A055C8" stroke="#A055C8" stroke-width="0.05" textLength="32.8" lengthAdjust="spacingAndGlyphs">Saint Kitts and Nevis</text>
<line x1="544.5" y1="857.0" x2="543.6" y2="859.0" stroke="#B0A12C" stroke-width="0.4"/>
<circle cx="543.6" cy="859.0" r="0.8" fill="#B0A12C"/>
<text x="544.5" y="857.0" font-size="3.75" fill="#B0A12C" stroke="#B0A12C" stroke-width="0.05" textLength="8.7" lengthAdjust="spacingAndGlyphs">Ghana</text>
<line x1="465.4" y1="855.7" x2="465.4" y2="852.7" stroke="#D99224" stroke-width="0.4"/>
<circle cx="465.4" cy="852.7" r="0.8" fill="#D99224"/>
<text x="463.7" y="858.3" font-size="3.75" fill="#D99224" stroke="#D99224" stroke-width="0.05" textLength="19.4" lengthAdjust="spacingAndGlyphs">Bangladesh</text>
<line x1="492.8" y1="860.5" x2="489.3" y2="869.2" stroke="#2EA4E4" stroke-width="0.4"/>
<circle cx="489.3" cy="869.2" r="0.8" fill="#2EA4E4"/>
<text x="492.8" y="860.5" font-size="3.75" fill="#2EA4E4" stroke="#2EA4E4" stroke-width="0.05" textLength="15.7" lengthAdjust="spacingAndGlyphs">Nicaragua</text>
<circle cx="425.7" cy="857.0" r="0.8" fill="#2DAF63"/>
<text x="418.7" y="861.8" font-size="3.75" fill="#2DAF63" stroke="#2DAF63" stroke-width="0.05" textLength="23.6" lengthAdjust="spacingAndGlyphs">Guinea-Bissau</text>
<line x1="579.0" y1="862.7" x2="574.0" y2="866.0" stroke="#EA4444" stroke-width="0.4"/>
<circle cx="574.0" cy="866.0" r="0.8" fill="#EA4444"/>
<text x="579.0" y="862.7" font-size="3.75" fill="#EA4444" stroke="#EA4444" stroke-width="0.05" textLength="33.0" lengthAdjust="spacingAndGlyphs">Antigua and Barbuda</text>
<circle cx="552.1" cy="864.8" r="0.8" fill="#A055C8"/>
<text x="548.0" y="863.0" font-size="3.75" fill="#A055C8" stroke="#A055C8" stroke-width="0.05" textLength="12.2" lengthAdjust="spacingAndGlyphs">Ukraine</text>
<line x1="536.0" y1="863.5" x2="536.0" y2="867.0" stroke="#D99224" stroke-width="0.4"/>
<circle cx="536.0" cy="867.0" r="0.8" fill="#D99224"/>
<text x="529.9" y="863.5" font-size="3.75" fill="#D99224" stroke="#D99224" stroke-width="0.05" textLength="8.4" lengthAdjust="spacingAndGlyphs">Brazil</text>
<line x1="458.1" y1="863.0" x2="464.2" y2="863.0" stroke="#2DAF63" stroke-width="0.4"/>
<circle cx="464.2" cy="863.0" r="0.8" fill="#2DAF63"/>
<text x="445.8" y="864.7" font-size="3.75" fill="#2DAF63" stroke="#2DAF63" stroke-width="0.05" textLength="12.3" lengthAdjust="spacingAndGlyphs">Cambodia</text>
<line x1="472.6" y1="865.0" x2="468.7" y2="865.0" stroke="#B0A12C" stroke-width="0.4"/>
<circle cx="468.7" cy="865.0" r="0.8" fill="#B0A12C"/>
<text x="472.6" y="865.2" font-size="3.75" fill="#B0A12C" stroke="#B0A12C" stroke-width="0.05" textLength="16.7" lengthAdjust="spacingAndGlyphs">Mauritania</text>
<line x1="391.5" y1="864.8" x2="399.0" y2="864.7" stroke="#1EB2D2" stroke-width="0.4"/>
<circle cx="399.0" cy="864.7" r="0.8" fill="#1EB2D2"/>
<text x="385.9" y="867.4" font-size="3.75" fill="#1EB2D2" stroke="#1EB2D2" stroke-width="0.05" textLength="5.6" lengthAdjust="spacingAndGlyphs">Mali</text>
<line x1="577.3" y1="868.5" x2="575.0" y2="873.0" stroke="#2DAF63" stroke-width="0.4"/>
<circle cx="575.0" cy="873.0" r="0.8" fill="#2DAF63"/>
<text x="577.3" y="868.5" font-size="3.75" fill="#2DAF63" stroke="#2DAF63" stroke-width="0.05" textLength="14.0" lengthAdjust="spacingAndGlyphs">Dominica</text>
<circle cx="548.7" cy="870.4" r="0.8" fill="#2DAF63"/>
<text x="541.8" y="868.7" font-size="3.75" fill="#2DAF63" stroke="#2DAF63" stroke-width="0.05" textLength="10.5" lengthAdjust="spacingAndGlyphs">Ecuador</text>
<line x1="522.2" y1="869.3" x2="519.0" y2="870.3" stroke="#1FAE82" stroke-width="0.4"/>
<circle cx="519.0" cy="870.3" r="0.8" fill="#1FAE82"/>
<text x="522.2" y="869.3" font-size="3.75" fill="#1FAE82" stroke="#1FAE82" stroke-width="0.05" textLength="14.4" lengthAdjust="spacingAndGlyphs">Indonesia</text>
<line x1="570.1" y1="866.7" x2="570.1" y2="863.5" stroke="#B0A12C" stroke-width="0.4"/>
<circle cx="570.1" cy="863.5" r="0.8" fill="#B0A12C"/>
<text x="556.7" y="869.3" font-size="3.75" fill="#B0A12C" stroke="#B0A12C" stroke-width="0.05" textLength="17.5" lengthAdjust="spacingAndGlyphs">Costa Rica</text>
<line x1="511.2" y1="867.0" x2="515.8" y2="867.0" stroke="#D6449C" stroke-width="0.4"/>
<circle cx="515.8" cy="867.0" r="0.8" fill="#D6449C"/>
<text x="501.5" y="869.6" font-size="3.75" fill="#D6449C" stroke="#D6449C" stroke-width="0.05" textLength="9.7" lengthAdjust="spacingAndGlyphs">Tonga</text>
<line x1="442.1" y1="870.0" x2="442.1" y2="873.0" stroke="#D6449C" stroke-width="0.4"/>
<circle cx="442.1" cy="873.0" r="0.8" fill="#D6449C"/>
<text x="435.3" y="870.0" font-size="3.75" fill="#D6449C" stroke="#D6449C" stroke-width="0.05" textLength="7.0" lengthAdjust="spacingAndGlyphs">Togo</text>
<line x1="470.4" y1="870.8" x2="475.0" y2="870.8" stroke="#EA4444" stroke-width="0.4"/>
<circle cx="475.0" cy="870.8" r="0.8" fill="#EA4444"/>
<text x="461.3" y="870.9" font-size="3.75" fill="#EA4444" stroke="#EA4444" stroke-width="0.05" textLength="9.1" lengthAdjust="spacingAndGlyphs">Yemen</text>
<line x1="473.5" y1="868.8" x2="470.5" y2="868.6" stroke="#B0A12C" stroke-width="0.4"/>
<circle cx="470.5" cy="868.6" r="0.8" fill="#B0A12C"/>
<text x="473.5" y="871.4" font-size="3.75" fill="#B0A12C" stroke="#B0A12C" stroke-width="0.05" textLength="13.1" lengthAdjust="spacingAndGlyphs">Djibouti</text>
<line x1="402.0" y1="870.1" x2="397.7" y2="870.1" stroke="#1EB2D2" stroke-width="0.4"/>
<circle cx="397.7" cy="870.1" r="0.8" fill="#1EB2D2"/>
<text x="402.0" y="872.1" font-size="3.75" fill="#1EB2D2" stroke="#1EB2D2" stroke-width="0.05" textLength="21.1" lengthAdjust="spacingAndGlyphs">Saudi Arabia</text>
<circle cx="384.0" cy="868.0" r="0.8" fill="#B0A12C"/>
<text x="377.2" y="873.0" font-size="3.75" fill="#B0A12C" stroke="#B0A12C" stroke-width="0.05" textLength="8.2" lengthAdjust="spacingAndGlyphs">Chad</text>
<line x1="498.0" y1="870.9" x2="501.6" y2="870.9" stroke="#1FAE82" stroke-width="0.4"/>
<circle cx="501.6" cy="870.9" r="0.8" fill="#1FAE82"/>
<text x="488.4" y="873.1" font-size="3.75" fill="#1FAE82" stroke="#1FAE82" stroke-width="0.05" textLength="9.6" lengthAdjust="spacingAndGlyphs">Kenya</text>
<line x1="565.0" y1="872.0" x2="562.6" y2="871.2" stroke="#EA4444" stroke-width="0.4"/>
<circle cx="562.6" cy="871.2" r="0.8" fill="#EA4444"/>
<text x="565.0" y="874.6" font-size="3.75" fill="#EA4444" stroke="#EA4444" stroke-width="0.05" textLength="27.2" lengthAdjust="spacingAndGlyphs">American Samoa</text>
<line x1="594.8" y1="874.2" x2="591.7" y2="874.2" stroke="#D99224" stroke-width="0.4"/>
<circle cx="591.7" cy="874.2" r="0.8" fill="#D99224"/>
<text x="594.8" y="874.6" font-size="3.75" fill="#D99224" stroke="#D99224" stroke-width="0.05" textLength="14.9" lengthAdjust="spacingAndGlyphs">Lithuania</text>
<line x1="512.4" y1="872.6" x2="512.4" y2="869.5" stroke="#2DAF63" stroke-width="0.4"/>
<circle cx="512.4" cy="869.5" r="0.8" fill="#2DAF63"/>
<text x="505.0" y="875.2" font-size="3.75" fill="#2DAF63" stroke="#2DAF63" stroke-width="0.05" textLength="27.2" lengthAdjust="spacingAndGlyphs">Dominican Republic</text>
<line x1="548.0" y1="872.6" x2="552.9" y2="871.9" stroke="#6058D4" stroke-width="0.4"/>
<circle cx="552.9" cy="871.9" r="0.8" fill="#6058D4"/>
<text x="541.0" y="875.2" font-size="3.75" fill="#6058D4" stroke="#6058D4" stroke-width="0.05" textLength="7.0" lengthAdjust="spacingAndGlyphs">Peru</text>
<circle cx="551.8" cy="872.5" r="0.8" fill="#2EA4E4"/>
<text x="553.7" y="874.9" font-size="3.75" fill="#2EA4E4" stroke="#2EA4E4" stroke-width="0.05" textLength="11.8" lengthAdjust="spacingAndGlyphs">Panama</text>
<circle cx="433.6" cy="878.1" r="0.8" fill="#1EB2D2"/>
<text x="423.9" y="875.8" font-size="3.75" fill="#1EB2D2" stroke="#1EB2D2" stroke-width="0.05" textLength="11.4" lengthAdjust="spacingAndGlyphs">Malawi</text>
<circle cx="444.1" cy="878.9" r="0.8" fill="#D6449C"/>
<text x="438.0" y="877.0" font-size="3.75" fill="#D6449C" stroke="#D6449C" stroke-width="0.05" textLength="20.1" lengthAdjust="spacingAndGlyphs">Timor-Leste</text>
<line x1="473.9" y1="874.9" x2="476.3" y2="873.8" stroke="#B0A12C" stroke-width="0.4"/>
<circle cx="476.3" cy="873.8" r="0.8" fill="#B0A12C"/>
<text x="459.0" y="877.5" font-size="3.75" fill="#B0A12C" stroke="#B0A12C" stroke-width="0.05" textLength="14.9" lengthAdjust="spacingAndGlyphs">Cambodia</text>
<line x1="377.5" y1="876.1" x2="385.0" y2="876.0" stroke="#B0A12C" stroke-width="0.4"/>
<circle cx="385.0" cy="876.0" r="0.8" fill="#B0A12C"/>
<text x="365.3" y="878.7" font-size="3.75" fill="#B0A12C" stroke="#B0A12C" stroke-width="0.05" textLength="12.2" lengthAdjust="spacingAndGlyphs">Burundi</text>
<circle cx="478.1" cy="874.2" r="0.8" fill="#EA4444"/>
<text x="477.9" y="879.3" font-size="3.75" fill="#EA4444" stroke="#EA4444" stroke-width="0.05" textLength="11.4" lengthAdjust="spacingAndGlyphs">Zambia</text>
<line x1="503.4" y1="876.7" x2="503.4" y2="873.0" stroke="#B0A12C" stroke-width="0.4"/>
<circle cx="503.4" cy="873.0" r="0.8" fill="#B0A12C"/>
<text x="497.2" y="879.3" font-size="3.75" fill="#B0A12C" stroke="#B0A12C" stroke-width="0.05" textLength="7.8" lengthAdjust="spacingAndGlyphs">Congo</text>
<line x1="607.9" y1="880.2" x2="598.0" y2="890.0" stroke="#D99224" stroke-width="0.4"/>
<circle cx="598.0" cy="890.0" r="0.8" fill="#D99224"/>
<text x="607.9" y="880.2" font-size="3.75" fill="#D99224" stroke="#D99224" stroke-width="0.05" textLength="14.9" lengthAdjust="spacingAndGlyphs">Argentina</text>
<line x1="433.6" y1="880.5" x2="438.0" y2="882.2" stroke="#B0A12C" stroke-width="0.4"/>
<circle cx="438.0" cy="882.2" r="0.8" fill="#B0A12C"/>
<text x="379.3" y="880.5" font-size="3.75" fill="#B0A12C" stroke="#B0A12C" stroke-width="0.05" textLength="54.3" lengthAdjust="spacingAndGlyphs">Democratic Republic of the Congo</text>
<line x1="565.0" y1="878.1" x2="561.8" y2="877.9" stroke="#A055C8" stroke-width="0.4"/>
<circle cx="561.8" cy="877.9" r="0.8" fill="#A055C8"/>
<text x="565.0" y="880.7" font-size="3.75" fill="#A055C8" stroke="#A055C8" stroke-width="0.05" textLength="42.0" lengthAdjust="spacingAndGlyphs">United States of America</text>
<line x1="555.8" y1="878.4" x2="558.7" y2="877.9" stroke="#A055C8" stroke-width="0.4"/>
<circle cx="558.7" cy="877.9" r="0.8" fill="#A055C8"/>
<text x="505.0" y="881.0" font-size="3.75" fill="#A055C8" stroke="#A055C8" stroke-width="0.05" textLength="50.8" lengthAdjust="spacingAndGlyphs">Saint Vincent and the Grenadines</text>
<line x1="575.1" y1="879.3" x2="580.1" y2="879.3" stroke="#A055C8" stroke-width="0.4"/>
<circle cx="580.1" cy="879.3" r="0.8" fill="#A055C8"/>
<text x="559.3" y="881.0" font-size="3.75" fill="#A055C8" stroke="#A055C8" stroke-width="0.05" textLength="15.8" lengthAdjust="spacingAndGlyphs">Seychelles</text>
<text x="441.5" y="882.8" font-size="3.75" fill="#A055C8" stroke="#A055C8" stroke-width="0.05" textLength="13.1" lengthAdjust="spacingAndGlyphs">Senegal</text>
<text x="459.9" y="884.0" font-size="3.75" fill="#D99224" stroke="#D99224" stroke-width="0.05" textLength="10.5" lengthAdjust="spacingAndGlyphs">Cyprus</text>
<text x="512.0" y="884.3" font-size="3.75" fill="#D99224" stroke="#D99224" stroke-width="0.05" textLength="7.9" lengthAdjust="spacingAndGlyphs">Bhutan</text>
<text x="471.8" y="885.2" font-size="3.75" fill="#1FAE82" stroke="#1FAE82" stroke-width="0.05" textLength="11.3" lengthAdjust="spacingAndGlyphs">Lesotho</text>
<text x="487.5" y="885.2" font-size="3.75" fill="#D6449C" stroke="#D6449C" stroke-width="0.05" textLength="8.8" lengthAdjust="spacingAndGlyphs">Sudan</text>
<text x="472.1" y="885.8" font-size="3.75" fill="#1EB2D2" stroke="#1EB2D2" stroke-width="0.05" textLength="7.9" lengthAdjust="spacingAndGlyphs">Chile</text>
<text x="537.4" y="886.1" font-size="3.75" fill="#2DAF63" stroke="#2DAF63" stroke-width="0.05" textLength="9.7" lengthAdjust="spacingAndGlyphs">Grenada</text>
<line x1="609.7" y1="886.0" x2="600.0" y2="900.0" stroke="#B0A12C" stroke-width="0.4"/>
<circle cx="600.0" cy="900.0" r="0.8" fill="#B0A12C"/>
<text x="609.7" y="886.0" font-size="3.75" fill="#B0A12C" stroke="#B0A12C" stroke-width="0.05" textLength="28.0" lengthAdjust="spacingAndGlyphs">Brunei Darussalam</text>
<line x1="638.6" y1="886.0" x2="605.0" y2="905.0" stroke="#A055C8" stroke-width="0.4"/>
<circle cx="605.0" cy="905.0" r="0.8" fill="#A055C8"/>
<text x="638.6" y="886.0" font-size="3.75" fill="#A055C8" stroke="#A055C8" stroke-width="0.05" textLength="18.4" lengthAdjust="spacingAndGlyphs">Puerto Rico</text>
<text x="577.3" y="886.8" font-size="3.75" fill="#D99224" stroke="#D99224" stroke-width="0.05" textLength="11.4" lengthAdjust="spacingAndGlyphs">Bahrain</text>
<text x="593.0" y="886.8" font-size="3.75" fill="#2DAF63" stroke="#2DAF63" stroke-width="0.05" textLength="14.0" lengthAdjust="spacingAndGlyphs">Hungary</text>
<line x1="391.5" y1="884.4" x2="396.1" y2="883.2" stroke="#B0A12C" stroke-width="0.4"/>
<circle cx="396.1" cy="883.2" r="0.8" fill="#B0A12C"/>
<text x="368.8" y="887.0" font-size="3.75" fill="#B0A12C" stroke="#B0A12C" stroke-width="0.05" textLength="22.7" lengthAdjust="spacingAndGlyphs">Burkina Faso</text>
<line x1="437.1" y1="884.0" x2="442.8" y2="882.5" stroke="#D6449C" stroke-width="0.4"/>
<circle cx="442.8" cy="882.5" r="0.8" fill="#D6449C"/>
<text x="392.4" y="886.6" font-size="3.75" fill="#D6449C" stroke="#D6449C" stroke-width="0.05" textLength="44.7" lengthAdjust="spacingAndGlyphs">United Republic of Tanzania</text>
<text x="554.1" y="887.1" font-size="3.75" fill="#D6449C" stroke="#D6449C" stroke-width="0.05" textLength="10.5" lengthAdjust="spacingAndGlyphs">Uruguay</text>
<text x="451.1" y="890.4" font-size="3.75" fill="#EA4444" stroke="#EA4444" stroke-width="0.05" textLength="12.3" lengthAdjust="spacingAndGlyphs">Vanuatu</text>
<text x="482.3" y="891.0" font-size="3.75" fill="#1EB2D2" stroke="#1EB2D2" stroke-width="0.05" textLength="35.0" lengthAdjust="spacingAndGlyphs">Marshall Islands Kiribati</text>
<line x1="627.2" y1="892.1" x2="606.0" y2="908.0" stroke="#A055C8" stroke-width="0.4"/>
<circle cx="606.0" cy="908.0" r="0.8" fill="#A055C8"/>
<text x="627.2" y="892.1" font-size="3.75" fill="#A055C8" stroke="#A055C8" stroke-width="0.05" textLength="9.6" lengthAdjust="spacingAndGlyphs">Poland</text>
<line x1="640.3" y1="892.1" x2="608.0" y2="910.0" stroke="#2EA4E4" stroke-width="0.4"/>
<circle cx="608.0" cy="910.0" r="0.8" fill="#2EA4E4"/>
<text x="640.3" y="892.1" font-size="3.75" fill="#2EA4E4" stroke="#2EA4E4" stroke-width="0.05" textLength="21.9" lengthAdjust="spacingAndGlyphs">New Zealand</text>
<text x="568.5" y="892.5" font-size="3.75" fill="#D99224" stroke="#D99224" stroke-width="0.05" textLength="14.0" lengthAdjust="spacingAndGlyphs">Montenegro</text>
<text x="586.0" y="892.5" font-size="3.75" fill="#6058D4" stroke="#6058D4" stroke-width="0.05" textLength="33.3" lengthAdjust="spacingAndGlyphs">Russian Federation</text>
<line x1="416.9" y1="892.8" x2="418.7" y2="895.0" stroke="#A055C8" stroke-width="0.4"/>
<circle cx="418.7" cy="895.0" r="0.8" fill="#A055C8"/>
<text x="396.8" y="892.8" font-size="3.75" fill="#A055C8" stroke="#A055C8" stroke-width="0.05" textLength="20.1" lengthAdjust="spacingAndGlyphs">Sierra Leone</text>
<text x="547.1" y="893.1" font-size="3.75" fill="#2DAF63" stroke="#2DAF63" stroke-width="0.05" textLength="12.2" lengthAdjust="spacingAndGlyphs">Jamaica</text>
<text x="422.2" y="893.6" font-size="3.75" fill="#1FAE82" stroke="#1FAE82" stroke-width="0.05" textLength="10.5" lengthAdjust="spacingAndGlyphs">Liberia</text>
<text x="435.3" y="892.7" font-size="3.75" fill="#D99224" stroke="#D99224" stroke-width="0.05" textLength="12.3" lengthAdjust="spacingAndGlyphs">Senegal</text>
<text x="470.0" y="895.7" font-size="3.75" fill="#6058D4" stroke="#6058D4" stroke-width="0.05" textLength="52.6" lengthAdjust="spacingAndGlyphs">Federated States of Micronesia</text>
<text x="452.9" y="896.7" font-size="3.75" fill="#D6449C" stroke="#D6449C" stroke-width="0.05" textLength="27.1" lengthAdjust="spacingAndGlyphs">Marshall Islands</text>
<text x="618.4" y="897.7" font-size="3.75" fill="#A055C8" stroke="#A055C8" stroke-width="0.05" textLength="13.2" lengthAdjust="spacingAndGlyphs">Lithuania</text>
<line x1="636.0" y1="897.7" x2="610.0" y2="912.0" stroke="#2DAF63" stroke-width="0.4"/>
<circle cx="610.0" cy="912.0" r="0.8" fill="#2DAF63"/>
<text x="636.0" y="897.7" font-size="3.75" fill="#2DAF63" stroke="#2DAF63" stroke-width="0.05" textLength="13.1" lengthAdjust="spacingAndGlyphs">Denmark</text>
<line x1="649.1" y1="898.2" x2="612.0" y2="914.0" stroke="#D6449C" stroke-width="0.4"/>
<circle cx="612.0" cy="914.0" r="0.8" fill="#D6449C"/>
<text x="649.1" y="898.2" font-size="3.75" fill="#D6449C" stroke="#D6449C" stroke-width="0.05" textLength="24.5" lengthAdjust="spacingAndGlyphs">United Kingdom</text>
<text x="581.6" y="898.2" font-size="3.75" fill="#B0A12C" stroke="#B0A12C" stroke-width="0.05" textLength="7.1" lengthAdjust="spacingAndGlyphs">Chile</text>
<text x="595.7" y="898.2" font-size="3.75" fill="#A055C8" stroke="#A055C8" stroke-width="0.05" textLength="8.7" lengthAdjust="spacingAndGlyphs">Serbia</text>
<line x1="417.8" y1="898.0" x2="420.1" y2="900.3" stroke="#2DAF63" stroke-width="0.4"/>
<circle cx="420.1" cy="900.3" r="0.8" fill="#2DAF63"/>
<text x="407.3" y="898.0" font-size="3.75" fill="#2DAF63" stroke="#2DAF63" stroke-width="0.05" textLength="10.5" lengthAdjust="spacingAndGlyphs">Guinea</text>
<text x="435.3" y="898.0" font-size="3.75" fill="#D99224" stroke="#D99224" stroke-width="0.05" textLength="8.8" lengthAdjust="spacingAndGlyphs">Benin</text>
<text x="582.5" y="904.0" font-size="3.75" fill="#A055C8" stroke="#A055C8" stroke-width="0.05" textLength="20.2" lengthAdjust="spacingAndGlyphs">Montenegro</text>
<text x="604.4" y="903.5" font-size="3.75" fill="#D6449C" stroke="#D6449C" stroke-width="0.05" textLength="7.9" lengthAdjust="spacingAndGlyphs">Malta</text>
<text x="615.8" y="903.5" font-size="3.75" fill="#A055C8" stroke="#A055C8" stroke-width="0.05" textLength="19.3" lengthAdjust="spacingAndGlyphs">North Macedonia</text>
<line x1="636.8" y1="904.0" x2="613.0" y2="916.0" stroke="#D6449C" stroke-width="0.4"/>
<circle cx="613.0" cy="916.0" r="0.8" fill="#D6449C"/>
<text x="636.8" y="904.0" font-size="3.75" fill="#D6449C" stroke="#D6449C" stroke-width="0.05" textLength="44.7" lengthAdjust="spacingAndGlyphs">United States of America</text>
<line x1="439.7" y1="901.5" x2="452.9" y2="897.5" stroke="#B0A12C" stroke-width="0.4"/>
<circle cx="452.9" cy="897.5" r="0.8" fill="#B0A12C"/>
<text x="420.4" y="904.1" font-size="3.75" fill="#B0A12C" stroke="#B0A12C" stroke-width="0.05" textLength="19.3" lengthAdjust="spacingAndGlyphs">Cote d'Ivoire</text>
<text x="453.7" y="902.7" font-size="3.75" fill="#B0A12C" stroke="#B0A12C" stroke-width="0.05" textLength="16.7" lengthAdjust="spacingAndGlyphs">Kyrgyzstan</text>
<text x="483.1" y="902.7" font-size="3.75" fill="#1FAE82" stroke="#1FAE82" stroke-width="0.05" textLength="11.4" lengthAdjust="spacingAndGlyphs">Kiribati</text>
<text x="504.2" y="902.7" font-size="3.75" fill="#2DAF63" stroke="#2DAF63" stroke-width="0.05" textLength="13.1" lengthAdjust="spacingAndGlyphs">Botswana</text>
<text x="520.8" y="902.7" font-size="3.75" fill="#2EA4E4" stroke="#2EA4E4" stroke-width="0.05" textLength="7.9" lengthAdjust="spacingAndGlyphs">Fiji</text>
<text x="530.4" y="904.5" font-size="3.75" fill="#2DAF63" stroke="#2DAF63" stroke-width="0.05" textLength="34.2" lengthAdjust="spacingAndGlyphs">Syrian Arab Republic</text>
<text x="443.2" y="909.0" font-size="3.75" fill="#2EA4E4" stroke="#2EA4E4" stroke-width="0.05" textLength="15.8" lengthAdjust="spacingAndGlyphs">Mauritius</text>
<text x="459.0" y="909.0" font-size="3.75" fill="#2EA4E4" stroke="#2EA4E4" stroke-width="0.05" textLength="21.0" lengthAdjust="spacingAndGlyphs">Turkmenistan</text>
<text x="470.0" y="909.2" font-size="3.75" fill="#D6449C" stroke="#D6449C" stroke-width="0.05" textLength="24.5" lengthAdjust="spacingAndGlyphs">United Republic</text>
<text x="494.5" y="909.2" font-size="3.75" fill="#EA4444" stroke="#EA4444" stroke-width="0.05" textLength="40.3" lengthAdjust="spacingAndGlyphs">Syrian Arab Republic</text>
<text x="541.8" y="909.7" font-size="3.75" fill="#A055C8" stroke="#A055C8" stroke-width="0.05" textLength="15.8" lengthAdjust="spacingAndGlyphs">Australia</text>
<text x="599.2" y="909.3" font-size="3.75" fill="#2DAF63" stroke="#2DAF63" stroke-width="0.05" textLength="16.6" lengthAdjust="spacingAndGlyphs">Greenland</text>
<text x="617.6" y="909.6" font-size="3.75" fill="#2EA4E4" stroke="#2EA4E4" stroke-width="0.05" textLength="17.5" lengthAdjust="spacingAndGlyphs">Luxembourg</text>
<text x="634.2" y="909.6" font-size="3.75" fill="#EA4444" stroke="#EA4444" stroke-width="0.05" textLength="21.9" lengthAdjust="spacingAndGlyphs">Cote d'Ivoire</text>
<line x1="661.4" y1="910.0" x2="614.0" y2="918.0" stroke="#2EA4E4" stroke-width="0.4"/>
<circle cx="614.0" cy="918.0" r="0.8" fill="#2EA4E4"/>
<text x="661.4" y="910.0" font-size="3.75" fill="#2EA4E4" stroke="#2EA4E4" stroke-width="0.05" textLength="20.1" lengthAdjust="spacingAndGlyphs">Netherlands</text>
<text x="577.3" y="910.5" font-size="3.75" fill="#B0A12C" stroke="#B0A12C" stroke-width="0.05" textLength="12.2" lengthAdjust="spacingAndGlyphs">Gambia</text>
<text x="568.5" y="910.5" font-size="3.75" fill="#1EB2D2" stroke="#1EB2D2" stroke-width="0.05" textLength="7.0" lengthAdjust="spacingAndGlyphs">Iraq</text>
<line x1="440.6" y1="910.6" x2="452.0" y2="905.0" stroke="#D6449C" stroke-width="0.4"/>
<circle cx="452.0" cy="905.0" r="0.8" fill="#D6449C"/>
<text x="427.4" y="913.2" font-size="3.75" fill="#D6449C" stroke="#D6449C" stroke-width="0.05" textLength="13.2" lengthAdjust="spacingAndGlyphs">Kiribati</text>
<text x="471.2" y="914.6" font-size="3.75" fill="#2EA4E4" stroke="#2EA4E4" stroke-width="0.05" textLength="8.8" lengthAdjust="spacingAndGlyphs">Myanmar</text>
<text x="470.0" y="915.0" font-size="3.75" fill="#D6449C" stroke="#D6449C" stroke-width="0.05" textLength="10.5" lengthAdjust="spacingAndGlyphs">Greece</text>
<text x="484.0" y="915.0" font-size="3.75" fill="#2EA4E4" stroke="#2EA4E4" stroke-width="0.05" textLength="10.5" lengthAdjust="spacingAndGlyphs">Namibia</text>
<text x="499.8" y="915.0" font-size="3.75" fill="#A055C8" stroke="#A055C8" stroke-width="0.05" textLength="28.0" lengthAdjust="spacingAndGlyphs">Papua New Guinea</text>
<text x="536.6" y="915.0" font-size="3.75" fill="#EA4444" stroke="#EA4444" stroke-width="0.05" textLength="10.5" lengthAdjust="spacingAndGlyphs">France</text>
<text x="547.1" y="915.8" font-size="3.75" fill="#D6449C" stroke="#D6449C" stroke-width="0.05" textLength="24.5" lengthAdjust="spacingAndGlyphs">United Kingdom</text>
<text x="579.0" y="915.8" font-size="3.75" fill="#A055C8" stroke="#A055C8" stroke-width="0.05" textLength="16.7" lengthAdjust="spacingAndGlyphs">Uzbekistan</text>
<text x="595.7" y="914.9" font-size="3.75" fill="#2DAF63" stroke="#2DAF63" stroke-width="0.05" textLength="6.1" lengthAdjust="spacingAndGlyphs">Fiji</text>
<text x="626.3" y="915.8" font-size="3.75" fill="#2DAF63" stroke="#2DAF63" stroke-width="0.05" textLength="10.5" lengthAdjust="spacingAndGlyphs">Finland</text>
<text x="637.7" y="915.8" font-size="3.75" fill="#A055C8" stroke="#A055C8" stroke-width="0.05" textLength="11.4" lengthAdjust="spacingAndGlyphs">Australia</text>
<text x="653.5" y="915.8" font-size="3.75" fill="#2DAF63" stroke="#2DAF63" stroke-width="0.05" textLength="9.6" lengthAdjust="spacingAndGlyphs">Austria</text>
<line x1="665.7" y1="916.0" x2="616.0" y2="921.0" stroke="#2DAF63" stroke-width="0.4"/>
<circle cx="616.0" cy="921.0" r="0.8" fill="#2DAF63"/>
<text x="665.7" y="916.0" font-size="3.75" fill="#2DAF63" stroke="#2DAF63" stroke-width="0.05" textLength="15.8" lengthAdjust="spacingAndGlyphs">Lithuania</text>
<text x="420.4" y="919.0" font-size="3.75" fill="#D6449C" stroke="#D6449C" stroke-width="0.05" textLength="25.4" lengthAdjust="spacingAndGlyphs">Solomon Islands</text>
<text x="470.0" y="920.7" font-size="3.75" fill="#B0A12C" stroke="#B0A12C" stroke-width="0.05" textLength="22.8" lengthAdjust="spacingAndGlyphs">Solomon Marshall</text>
<text x="430.1" y="921.3" font-size="3.75" fill="#B0A12C" stroke="#B0A12C" stroke-width="0.05" textLength="49.9" lengthAdjust="spacingAndGlyphs">Democratic Republic of Korea</text>
<text x="510.3" y="921.4" font-size="3.75" fill="#EA4444" stroke="#EA4444" stroke-width="0.05" textLength="12.3" lengthAdjust="spacingAndGlyphs">Viet Nam</text>
<text x="526.1" y="921.4" font-size="3.75" fill="#EA4444" stroke="#EA4444" stroke-width="0.05" textLength="9.6" lengthAdjust="spacingAndGlyphs">Guinea</text>
<text x="543.6" y="921.4" font-size="3.75" fill="#2DAF63" stroke="#2DAF63" stroke-width="0.05" textLength="8.7" lengthAdjust="spacingAndGlyphs">Kenya</text>
<text x="614.1" y="921.5" font-size="3.75" fill="#2DAF63" stroke="#2DAF63" stroke-width="0.05" textLength="7.0" lengthAdjust="spacingAndGlyphs">Iraq</text>
<text x="635.1" y="921.5" font-size="3.75" fill="#A055C8" stroke="#A055C8" stroke-width="0.05" textLength="24.5" lengthAdjust="spacingAndGlyphs">North Macedonia</text>
<line x1="647.3" y1="921.9" x2="618.0" y2="924.0" stroke="#2EA4E4" stroke-width="0.4"/>
<circle cx="618.0" cy="924.0" r="0.8" fill="#2EA4E4"/>
<text x="647.3" y="921.9" font-size="3.75" fill="#2EA4E4" stroke="#2EA4E4" stroke-width="0.05" textLength="23.7" lengthAdjust="spacingAndGlyphs">Republic of Korea</text>
<circle cx="380.5" cy="921.6" r="0.8" fill="#A055C8"/>
<text x="382.8" y="921.6" font-size="3.75" fill="#A055C8" stroke="#A055C8" stroke-width="0.05" textLength="36.8" lengthAdjust="spacingAndGlyphs">Sao Tome and Principe</text>
<text x="555.8" y="924.6" font-size="3.75" fill="#1EB2D2" stroke="#1EB2D2" stroke-width="0.05" textLength="12.3" lengthAdjust="spacingAndGlyphs">Indonesia</text>
<text x="470.0" y="926.7" font-size="3.75" fill="#D99224" stroke="#D99224" stroke-width="0.05" textLength="16.6" lengthAdjust="spacingAndGlyphs">Kyrgyzstan</text>
<text x="423.1" y="926.9" font-size="3.75" fill="#6058D4" stroke="#6058D4" stroke-width="0.05" textLength="30.6" lengthAdjust="spacingAndGlyphs">Papua New Guinea</text>
<text x="458.1" y="927.2" font-size="3.75" fill="#D6449C" stroke="#D6449C" stroke-width="0.05" textLength="14.0" lengthAdjust="spacingAndGlyphs">Nigeria</text>
<text x="505.9" y="927.2" font-size="3.75" fill="#EA4444" stroke="#EA4444" stroke-width="0.05" textLength="41.2" lengthAdjust="spacingAndGlyphs">Tonga Azerbaijan Armenia</text>
<line x1="622.8" y1="926.0" x2="620.0" y2="926.0" stroke="#D6449C" stroke-width="0.4"/>
<circle cx="620.0" cy="926.0" r="0.8" fill="#D6449C"/>
<text x="622.8" y="927.4" font-size="3.75" fill="#D6449C" stroke="#D6449C" stroke-width="0.05" textLength="58.7" lengthAdjust="spacingAndGlyphs">Democratic People's Republic of Korea</text>
<text x="547.1" y="929.0" font-size="3.75" fill="#D99224" stroke="#D99224" stroke-width="0.05" textLength="8.7" lengthAdjust="spacingAndGlyphs">Congo</text>
<text x="457.2" y="933.0" font-size="3.75" fill="#B0A12C" stroke="#B0A12C" stroke-width="0.05" textLength="19.3" lengthAdjust="spacingAndGlyphs">Cabo Verde</text>
<text x="470.0" y="933.4" font-size="3.75" fill="#B0A12C" stroke="#B0A12C" stroke-width="0.05" textLength="7.0" lengthAdjust="spacingAndGlyphs">Egypt</text>
<text x="480.5" y="933.4" font-size="3.75" fill="#2DAF63" stroke="#2DAF63" stroke-width="0.05" textLength="15.8" lengthAdjust="spacingAndGlyphs">Uzbekistan</text>
<text x="498.0" y="933.4" font-size="3.75" fill="#EA4444" stroke="#EA4444" stroke-width="0.05" textLength="11.4" lengthAdjust="spacingAndGlyphs">Georgia</text>
<text x="518.2" y="933.4" font-size="3.75" fill="#EA4444" stroke="#EA4444" stroke-width="0.05" textLength="14.9" lengthAdjust="spacingAndGlyphs">Philippines</text>
<text x="533.1" y="933.4" font-size="3.75" fill="#A055C8" stroke="#A055C8" stroke-width="0.05" textLength="17.5" lengthAdjust="spacingAndGlyphs">Seychelles</text>
<text x="545.3" y="934.2" font-size="3.75" fill="#1EB2D2" stroke="#1EB2D2" stroke-width="0.05" textLength="9.7" lengthAdjust="spacingAndGlyphs">Jordan</text>
<line x1="642.1" y1="931.1" x2="622.0" y2="928.0" stroke="#EA4444" stroke-width="0.4"/>
<circle cx="622.0" cy="928.0" r="0.8" fill="#EA4444"/>
<text x="642.1" y="933.7" font-size="3.75" fill="#EA4444" stroke="#EA4444" stroke-width="0.05" textLength="12.2" lengthAdjust="spacingAndGlyphs">Austria</text>
<line x1="657.0" y1="931.1" x2="622.0" y2="928.0" stroke="#B0A12C" stroke-width="0.4"/>
<circle cx="622.0" cy="928.0" r="0.8" fill="#B0A12C"/>
<text x="657.0" y="933.7" font-size="3.75" fill="#B0A12C" stroke="#B0A12C" stroke-width="0.05" textLength="13.1" lengthAdjust="spacingAndGlyphs">Malaysia</text>
<text x="596.5" y="936.7" font-size="3.75" fill="#B0A12C" stroke="#B0A12C" stroke-width="0.05" textLength="8.8" lengthAdjust="spacingAndGlyphs">Qatar</text>
<text x="473.9" y="938.8" font-size="3.75" fill="#2DAF63" stroke="#2DAF63" stroke-width="0.05" textLength="6.1" lengthAdjust="spacingAndGlyphs">Guam</text>
<text x="475.3" y="939.0" font-size="3.75" fill="#B0A12C" stroke="#B0A12C" stroke-width="0.05" textLength="9.6" lengthAdjust="spacingAndGlyphs">Egypt</text>
<text x="488.4" y="939.0" font-size="3.75" fill="#D99224" stroke="#D99224" stroke-width="0.05" textLength="29.8" lengthAdjust="spacingAndGlyphs">Cape Verde Principe</text>
<text x="517.3" y="939.0" font-size="3.75" fill="#D6449C" stroke="#D6449C" stroke-width="0.05" textLength="14.9" lengthAdjust="spacingAndGlyphs">Kyrgyzstan</text>
<text x="542.7" y="939.0" font-size="3.75" fill="#1EB2D2" stroke="#1EB2D2" stroke-width="0.05" textLength="9.6" lengthAdjust="spacingAndGlyphs">Algeria</text>
<text x="568.1" y="939.0" font-size="3.75" fill="#B0A12C" stroke="#B0A12C" stroke-width="0.05" textLength="14.0" lengthAdjust="spacingAndGlyphs">Maldives</text>
<text x="609.7" y="939.3" font-size="3.75" fill="#2DAF63" stroke="#2DAF63" stroke-width="0.05" textLength="11.4" lengthAdjust="spacingAndGlyphs">Portugal</text>
<line x1="636.0" y1="936.7" x2="624.0" y2="930.0" stroke="#2EA4E4" stroke-width="0.4"/>
<circle cx="624.0" cy="930.0" r="0.8" fill="#2EA4E4"/>
<text x="636.0" y="939.3" font-size="3.75" fill="#2EA4E4" stroke="#2EA4E4" stroke-width="0.05" textLength="11.3" lengthAdjust="spacingAndGlyphs">Iceland</text>
<line x1="653.5" y1="937.1" x2="624.0" y2="930.0" stroke="#EA4444" stroke-width="0.4"/>
<circle cx="624.0" cy="930.0" r="0.8" fill="#EA4444"/>
<text x="653.5" y="939.7" font-size="3.75" fill="#EA4444" stroke="#EA4444" stroke-width="0.05" textLength="13.1" lengthAdjust="spacingAndGlyphs">Andorra</text>
<text x="565.0" y="942.0" font-size="3.75" fill="#B0A12C" stroke="#B0A12C" stroke-width="0.05" textLength="14.0" lengthAdjust="spacingAndGlyphs">Tunisia</text>
<text x="587.8" y="942.0" font-size="3.75" fill="#2DAF63" stroke="#2DAF63" stroke-width="0.05" textLength="7.9" lengthAdjust="spacingAndGlyphs">Tonga</text>
<text x="568.1" y="942.1" font-size="3.75" fill="#B0A12C" stroke="#B0A12C" stroke-width="0.05" textLength="14.0" lengthAdjust="spacingAndGlyphs">Malaysia</text>
<text x="500.7" y="944.7" font-size="3.75" fill="#2EA4E4" stroke="#2EA4E4" stroke-width="0.05" textLength="26.2" lengthAdjust="spacingAndGlyphs">Mauritius Sri Lanka</text>
<text x="542.7" y="944.7" font-size="3.75" fill="#2DAF63" stroke="#2DAF63" stroke-width="0.05" textLength="7.9" lengthAdjust="spacingAndGlyphs">Ghana</text>
<text x="599.2" y="945.0" font-size="3.75" fill="#2DAF63" stroke="#2DAF63" stroke-width="0.05" textLength="7.8" lengthAdjust="spacingAndGlyphs">Israel</text>
<text x="614.1" y="945.0" font-size="3.75" fill="#D99224" stroke="#D99224" stroke-width="0.05" textLength="11.3" lengthAdjust="spacingAndGlyphs">Belgium</text>
<text x="629.8" y="945.0" font-size="3.75" fill="#1FAE82" stroke="#1FAE82" stroke-width="0.05" textLength="6.2" lengthAdjust="spacingAndGlyphs">Fiji</text>
<text x="640.3" y="945.0" font-size="3.75" fill="#1FAE82" stroke="#1FAE82" stroke-width="0.05" textLength="12.3" lengthAdjust="spacingAndGlyphs">Iceland</text>
<text x="556.7" y="946.5" font-size="3.75" fill="#2EA4E4" stroke="#2EA4E4" stroke-width="0.05" textLength="8.8" lengthAdjust="spacingAndGlyphs">Samoa</text>
<text x="576.0" y="947.0" font-size="3.75" fill="#2EA4E4" stroke="#2EA4E4" stroke-width="0.05" textLength="8.8" lengthAdjust="spacingAndGlyphs">Malta</text>
<text x="588.7" y="949.5" font-size="3.75" fill="#1FAE82" stroke="#1FAE82" stroke-width="0.05" textLength="6.1" lengthAdjust="spacingAndGlyphs">Togo</text>
<text x="598.3" y="949.9" font-size="3.75" fill="#1FAE82" stroke="#1FAE82" stroke-width="0.05" textLength="9.6" lengthAdjust="spacingAndGlyphs">Kuwait</text>
<text x="611.4" y="950.7" font-size="3.75" fill="#A055C8" stroke="#A055C8" stroke-width="0.05" textLength="16.7" lengthAdjust="spacingAndGlyphs">Singapore</text>
<text x="513.8" y="951.2" font-size="3.75" fill="#2EA4E4" stroke="#2EA4E4" stroke-width="0.05" textLength="30.7" lengthAdjust="spacingAndGlyphs">Maldives Lebanon</text>
<text x="547.1" y="953.0" font-size="3.75" fill="#EA4444" stroke="#EA4444" stroke-width="0.05" textLength="13.1" lengthAdjust="spacingAndGlyphs">Kiribati</text>
<text x="563.7" y="953.0" font-size="3.75" fill="#2DAF63" stroke="#2DAF63" stroke-width="0.05" textLength="12.3" lengthAdjust="spacingAndGlyphs">Greece</text>
</svg></body></html>
